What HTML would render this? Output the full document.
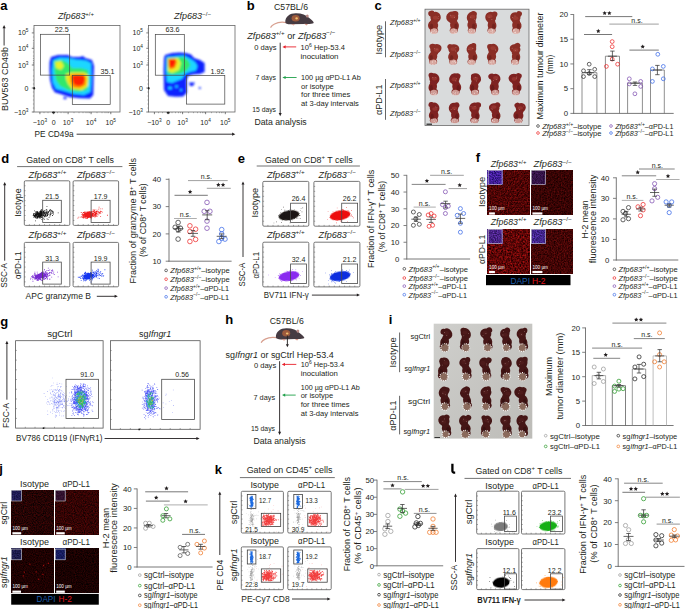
<!DOCTYPE html>
<html><head><meta charset="utf-8"><title>Figure</title>
<style>html,body{margin:0;padding:0;background:#fff;width:685px;height:609px;overflow:hidden}svg{display:block;font-family:"Liberation Sans",sans-serif}</style>
</head><body><svg width="685" height="609" viewBox="0 0 685 609" font-family="'Liberation Sans', sans-serif" fill="#231f20"><defs>
<filter id="blur1" x="-10%" y="-10%" width="120%" height="120%"><feGaussianBlur stdDeviation="1.1"/></filter>
<filter id="blur03" x="-20%" y="-20%" width="140%" height="140%"><feGaussianBlur stdDeviation="0.35"/></filter>
<filter id="blur05" x="-20%" y="-20%" width="140%" height="140%"><feGaussianBlur stdDeviation="0.6"/></filter>
<filter id="nzR1" x="0" y="0" width="100%" height="100%"><feTurbulence type="fractalNoise" baseFrequency="0.9" numOctaves="2" seed="3"/><feColorMatrix type="matrix" values="0 0 0 0 0.8  0 0 0 0 0.03  0 0 0 0 0.03  0 0 0 2.2 -0.95"/></filter>
<filter id="nzR2" x="0" y="0" width="100%" height="100%"><feTurbulence type="fractalNoise" baseFrequency="0.9" numOctaves="2" seed="7"/><feColorMatrix type="matrix" values="0 0 0 0 0.7  0 0 0 0 0.03  0 0 0 0 0.03  0 0 0 2.2 -1.05"/></filter>
<filter id="nzR3" x="0" y="0" width="100%" height="100%"><feTurbulence type="fractalNoise" baseFrequency="0.7" numOctaves="2" seed="11"/><feColorMatrix type="matrix" values="0 0 0 0 0.9  0 0 0 0 0.03  0 0 0 0 0.03  0 0 0 2.4 -0.95"/></filter>
<filter id="nzJ" x="0" y="0" width="100%" height="100%"><feTurbulence type="fractalNoise" baseFrequency="0.9" numOctaves="2" seed="5"/><feColorMatrix type="matrix" values="0 0 0 0 0.55  0 0 0 0 0.03  0 0 0 0 0.03  0 0 0 2.2 -1.1"/></filter>
<filter id="nzJ2" x="0" y="0" width="100%" height="100%"><feTurbulence type="fractalNoise" baseFrequency="0.9" numOctaves="2" seed="9"/><feColorMatrix type="matrix" values="0 0 0 0 0.6  0 0 0 0 0.03  0 0 0 0 0.03  0 0 0 2.2 -1.0"/></filter>
<filter id="nzB" x="0" y="0" width="100%" height="100%"><feTurbulence type="fractalNoise" baseFrequency="0.9" numOctaves="2" seed="2"/><feColorMatrix type="matrix" values="0 0 0 0 0.3  0 0 0 0 0.2  0 0 0 0 0.9  0 0 0 2 -1"/></filter>
<linearGradient id="gI" x1="0" y1="0" x2="1" y2="1"><stop offset="0" stop-color="#cfcfcc"/><stop offset="1" stop-color="#bdbcb8"/></linearGradient>
<filter id="mz0" x="0" y="0" width="100%" height="100%" color-interpolation-filters="sRGB"><feTurbulence type="fractalNoise" baseFrequency="0.7" numOctaves="2" seed="1"/><feColorMatrix type="matrix" values="0.73 0 0 0 -0.06  0.1 0 0 0 -0.03  0.1 0 0 0 -0.03  0 0 0 0 1"/></filter>
<filter id="mz1" x="0" y="0" width="100%" height="100%" color-interpolation-filters="sRGB"><feTurbulence type="fractalNoise" baseFrequency="0.9" numOctaves="2" seed="51"/><feColorMatrix type="matrix" values="0.6 0 0 0 -0.05  0.27 0 0 0 -0.02  0.86 0 0 0 0.16  0 0 0 0 1"/></filter>
<filter id="mz2" x="0" y="0" width="100%" height="100%" color-interpolation-filters="sRGB"><feTurbulence type="fractalNoise" baseFrequency="0.7" numOctaves="2" seed="2"/><feColorMatrix type="matrix" values="0.47 0 0 0 -0.02  0.07 0 0 0 -0.02  0.07 0 0 0 -0.02  0 0 0 0 1"/></filter>
<filter id="mz3" x="0" y="0" width="100%" height="100%" color-interpolation-filters="sRGB"><feTurbulence type="fractalNoise" baseFrequency="0.9" numOctaves="2" seed="52"/><feColorMatrix type="matrix" values="0.33 0 0 0 0.04  0.17 0 0 0 -0.01  0.4 0 0 0 0.08  0 0 0 0 1"/></filter>
<filter id="mz4" x="0" y="0" width="100%" height="100%" color-interpolation-filters="sRGB"><feTurbulence type="fractalNoise" baseFrequency="0.6" numOctaves="2" seed="3"/><feColorMatrix type="matrix" values="1 0 0 0 -0.13  0.13 0 0 0 -0.04  0.13 0 0 0 -0.04  0 0 0 0 1"/></filter>
<filter id="mz5" x="0" y="0" width="100%" height="100%" color-interpolation-filters="sRGB"><feTurbulence type="fractalNoise" baseFrequency="0.9" numOctaves="2" seed="53"/><feColorMatrix type="matrix" values="0.53 0 0 0 0.02  0.27 0 0 0 0  0.73 0 0 0 0.16  0 0 0 0 1"/></filter>
<filter id="mz6" x="0" y="0" width="100%" height="100%" color-interpolation-filters="sRGB"><feTurbulence type="fractalNoise" baseFrequency="0.7" numOctaves="2" seed="4"/><feColorMatrix type="matrix" values="0.56 0 0 0 -0.02  0.1 0 0 0 -0.03  0.1 0 0 0 -0.03  0 0 0 0 1"/></filter>
<filter id="mz7" x="0" y="0" width="100%" height="100%" color-interpolation-filters="sRGB"><feTurbulence type="fractalNoise" baseFrequency="0.9" numOctaves="2" seed="54"/><feColorMatrix type="matrix" values="0.47 0 0 0 0.02  0.27 0 0 0 0.01  0.73 0 0 0 0.18  0 0 0 0 1"/></filter>
<filter id="mz8" x="0" y="0" width="100%" height="100%" color-interpolation-filters="sRGB"><feTurbulence type="fractalNoise" baseFrequency="0.9" numOctaves="2" seed="5"/><feColorMatrix type="matrix" values="0.43 0 0 0 -0.07  0.03 0 0 0 0  0.03 0 0 0 0  0 0 0 0 1"/></filter>
<filter id="mz9" x="0" y="0" width="100%" height="100%" color-interpolation-filters="sRGB"><feTurbulence type="fractalNoise" baseFrequency="0.9" numOctaves="2" seed="55"/><feColorMatrix type="matrix" values="0.2 0 0 0 0.02  0.17 0 0 0 0.02  0.33 0 0 0 0.16  0 0 0 0 1"/></filter>
<filter id="mz10" x="0" y="0" width="100%" height="100%" color-interpolation-filters="sRGB"><feTurbulence type="fractalNoise" baseFrequency="0.9" numOctaves="2" seed="6"/><feColorMatrix type="matrix" values="0.5 0 0 0 -0.05  0.03 0 0 0 0  0.03 0 0 0 0  0 0 0 0 1"/></filter>
<filter id="mz11" x="0" y="0" width="100%" height="100%" color-interpolation-filters="sRGB"><feTurbulence type="fractalNoise" baseFrequency="0.9" numOctaves="2" seed="56"/><feColorMatrix type="matrix" values="0.2 0 0 0 0.09  0.13 0 0 0 0  0.2 0 0 0 0.08  0 0 0 0 1"/></filter>
<filter id="mz12" x="0" y="0" width="100%" height="100%" color-interpolation-filters="sRGB"><feTurbulence type="fractalNoise" baseFrequency="0.9" numOctaves="2" seed="7"/><feColorMatrix type="matrix" values="0.33 0 0 0 -0.05  0.03 0 0 0 -0.01  0.03 0 0 0 -0.01  0 0 0 0 1"/></filter>
<filter id="mz13" x="0" y="0" width="100%" height="100%" color-interpolation-filters="sRGB"><feTurbulence type="fractalNoise" baseFrequency="0.9" numOctaves="2" seed="57"/><feColorMatrix type="matrix" values="0.2 0 0 0 0.01  0.17 0 0 0 0.02  0.33 0 0 0 0.13  0 0 0 0 1"/></filter>
<filter id="mz14" x="0" y="0" width="100%" height="100%" color-interpolation-filters="sRGB"><feTurbulence type="fractalNoise" baseFrequency="0.9" numOctaves="2" seed="8"/><feColorMatrix type="matrix" values="0.3 0 0 0 -0.05  0.03 0 0 0 -0.01  0.03 0 0 0 -0.01  0 0 0 0 1"/></filter>
<filter id="mz15" x="0" y="0" width="100%" height="100%" color-interpolation-filters="sRGB"><feTurbulence type="fractalNoise" baseFrequency="0.9" numOctaves="2" seed="58"/><feColorMatrix type="matrix" values="0.2 0 0 0 -0.01  0.17 0 0 0 0.03  0.4 0 0 0 0.18  0 0 0 0 1"/></filter></defs><text x="0.3" y="10.2" font-size="13" font-weight="bold" fill="#000">a</text>
<text x="76" y="19.35" font-size="8.2" text-anchor="middle" textLength="36" lengthAdjust="spacingAndGlyphs"><tspan font-style="italic">Zfp683</tspan><tspan font-size="5.58" dy="-3.44">+/+</tspan></text>
<text x="192.5" y="19.35" font-size="8.2" text-anchor="middle" textLength="37" lengthAdjust="spacingAndGlyphs"><tspan font-style="italic">Zfp683</tspan><tspan font-size="5.58" dy="-3.44">−/−</tspan></text>
<g filter="url(#blur1)">
<path d="M51 57 L58 55 L68 55 L72 57 L80 57 L83 56 L85 58 L92 60 L94 66 L93.6 80 L93.3 95 L90 98.6 L80 98.3 L70 97.3 L62 94.5 L55 92.5 L52 88 L50 80 L49.5 70 L49.6 62 Z" fill="#0a22ff"/>
<ellipse cx="65" cy="98" rx="1.6" ry="1.2" fill="#0a22ff"/>
<path d="M53 60 L60 57.5 L68 58 L76 59.5 L86 60.5 L91 63 L91.5 78 L90.5 92 L84 95 L74 94 L64 91 L56 89 L52.5 82 L52 70 Z" fill="#1ad6ff"/>
<path d="M54 61 L62 60 L68 63 L72 68 L80 68 L88 70 L89 80 L87 90 L78 92 L68 90 L60 86 L56 80 L54.5 72 Z" fill="#33e86a"/>
<path d="M55 62 L61 61 L64 66 L61 70 L56 68 Z" fill="#e6f22a"/>
<path d="M66 74 L72 72.5 L84 72.5 L88 75 L88 86 L82 90 L72 89 L68 84 L66 79 Z" fill="#f0e81a"/>
<path d="M70 75 L76 74 L84 74.5 L86 78 L85.5 85 L80 88 L73 87.5 L70.5 82 Z" fill="#ff8a00"/>
<path d="M72 75.5 L78 75 L84.5 75.5 L85 80 L83 85 L78 86 L74 84.5 L72.5 80 Z" fill="#ff2400"/>
<path d="M165 55 Q175 51.5 186 53 L191 54.5 L194 58 L200 60 L204.6 63 L204.6 72 L200 74 L193 74.5 L188 76 L186.6 80 L186.8 93 L183 96.4 L176 96.8 L168 96 L164 90 L163.6 70 L164 58 Z" fill="#0a22ff"/>
<path d="M189 82.5 L195 82.5 L193 86 L190 86 Z" fill="#0a22ff"/>
<circle cx="199.8" cy="88" r="1.1" fill="#0a22ff"/>
<path d="M166.5 57 L184 55.5 L190 58.5 L195 62 L197.5 66 L196 70.5 L190 72 L185 74 L182 79 L178 80.5 L172 83 L167 82 L166 70 Z" fill="#1ad6ff"/>
<ellipse cx="170" cy="88" rx="2" ry="1.6" fill="#1ad6ff"/><ellipse cx="176.5" cy="86.5" rx="1.5" ry="1.3" fill="#1ad6ff"/><ellipse cx="181" cy="90" rx="1.2" ry="1" fill="#1ad6ff"/>
<path d="M167 58 L183 57 L188 60 L190.5 65 L187 70.5 L181 73.5 L174 74.5 L167.5 74 Z" fill="#33e86a"/>
<path d="M167.5 58.5 L178 58 L181 63 L179 70 L172 73 L168 71 Z" fill="#e6f22a"/>
<path d="M168.5 59 L175.5 58.8 L177 62 L175 68 L170 69.5 L168.6 66 Z" fill="#ff7a00"/>
<path d="M169.2 59.5 L175 59.6 L175.6 62 L173.8 66.5 L170 67.8 L169.3 64 Z" fill="#ff1a00"/>
</g>
<rect x="34" y="25.5" width="86" height="86.5" fill="none" stroke="#666" stroke-width="0.8"/>
<line x1="31.8" y1="32.9" x2="34" y2="32.9" stroke="#444" stroke-width="0.7"/>
<text x="28.5" y="35.42" font-size="7" text-anchor="end">10<tspan font-size="4.76" dy="-2.94">5</tspan></text>
<line x1="31.8" y1="48.3" x2="34" y2="48.3" stroke="#444" stroke-width="0.7"/>
<text x="28.5" y="50.82" font-size="7" text-anchor="end">10<tspan font-size="4.76" dy="-2.94">4</tspan></text>
<line x1="31.8" y1="65" x2="34" y2="65" stroke="#444" stroke-width="0.7"/>
<text x="28.5" y="67.52" font-size="7" text-anchor="end">10<tspan font-size="4.76" dy="-2.94">3</tspan></text>
<line x1="31.8" y1="88" x2="34" y2="88" stroke="#444" stroke-width="0.7"/>
<text x="28.5" y="90.52" font-size="7" text-anchor="end">0</text>
<line x1="31.8" y1="112" x2="34" y2="112" stroke="#444" stroke-width="0.7"/>
<text x="28.5" y="114.52" font-size="7" text-anchor="end">−10<tspan font-size="4.76" dy="-2.94">3</tspan></text>
<line x1="32.9" y1="29" x2="34" y2="29" stroke="#666" stroke-width="0.5"/>
<line x1="32.9" y1="31" x2="34" y2="31" stroke="#666" stroke-width="0.5"/>
<line x1="32.9" y1="37" x2="34" y2="37" stroke="#666" stroke-width="0.5"/>
<line x1="32.9" y1="40.5" x2="34" y2="40.5" stroke="#666" stroke-width="0.5"/>
<line x1="32.9" y1="43" x2="34" y2="43" stroke="#666" stroke-width="0.5"/>
<line x1="32.9" y1="45" x2="34" y2="45" stroke="#666" stroke-width="0.5"/>
<line x1="32.9" y1="46.8" x2="34" y2="46.8" stroke="#666" stroke-width="0.5"/>
<line x1="32.9" y1="52" x2="34" y2="52" stroke="#666" stroke-width="0.5"/>
<line x1="32.9" y1="56" x2="34" y2="56" stroke="#666" stroke-width="0.5"/>
<line x1="32.9" y1="58.5" x2="34" y2="58.5" stroke="#666" stroke-width="0.5"/>
<line x1="32.9" y1="60.5" x2="34" y2="60.5" stroke="#666" stroke-width="0.5"/>
<line x1="32.9" y1="62.5" x2="34" y2="62.5" stroke="#666" stroke-width="0.5"/>
<line x1="32.9" y1="63.8" x2="34" y2="63.8" stroke="#666" stroke-width="0.5"/>
<line x1="32.9" y1="70" x2="34" y2="70" stroke="#666" stroke-width="0.5"/>
<line x1="32.9" y1="76" x2="34" y2="76" stroke="#666" stroke-width="0.5"/>
<line x1="32.9" y1="80" x2="34" y2="80" stroke="#666" stroke-width="0.5"/>
<line x1="32.9" y1="84" x2="34" y2="84" stroke="#666" stroke-width="0.5"/>
<line x1="32.9" y1="92" x2="34" y2="92" stroke="#666" stroke-width="0.5"/>
<line x1="32.9" y1="96" x2="34" y2="96" stroke="#666" stroke-width="0.5"/>
<line x1="32.9" y1="100" x2="34" y2="100" stroke="#666" stroke-width="0.5"/>
<line x1="32.9" y1="104" x2="34" y2="104" stroke="#666" stroke-width="0.5"/>
<line x1="32.9" y1="108" x2="34" y2="108" stroke="#666" stroke-width="0.5"/>
<line x1="39.9" y1="112" x2="39.9" y2="114.2" stroke="#444" stroke-width="0.7"/>
<text x="39.9" y="124.52" font-size="7" text-anchor="middle">−10<tspan font-size="4.76" dy="-2.94">3</tspan></text>
<line x1="53.6" y1="112" x2="53.6" y2="114.2" stroke="#444" stroke-width="0.7"/>
<text x="53.6" y="124.52" font-size="7" text-anchor="middle">0</text>
<line x1="68.1" y1="112" x2="68.1" y2="114.2" stroke="#444" stroke-width="0.7"/>
<text x="68.1" y="124.52" font-size="7" text-anchor="middle">10<tspan font-size="4.76" dy="-2.94">3</tspan></text>
<line x1="91.1" y1="112" x2="91.1" y2="114.2" stroke="#444" stroke-width="0.7"/>
<text x="91.1" y="124.52" font-size="7" text-anchor="middle">10<tspan font-size="4.76" dy="-2.94">4</tspan></text>
<line x1="110.8" y1="112" x2="110.8" y2="114.2" stroke="#444" stroke-width="0.7"/>
<text x="110.8" y="124.52" font-size="7" text-anchor="middle">10<tspan font-size="4.76" dy="-2.94">5</tspan></text>
<line x1="44" y1="112" x2="44" y2="113.2" stroke="#666" stroke-width="0.5"/>
<line x1="48" y1="112" x2="48" y2="113.2" stroke="#666" stroke-width="0.5"/>
<line x1="57.5" y1="112" x2="57.5" y2="113.2" stroke="#666" stroke-width="0.5"/>
<line x1="61" y1="112" x2="61" y2="113.2" stroke="#666" stroke-width="0.5"/>
<line x1="64" y1="112" x2="64" y2="113.2" stroke="#666" stroke-width="0.5"/>
<line x1="66" y1="112" x2="66" y2="113.2" stroke="#666" stroke-width="0.5"/>
<line x1="74" y1="112" x2="74" y2="113.2" stroke="#666" stroke-width="0.5"/>
<line x1="79" y1="112" x2="79" y2="113.2" stroke="#666" stroke-width="0.5"/>
<line x1="83" y1="112" x2="83" y2="113.2" stroke="#666" stroke-width="0.5"/>
<line x1="86" y1="112" x2="86" y2="113.2" stroke="#666" stroke-width="0.5"/>
<line x1="88" y1="112" x2="88" y2="113.2" stroke="#666" stroke-width="0.5"/>
<line x1="89.6" y1="112" x2="89.6" y2="113.2" stroke="#666" stroke-width="0.5"/>
<line x1="97" y1="112" x2="97" y2="113.2" stroke="#666" stroke-width="0.5"/>
<line x1="102" y1="112" x2="102" y2="113.2" stroke="#666" stroke-width="0.5"/>
<line x1="105" y1="112" x2="105" y2="113.2" stroke="#666" stroke-width="0.5"/>
<line x1="107" y1="112" x2="107" y2="113.2" stroke="#666" stroke-width="0.5"/>
<line x1="108.5" y1="112" x2="108.5" y2="113.2" stroke="#666" stroke-width="0.5"/>
<rect x="148.5" y="25.5" width="86.5" height="86.5" fill="none" stroke="#666" stroke-width="0.8"/>
<line x1="146.3" y1="32.9" x2="148.5" y2="32.9" stroke="#444" stroke-width="0.7"/>
<text x="143" y="35.42" font-size="7" text-anchor="end">10<tspan font-size="4.76" dy="-2.94">5</tspan></text>
<line x1="146.3" y1="48.3" x2="148.5" y2="48.3" stroke="#444" stroke-width="0.7"/>
<text x="143" y="50.82" font-size="7" text-anchor="end">10<tspan font-size="4.76" dy="-2.94">4</tspan></text>
<line x1="146.3" y1="65" x2="148.5" y2="65" stroke="#444" stroke-width="0.7"/>
<text x="143" y="67.52" font-size="7" text-anchor="end">10<tspan font-size="4.76" dy="-2.94">3</tspan></text>
<line x1="146.3" y1="88" x2="148.5" y2="88" stroke="#444" stroke-width="0.7"/>
<text x="143" y="90.52" font-size="7" text-anchor="end">0</text>
<line x1="146.3" y1="112" x2="148.5" y2="112" stroke="#444" stroke-width="0.7"/>
<text x="143" y="114.52" font-size="7" text-anchor="end">−10<tspan font-size="4.76" dy="-2.94">3</tspan></text>
<line x1="147.4" y1="29" x2="148.5" y2="29" stroke="#666" stroke-width="0.5"/>
<line x1="147.4" y1="31" x2="148.5" y2="31" stroke="#666" stroke-width="0.5"/>
<line x1="147.4" y1="37" x2="148.5" y2="37" stroke="#666" stroke-width="0.5"/>
<line x1="147.4" y1="40.5" x2="148.5" y2="40.5" stroke="#666" stroke-width="0.5"/>
<line x1="147.4" y1="43" x2="148.5" y2="43" stroke="#666" stroke-width="0.5"/>
<line x1="147.4" y1="45" x2="148.5" y2="45" stroke="#666" stroke-width="0.5"/>
<line x1="147.4" y1="46.8" x2="148.5" y2="46.8" stroke="#666" stroke-width="0.5"/>
<line x1="147.4" y1="52" x2="148.5" y2="52" stroke="#666" stroke-width="0.5"/>
<line x1="147.4" y1="56" x2="148.5" y2="56" stroke="#666" stroke-width="0.5"/>
<line x1="147.4" y1="58.5" x2="148.5" y2="58.5" stroke="#666" stroke-width="0.5"/>
<line x1="147.4" y1="60.5" x2="148.5" y2="60.5" stroke="#666" stroke-width="0.5"/>
<line x1="147.4" y1="62.5" x2="148.5" y2="62.5" stroke="#666" stroke-width="0.5"/>
<line x1="147.4" y1="63.8" x2="148.5" y2="63.8" stroke="#666" stroke-width="0.5"/>
<line x1="147.4" y1="70" x2="148.5" y2="70" stroke="#666" stroke-width="0.5"/>
<line x1="147.4" y1="76" x2="148.5" y2="76" stroke="#666" stroke-width="0.5"/>
<line x1="147.4" y1="80" x2="148.5" y2="80" stroke="#666" stroke-width="0.5"/>
<line x1="147.4" y1="84" x2="148.5" y2="84" stroke="#666" stroke-width="0.5"/>
<line x1="147.4" y1="92" x2="148.5" y2="92" stroke="#666" stroke-width="0.5"/>
<line x1="147.4" y1="96" x2="148.5" y2="96" stroke="#666" stroke-width="0.5"/>
<line x1="147.4" y1="100" x2="148.5" y2="100" stroke="#666" stroke-width="0.5"/>
<line x1="147.4" y1="104" x2="148.5" y2="104" stroke="#666" stroke-width="0.5"/>
<line x1="147.4" y1="108" x2="148.5" y2="108" stroke="#666" stroke-width="0.5"/>
<line x1="154.4" y1="112" x2="154.4" y2="114.2" stroke="#444" stroke-width="0.7"/>
<text x="154.4" y="124.52" font-size="7" text-anchor="middle">−10<tspan font-size="4.76" dy="-2.94">3</tspan></text>
<line x1="168.1" y1="112" x2="168.1" y2="114.2" stroke="#444" stroke-width="0.7"/>
<text x="168.1" y="124.52" font-size="7" text-anchor="middle">0</text>
<line x1="182.6" y1="112" x2="182.6" y2="114.2" stroke="#444" stroke-width="0.7"/>
<text x="182.6" y="124.52" font-size="7" text-anchor="middle">10<tspan font-size="4.76" dy="-2.94">3</tspan></text>
<line x1="205.6" y1="112" x2="205.6" y2="114.2" stroke="#444" stroke-width="0.7"/>
<text x="205.6" y="124.52" font-size="7" text-anchor="middle">10<tspan font-size="4.76" dy="-2.94">4</tspan></text>
<line x1="225.3" y1="112" x2="225.3" y2="114.2" stroke="#444" stroke-width="0.7"/>
<text x="225.3" y="124.52" font-size="7" text-anchor="middle">10<tspan font-size="4.76" dy="-2.94">5</tspan></text>
<line x1="158.5" y1="112" x2="158.5" y2="113.2" stroke="#666" stroke-width="0.5"/>
<line x1="162.5" y1="112" x2="162.5" y2="113.2" stroke="#666" stroke-width="0.5"/>
<line x1="172" y1="112" x2="172" y2="113.2" stroke="#666" stroke-width="0.5"/>
<line x1="175.5" y1="112" x2="175.5" y2="113.2" stroke="#666" stroke-width="0.5"/>
<line x1="178.5" y1="112" x2="178.5" y2="113.2" stroke="#666" stroke-width="0.5"/>
<line x1="180.5" y1="112" x2="180.5" y2="113.2" stroke="#666" stroke-width="0.5"/>
<line x1="188.5" y1="112" x2="188.5" y2="113.2" stroke="#666" stroke-width="0.5"/>
<line x1="193.5" y1="112" x2="193.5" y2="113.2" stroke="#666" stroke-width="0.5"/>
<line x1="197.5" y1="112" x2="197.5" y2="113.2" stroke="#666" stroke-width="0.5"/>
<line x1="200.5" y1="112" x2="200.5" y2="113.2" stroke="#666" stroke-width="0.5"/>
<line x1="202.5" y1="112" x2="202.5" y2="113.2" stroke="#666" stroke-width="0.5"/>
<line x1="204.1" y1="112" x2="204.1" y2="113.2" stroke="#666" stroke-width="0.5"/>
<line x1="211.5" y1="112" x2="211.5" y2="113.2" stroke="#666" stroke-width="0.5"/>
<line x1="216.5" y1="112" x2="216.5" y2="113.2" stroke="#666" stroke-width="0.5"/>
<line x1="219.5" y1="112" x2="219.5" y2="113.2" stroke="#666" stroke-width="0.5"/>
<line x1="221.5" y1="112" x2="221.5" y2="113.2" stroke="#666" stroke-width="0.5"/>
<line x1="223" y1="112" x2="223" y2="113.2" stroke="#666" stroke-width="0.5"/>
<ellipse cx="53.5" cy="112.6" rx="1.6" ry="1" fill="#222"/>
<ellipse cx="168.2" cy="112.8" rx="1.6" ry="1" fill="#222"/>
<ellipse cx="34.2" cy="88.3" rx="0.9" ry="1.3" fill="#222"/>
<ellipse cx="148.7" cy="88.3" rx="0.9" ry="1.3" fill="#222"/>
<rect x="40.4" y="34.3" width="29.3" height="40.8" fill="none" stroke="#444" stroke-width="0.7"/>
<rect x="72.3" y="75.4" width="37.9" height="29" fill="none" stroke="#444" stroke-width="0.7"/>
<rect x="155.3" y="34.5" width="29" height="40.7" fill="none" stroke="#444" stroke-width="0.7"/>
<rect x="186.6" y="75.4" width="38.2" height="28.7" fill="none" stroke="#444" stroke-width="0.7"/>
<text x="61.7" y="32.49" font-size="7.2" text-anchor="middle">22.5</text>
<text x="107.5" y="74.19" font-size="7.2" text-anchor="middle">35.1</text>
<text x="172.6" y="32.49" font-size="7.2" text-anchor="middle">63.6</text>
<text x="217.5" y="73.89" font-size="7.2" text-anchor="middle">1.92</text>
<text transform="translate(7.84 79.1) rotate(-90)" font-size="9" text-anchor="middle" textLength="64" lengthAdjust="spacingAndGlyphs">BUV563 CD49b</text>
<line x1="4.1" y1="45.5" x2="4.1" y2="27.56" stroke="#231f20" stroke-width="0.9"/>
<path d="M4.1 25 L2.5 28.2 L5.7 28.2 Z" fill="#231f20"/>
<text x="34.6" y="137.02" font-size="8.4" textLength="39" lengthAdjust="spacingAndGlyphs">PE CD49a</text>
<line x1="76.6" y1="134.2" x2="232.74" y2="134.2" stroke="#231f20" stroke-width="0.9"/>
<path d="M235.3 134.2 L232.1 132.6 L232.1 135.8 Z" fill="#231f20"/>
<text x="246.8" y="9.8" font-size="13" font-weight="bold" fill="#000">b</text>
<text x="291" y="10.35" font-size="8.2" text-anchor="middle" textLength="34" lengthAdjust="spacingAndGlyphs">C57BL/6</text>
<g transform="translate(0 0)">
<path d="M286.5 22.6 C282 21.8 277.5 22.4 274.5 24 C272.5 25 271.2 26.2 270.8 27.2" fill="none" stroke="#d8a090" stroke-width="1.3" stroke-linecap="round"/>
<path d="M285.3 22.2 C285 16.5 290 13.1 296 13.2 C302 13.3 306 15 309 17.8 C311 19.3 313.4 21.3 313.8 22.9 C312 24 308.5 24.1 305 23.9 L291 24.3 C287.5 24.4 285.5 23.6 285.3 22.2 Z" fill="#463b42"/>
<ellipse cx="307.3" cy="16" rx="1.4" ry="1.6" fill="#b98a86"/>
<ellipse cx="295.6" cy="18.2" rx="4" ry="3.2" fill="#9c5a3c"/>
<ellipse cx="296.6" cy="18.4" rx="1.3" ry="1.1" fill="#f0c070"/>
<path d="M291 24 L293.5 25.6 L295 24.2 Z" fill="#d9998a"/>
<path d="M304 23.8 L306.5 25.4 L308 24 Z" fill="#d9998a"/>
</g>
<text x="247.3" y="38.81" font-size="9.2" textLength="88" lengthAdjust="spacingAndGlyphs"><tspan font-style="italic">Zfp683</tspan><tspan font-size="6.26" dy="-3.86">+/+</tspan><tspan dy="3.86"> or </tspan><tspan font-style="italic">Zfp683</tspan><tspan font-size="6.26" dy="-3.86">−/−</tspan></text>
<line x1="280.2" y1="42.7" x2="280.2" y2="113.74" stroke="#231f20" stroke-width="0.9"/>
<path d="M280.2 116.3 L278.7 113.1 L281.7 113.1 Z" fill="#231f20"/>
<text x="276.5" y="50.26" font-size="7.4" text-anchor="end" textLength="22.3" lengthAdjust="spacingAndGlyphs">0 days</text>
<line x1="296.2" y1="46.9" x2="284.96" y2="46.9" stroke="#e8202a" stroke-width="0.9"/>
<path d="M282.4 46.9 L285.6 45.3 L285.6 48.5 Z" fill="#e8202a"/>
<text x="300.5" y="49.96" font-size="7.4" textLength="44.5" lengthAdjust="spacingAndGlyphs">10<tspan font-size="5.03" dy="-3.11">6</tspan><tspan dy="3.11"> Hep-53.4</tspan></text>
<text x="300.5" y="58.96" font-size="7.4" textLength="38" lengthAdjust="spacingAndGlyphs">inoculation</text>
<text x="275.9" y="80.16" font-size="7.4" text-anchor="end" textLength="20.5" lengthAdjust="spacingAndGlyphs">7 days</text>
<line x1="296.6" y1="77.5" x2="284.96" y2="77.5" stroke="#1fa04a" stroke-width="0.9"/>
<path d="M282.4 77.5 L285.6 75.9 L285.6 79.1 Z" fill="#1fa04a"/>
<text x="301" y="80.16" font-size="7.4" textLength="59.7" lengthAdjust="spacingAndGlyphs">100 µg αPD-L1 Ab</text>
<text x="301" y="88.76" font-size="7.4" textLength="32.8" lengthAdjust="spacingAndGlyphs">or isotype</text>
<text x="301" y="97.36" font-size="7.4" textLength="49.3" lengthAdjust="spacingAndGlyphs">for three times</text>
<text x="301" y="105.96" font-size="7.4" textLength="57.9" lengthAdjust="spacingAndGlyphs">at 3-day intervals</text>
<text x="276" y="112.36" font-size="7.4" text-anchor="end" textLength="23.8" lengthAdjust="spacingAndGlyphs">15 days</text>
<text x="254.5" y="125.01" font-size="9.2" textLength="52.2" lengthAdjust="spacingAndGlyphs">Data analysis</text>
<text x="374.5" y="9.8" font-size="13" font-weight="bold" fill="#000">c</text>
<rect x="425" y="9.2" width="104" height="116.2" fill="#d9dbdc" stroke="#6a6a6a" stroke-width="0.8"/>
<g filter="url(#blur03)">
<ellipse cx="435.57" cy="17.24" rx="5.22" ry="5.4" fill="#8a2e28" transform="rotate(-16.23 435.57 17.24)"/>
<ellipse cx="431.47" cy="13.58" rx="3.24" ry="2.88" fill="#8a2e28" transform="rotate(-14.44 431.47 13.58)"/>
<ellipse cx="433.07" cy="25.4" rx="5.09" ry="5.28" fill="#8a2e28" transform="rotate(14.41 433.07 25.4)"/>
<ellipse cx="434.32" cy="21.32" rx="3.78" ry="2.4" fill="#8a2e28"/>
<ellipse cx="434.08" cy="30.44" rx="4.05" ry="3.12" fill="#8a2e28"/>
</g>
<ellipse cx="434.08" cy="31.16" rx="3.65" ry="2.88" fill="#f2d0c8" opacity="0.75" filter="url(#blur05)"/>
<circle cx="433.94" cy="31.76" r="0.4" fill="#fff6f4" opacity="0.9"/>
<circle cx="432" cy="31.74" r="0.4" fill="#fff6f4" opacity="0.9"/>
<circle cx="436.26" cy="31.26" r="0.4" fill="#fff6f4" opacity="0.9"/>
<circle cx="435.51" cy="31.9" r="0.4" fill="#fff6f4" opacity="0.9"/>
<circle cx="431.49" cy="32.28" r="0.4" fill="#fff6f4" opacity="0.9"/>
<circle cx="434.62" cy="30.3" r="0.4" fill="#fff6f4" opacity="0.9"/>
<circle cx="431.29" cy="32.74" r="0.4" fill="#fff6f4" opacity="0.9"/>
<ellipse cx="435.51" cy="17.77" rx="2.7" ry="1.92" fill="#b04a40" opacity="0.45" filter="url(#blur05)"/>
<ellipse cx="431.57" cy="26.4" rx="1.62" ry="2.88" fill="#5e1a18" opacity="0.5" filter="url(#blur05)"/>
<circle cx="438.13" cy="18.27" r="0.35" fill="#f0d8d0" opacity="0.8"/>
<circle cx="438.41" cy="16.74" r="0.35" fill="#f0d8d0" opacity="0.8"/>
<g filter="url(#blur03)">
<ellipse cx="452.21" cy="17.24" rx="6.01" ry="5.73" fill="#8a2e28" transform="rotate(7.92 452.21 17.24)"/>
<ellipse cx="455.05" cy="13.91" rx="3.34" ry="2.88" fill="#8a2e28" transform="rotate(-3.83 455.05 13.91)"/>
<ellipse cx="454.5" cy="25.4" rx="4.39" ry="5.28" fill="#8a2e28" transform="rotate(-14.86 454.5 25.4)"/>
<ellipse cx="453.36" cy="21.32" rx="3.78" ry="2.4" fill="#8a2e28"/>
<ellipse cx="453.77" cy="30.44" rx="4.05" ry="3.12" fill="#8a2e28"/>
</g>
<ellipse cx="453.77" cy="31.16" rx="3.65" ry="2.88" fill="#f2d0c8" opacity="0.75" filter="url(#blur05)"/>
<circle cx="452.88" cy="31.53" r="0.4" fill="#fff6f4" opacity="0.9"/>
<circle cx="454.27" cy="32.91" r="0.4" fill="#fff6f4" opacity="0.9"/>
<circle cx="454.85" cy="33.01" r="0.4" fill="#fff6f4" opacity="0.9"/>
<circle cx="455.88" cy="33.28" r="0.4" fill="#fff6f4" opacity="0.9"/>
<circle cx="454.78" cy="29.7" r="0.4" fill="#fff6f4" opacity="0.9"/>
<circle cx="455.91" cy="33.17" r="0.4" fill="#fff6f4" opacity="0.9"/>
<circle cx="456.17" cy="31.46" r="0.4" fill="#fff6f4" opacity="0.9"/>
<ellipse cx="452.72" cy="16.55" rx="2.7" ry="1.92" fill="#b04a40" opacity="0.45" filter="url(#blur05)"/>
<ellipse cx="456" cy="26.4" rx="1.62" ry="2.88" fill="#5e1a18" opacity="0.5" filter="url(#blur05)"/>
<circle cx="454.45" cy="17.59" r="0.35" fill="#f0d8d0" opacity="0.8"/>
<circle cx="450.76" cy="15.14" r="0.35" fill="#f0d8d0" opacity="0.8"/>
<g filter="url(#blur03)">
<ellipse cx="471.68" cy="17.24" rx="4.82" ry="5.64" fill="#8a2e28" transform="rotate(17.31 471.68 17.24)"/>
<ellipse cx="473.67" cy="14.03" rx="3.19" ry="2.88" fill="#8a2e28" transform="rotate(22.37 473.67 14.03)"/>
<ellipse cx="472.17" cy="25.4" rx="4.7" ry="5.28" fill="#8a2e28" transform="rotate(-24.1 472.17 25.4)"/>
<ellipse cx="471.93" cy="21.32" rx="3.78" ry="2.4" fill="#8a2e28"/>
<ellipse cx="471.83" cy="30.44" rx="4.05" ry="3.12" fill="#8a2e28"/>
</g>
<ellipse cx="471.83" cy="31.16" rx="3.65" ry="2.88" fill="#f2d0c8" opacity="0.75" filter="url(#blur05)"/>
<circle cx="470.83" cy="32.81" r="0.4" fill="#fff6f4" opacity="0.9"/>
<circle cx="474.69" cy="31.18" r="0.4" fill="#fff6f4" opacity="0.9"/>
<circle cx="474.79" cy="30.34" r="0.4" fill="#fff6f4" opacity="0.9"/>
<circle cx="469.32" cy="31.59" r="0.4" fill="#fff6f4" opacity="0.9"/>
<circle cx="469.05" cy="29.85" r="0.4" fill="#fff6f4" opacity="0.9"/>
<circle cx="471.29" cy="31.64" r="0.4" fill="#fff6f4" opacity="0.9"/>
<circle cx="469.79" cy="29.18" r="0.4" fill="#fff6f4" opacity="0.9"/>
<ellipse cx="472.57" cy="16.79" rx="2.7" ry="1.92" fill="#b04a40" opacity="0.45" filter="url(#blur05)"/>
<ellipse cx="473.67" cy="26.4" rx="1.62" ry="2.88" fill="#5e1a18" opacity="0.5" filter="url(#blur05)"/>
<circle cx="474.78" cy="19.14" r="0.35" fill="#f0d8d0" opacity="0.8"/>
<circle cx="470.86" cy="17.05" r="0.35" fill="#f0d8d0" opacity="0.8"/>
<g filter="url(#blur03)">
<ellipse cx="490.73" cy="17.24" rx="5.53" ry="5.35" fill="#8a2e28" transform="rotate(23.6 490.73 17.24)"/>
<ellipse cx="494.53" cy="14.37" rx="2.91" ry="2.88" fill="#8a2e28" transform="rotate(13.22 494.53 14.37)"/>
<ellipse cx="492.08" cy="25.4" rx="4.39" ry="5.28" fill="#8a2e28" transform="rotate(-5.44 492.08 25.4)"/>
<ellipse cx="491.41" cy="21.32" rx="3.78" ry="2.4" fill="#8a2e28"/>
<ellipse cx="491.51" cy="30.44" rx="4.05" ry="3.12" fill="#8a2e28"/>
</g>
<ellipse cx="491.51" cy="31.16" rx="3.65" ry="2.88" fill="#f2d0c8" opacity="0.75" filter="url(#blur05)"/>
<circle cx="491.79" cy="29.05" r="0.4" fill="#fff6f4" opacity="0.9"/>
<circle cx="491" cy="31.51" r="0.4" fill="#fff6f4" opacity="0.9"/>
<circle cx="488.65" cy="31.66" r="0.4" fill="#fff6f4" opacity="0.9"/>
<circle cx="492.29" cy="29.26" r="0.4" fill="#fff6f4" opacity="0.9"/>
<circle cx="492.26" cy="31.01" r="0.4" fill="#fff6f4" opacity="0.9"/>
<circle cx="492.57" cy="30.52" r="0.4" fill="#fff6f4" opacity="0.9"/>
<circle cx="492.73" cy="32.19" r="0.4" fill="#fff6f4" opacity="0.9"/>
<ellipse cx="489.58" cy="16.19" rx="2.7" ry="1.92" fill="#b04a40" opacity="0.45" filter="url(#blur05)"/>
<ellipse cx="493.58" cy="26.4" rx="1.62" ry="2.88" fill="#5e1a18" opacity="0.5" filter="url(#blur05)"/>
<circle cx="491.92" cy="19.46" r="0.35" fill="#f0d8d0" opacity="0.8"/>
<circle cx="489.05" cy="17.03" r="0.35" fill="#f0d8d0" opacity="0.8"/>
<g filter="url(#blur03)">
<ellipse cx="515.31" cy="17.24" rx="5.21" ry="5.06" fill="#8a2e28" transform="rotate(16.07 515.31 17.24)"/>
<ellipse cx="519.08" cy="14.04" rx="2.87" ry="2.88" fill="#8a2e28" transform="rotate(16.34 519.08 14.04)"/>
<ellipse cx="516.84" cy="25.4" rx="4.66" ry="5.28" fill="#8a2e28" transform="rotate(-10.3 516.84 25.4)"/>
<ellipse cx="516.08" cy="21.32" rx="3.78" ry="2.4" fill="#8a2e28"/>
<ellipse cx="516.02" cy="30.44" rx="4.05" ry="3.12" fill="#8a2e28"/>
</g>
<ellipse cx="516.02" cy="31.16" rx="3.65" ry="2.88" fill="#f2d0c8" opacity="0.75" filter="url(#blur05)"/>
<circle cx="514.37" cy="32.47" r="0.4" fill="#fff6f4" opacity="0.9"/>
<circle cx="514.46" cy="29.81" r="0.4" fill="#fff6f4" opacity="0.9"/>
<circle cx="515.63" cy="32.02" r="0.4" fill="#fff6f4" opacity="0.9"/>
<circle cx="513.65" cy="30.39" r="0.4" fill="#fff6f4" opacity="0.9"/>
<circle cx="515.03" cy="32.6" r="0.4" fill="#fff6f4" opacity="0.9"/>
<circle cx="515.65" cy="32.7" r="0.4" fill="#fff6f4" opacity="0.9"/>
<circle cx="514.05" cy="30.45" r="0.4" fill="#fff6f4" opacity="0.9"/>
<ellipse cx="515.67" cy="18.16" rx="2.7" ry="1.92" fill="#b04a40" opacity="0.45" filter="url(#blur05)"/>
<ellipse cx="518.34" cy="26.4" rx="1.62" ry="2.88" fill="#5e1a18" opacity="0.5" filter="url(#blur05)"/>
<circle cx="514.98" cy="15.92" r="0.35" fill="#f0d8d0" opacity="0.8"/>
<circle cx="512.75" cy="17.38" r="0.35" fill="#f0d8d0" opacity="0.8"/>
<g filter="url(#blur03)">
<ellipse cx="435.89" cy="48.98" rx="5.87" ry="4.68" fill="#8a2e28" transform="rotate(-26.64 435.89 48.98)"/>
<ellipse cx="432.56" cy="46.45" rx="3.22" ry="2.76" fill="#8a2e28" transform="rotate(-9.28 432.56 46.45)"/>
<ellipse cx="432.81" cy="56.8" rx="4.38" ry="5.06" fill="#8a2e28" transform="rotate(20.88 432.81 56.8)"/>
<ellipse cx="434.35" cy="52.89" rx="3.78" ry="2.3" fill="#8a2e28"/>
<ellipse cx="433.13" cy="61.63" rx="4.05" ry="2.99" fill="#8a2e28"/>
</g>
<ellipse cx="433.13" cy="62.32" rx="3.65" ry="2.76" fill="#f2d0c8" opacity="0.75" filter="url(#blur05)"/>
<circle cx="432.22" cy="61.98" r="0.4" fill="#fff6f4" opacity="0.9"/>
<circle cx="432.66" cy="61.95" r="0.4" fill="#fff6f4" opacity="0.9"/>
<circle cx="435.63" cy="60.9" r="0.4" fill="#fff6f4" opacity="0.9"/>
<circle cx="430.19" cy="64.16" r="0.4" fill="#fff6f4" opacity="0.9"/>
<circle cx="435.39" cy="64.34" r="0.4" fill="#fff6f4" opacity="0.9"/>
<circle cx="432.74" cy="64.18" r="0.4" fill="#fff6f4" opacity="0.9"/>
<circle cx="435.67" cy="61.17" r="0.4" fill="#fff6f4" opacity="0.9"/>
<ellipse cx="436.48" cy="49.79" rx="2.7" ry="1.84" fill="#b04a40" opacity="0.45" filter="url(#blur05)"/>
<ellipse cx="431.31" cy="57.8" rx="1.62" ry="2.76" fill="#5e1a18" opacity="0.5" filter="url(#blur05)"/>
<circle cx="436.99" cy="49.07" r="0.35" fill="#f0d8d0" opacity="0.8"/>
<circle cx="434.47" cy="48.25" r="0.35" fill="#f0d8d0" opacity="0.8"/>
<g filter="url(#blur03)">
<ellipse cx="453.81" cy="48.98" rx="5.52" ry="4.8" fill="#8a2e28" transform="rotate(-10.69 453.81 48.98)"/>
<ellipse cx="450.44" cy="46.87" rx="3.12" ry="2.76" fill="#8a2e28" transform="rotate(25.43 450.44 46.87)"/>
<ellipse cx="453.13" cy="56.8" rx="4.99" ry="5.06" fill="#8a2e28" transform="rotate(16.54 453.13 56.8)"/>
<ellipse cx="453.47" cy="52.89" rx="3.78" ry="2.3" fill="#8a2e28"/>
<ellipse cx="453.15" cy="61.63" rx="4.05" ry="2.99" fill="#8a2e28"/>
</g>
<ellipse cx="453.15" cy="62.32" rx="3.65" ry="2.76" fill="#f2d0c8" opacity="0.75" filter="url(#blur05)"/>
<circle cx="454.61" cy="60.96" r="0.4" fill="#fff6f4" opacity="0.9"/>
<circle cx="451.96" cy="62.99" r="0.4" fill="#fff6f4" opacity="0.9"/>
<circle cx="453.3" cy="61.96" r="0.4" fill="#fff6f4" opacity="0.9"/>
<circle cx="455.76" cy="62.78" r="0.4" fill="#fff6f4" opacity="0.9"/>
<circle cx="452.21" cy="61.3" r="0.4" fill="#fff6f4" opacity="0.9"/>
<circle cx="455.3" cy="62.23" r="0.4" fill="#fff6f4" opacity="0.9"/>
<circle cx="454.83" cy="61.71" r="0.4" fill="#fff6f4" opacity="0.9"/>
<ellipse cx="453.08" cy="49.06" rx="2.7" ry="1.84" fill="#b04a40" opacity="0.45" filter="url(#blur05)"/>
<ellipse cx="451.63" cy="57.8" rx="1.62" ry="2.76" fill="#5e1a18" opacity="0.5" filter="url(#blur05)"/>
<circle cx="455.95" cy="47.47" r="0.35" fill="#f0d8d0" opacity="0.8"/>
<circle cx="455.78" cy="50.92" r="0.35" fill="#f0d8d0" opacity="0.8"/>
<g filter="url(#blur03)">
<ellipse cx="471.42" cy="48.98" rx="4.71" ry="5.21" fill="#8a2e28" transform="rotate(30.88 471.42 48.98)"/>
<ellipse cx="473.51" cy="45.85" rx="2.78" ry="2.76" fill="#8a2e28" transform="rotate(1.64 473.51 45.85)"/>
<ellipse cx="472.78" cy="56.8" rx="4.56" ry="5.06" fill="#8a2e28" transform="rotate(-9.47 472.78 56.8)"/>
<ellipse cx="472.1" cy="52.89" rx="3.78" ry="2.3" fill="#8a2e28"/>
<ellipse cx="471.58" cy="61.63" rx="4.05" ry="2.99" fill="#8a2e28"/>
</g>
<ellipse cx="471.58" cy="62.32" rx="3.65" ry="2.76" fill="#f2d0c8" opacity="0.75" filter="url(#blur05)"/>
<circle cx="468.93" cy="60.78" r="0.4" fill="#fff6f4" opacity="0.9"/>
<circle cx="469.35" cy="60.53" r="0.4" fill="#fff6f4" opacity="0.9"/>
<circle cx="474.4" cy="63.79" r="0.4" fill="#fff6f4" opacity="0.9"/>
<circle cx="469.12" cy="62.33" r="0.4" fill="#fff6f4" opacity="0.9"/>
<circle cx="470.49" cy="61.55" r="0.4" fill="#fff6f4" opacity="0.9"/>
<circle cx="470.7" cy="62.93" r="0.4" fill="#fff6f4" opacity="0.9"/>
<circle cx="472.09" cy="61.74" r="0.4" fill="#fff6f4" opacity="0.9"/>
<ellipse cx="470.68" cy="48.57" rx="2.7" ry="1.84" fill="#b04a40" opacity="0.45" filter="url(#blur05)"/>
<ellipse cx="474.28" cy="57.8" rx="1.62" ry="2.76" fill="#5e1a18" opacity="0.5" filter="url(#blur05)"/>
<circle cx="468.88" cy="49.24" r="0.35" fill="#f0d8d0" opacity="0.8"/>
<circle cx="472.88" cy="48.43" r="0.35" fill="#f0d8d0" opacity="0.8"/>
<g filter="url(#blur03)">
<ellipse cx="493.19" cy="48.98" rx="5.22" ry="5.19" fill="#8a2e28" transform="rotate(-11.52 493.19 48.98)"/>
<ellipse cx="490.18" cy="46.7" rx="3.07" ry="2.76" fill="#8a2e28" transform="rotate(-4.1 490.18 46.7)"/>
<ellipse cx="491.5" cy="56.8" rx="4.59" ry="5.06" fill="#8a2e28" transform="rotate(19.06 491.5 56.8)"/>
<ellipse cx="492.34" cy="52.89" rx="3.78" ry="2.3" fill="#8a2e28"/>
<ellipse cx="492" cy="61.63" rx="4.05" ry="2.99" fill="#8a2e28"/>
</g>
<ellipse cx="492" cy="62.32" rx="3.65" ry="2.76" fill="#f2d0c8" opacity="0.75" filter="url(#blur05)"/>
<circle cx="493.15" cy="62.16" r="0.4" fill="#fff6f4" opacity="0.9"/>
<circle cx="490.49" cy="62.47" r="0.4" fill="#fff6f4" opacity="0.9"/>
<circle cx="493.16" cy="60.55" r="0.4" fill="#fff6f4" opacity="0.9"/>
<circle cx="491.55" cy="62.01" r="0.4" fill="#fff6f4" opacity="0.9"/>
<circle cx="494.26" cy="64.13" r="0.4" fill="#fff6f4" opacity="0.9"/>
<circle cx="491.25" cy="63.97" r="0.4" fill="#fff6f4" opacity="0.9"/>
<circle cx="493.73" cy="61.34" r="0.4" fill="#fff6f4" opacity="0.9"/>
<ellipse cx="493.1" cy="48.08" rx="2.7" ry="1.84" fill="#b04a40" opacity="0.45" filter="url(#blur05)"/>
<ellipse cx="490" cy="57.8" rx="1.62" ry="2.76" fill="#5e1a18" opacity="0.5" filter="url(#blur05)"/>
<circle cx="495.3" cy="49.73" r="0.35" fill="#f0d8d0" opacity="0.8"/>
<circle cx="495.8" cy="50.33" r="0.35" fill="#f0d8d0" opacity="0.8"/>
<g filter="url(#blur03)">
<ellipse cx="515.07" cy="48.98" rx="5.49" ry="4.58" fill="#8a2e28" transform="rotate(22.63 515.07 48.98)"/>
<ellipse cx="517.24" cy="45.65" rx="3.19" ry="2.76" fill="#8a2e28" transform="rotate(-27.34 517.24 45.65)"/>
<ellipse cx="516.05" cy="56.8" rx="4.19" ry="5.06" fill="#8a2e28" transform="rotate(-7.39 516.05 56.8)"/>
<ellipse cx="515.56" cy="52.89" rx="3.78" ry="2.3" fill="#8a2e28"/>
<ellipse cx="515.06" cy="61.63" rx="4.05" ry="2.99" fill="#8a2e28"/>
</g>
<ellipse cx="515.06" cy="62.32" rx="3.65" ry="2.76" fill="#f2d0c8" opacity="0.75" filter="url(#blur05)"/>
<circle cx="512.23" cy="63.73" r="0.4" fill="#fff6f4" opacity="0.9"/>
<circle cx="512.81" cy="63.74" r="0.4" fill="#fff6f4" opacity="0.9"/>
<circle cx="516.09" cy="63.71" r="0.4" fill="#fff6f4" opacity="0.9"/>
<circle cx="517.75" cy="62.65" r="0.4" fill="#fff6f4" opacity="0.9"/>
<circle cx="516.84" cy="60.4" r="0.4" fill="#fff6f4" opacity="0.9"/>
<circle cx="516.65" cy="62.37" r="0.4" fill="#fff6f4" opacity="0.9"/>
<circle cx="516.34" cy="60.69" r="0.4" fill="#fff6f4" opacity="0.9"/>
<ellipse cx="515.67" cy="50.02" rx="2.7" ry="1.84" fill="#b04a40" opacity="0.45" filter="url(#blur05)"/>
<ellipse cx="517.55" cy="57.8" rx="1.62" ry="2.76" fill="#5e1a18" opacity="0.5" filter="url(#blur05)"/>
<circle cx="512.11" cy="48.17" r="0.35" fill="#f0d8d0" opacity="0.8"/>
<circle cx="515.51" cy="50.49" r="0.35" fill="#f0d8d0" opacity="0.8"/>
<g filter="url(#blur03)">
<ellipse cx="434.39" cy="78.74" rx="5.05" ry="5.42" fill="#7e2420" transform="rotate(-12.39 434.39 78.74)"/>
<ellipse cx="431.4" cy="75.65" rx="2.89" ry="2.88" fill="#7e2420" transform="rotate(-8.98 431.4 75.65)"/>
<ellipse cx="432.77" cy="86.9" rx="4.17" ry="5.28" fill="#7e2420" transform="rotate(15.01 432.77 86.9)"/>
<ellipse cx="433.58" cy="82.82" rx="3.78" ry="2.4" fill="#7e2420"/>
<ellipse cx="433.94" cy="91.94" rx="4.05" ry="3.12" fill="#7e2420"/>
</g>
<ellipse cx="433.94" cy="92.66" rx="3.65" ry="2.88" fill="#e8c0b8" opacity="0.75" filter="url(#blur05)"/>
<circle cx="433.42" cy="93.73" r="0.4" fill="#fff6f4" opacity="0.9"/>
<circle cx="431.92" cy="93.48" r="0.4" fill="#fff6f4" opacity="0.9"/>
<circle cx="435.46" cy="93.41" r="0.4" fill="#fff6f4" opacity="0.9"/>
<circle cx="434.04" cy="92.59" r="0.4" fill="#fff6f4" opacity="0.9"/>
<circle cx="434.79" cy="94.38" r="0.4" fill="#fff6f4" opacity="0.9"/>
<circle cx="431.85" cy="90.91" r="0.4" fill="#fff6f4" opacity="0.9"/>
<circle cx="435.41" cy="94.46" r="0.4" fill="#fff6f4" opacity="0.9"/>
<ellipse cx="434.43" cy="78.6" rx="2.7" ry="1.92" fill="#b04a40" opacity="0.45" filter="url(#blur05)"/>
<ellipse cx="431.27" cy="87.9" rx="1.62" ry="2.88" fill="#561414" opacity="0.5" filter="url(#blur05)"/>
<circle cx="435.87" cy="77.23" r="0.35" fill="#f0d8d0" opacity="0.8"/>
<circle cx="432.82" cy="77.3" r="0.35" fill="#f0d8d0" opacity="0.8"/>
<g filter="url(#blur03)">
<ellipse cx="454.3" cy="78.74" rx="5.03" ry="5.51" fill="#7e2420" transform="rotate(33.6 454.3 78.74)"/>
<ellipse cx="457.6" cy="76.19" rx="2.9" ry="2.88" fill="#7e2420" transform="rotate(21.22 457.6 76.19)"/>
<ellipse cx="456.74" cy="86.9" rx="4.36" ry="5.28" fill="#7e2420" transform="rotate(-20.65 456.74 86.9)"/>
<ellipse cx="455.52" cy="82.82" rx="3.78" ry="2.4" fill="#7e2420"/>
<ellipse cx="455.56" cy="91.94" rx="4.05" ry="3.12" fill="#7e2420"/>
</g>
<ellipse cx="455.56" cy="92.66" rx="3.65" ry="2.88" fill="#e8c0b8" opacity="0.75" filter="url(#blur05)"/>
<circle cx="455.44" cy="92.15" r="0.4" fill="#fff6f4" opacity="0.9"/>
<circle cx="453.62" cy="92.06" r="0.4" fill="#fff6f4" opacity="0.9"/>
<circle cx="454.51" cy="93.84" r="0.4" fill="#fff6f4" opacity="0.9"/>
<circle cx="453.45" cy="94.78" r="0.4" fill="#fff6f4" opacity="0.9"/>
<circle cx="455.44" cy="93.09" r="0.4" fill="#fff6f4" opacity="0.9"/>
<circle cx="455.37" cy="94.11" r="0.4" fill="#fff6f4" opacity="0.9"/>
<circle cx="457.47" cy="92.91" r="0.4" fill="#fff6f4" opacity="0.9"/>
<ellipse cx="454.26" cy="79.27" rx="2.7" ry="1.92" fill="#b04a40" opacity="0.45" filter="url(#blur05)"/>
<ellipse cx="458.24" cy="87.9" rx="1.62" ry="2.88" fill="#561414" opacity="0.5" filter="url(#blur05)"/>
<circle cx="456.71" cy="78.26" r="0.35" fill="#f0d8d0" opacity="0.8"/>
<circle cx="455.88" cy="80.95" r="0.35" fill="#f0d8d0" opacity="0.8"/>
<g filter="url(#blur03)">
<ellipse cx="475.97" cy="78.74" rx="5.03" ry="5.54" fill="#7e2420" transform="rotate(-14.74 475.97 78.74)"/>
<ellipse cx="473.8" cy="76.43" rx="2.76" ry="2.88" fill="#7e2420" transform="rotate(-18.62 473.8 76.43)"/>
<ellipse cx="474.01" cy="86.9" rx="4.28" ry="5.28" fill="#7e2420" transform="rotate(19.09 474.01 86.9)"/>
<ellipse cx="474.99" cy="82.82" rx="3.78" ry="2.4" fill="#7e2420"/>
<ellipse cx="475.04" cy="91.94" rx="4.05" ry="3.12" fill="#7e2420"/>
</g>
<ellipse cx="475.04" cy="92.66" rx="3.65" ry="2.88" fill="#e8c0b8" opacity="0.75" filter="url(#blur05)"/>
<circle cx="477.42" cy="91.6" r="0.4" fill="#fff6f4" opacity="0.9"/>
<circle cx="477.21" cy="91.85" r="0.4" fill="#fff6f4" opacity="0.9"/>
<circle cx="474.59" cy="93.65" r="0.4" fill="#fff6f4" opacity="0.9"/>
<circle cx="472.58" cy="90.9" r="0.4" fill="#fff6f4" opacity="0.9"/>
<circle cx="477.03" cy="91.76" r="0.4" fill="#fff6f4" opacity="0.9"/>
<circle cx="474.19" cy="93.01" r="0.4" fill="#fff6f4" opacity="0.9"/>
<circle cx="476.09" cy="90.53" r="0.4" fill="#fff6f4" opacity="0.9"/>
<ellipse cx="475.57" cy="78.59" rx="2.7" ry="1.92" fill="#b04a40" opacity="0.45" filter="url(#blur05)"/>
<ellipse cx="472.51" cy="87.9" rx="1.62" ry="2.88" fill="#561414" opacity="0.5" filter="url(#blur05)"/>
<circle cx="475.87" cy="77.35" r="0.35" fill="#f0d8d0" opacity="0.8"/>
<circle cx="476.54" cy="80.93" r="0.35" fill="#f0d8d0" opacity="0.8"/>
<g filter="url(#blur03)">
<ellipse cx="495.57" cy="78.74" rx="4.87" ry="5.01" fill="#7e2420" transform="rotate(-15.04 495.57 78.74)"/>
<ellipse cx="491.55" cy="76.48" rx="3.3" ry="2.88" fill="#7e2420" transform="rotate(-24.19 491.55 76.48)"/>
<ellipse cx="494.21" cy="86.9" rx="4.46" ry="5.28" fill="#7e2420" transform="rotate(20.45 494.21 86.9)"/>
<ellipse cx="494.89" cy="82.82" rx="3.78" ry="2.4" fill="#7e2420"/>
<ellipse cx="495.11" cy="91.94" rx="4.05" ry="3.12" fill="#7e2420"/>
</g>
<ellipse cx="495.11" cy="92.66" rx="3.65" ry="2.88" fill="#e8c0b8" opacity="0.75" filter="url(#blur05)"/>
<circle cx="493.9" cy="93.42" r="0.4" fill="#fff6f4" opacity="0.9"/>
<circle cx="496.03" cy="93.98" r="0.4" fill="#fff6f4" opacity="0.9"/>
<circle cx="493.72" cy="93.76" r="0.4" fill="#fff6f4" opacity="0.9"/>
<circle cx="497.86" cy="93.41" r="0.4" fill="#fff6f4" opacity="0.9"/>
<circle cx="495.33" cy="90.99" r="0.4" fill="#fff6f4" opacity="0.9"/>
<circle cx="495.08" cy="92.02" r="0.4" fill="#fff6f4" opacity="0.9"/>
<circle cx="496.41" cy="93.43" r="0.4" fill="#fff6f4" opacity="0.9"/>
<ellipse cx="495.73" cy="77.98" rx="2.7" ry="1.92" fill="#b04a40" opacity="0.45" filter="url(#blur05)"/>
<ellipse cx="492.71" cy="87.9" rx="1.62" ry="2.88" fill="#561414" opacity="0.5" filter="url(#blur05)"/>
<circle cx="496.55" cy="79.37" r="0.35" fill="#f0d8d0" opacity="0.8"/>
<circle cx="493.4" cy="80.61" r="0.35" fill="#f0d8d0" opacity="0.8"/>
<g filter="url(#blur03)">
<ellipse cx="514.5" cy="78.74" rx="6" ry="4.85" fill="#7e2420" transform="rotate(14.95 514.5 78.74)"/>
<ellipse cx="518.78" cy="76.02" rx="3.01" ry="2.88" fill="#7e2420" transform="rotate(8.85 518.78 76.02)"/>
<ellipse cx="517.03" cy="86.9" rx="4.4" ry="5.28" fill="#7e2420" transform="rotate(-21.47 517.03 86.9)"/>
<ellipse cx="515.76" cy="82.82" rx="3.78" ry="2.4" fill="#7e2420"/>
<ellipse cx="515.91" cy="91.94" rx="4.05" ry="3.12" fill="#7e2420"/>
</g>
<ellipse cx="515.91" cy="92.66" rx="3.65" ry="2.88" fill="#e8c0b8" opacity="0.75" filter="url(#blur05)"/>
<circle cx="517.2" cy="93.76" r="0.4" fill="#fff6f4" opacity="0.9"/>
<circle cx="516.17" cy="93.7" r="0.4" fill="#fff6f4" opacity="0.9"/>
<circle cx="515.08" cy="91.65" r="0.4" fill="#fff6f4" opacity="0.9"/>
<circle cx="515.22" cy="94.27" r="0.4" fill="#fff6f4" opacity="0.9"/>
<circle cx="513.19" cy="92.68" r="0.4" fill="#fff6f4" opacity="0.9"/>
<circle cx="514.41" cy="93.82" r="0.4" fill="#fff6f4" opacity="0.9"/>
<circle cx="515.05" cy="91.94" r="0.4" fill="#fff6f4" opacity="0.9"/>
<ellipse cx="514.27" cy="78.84" rx="2.7" ry="1.92" fill="#b04a40" opacity="0.45" filter="url(#blur05)"/>
<ellipse cx="518.53" cy="87.9" rx="1.62" ry="2.88" fill="#561414" opacity="0.5" filter="url(#blur05)"/>
<circle cx="516.33" cy="78.03" r="0.35" fill="#f0d8d0" opacity="0.8"/>
<circle cx="516.84" cy="76.88" r="0.35" fill="#f0d8d0" opacity="0.8"/>
<g filter="url(#blur03)">
<ellipse cx="434.56" cy="107.82" rx="4.86" ry="5.26" fill="#7e2420" transform="rotate(-13.18 434.56 107.82)"/>
<ellipse cx="431.37" cy="104.64" rx="2.9" ry="2.69" fill="#7e2420" transform="rotate(14.6 431.37 104.64)"/>
<ellipse cx="433.71" cy="115.44" rx="4.84" ry="4.93" fill="#7e2420" transform="rotate(16.84 433.71 115.44)"/>
<ellipse cx="434.13" cy="111.63" rx="3.78" ry="2.24" fill="#7e2420"/>
<ellipse cx="433.88" cy="120.14" rx="4.05" ry="2.91" fill="#7e2420"/>
</g>
<ellipse cx="433.88" cy="120.82" rx="3.65" ry="2.69" fill="#e8c0b8" opacity="0.75" filter="url(#blur05)"/>
<circle cx="433.28" cy="119.58" r="0.4" fill="#fff6f4" opacity="0.9"/>
<circle cx="434.04" cy="121.09" r="0.4" fill="#fff6f4" opacity="0.9"/>
<circle cx="432.11" cy="119.81" r="0.4" fill="#fff6f4" opacity="0.9"/>
<circle cx="435.55" cy="118.92" r="0.4" fill="#fff6f4" opacity="0.9"/>
<circle cx="435.68" cy="122.39" r="0.4" fill="#fff6f4" opacity="0.9"/>
<circle cx="436.55" cy="120.34" r="0.4" fill="#fff6f4" opacity="0.9"/>
<circle cx="434.19" cy="121.15" r="0.4" fill="#fff6f4" opacity="0.9"/>
<ellipse cx="434.88" cy="108.97" rx="2.7" ry="1.79" fill="#b04a40" opacity="0.45" filter="url(#blur05)"/>
<ellipse cx="432.21" cy="116.44" rx="1.62" ry="2.69" fill="#561414" opacity="0.5" filter="url(#blur05)"/>
<circle cx="435.82" cy="106.93" r="0.35" fill="#f0d8d0" opacity="0.8"/>
<circle cx="436.99" cy="107.75" r="0.35" fill="#f0d8d0" opacity="0.8"/>
<g filter="url(#blur03)">
<ellipse cx="453.56" cy="107.82" rx="4.7" ry="5.25" fill="#7e2420" transform="rotate(24.86 453.56 107.82)"/>
<ellipse cx="456.52" cy="105.17" rx="2.94" ry="2.69" fill="#7e2420" transform="rotate(-18.39 456.52 105.17)"/>
<ellipse cx="455.25" cy="115.44" rx="4.13" ry="4.93" fill="#7e2420" transform="rotate(-14.99 455.25 115.44)"/>
<ellipse cx="454.41" cy="111.63" rx="3.78" ry="2.24" fill="#7e2420"/>
<ellipse cx="454.82" cy="120.14" rx="4.05" ry="2.91" fill="#7e2420"/>
</g>
<ellipse cx="454.82" cy="120.82" rx="3.65" ry="2.69" fill="#e8c0b8" opacity="0.75" filter="url(#blur05)"/>
<circle cx="454.49" cy="121.08" r="0.4" fill="#fff6f4" opacity="0.9"/>
<circle cx="457.55" cy="122.4" r="0.4" fill="#fff6f4" opacity="0.9"/>
<circle cx="452.66" cy="121.99" r="0.4" fill="#fff6f4" opacity="0.9"/>
<circle cx="455.55" cy="119" r="0.4" fill="#fff6f4" opacity="0.9"/>
<circle cx="453.99" cy="119.74" r="0.4" fill="#fff6f4" opacity="0.9"/>
<circle cx="452.31" cy="120.97" r="0.4" fill="#fff6f4" opacity="0.9"/>
<circle cx="457.38" cy="120.1" r="0.4" fill="#fff6f4" opacity="0.9"/>
<ellipse cx="454.45" cy="108.29" rx="2.7" ry="1.79" fill="#b04a40" opacity="0.45" filter="url(#blur05)"/>
<ellipse cx="456.75" cy="116.44" rx="1.62" ry="2.69" fill="#561414" opacity="0.5" filter="url(#blur05)"/>
<circle cx="451.09" cy="109.43" r="0.35" fill="#f0d8d0" opacity="0.8"/>
<circle cx="454.25" cy="109.74" r="0.35" fill="#f0d8d0" opacity="0.8"/>
<g filter="url(#blur03)">
<ellipse cx="474.38" cy="107.82" rx="5.18" ry="5.3" fill="#7e2420" transform="rotate(32.95 474.38 107.82)"/>
<ellipse cx="477.91" cy="105.04" rx="3.18" ry="2.69" fill="#7e2420" transform="rotate(-0.9 477.91 105.04)"/>
<ellipse cx="475.37" cy="115.44" rx="4.13" ry="4.93" fill="#7e2420" transform="rotate(-23.44 475.37 115.44)"/>
<ellipse cx="474.88" cy="111.63" rx="3.78" ry="2.24" fill="#7e2420"/>
<ellipse cx="474.41" cy="120.14" rx="4.05" ry="2.91" fill="#7e2420"/>
</g>
<ellipse cx="474.41" cy="120.82" rx="3.65" ry="2.69" fill="#e8c0b8" opacity="0.75" filter="url(#blur05)"/>
<circle cx="472.4" cy="120.8" r="0.4" fill="#fff6f4" opacity="0.9"/>
<circle cx="475.6" cy="120.97" r="0.4" fill="#fff6f4" opacity="0.9"/>
<circle cx="473.95" cy="121.42" r="0.4" fill="#fff6f4" opacity="0.9"/>
<circle cx="473.25" cy="120.67" r="0.4" fill="#fff6f4" opacity="0.9"/>
<circle cx="475.94" cy="120.42" r="0.4" fill="#fff6f4" opacity="0.9"/>
<circle cx="472.52" cy="122.43" r="0.4" fill="#fff6f4" opacity="0.9"/>
<circle cx="475.72" cy="120.28" r="0.4" fill="#fff6f4" opacity="0.9"/>
<ellipse cx="474.07" cy="107.89" rx="2.7" ry="1.79" fill="#b04a40" opacity="0.45" filter="url(#blur05)"/>
<ellipse cx="476.87" cy="116.44" rx="1.62" ry="2.69" fill="#561414" opacity="0.5" filter="url(#blur05)"/>
<circle cx="475.03" cy="106.59" r="0.35" fill="#f0d8d0" opacity="0.8"/>
<circle cx="471.03" cy="106.52" r="0.35" fill="#f0d8d0" opacity="0.8"/>
<g filter="url(#blur03)">
<ellipse cx="494.23" cy="107.82" rx="5.34" ry="4.56" fill="#7e2420" transform="rotate(11.28 494.23 107.82)"/>
<ellipse cx="497.6" cy="104.98" rx="2.7" ry="2.69" fill="#7e2420" transform="rotate(-28.35 497.6 104.98)"/>
<ellipse cx="496.18" cy="115.44" rx="4.26" ry="4.93" fill="#7e2420" transform="rotate(-15.19 496.18 115.44)"/>
<ellipse cx="495.2" cy="111.63" rx="3.78" ry="2.24" fill="#7e2420"/>
<ellipse cx="495.05" cy="120.14" rx="4.05" ry="2.91" fill="#7e2420"/>
</g>
<ellipse cx="495.05" cy="120.82" rx="3.65" ry="2.69" fill="#e8c0b8" opacity="0.75" filter="url(#blur05)"/>
<circle cx="492.21" cy="120.61" r="0.4" fill="#fff6f4" opacity="0.9"/>
<circle cx="494.5" cy="121.64" r="0.4" fill="#fff6f4" opacity="0.9"/>
<circle cx="492.38" cy="120.43" r="0.4" fill="#fff6f4" opacity="0.9"/>
<circle cx="494.43" cy="118.91" r="0.4" fill="#fff6f4" opacity="0.9"/>
<circle cx="497.81" cy="119.68" r="0.4" fill="#fff6f4" opacity="0.9"/>
<circle cx="492.64" cy="120.71" r="0.4" fill="#fff6f4" opacity="0.9"/>
<circle cx="493.06" cy="121.31" r="0.4" fill="#fff6f4" opacity="0.9"/>
<ellipse cx="493.86" cy="106.92" rx="2.7" ry="1.79" fill="#b04a40" opacity="0.45" filter="url(#blur05)"/>
<ellipse cx="497.68" cy="116.44" rx="1.62" ry="2.69" fill="#561414" opacity="0.5" filter="url(#blur05)"/>
<circle cx="491.2" cy="108.84" r="0.35" fill="#f0d8d0" opacity="0.8"/>
<circle cx="492.71" cy="109.11" r="0.35" fill="#f0d8d0" opacity="0.8"/>
<g filter="url(#blur03)">
<ellipse cx="520.79" cy="107.82" rx="5.12" ry="4.63" fill="#7e2420" transform="rotate(-27.03 520.79 107.82)"/>
<ellipse cx="517.27" cy="105.34" rx="2.85" ry="2.69" fill="#7e2420" transform="rotate(-24.38 517.27 105.34)"/>
<ellipse cx="518.39" cy="115.44" rx="5.06" ry="4.93" fill="#7e2420" transform="rotate(16.85 518.39 115.44)"/>
<ellipse cx="519.59" cy="111.63" rx="3.78" ry="2.24" fill="#7e2420"/>
<ellipse cx="518.4" cy="120.14" rx="4.05" ry="2.91" fill="#7e2420"/>
</g>
<ellipse cx="518.4" cy="120.82" rx="3.65" ry="2.69" fill="#e8c0b8" opacity="0.75" filter="url(#blur05)"/>
<circle cx="515.61" cy="119.17" r="0.4" fill="#fff6f4" opacity="0.9"/>
<circle cx="516.44" cy="118.95" r="0.4" fill="#fff6f4" opacity="0.9"/>
<circle cx="515.75" cy="121.44" r="0.4" fill="#fff6f4" opacity="0.9"/>
<circle cx="520.77" cy="119.61" r="0.4" fill="#fff6f4" opacity="0.9"/>
<circle cx="521.21" cy="120.72" r="0.4" fill="#fff6f4" opacity="0.9"/>
<circle cx="520.2" cy="122.5" r="0.4" fill="#fff6f4" opacity="0.9"/>
<circle cx="521.01" cy="118.94" r="0.4" fill="#fff6f4" opacity="0.9"/>
<ellipse cx="520.32" cy="108.08" rx="2.7" ry="1.79" fill="#b04a40" opacity="0.45" filter="url(#blur05)"/>
<ellipse cx="516.89" cy="116.44" rx="1.62" ry="2.69" fill="#561414" opacity="0.5" filter="url(#blur05)"/>
<circle cx="523.81" cy="105.98" r="0.35" fill="#f0d8d0" opacity="0.8"/>
<circle cx="519.4" cy="109.39" r="0.35" fill="#f0d8d0" opacity="0.8"/>
<rect x="426.5" y="123.6" width="5.5" height="1.2" fill="#222"/>
<text transform="translate(381.97 39.7) rotate(-90)" font-size="8.8" text-anchor="middle" textLength="29.7" lengthAdjust="spacingAndGlyphs">Isotype</text>
<text transform="translate(381.97 99.7) rotate(-90)" font-size="8.8" text-anchor="middle" textLength="30.6" lengthAdjust="spacingAndGlyphs">αPD-L1</text>
<line x1="385.5" y1="21.3" x2="385.5" y2="57.3" stroke="#333" stroke-width="0.75"/>
<line x1="385.5" y1="79" x2="385.5" y2="119.8" stroke="#333" stroke-width="0.75"/>
<text x="390.1" y="25.14" font-size="7.6" textLength="30.5" lengthAdjust="spacingAndGlyphs"><tspan font-style="italic">Zfp683</tspan><tspan font-size="5.17" dy="-3.19">+/+</tspan></text>
<text x="390.1" y="56.74" font-size="7.6" textLength="30.5" lengthAdjust="spacingAndGlyphs"><tspan font-style="italic">Zfp683</tspan><tspan font-size="5.17" dy="-3.19">−/−</tspan></text>
<text x="390.1" y="88.24" font-size="7.6" textLength="30.5" lengthAdjust="spacingAndGlyphs"><tspan font-style="italic">Zfp683</tspan><tspan font-size="5.17" dy="-3.19">+/+</tspan></text>
<text x="390.1" y="116.44" font-size="7.6" textLength="30.5" lengthAdjust="spacingAndGlyphs"><tspan font-style="italic">Zfp683</tspan><tspan font-size="5.17" dy="-3.19">−/−</tspan></text>
<line x1="573.7" y1="14.1" x2="573.7" y2="113.85" stroke="#6a6a6a" stroke-width="0.9"/>
<line x1="573.25" y1="113.4" x2="673.7" y2="113.4" stroke="#6a6a6a" stroke-width="0.9"/>
<line x1="570.4" y1="113.4" x2="573.7" y2="113.4" stroke="#6a6a6a" stroke-width="0.85"/>
<text x="568.2" y="116.21" font-size="7.8" text-anchor="end">0</text>
<line x1="570.4" y1="88.68" x2="573.7" y2="88.68" stroke="#6a6a6a" stroke-width="0.85"/>
<text x="568.2" y="91.48" font-size="7.8" text-anchor="end">5</text>
<line x1="570.4" y1="63.95" x2="573.7" y2="63.95" stroke="#6a6a6a" stroke-width="0.85"/>
<text x="568.2" y="66.76" font-size="7.8" text-anchor="end">10</text>
<line x1="570.4" y1="39.23" x2="573.7" y2="39.23" stroke="#6a6a6a" stroke-width="0.85"/>
<text x="568.2" y="42.03" font-size="7.8" text-anchor="end">15</text>
<line x1="570.4" y1="14.5" x2="573.7" y2="14.5" stroke="#6a6a6a" stroke-width="0.85"/>
<text x="568.2" y="17.31" font-size="7.8" text-anchor="end">20</text>
<path d="M582 113.4 V72.7 H596.9 V113.4" fill="none" stroke="#6a6a6a" stroke-width="0.75"/>
<circle cx="589.2" cy="64.2" r="1.9" fill="none" stroke="#333" stroke-width="0.75"/>
<circle cx="583.5" cy="70.8" r="1.9" fill="none" stroke="#333" stroke-width="0.75"/>
<circle cx="594.7" cy="69.3" r="1.9" fill="none" stroke="#333" stroke-width="0.75"/>
<circle cx="583.5" cy="76.6" r="1.9" fill="none" stroke="#333" stroke-width="0.75"/>
<circle cx="594.7" cy="76.6" r="1.9" fill="none" stroke="#333" stroke-width="0.75"/>
<circle cx="589.2" cy="73.5" r="1.9" fill="none" stroke="#333" stroke-width="0.75"/>
<line x1="584.9" y1="72.7" x2="593.9" y2="72.7" stroke="#333" stroke-width="0.75"/>
<line x1="589.4" y1="69.7" x2="589.4" y2="74.4" stroke="#333" stroke-width="0.75"/>
<line x1="587.2" y1="69.7" x2="591.6" y2="69.7" stroke="#333" stroke-width="0.75"/>
<line x1="587.2" y1="74.4" x2="591.6" y2="74.4" stroke="#333" stroke-width="0.75"/>
<path d="M605.4 113.4 V56.2 H619.5 V113.4" fill="none" stroke="#6a6a6a" stroke-width="0.75"/>
<circle cx="612.2" cy="41.6" r="1.9" fill="none" stroke="#ee2a2a" stroke-width="0.75"/>
<circle cx="612.2" cy="46.7" r="1.9" fill="none" stroke="#ee2a2a" stroke-width="0.75"/>
<circle cx="612.2" cy="59.1" r="1.9" fill="none" stroke="#ee2a2a" stroke-width="0.75"/>
<circle cx="606.4" cy="66.4" r="1.9" fill="none" stroke="#ee2a2a" stroke-width="0.75"/>
<circle cx="617.6" cy="64.2" r="1.9" fill="none" stroke="#ee2a2a" stroke-width="0.75"/>
<line x1="607.9" y1="56.2" x2="616.9" y2="56.2" stroke="#333" stroke-width="0.75"/>
<line x1="612.4" y1="51.1" x2="612.4" y2="60.5" stroke="#333" stroke-width="0.75"/>
<line x1="610.2" y1="51.1" x2="614.6" y2="51.1" stroke="#333" stroke-width="0.75"/>
<line x1="610.2" y1="60.5" x2="614.6" y2="60.5" stroke="#333" stroke-width="0.75"/>
<path d="M627.6 113.4 V83.2 H642.4 V113.4" fill="none" stroke="#6a6a6a" stroke-width="0.75"/>
<circle cx="629.3" cy="78.8" r="1.9" fill="none" stroke="#7f4fb0" stroke-width="0.75"/>
<circle cx="629.3" cy="83.9" r="1.9" fill="none" stroke="#7f4fb0" stroke-width="0.75"/>
<circle cx="640.7" cy="81.4" r="1.9" fill="none" stroke="#7f4fb0" stroke-width="0.75"/>
<circle cx="640.7" cy="86.4" r="1.9" fill="none" stroke="#7f4fb0" stroke-width="0.75"/>
<circle cx="634.9" cy="93.8" r="1.9" fill="none" stroke="#7f4fb0" stroke-width="0.75"/>
<line x1="630.5" y1="83.2" x2="639.5" y2="83.2" stroke="#333" stroke-width="0.75"/>
<line x1="635" y1="82" x2="635" y2="85.4" stroke="#333" stroke-width="0.75"/>
<line x1="632.8" y1="82" x2="637.2" y2="82" stroke="#333" stroke-width="0.75"/>
<line x1="632.8" y1="85.4" x2="637.2" y2="85.4" stroke="#333" stroke-width="0.75"/>
<path d="M650.5 113.4 V70 H664.3 V113.4" fill="none" stroke="#6a6a6a" stroke-width="0.75"/>
<circle cx="657.8" cy="54.3" r="1.9" fill="none" stroke="#3a6ae8" stroke-width="0.75"/>
<circle cx="652.4" cy="68.9" r="1.9" fill="none" stroke="#3a6ae8" stroke-width="0.75"/>
<circle cx="663.3" cy="66.4" r="1.9" fill="none" stroke="#3a6ae8" stroke-width="0.75"/>
<circle cx="652.4" cy="81.4" r="1.9" fill="none" stroke="#3a6ae8" stroke-width="0.75"/>
<circle cx="663.3" cy="78.8" r="1.9" fill="none" stroke="#3a6ae8" stroke-width="0.75"/>
<line x1="652.9" y1="70" x2="661.9" y2="70" stroke="#333" stroke-width="0.75"/>
<line x1="657.4" y1="65.4" x2="657.4" y2="74.7" stroke="#333" stroke-width="0.75"/>
<line x1="655.2" y1="65.4" x2="659.6" y2="65.4" stroke="#333" stroke-width="0.75"/>
<line x1="655.2" y1="74.7" x2="659.6" y2="74.7" stroke="#333" stroke-width="0.75"/>
<line x1="585.2" y1="16.6" x2="632.3" y2="16.6" stroke="#555" stroke-width="0.8"/>
<polygon points="604.65,10.9 605.3,12.31 606.84,12.49 605.7,13.54 606,15.06 604.65,14.3 603.3,15.06 603.6,13.54 602.46,12.49 604,12.31" fill="#231f20"/>
<polygon points="609.35,10.9 610,12.31 611.54,12.49 610.4,13.54 610.7,15.06 609.35,14.3 608,15.06 608.3,13.54 607.16,12.49 608.7,12.31" fill="#231f20"/>
<line x1="609.3" y1="24.1" x2="658.8" y2="24.1" stroke="#888" stroke-width="0.8"/>
<text x="637" y="22.8" font-size="7" text-anchor="middle" fill="#231f20">n.s.</text>
<line x1="584" y1="34.5" x2="612.1" y2="34.5" stroke="#555" stroke-width="0.8"/>
<polygon points="598.3,28.8 598.95,30.21 600.49,30.39 599.35,31.44 599.65,32.96 598.3,32.2 596.95,32.96 597.25,31.44 596.11,30.39 597.65,30.21" fill="#231f20"/>
<line x1="629.4" y1="50.1" x2="658.8" y2="50.1" stroke="#555" stroke-width="0.8"/>
<polygon points="642.7,44.4 643.35,45.81 644.89,45.99 643.75,47.04 644.05,48.56 642.7,47.8 641.35,48.56 641.65,47.04 640.51,45.99 642.05,45.81" fill="#231f20"/>
<text transform="translate(542.8 66) rotate(-90)" font-size="8.6" text-anchor="middle" textLength="107" lengthAdjust="spacingAndGlyphs">Maximum tumour diameter</text>
<text transform="translate(552.6 64.4) rotate(-90)" font-size="8.6" text-anchor="middle" textLength="19" lengthAdjust="spacingAndGlyphs">(mm)</text>
<circle cx="538" cy="126" r="1.35" fill="none" stroke="#333" stroke-width="0.7"/>
<text x="542.2" y="128.52" font-size="7" textLength="59.2" lengthAdjust="spacingAndGlyphs"><tspan font-style="italic">Zfp683</tspan><tspan font-size="4.76" dy="-2.94">+/+</tspan><tspan dy="2.94">–isotype</tspan></text>
<circle cx="538" cy="133" r="1.35" fill="none" stroke="#ee2a2a" stroke-width="0.7"/>
<text x="542.2" y="135.52" font-size="7" textLength="59.2" lengthAdjust="spacingAndGlyphs"><tspan font-style="italic">Zfp683</tspan><tspan font-size="4.76" dy="-2.94">−/−</tspan><tspan dy="2.94">–isotype</tspan></text>
<circle cx="611" cy="126" r="1.35" fill="none" stroke="#7f4fb0" stroke-width="0.7"/>
<text x="615.2" y="128.52" font-size="7" textLength="58.2" lengthAdjust="spacingAndGlyphs"><tspan font-style="italic">Zfp683</tspan><tspan font-size="4.76" dy="-2.94">+/+</tspan><tspan dy="2.94">–αPD-L1</tspan></text>
<circle cx="611" cy="133" r="1.35" fill="none" stroke="#3a6ae8" stroke-width="0.7"/>
<text x="615.2" y="135.52" font-size="7" textLength="58.2" lengthAdjust="spacingAndGlyphs"><tspan font-style="italic">Zfp683</tspan><tspan font-size="4.76" dy="-2.94">−/−</tspan><tspan dy="2.94">–αPD-L1</tspan></text>
<text x="1.3" y="162.8" font-size="13" font-weight="bold" fill="#000">d</text>
<text x="26.2" y="163.06" font-size="8.5" textLength="87.7" lengthAdjust="spacingAndGlyphs">Gated on CD8<tspan font-size="5.78" dy="-3.57">+</tspan><tspan dy="3.57"> T cells</tspan></text>
<line x1="17.1" y1="166.6" x2="122.4" y2="166.6" stroke="#444" stroke-width="0.75"/>
<text x="47.5" y="177.76" font-size="8.5" text-anchor="middle" textLength="37.9" lengthAdjust="spacingAndGlyphs"><tspan font-style="italic">Zfp683</tspan><tspan font-size="5.78" dy="-3.57">+/+</tspan></text>
<text x="95.9" y="177.76" font-size="8.5" text-anchor="middle" textLength="37.9" lengthAdjust="spacingAndGlyphs"><tspan font-style="italic">Zfp683</tspan><tspan font-size="5.78" dy="-3.57">−/−</tspan></text>
<path fill="#111" d="M35.17 215.67h0.8v0.8h-0.8zM40.97 213.07h0.8v0.8h-0.8zM34.74 215.08h0.8v0.8h-0.8zM40.05 215.73h0.8v0.8h-0.8zM34.67 213.21h0.8v0.8h-0.8zM40.48 214.68h0.8v0.8h-0.8zM42.91 214.95h0.8v0.8h-0.8zM38.04 214.06h0.8v0.8h-0.8zM45.35 212.48h0.8v0.8h-0.8zM35.9 213.19h0.8v0.8h-0.8zM38.71 214.56h0.8v0.8h-0.8zM37.44 214.51h0.8v0.8h-0.8zM39.36 215.26h0.8v0.8h-0.8zM41.47 214.07h0.8v0.8h-0.8zM33.72 216.47h0.8v0.8h-0.8zM34.46 214.97h0.8v0.8h-0.8zM34.36 215.26h0.8v0.8h-0.8zM36.33 215.17h0.8v0.8h-0.8zM47.42 212.41h0.8v0.8h-0.8zM40.29 211.97h0.8v0.8h-0.8zM37.82 215.54h0.8v0.8h-0.8zM38.26 215h0.8v0.8h-0.8zM38.37 212.86h0.8v0.8h-0.8zM39.69 212.88h0.8v0.8h-0.8zM43.37 212.57h0.8v0.8h-0.8zM40.28 214h0.8v0.8h-0.8zM40.82 212.96h0.8v0.8h-0.8zM41.1 213.64h0.8v0.8h-0.8zM42.05 214.58h0.8v0.8h-0.8zM38.54 213.17h0.8v0.8h-0.8zM40.65 214.64h0.8v0.8h-0.8zM42.78 212.89h0.8v0.8h-0.8zM40.08 214.82h0.8v0.8h-0.8zM39.24 214.54h0.8v0.8h-0.8zM38.71 213.42h0.8v0.8h-0.8zM35.5 214.41h0.8v0.8h-0.8zM40.49 216.27h0.8v0.8h-0.8zM41.4 215.38h0.8v0.8h-0.8zM40.75 214.97h0.8v0.8h-0.8zM39.14 215.43h0.8v0.8h-0.8zM43.16 212.89h0.8v0.8h-0.8zM37.11 217.68h0.8v0.8h-0.8zM39.37 215.68h0.8v0.8h-0.8zM40.44 212.22h0.8v0.8h-0.8zM45.62 215.59h0.8v0.8h-0.8zM39.12 215.4h0.8v0.8h-0.8zM38.47 213.03h0.8v0.8h-0.8zM38.21 215.01h0.8v0.8h-0.8zM41.68 214.79h0.8v0.8h-0.8zM38.99 216.35h0.8v0.8h-0.8zM36.56 216.01h0.8v0.8h-0.8zM41.35 213.32h0.8v0.8h-0.8zM33.21 214.11h0.8v0.8h-0.8zM39.21 215.04h0.8v0.8h-0.8zM42.33 212.03h0.8v0.8h-0.8zM38.61 215.35h0.8v0.8h-0.8zM37.23 211.01h0.8v0.8h-0.8zM41.33 217.32h0.8v0.8h-0.8zM40.86 212.47h0.8v0.8h-0.8zM37.34 214.97h0.8v0.8h-0.8zM45.41 213.86h0.8v0.8h-0.8zM39.2 216.62h0.8v0.8h-0.8zM38.76 217.18h0.8v0.8h-0.8zM36.38 214.1h0.8v0.8h-0.8zM40.82 216.07h0.8v0.8h-0.8zM40.29 214.46h0.8v0.8h-0.8zM33.19 214.41h0.8v0.8h-0.8zM36.56 213.97h0.8v0.8h-0.8zM39.9 213.57h0.8v0.8h-0.8zM40.58 214.06h0.8v0.8h-0.8zM37.53 214.77h0.8v0.8h-0.8zM39.84 215.41h0.8v0.8h-0.8zM37.02 214.34h0.8v0.8h-0.8zM35.17 217.55h0.8v0.8h-0.8zM42.32 213.29h0.8v0.8h-0.8zM36.7 212.87h0.8v0.8h-0.8zM38.93 214.6h0.8v0.8h-0.8zM44.45 213.49h0.8v0.8h-0.8zM35.51 211.27h0.8v0.8h-0.8zM42.32 213.86h0.8v0.8h-0.8zM34.05 215.6h0.8v0.8h-0.8zM35.08 220.44h0.8v0.8h-0.8zM41.64 214.59h0.8v0.8h-0.8zM37.25 211.36h0.8v0.8h-0.8zM37.57 212.19h0.8v0.8h-0.8zM39.37 210.91h0.8v0.8h-0.8zM36.29 216.72h0.8v0.8h-0.8zM42.53 211.71h0.8v0.8h-0.8zM34.47 216.58h0.8v0.8h-0.8zM40.43 212.46h0.8v0.8h-0.8zM36.28 213.79h0.8v0.8h-0.8zM34.93 214.09h0.8v0.8h-0.8zM42.04 214.68h0.8v0.8h-0.8zM44.01 213.08h0.8v0.8h-0.8zM37.72 213.04h0.8v0.8h-0.8zM37.65 212.55h0.8v0.8h-0.8zM33.75 216.46h0.8v0.8h-0.8zM42.61 214.79h0.8v0.8h-0.8zM42.13 213.99h0.8v0.8h-0.8zM36.46 214.94h0.8v0.8h-0.8zM37.03 212.99h0.8v0.8h-0.8zM33.3 213.21h0.8v0.8h-0.8zM38.43 214.62h0.8v0.8h-0.8zM37.55 216.77h0.8v0.8h-0.8zM39.07 215.15h0.8v0.8h-0.8zM41.48 212.49h0.8v0.8h-0.8zM33.24 216.65h0.8v0.8h-0.8zM36.92 216.72h0.8v0.8h-0.8zM39.64 215.68h0.8v0.8h-0.8zM39.84 210.9h0.8v0.8h-0.8zM40.16 212.99h0.8v0.8h-0.8zM36.19 214.2h0.8v0.8h-0.8zM40.78 215.25h0.8v0.8h-0.8zM40.65 211.38h0.8v0.8h-0.8zM36.04 211.26h0.8v0.8h-0.8zM38.31 215.34h0.8v0.8h-0.8zM36.38 215.2h0.8v0.8h-0.8zM39.35 215.74h0.8v0.8h-0.8zM35.89 213.66h0.8v0.8h-0.8zM36.86 217.42h0.8v0.8h-0.8zM41.35 213.58h0.8v0.8h-0.8zM39.05 214.44h0.8v0.8h-0.8zM38.89 213.98h0.8v0.8h-0.8zM37.09 212.75h0.8v0.8h-0.8zM37.16 217.2h0.8v0.8h-0.8zM39.89 214.18h0.8v0.8h-0.8zM37.83 214.62h0.8v0.8h-0.8zM39.17 213.25h0.8v0.8h-0.8zM39.01 214.64h0.8v0.8h-0.8zM36.1 213.68h0.8v0.8h-0.8zM35.33 213.42h0.8v0.8h-0.8zM40.1 210.42h0.8v0.8h-0.8zM37.48 213.66h0.8v0.8h-0.8zM36.73 214.9h0.8v0.8h-0.8zM41.51 213.86h0.8v0.8h-0.8zM37.82 213.58h0.8v0.8h-0.8zM38.33 215.81h0.8v0.8h-0.8zM36.96 212.95h0.8v0.8h-0.8zM34.59 213.51h0.8v0.8h-0.8zM34.94 216.82h0.8v0.8h-0.8zM39.3 213.84h0.8v0.8h-0.8zM42.19 212.59h0.8v0.8h-0.8zM40.71 215.14h0.8v0.8h-0.8zM33.68 213.02h0.8v0.8h-0.8zM36.14 216.27h0.8v0.8h-0.8zM41.57 211.84h0.8v0.8h-0.8zM41.15 213.23h0.8v0.8h-0.8zM37.15 213.82h0.8v0.8h-0.8zM36.95 211.92h0.8v0.8h-0.8zM35.27 213.17h0.8v0.8h-0.8zM40.39 217.18h0.8v0.8h-0.8zM45.78 212.32h0.8v0.8h-0.8zM33.56 214.8h0.8v0.8h-0.8zM36.45 217.86h0.8v0.8h-0.8zM39.74 213h0.8v0.8h-0.8zM41.13 214.64h0.8v0.8h-0.8zM33.78 214.57h0.8v0.8h-0.8zM37.75 214.57h0.8v0.8h-0.8zM38.66 213.83h0.8v0.8h-0.8zM38.74 213.43h0.8v0.8h-0.8zM36.42 217.15h0.8v0.8h-0.8zM39.52 214.83h0.8v0.8h-0.8zM33.98 215.08h0.8v0.8h-0.8zM40.24 212.03h0.8v0.8h-0.8zM41.29 213.19h0.8v0.8h-0.8zM39.46 213.97h0.8v0.8h-0.8zM39.37 216.04h0.8v0.8h-0.8zM37.78 216.93h0.8v0.8h-0.8zM35.97 213.49h0.8v0.8h-0.8zM40.01 212.42h0.8v0.8h-0.8zM37.67 215.95h0.8v0.8h-0.8zM41.16 211.09h0.8v0.8h-0.8zM40.37 216.87h0.8v0.8h-0.8zM41.6 213.35h0.8v0.8h-0.8zM36.66 214.31h0.8v0.8h-0.8zM35.16 214.68h0.8v0.8h-0.8zM37.84 214.3h0.8v0.8h-0.8zM41.57 213.37h0.8v0.8h-0.8zM34.74 216.79h0.8v0.8h-0.8zM35.32 214.37h0.8v0.8h-0.8zM37.93 213.97h0.8v0.8h-0.8zM35.58 214.62h0.8v0.8h-0.8zM44.19 212.24h0.8v0.8h-0.8zM38.38 216.13h0.8v0.8h-0.8zM40.68 215.09h0.8v0.8h-0.8zM40.15 211.01h0.8v0.8h-0.8zM36.07 215.09h0.8v0.8h-0.8zM40.17 216.01h0.8v0.8h-0.8zM39.61 213.78h0.8v0.8h-0.8zM38.44 214.07h0.8v0.8h-0.8zM39.29 215.25h0.8v0.8h-0.8zM37.22 213.4h0.8v0.8h-0.8zM36.4 216.51h0.8v0.8h-0.8zM42.22 215.11h0.8v0.8h-0.8zM41.01 215.12h0.8v0.8h-0.8zM38.6 215.38h0.8v0.8h-0.8zM35.46 214.71h0.8v0.8h-0.8zM36.62 215.89h0.8v0.8h-0.8zM36.78 214.58h0.8v0.8h-0.8zM39.92 216.15h0.8v0.8h-0.8zM35.94 213.48h0.8v0.8h-0.8zM40.29 212.3h0.8v0.8h-0.8zM39.46 213.3h0.8v0.8h-0.8zM37.54 211.79h0.8v0.8h-0.8zM40.2 213.25h0.8v0.8h-0.8zM36.59 217.97h0.8v0.8h-0.8zM41.44 219.13h0.8v0.8h-0.8zM39.41 213.65h0.8v0.8h-0.8zM39.2 216.69h0.8v0.8h-0.8zM38.47 215.08h0.8v0.8h-0.8zM39.53 212.76h0.8v0.8h-0.8zM38.6 213.59h0.8v0.8h-0.8zM35.26 216.4h0.8v0.8h-0.8zM40.25 214.12h0.8v0.8h-0.8zM35.29 211.99h0.8v0.8h-0.8zM39.7 213.97h0.8v0.8h-0.8zM33.77 215.29h0.8v0.8h-0.8zM34.23 215.25h0.8v0.8h-0.8zM38.9 214.84h0.8v0.8h-0.8zM39.05 214.52h0.8v0.8h-0.8zM35.16 214.5h0.8v0.8h-0.8zM36.93 214.35h0.8v0.8h-0.8zM39.33 215.15h0.8v0.8h-0.8zM42.08 209.68h0.8v0.8h-0.8zM39.44 213.88h0.8v0.8h-0.8zM44.93 214.44h0.8v0.8h-0.8zM34 215.95h0.8v0.8h-0.8zM37.28 216.16h0.8v0.8h-0.8zM35.48 214.87h0.8v0.8h-0.8zM38.01 214.33h0.8v0.8h-0.8zM36.23 212.04h0.8v0.8h-0.8zM39.97 215.6h0.8v0.8h-0.8zM37.9 212.95h0.8v0.8h-0.8zM39.13 215.11h0.8v0.8h-0.8zM37.91 214.48h0.8v0.8h-0.8zM41.91 211.94h0.8v0.8h-0.8zM36.28 211.93h0.8v0.8h-0.8zM36.25 213.72h0.8v0.8h-0.8zM35.55 213.94h0.8v0.8h-0.8zM43.26 213.07h0.8v0.8h-0.8zM38.77 217.69h0.8v0.8h-0.8zM37.69 211.89h0.8v0.8h-0.8zM39.21 212.79h0.8v0.8h-0.8zM42.5 211.62h0.8v0.8h-0.8zM36.31 212.38h0.8v0.8h-0.8zM38.35 212.85h0.8v0.8h-0.8zM38.1 213.89h0.8v0.8h-0.8zM37.02 216.14h0.8v0.8h-0.8zM40.98 213.95h0.8v0.8h-0.8zM35.6 213.35h0.8v0.8h-0.8zM39.88 217.75h0.8v0.8h-0.8zM36.9 213.51h0.8v0.8h-0.8zM36.15 213.2h0.8v0.8h-0.8zM35.67 214.67h0.8v0.8h-0.8zM42.33 213.56h0.8v0.8h-0.8zM36.5 212.33h0.8v0.8h-0.8zM38.98 214.24h0.8v0.8h-0.8zM34.7 213.52h0.8v0.8h-0.8zM38.6 215.91h0.8v0.8h-0.8zM40.18 214.34h0.8v0.8h-0.8zM41.24 214.55h0.8v0.8h-0.8zM43.4 217.83h0.8v0.8h-0.8zM37.61 214.04h0.8v0.8h-0.8zM47.44 211.8h0.8v0.8h-0.8zM48.19 212.07h0.8v0.8h-0.8zM42.81 212.73h0.8v0.8h-0.8zM36.3 213.12h0.8v0.8h-0.8zM51.74 212.6h0.8v0.8h-0.8zM45.33 214.84h0.8v0.8h-0.8zM45.21 215h0.8v0.8h-0.8zM41.21 213.44h0.8v0.8h-0.8zM46.24 211.92h0.8v0.8h-0.8zM36.87 214.51h0.8v0.8h-0.8zM40.48 215.34h0.8v0.8h-0.8zM38.95 212.27h0.8v0.8h-0.8zM41.8 216.95h0.8v0.8h-0.8zM42.28 213.96h0.8v0.8h-0.8zM42.58 214.16h0.8v0.8h-0.8zM46.86 215.37h0.8v0.8h-0.8zM36.36 217.91h0.8v0.8h-0.8zM42.23 212.98h0.8v0.8h-0.8zM52.09 210.83h0.8v0.8h-0.8zM50.79 213.5h0.8v0.8h-0.8zM38.44 215.59h0.8v0.8h-0.8zM45.34 212.61h0.8v0.8h-0.8zM32.75 215.3h0.8v0.8h-0.8zM41.08 211.65h0.8v0.8h-0.8zM49.72 211.27h0.8v0.8h-0.8zM40.65 213.42h0.8v0.8h-0.8zM38.83 212.89h0.8v0.8h-0.8zM42.93 214.11h0.8v0.8h-0.8zM40.29 213.94h0.8v0.8h-0.8zM36.99 216.02h0.8v0.8h-0.8zM39.45 214.78h0.8v0.8h-0.8zM38.46 213.52h0.8v0.8h-0.8zM42.69 211.03h0.8v0.8h-0.8zM52.45 211.02h0.8v0.8h-0.8zM41.75 212.25h0.8v0.8h-0.8zM49.57 214.67h0.8v0.8h-0.8zM42.96 210.64h0.8v0.8h-0.8zM40.64 215.31h0.8v0.8h-0.8zM39.74 211.82h0.8v0.8h-0.8zM37.19 213.31h0.8v0.8h-0.8zM42.14 212.33h0.8v0.8h-0.8zM43.83 219h0.8v0.8h-0.8zM49.12 209.78h0.8v0.8h-0.8zM43.84 213.42h0.8v0.8h-0.8zM42.34 215.76h0.8v0.8h-0.8zM40.89 213.31h0.8v0.8h-0.8zM40.82 213.79h0.8v0.8h-0.8zM48.02 213.8h0.8v0.8h-0.8zM36.72 214.11h0.8v0.8h-0.8zM39.54 215.99h0.8v0.8h-0.8zM43.75 215.1h0.8v0.8h-0.8zM41.22 209.96h0.8v0.8h-0.8zM44.35 213.58h0.8v0.8h-0.8zM43.84 210.56h0.8v0.8h-0.8zM42.4 212.18h0.8v0.8h-0.8zM39.77 214.98h0.8v0.8h-0.8zM43.4 211.51h0.8v0.8h-0.8zM34.23 210.54h0.8v0.8h-0.8zM40.6 216.36h0.8v0.8h-0.8zM41.09 209.29h0.8v0.8h-0.8zM39.09 215.29h0.8v0.8h-0.8zM49.78 214.17h0.8v0.8h-0.8zM43.99 213.61h0.8v0.8h-0.8zM37.86 213.8h0.8v0.8h-0.8zM40.67 212.44h0.8v0.8h-0.8zM42.47 212.77h0.8v0.8h-0.8zM44.47 216.04h0.8v0.8h-0.8zM45.62 213.66h0.8v0.8h-0.8zM40.68 210.9h0.8v0.8h-0.8zM42.2 214.77h0.8v0.8h-0.8zM38.9 217.06h0.8v0.8h-0.8zM41.22 214.66h0.8v0.8h-0.8zM40.45 211.5h0.8v0.8h-0.8zM50.27 209.25h0.8v0.8h-0.8zM45.87 211.59h0.8v0.8h-0.8zM43.15 211.75h0.8v0.8h-0.8zM41.15 215.81h0.8v0.8h-0.8zM49.92 209.98h0.8v0.8h-0.8zM42.9 215.43h0.8v0.8h-0.8zM40.17 215.62h0.8v0.8h-0.8zM39.49 215.57h0.8v0.8h-0.8zM44.77 215.51h0.8v0.8h-0.8zM43.3 210.92h0.8v0.8h-0.8zM44.57 210.79h0.8v0.8h-0.8zM46.19 215.77h0.8v0.8h-0.8zM44.56 211.92h0.8v0.8h-0.8zM47.34 212.71h0.8v0.8h-0.8zM37.15 214.18h0.8v0.8h-0.8zM48.04 211.57h0.8v0.8h-0.8zM42.73 212.81h0.8v0.8h-0.8zM35.28 214.32h0.8v0.8h-0.8zM43.95 213.64h0.8v0.8h-0.8zM40.66 209.63h0.8v0.8h-0.8zM47.73 213.75h0.8v0.8h-0.8zM47.2 215.08h0.8v0.8h-0.8zM40.29 212.88h0.8v0.8h-0.8zM44.49 216.53h0.8v0.8h-0.8zM35.42 214.87h0.8v0.8h-0.8zM39.76 215.41h0.8v0.8h-0.8zM48.22 211.54h0.8v0.8h-0.8zM37.37 214.96h0.8v0.8h-0.8zM40.49 210.89h0.8v0.8h-0.8zM45.75 211.68h0.8v0.8h-0.8zM44.55 210.35h0.8v0.8h-0.8zM46.17 209.69h0.8v0.8h-0.8zM45.82 209.01h0.8v0.8h-0.8zM47.84 211.47h0.8v0.8h-0.8zM42.18 212.97h0.8v0.8h-0.8zM49.35 210.02h0.8v0.8h-0.8zM46.56 213.33h0.8v0.8h-0.8zM46.56 205.88h0.8v0.8h-0.8zM46.87 213.62h0.8v0.8h-0.8zM49.96 214.38h0.8v0.8h-0.8zM46.66 218.41h0.8v0.8h-0.8zM51.67 212.52h0.8v0.8h-0.8zM53.04 213.71h0.8v0.8h-0.8zM48.56 210.98h0.8v0.8h-0.8zM52.6 212.61h0.8v0.8h-0.8zM40.52 211.32h0.8v0.8h-0.8zM50.28 212.31h0.8v0.8h-0.8zM49.75 213.6h0.8v0.8h-0.8zM49.58 215.73h0.8v0.8h-0.8zM45.93 211.94h0.8v0.8h-0.8zM49.96 213.79h0.8v0.8h-0.8zM52.07 215.08h0.8v0.8h-0.8zM46.97 215.26h0.8v0.8h-0.8zM49.84 209.82h0.8v0.8h-0.8zM48.66 217.01h0.8v0.8h-0.8zM51.31 210.84h0.8v0.8h-0.8zM38.67 212.47h0.8v0.8h-0.8zM45.66 213.05h0.8v0.8h-0.8zM57.79 212.41h0.8v0.8h-0.8zM49.28 210.16h0.8v0.8h-0.8zM43.65 212.77h0.8v0.8h-0.8zM47.71 219.24h0.8v0.8h-0.8zM46.57 211.35h0.8v0.8h-0.8zM52.88 211.78h0.8v0.8h-0.8zM44.03 216.05h0.8v0.8h-0.8zM46.66 209.74h0.8v0.8h-0.8zM49.85 213.23h0.8v0.8h-0.8zM47.34 214.15h0.8v0.8h-0.8zM51.3 209.92h0.8v0.8h-0.8z"/>
<rect x="24.3" y="180.8" width="45.5" height="44.6" rx="1.2" fill="none" stroke="#555" stroke-width="0.8"/>
<path d="M24.3 185.76h1.3M24.3 190.71h1.3M24.3 195.67h1.3M24.3 200.62h1.3M24.3 205.58h1.3M24.3 210.53h1.3M24.3 215.49h1.3M24.3 220.44h1.3M29.36 225.4v-1.3M34.41 225.4v-1.3M39.47 225.4v-1.3M44.52 225.4v-1.3M49.58 225.4v-1.3M54.63 225.4v-1.3M59.69 225.4v-1.3M64.74 225.4v-1.3" stroke="#555" stroke-width="0.5" fill="none"/>
<rect x="42.7" y="200.3" width="18.6" height="22.2" fill="none" stroke="#4a4a4a" stroke-width="0.8"/>
<text x="52" y="199.38" font-size="8" text-anchor="middle" textLength="13.7" lengthAdjust="spacingAndGlyphs">21.5</text>
<path fill="#f01818" d="M80.82 212.09h0.8v0.8h-0.8zM87.23 216.28h0.8v0.8h-0.8zM90.38 215.86h0.8v0.8h-0.8zM92.29 213.34h0.8v0.8h-0.8zM89.61 211.54h0.8v0.8h-0.8zM89.21 214.57h0.8v0.8h-0.8zM86.8 213.81h0.8v0.8h-0.8zM84.19 215.26h0.8v0.8h-0.8zM90.58 213.12h0.8v0.8h-0.8zM88.45 213.12h0.8v0.8h-0.8zM87.58 212.77h0.8v0.8h-0.8zM88.17 213.86h0.8v0.8h-0.8zM87.87 213.33h0.8v0.8h-0.8zM83.88 214.6h0.8v0.8h-0.8zM90.53 216.11h0.8v0.8h-0.8zM86.56 215.76h0.8v0.8h-0.8zM89.4 214.53h0.8v0.8h-0.8zM83.05 215.78h0.8v0.8h-0.8zM84.91 216.69h0.8v0.8h-0.8zM89.55 214.85h0.8v0.8h-0.8zM80.45 216.79h0.8v0.8h-0.8zM88.72 212.12h0.8v0.8h-0.8zM89.88 213.95h0.8v0.8h-0.8zM86.48 213.46h0.8v0.8h-0.8zM84.28 214.36h0.8v0.8h-0.8zM95.72 212.9h0.8v0.8h-0.8zM87.57 213.33h0.8v0.8h-0.8zM85.34 213.95h0.8v0.8h-0.8zM85.05 216.2h0.8v0.8h-0.8zM86.73 215.83h0.8v0.8h-0.8zM84.33 216.44h0.8v0.8h-0.8zM87.33 215.39h0.8v0.8h-0.8zM86.64 213.16h0.8v0.8h-0.8zM90.38 213.06h0.8v0.8h-0.8zM86.52 213.19h0.8v0.8h-0.8zM87.64 213.71h0.8v0.8h-0.8zM88.08 214.74h0.8v0.8h-0.8zM84.87 212.73h0.8v0.8h-0.8zM88.67 215.49h0.8v0.8h-0.8zM88.75 212.31h0.8v0.8h-0.8zM88.98 214.61h0.8v0.8h-0.8zM88.11 214.87h0.8v0.8h-0.8zM86.38 214.9h0.8v0.8h-0.8zM89.58 213.12h0.8v0.8h-0.8zM83.22 215.08h0.8v0.8h-0.8zM87.16 211.58h0.8v0.8h-0.8zM85.53 215.66h0.8v0.8h-0.8zM86.82 214.62h0.8v0.8h-0.8zM84.03 216.46h0.8v0.8h-0.8zM91.94 213.09h0.8v0.8h-0.8zM84.83 213.13h0.8v0.8h-0.8zM89.67 214.03h0.8v0.8h-0.8zM85.4 216.64h0.8v0.8h-0.8zM89.48 214.84h0.8v0.8h-0.8zM82.35 215.27h0.8v0.8h-0.8zM88.53 212.24h0.8v0.8h-0.8zM90.19 215.96h0.8v0.8h-0.8zM89.81 212.74h0.8v0.8h-0.8zM85.56 216.19h0.8v0.8h-0.8zM90.31 215.62h0.8v0.8h-0.8zM90.46 213.55h0.8v0.8h-0.8zM85.5 211.92h0.8v0.8h-0.8zM90.06 217.28h0.8v0.8h-0.8zM85.78 213.97h0.8v0.8h-0.8zM89.09 214.57h0.8v0.8h-0.8zM83.22 214.15h0.8v0.8h-0.8zM84.82 218.01h0.8v0.8h-0.8zM85.5 216.07h0.8v0.8h-0.8zM93.04 216.06h0.8v0.8h-0.8zM91.61 215.96h0.8v0.8h-0.8zM83.71 214.61h0.8v0.8h-0.8zM85.12 214.4h0.8v0.8h-0.8zM93.86 210.41h0.8v0.8h-0.8zM88.34 212.26h0.8v0.8h-0.8zM91.27 215.53h0.8v0.8h-0.8zM86.44 217.73h0.8v0.8h-0.8zM87.81 216.27h0.8v0.8h-0.8zM87.88 213.4h0.8v0.8h-0.8zM86.12 214.45h0.8v0.8h-0.8zM88.93 214.23h0.8v0.8h-0.8zM93.6 212.74h0.8v0.8h-0.8zM85.7 213.62h0.8v0.8h-0.8zM84.62 212.74h0.8v0.8h-0.8zM84.78 216.3h0.8v0.8h-0.8zM87.31 214.11h0.8v0.8h-0.8zM88.49 215.76h0.8v0.8h-0.8zM89.13 215.18h0.8v0.8h-0.8zM85.59 214.34h0.8v0.8h-0.8zM85.04 214.71h0.8v0.8h-0.8zM84.84 214.33h0.8v0.8h-0.8zM86.65 214.18h0.8v0.8h-0.8zM86.32 213.83h0.8v0.8h-0.8zM90.68 213.14h0.8v0.8h-0.8zM84.49 215.27h0.8v0.8h-0.8zM83.88 213.46h0.8v0.8h-0.8zM86.91 211.9h0.8v0.8h-0.8zM78.47 216.7h0.8v0.8h-0.8zM89.51 211.35h0.8v0.8h-0.8zM84.92 215.77h0.8v0.8h-0.8zM81.48 214.27h0.8v0.8h-0.8zM83.84 214.81h0.8v0.8h-0.8zM82.08 216.86h0.8v0.8h-0.8zM86.9 214.93h0.8v0.8h-0.8zM85.64 211.48h0.8v0.8h-0.8zM86.37 212.52h0.8v0.8h-0.8zM86.96 213.14h0.8v0.8h-0.8zM86.27 214.28h0.8v0.8h-0.8zM89.55 215.08h0.8v0.8h-0.8zM84.44 214.96h0.8v0.8h-0.8zM91.35 214.28h0.8v0.8h-0.8zM85.16 214.65h0.8v0.8h-0.8zM86.54 215.98h0.8v0.8h-0.8zM87.41 214.93h0.8v0.8h-0.8zM92.83 211.09h0.8v0.8h-0.8zM83.88 212.45h0.8v0.8h-0.8zM83.11 216.59h0.8v0.8h-0.8zM88.51 216.62h0.8v0.8h-0.8zM81.52 214.26h0.8v0.8h-0.8zM91.48 215.07h0.8v0.8h-0.8zM89.9 215.16h0.8v0.8h-0.8zM87.29 214.37h0.8v0.8h-0.8zM87.55 215.62h0.8v0.8h-0.8zM86.85 214.97h0.8v0.8h-0.8zM90.83 211.9h0.8v0.8h-0.8zM85.32 215.67h0.8v0.8h-0.8zM86.43 214.32h0.8v0.8h-0.8zM93.08 213.79h0.8v0.8h-0.8zM86.4 216.25h0.8v0.8h-0.8zM93.75 211.31h0.8v0.8h-0.8zM85.4 214.96h0.8v0.8h-0.8zM86.14 217.96h0.8v0.8h-0.8zM88.52 213.51h0.8v0.8h-0.8zM88.3 212.95h0.8v0.8h-0.8zM85.58 214.91h0.8v0.8h-0.8zM93.04 209.71h0.8v0.8h-0.8zM88.77 216.14h0.8v0.8h-0.8zM89.83 216.79h0.8v0.8h-0.8zM88.48 214.35h0.8v0.8h-0.8zM86.57 213.22h0.8v0.8h-0.8zM91.31 211.71h0.8v0.8h-0.8zM86.7 213.7h0.8v0.8h-0.8zM84.36 211.6h0.8v0.8h-0.8zM86.2 214.82h0.8v0.8h-0.8zM87.86 215.56h0.8v0.8h-0.8zM86.56 213.55h0.8v0.8h-0.8zM88.25 215.2h0.8v0.8h-0.8zM84.25 212.7h0.8v0.8h-0.8zM84.72 216.55h0.8v0.8h-0.8zM89.66 212.52h0.8v0.8h-0.8zM87.77 215.57h0.8v0.8h-0.8zM90.63 212.66h0.8v0.8h-0.8zM86.98 216.61h0.8v0.8h-0.8zM94.28 215.24h0.8v0.8h-0.8zM84.22 215.72h0.8v0.8h-0.8zM86.36 214.49h0.8v0.8h-0.8zM85.23 214.08h0.8v0.8h-0.8zM87.73 217.05h0.8v0.8h-0.8zM89.25 214.62h0.8v0.8h-0.8zM87.04 213.28h0.8v0.8h-0.8zM86.96 216.35h0.8v0.8h-0.8zM90.09 216.8h0.8v0.8h-0.8zM87.91 214.22h0.8v0.8h-0.8zM82.89 215.93h0.8v0.8h-0.8zM82.95 217.64h0.8v0.8h-0.8zM85.48 214.77h0.8v0.8h-0.8zM83.35 214.46h0.8v0.8h-0.8zM85 216.6h0.8v0.8h-0.8zM87.51 212.52h0.8v0.8h-0.8zM81.89 215.42h0.8v0.8h-0.8zM85.52 213.05h0.8v0.8h-0.8zM88.76 213.78h0.8v0.8h-0.8zM87.32 213.47h0.8v0.8h-0.8zM85.5 214.06h0.8v0.8h-0.8zM83.01 216.26h0.8v0.8h-0.8zM87.77 211.64h0.8v0.8h-0.8zM87.84 216.03h0.8v0.8h-0.8zM88.25 216.16h0.8v0.8h-0.8zM86.47 214.56h0.8v0.8h-0.8zM83.36 213.83h0.8v0.8h-0.8zM81.93 214.15h0.8v0.8h-0.8zM88.03 215.02h0.8v0.8h-0.8zM90.43 213.91h0.8v0.8h-0.8zM84.62 215.61h0.8v0.8h-0.8zM87.36 217.1h0.8v0.8h-0.8zM92.86 214.67h0.8v0.8h-0.8zM83.92 214.29h0.8v0.8h-0.8zM87.5 213.24h0.8v0.8h-0.8zM88.85 215.1h0.8v0.8h-0.8zM89.57 214.25h0.8v0.8h-0.8zM84.52 213.68h0.8v0.8h-0.8zM87.28 216.42h0.8v0.8h-0.8zM91.82 214.92h0.8v0.8h-0.8zM88.4 215.18h0.8v0.8h-0.8zM89.86 215.82h0.8v0.8h-0.8zM89.07 211.65h0.8v0.8h-0.8zM89.93 214.41h0.8v0.8h-0.8zM86.1 215.44h0.8v0.8h-0.8zM87.97 214.15h0.8v0.8h-0.8zM82.61 215.55h0.8v0.8h-0.8zM88.71 214h0.8v0.8h-0.8zM82.99 216h0.8v0.8h-0.8zM89.23 214.25h0.8v0.8h-0.8zM88.26 213.64h0.8v0.8h-0.8zM85.56 215.55h0.8v0.8h-0.8zM86.29 214.87h0.8v0.8h-0.8zM96.34 213.55h0.8v0.8h-0.8zM87.07 211.94h0.8v0.8h-0.8zM87.7 215.46h0.8v0.8h-0.8zM85.2 214.46h0.8v0.8h-0.8zM81.2 216.53h0.8v0.8h-0.8zM85.78 215.75h0.8v0.8h-0.8zM90.89 213.37h0.8v0.8h-0.8zM89.97 214.19h0.8v0.8h-0.8zM86.55 214.11h0.8v0.8h-0.8zM85.27 216.78h0.8v0.8h-0.8zM89.3 212.41h0.8v0.8h-0.8zM89.28 212.84h0.8v0.8h-0.8zM83.45 217.04h0.8v0.8h-0.8zM84.06 216.88h0.8v0.8h-0.8zM88.03 215.61h0.8v0.8h-0.8zM88.96 215.8h0.8v0.8h-0.8zM88.33 215.05h0.8v0.8h-0.8zM88.22 215.86h0.8v0.8h-0.8zM86.44 216.12h0.8v0.8h-0.8zM91.31 213.43h0.8v0.8h-0.8zM88.25 213.39h0.8v0.8h-0.8zM86.49 214.95h0.8v0.8h-0.8zM85.99 213.3h0.8v0.8h-0.8zM87.18 214.7h0.8v0.8h-0.8zM88.31 215.25h0.8v0.8h-0.8zM82.78 217.51h0.8v0.8h-0.8zM86.49 213.37h0.8v0.8h-0.8zM86.32 215.26h0.8v0.8h-0.8zM89.47 213.36h0.8v0.8h-0.8zM87.13 211.97h0.8v0.8h-0.8zM87.63 214.14h0.8v0.8h-0.8zM86.3 215.95h0.8v0.8h-0.8zM92.43 214.87h0.8v0.8h-0.8zM85.54 217.1h0.8v0.8h-0.8zM86.27 214.53h0.8v0.8h-0.8zM85.75 215.41h0.8v0.8h-0.8zM88.76 214.29h0.8v0.8h-0.8zM86.58 214.31h0.8v0.8h-0.8zM86.41 216.06h0.8v0.8h-0.8zM85.73 214.49h0.8v0.8h-0.8zM86.39 213.42h0.8v0.8h-0.8zM86.12 212.38h0.8v0.8h-0.8zM88.48 214.96h0.8v0.8h-0.8zM86.86 216.85h0.8v0.8h-0.8zM85.13 215.69h0.8v0.8h-0.8zM88.34 213.34h0.8v0.8h-0.8zM86.82 215.84h0.8v0.8h-0.8zM87.46 214.78h0.8v0.8h-0.8zM91.09 213.91h0.8v0.8h-0.8zM82.41 214.29h0.8v0.8h-0.8zM89.44 213.73h0.8v0.8h-0.8zM83.64 212.14h0.8v0.8h-0.8zM88.55 216.41h0.8v0.8h-0.8zM83.11 211.96h0.8v0.8h-0.8zM88.39 213.32h0.8v0.8h-0.8zM89.85 213.27h0.8v0.8h-0.8zM87.76 215.36h0.8v0.8h-0.8zM95.1 213.37h0.8v0.8h-0.8zM89.45 216.17h0.8v0.8h-0.8zM91.03 214.83h0.8v0.8h-0.8zM87.73 215.81h0.8v0.8h-0.8zM94.83 215.34h0.8v0.8h-0.8zM91.53 214.43h0.8v0.8h-0.8zM89.3 215.88h0.8v0.8h-0.8zM94.86 214.9h0.8v0.8h-0.8zM89.06 211.64h0.8v0.8h-0.8zM90.83 213.27h0.8v0.8h-0.8zM88.48 215.52h0.8v0.8h-0.8zM95.22 213.41h0.8v0.8h-0.8zM95.88 213.24h0.8v0.8h-0.8zM86.99 213.46h0.8v0.8h-0.8zM90.11 215.27h0.8v0.8h-0.8zM94.99 212.94h0.8v0.8h-0.8zM94.9 211h0.8v0.8h-0.8zM91.46 216.59h0.8v0.8h-0.8zM93.5 215.16h0.8v0.8h-0.8zM82.81 212.3h0.8v0.8h-0.8zM88.21 216.4h0.8v0.8h-0.8zM97.45 210.79h0.8v0.8h-0.8zM86.76 212.65h0.8v0.8h-0.8zM87.89 215.56h0.8v0.8h-0.8zM90.84 217.51h0.8v0.8h-0.8zM93.78 211.57h0.8v0.8h-0.8zM92.09 213.07h0.8v0.8h-0.8zM94.82 214.55h0.8v0.8h-0.8zM90.24 215.66h0.8v0.8h-0.8zM93.46 212.87h0.8v0.8h-0.8zM92.56 214.65h0.8v0.8h-0.8zM89.61 212.63h0.8v0.8h-0.8zM96.31 212.34h0.8v0.8h-0.8zM89.05 215.08h0.8v0.8h-0.8zM85.33 215.18h0.8v0.8h-0.8zM85.55 214.15h0.8v0.8h-0.8zM83.73 214.01h0.8v0.8h-0.8zM94.72 212.36h0.8v0.8h-0.8zM87.18 218.13h0.8v0.8h-0.8zM89.4 217.06h0.8v0.8h-0.8zM88.42 211.34h0.8v0.8h-0.8zM98.4 210.94h0.8v0.8h-0.8zM94.83 215.12h0.8v0.8h-0.8zM86 215.05h0.8v0.8h-0.8zM89.21 215.33h0.8v0.8h-0.8zM90.57 211.21h0.8v0.8h-0.8zM91.82 215h0.8v0.8h-0.8zM90.31 214.97h0.8v0.8h-0.8zM89.07 214.04h0.8v0.8h-0.8zM92.69 213.53h0.8v0.8h-0.8zM96.75 214.15h0.8v0.8h-0.8zM94.94 214.14h0.8v0.8h-0.8zM91.3 211.24h0.8v0.8h-0.8zM96.3 215.86h0.8v0.8h-0.8zM92.01 212.9h0.8v0.8h-0.8zM91.66 215.94h0.8v0.8h-0.8zM91.91 211.45h0.8v0.8h-0.8zM90.18 212.32h0.8v0.8h-0.8zM90 212.11h0.8v0.8h-0.8zM88.45 217.29h0.8v0.8h-0.8zM94.65 209.51h0.8v0.8h-0.8zM87.11 213.73h0.8v0.8h-0.8zM89.03 211.37h0.8v0.8h-0.8zM94.01 209.66h0.8v0.8h-0.8zM94.33 214.24h0.8v0.8h-0.8zM89.46 212.73h0.8v0.8h-0.8zM91.54 213.83h0.8v0.8h-0.8zM82.28 213.31h0.8v0.8h-0.8zM93.3 212.87h0.8v0.8h-0.8zM89.11 212.14h0.8v0.8h-0.8zM88.07 212.86h0.8v0.8h-0.8zM101.77 208.45h0.8v0.8h-0.8zM97.57 212.99h0.8v0.8h-0.8zM92.18 213.77h0.8v0.8h-0.8zM90.48 217.04h0.8v0.8h-0.8zM93.25 213.05h0.8v0.8h-0.8zM90.84 214.11h0.8v0.8h-0.8zM86.54 214.14h0.8v0.8h-0.8zM89.04 215.4h0.8v0.8h-0.8zM92.75 209.47h0.8v0.8h-0.8zM90.82 215.7h0.8v0.8h-0.8zM85.52 212.65h0.8v0.8h-0.8zM95.16 212.37h0.8v0.8h-0.8zM88.87 211.75h0.8v0.8h-0.8zM91.65 212.38h0.8v0.8h-0.8zM92.29 214.2h0.8v0.8h-0.8zM93.89 212.29h0.8v0.8h-0.8zM89.16 214.19h0.8v0.8h-0.8zM90.93 214.03h0.8v0.8h-0.8zM89.01 213.68h0.8v0.8h-0.8zM88.62 213.07h0.8v0.8h-0.8zM92.41 215.64h0.8v0.8h-0.8zM89.38 215.25h0.8v0.8h-0.8zM92.67 213.47h0.8v0.8h-0.8zM93.68 211.87h0.8v0.8h-0.8zM93.62 213.61h0.8v0.8h-0.8zM77.49 217.75h0.8v0.8h-0.8zM94.55 216.72h0.8v0.8h-0.8zM87.05 214.84h0.8v0.8h-0.8zM92.18 211.42h0.8v0.8h-0.8zM96.24 213.27h0.8v0.8h-0.8zM87.49 212.12h0.8v0.8h-0.8zM90.69 218.53h0.8v0.8h-0.8zM98.67 206.76h0.8v0.8h-0.8zM84.29 216.69h0.8v0.8h-0.8zM90.51 212.51h0.8v0.8h-0.8zM93.69 213.19h0.8v0.8h-0.8zM92.51 213.83h0.8v0.8h-0.8zM93.53 215.94h0.8v0.8h-0.8zM95.88 215.13h0.8v0.8h-0.8zM99.92 212.02h0.8v0.8h-0.8zM97.75 212.22h0.8v0.8h-0.8zM90.01 212.97h0.8v0.8h-0.8zM98.29 208.69h0.8v0.8h-0.8zM91.88 215.72h0.8v0.8h-0.8zM99.78 208.57h0.8v0.8h-0.8zM98.99 211.99h0.8v0.8h-0.8zM100.88 211.06h0.8v0.8h-0.8zM96.09 210.97h0.8v0.8h-0.8zM97.88 212.02h0.8v0.8h-0.8zM94.57 212.12h0.8v0.8h-0.8zM94.55 214.25h0.8v0.8h-0.8zM92.65 209.8h0.8v0.8h-0.8zM93.9 215.37h0.8v0.8h-0.8zM95.51 214.13h0.8v0.8h-0.8zM99.88 210.82h0.8v0.8h-0.8zM100.34 212.97h0.8v0.8h-0.8zM96.79 210.93h0.8v0.8h-0.8zM96.51 209.72h0.8v0.8h-0.8zM95.94 211.36h0.8v0.8h-0.8zM99.05 212.84h0.8v0.8h-0.8zM95.06 214.69h0.8v0.8h-0.8zM101.87 211.73h0.8v0.8h-0.8zM94.54 213.99h0.8v0.8h-0.8zM87.53 212.83h0.8v0.8h-0.8zM100.24 216.28h0.8v0.8h-0.8zM94.93 216.18h0.8v0.8h-0.8zM106.97 214.84h0.8v0.8h-0.8zM88.47 216.37h0.8v0.8h-0.8zM98.35 214.44h0.8v0.8h-0.8zM96.3 211.21h0.8v0.8h-0.8zM96.9 215.78h0.8v0.8h-0.8zM100.38 211.2h0.8v0.8h-0.8z"/>
<rect x="73.1" y="180.8" width="45.5" height="44.6" rx="1.2" fill="none" stroke="#555" stroke-width="0.8"/>
<path d="M73.1 185.76h1.3M73.1 190.71h1.3M73.1 195.67h1.3M73.1 200.62h1.3M73.1 205.58h1.3M73.1 210.53h1.3M73.1 215.49h1.3M73.1 220.44h1.3M78.16 225.4v-1.3M83.21 225.4v-1.3M88.27 225.4v-1.3M93.32 225.4v-1.3M98.38 225.4v-1.3M103.43 225.4v-1.3M108.49 225.4v-1.3M113.54 225.4v-1.3" stroke="#555" stroke-width="0.5" fill="none"/>
<rect x="91.1" y="200.3" width="19" height="22.2" fill="none" stroke="#4a4a4a" stroke-width="0.8"/>
<text x="100.6" y="199.38" font-size="8" text-anchor="middle" textLength="13.7" lengthAdjust="spacingAndGlyphs">17.9</text>
<text x="47.5" y="238.26" font-size="8.5" text-anchor="middle" textLength="37.9" lengthAdjust="spacingAndGlyphs"><tspan font-style="italic">Zfp683</tspan><tspan font-size="5.78" dy="-3.57">+/+</tspan></text>
<text x="95.9" y="238.26" font-size="8.5" text-anchor="middle" textLength="37.9" lengthAdjust="spacingAndGlyphs"><tspan font-style="italic">Zfp683</tspan><tspan font-size="5.78" dy="-3.57">−/−</tspan></text>
<path fill="#7426d0" d="M39.71 277.04h0.8v0.8h-0.8zM39.94 275.62h0.8v0.8h-0.8zM36.4 275.3h0.8v0.8h-0.8zM37.06 275.45h0.8v0.8h-0.8zM33.7 274.86h0.8v0.8h-0.8zM40.44 273.87h0.8v0.8h-0.8zM34.84 276.7h0.8v0.8h-0.8zM42.73 277h0.8v0.8h-0.8zM36.97 274.74h0.8v0.8h-0.8zM36.67 274.99h0.8v0.8h-0.8zM37.07 277.02h0.8v0.8h-0.8zM35.28 275.48h0.8v0.8h-0.8zM37.69 276.11h0.8v0.8h-0.8zM36.08 275.3h0.8v0.8h-0.8zM35.1 275.56h0.8v0.8h-0.8zM39.75 275.35h0.8v0.8h-0.8zM30.15 278.7h0.8v0.8h-0.8zM37.95 274.77h0.8v0.8h-0.8zM36.78 271.74h0.8v0.8h-0.8zM34.26 278.66h0.8v0.8h-0.8zM44.9 277.95h0.8v0.8h-0.8zM36.42 276.48h0.8v0.8h-0.8zM40.15 273.76h0.8v0.8h-0.8zM42.94 273.94h0.8v0.8h-0.8zM39.01 274.12h0.8v0.8h-0.8zM39.4 275.77h0.8v0.8h-0.8zM41 273.69h0.8v0.8h-0.8zM38.94 278.67h0.8v0.8h-0.8zM35.25 277.21h0.8v0.8h-0.8zM39.45 275.02h0.8v0.8h-0.8zM38.11 278.23h0.8v0.8h-0.8zM41.7 276.17h0.8v0.8h-0.8zM38.78 274.19h0.8v0.8h-0.8zM39.21 278.58h0.8v0.8h-0.8zM40.86 273.4h0.8v0.8h-0.8zM32.52 276.23h0.8v0.8h-0.8zM38.68 275.1h0.8v0.8h-0.8zM37.67 276.68h0.8v0.8h-0.8zM40.92 275.79h0.8v0.8h-0.8zM41.38 273.18h0.8v0.8h-0.8zM39.82 276.35h0.8v0.8h-0.8zM34.72 278.7h0.8v0.8h-0.8zM33.57 274.81h0.8v0.8h-0.8zM46.12 276.35h0.8v0.8h-0.8zM39.86 277.77h0.8v0.8h-0.8zM41.2 273.67h0.8v0.8h-0.8zM40.17 277.78h0.8v0.8h-0.8zM37.99 276.2h0.8v0.8h-0.8zM37.36 277.35h0.8v0.8h-0.8zM36.7 275.46h0.8v0.8h-0.8zM34.74 275.35h0.8v0.8h-0.8zM39.15 276.57h0.8v0.8h-0.8zM37.01 274.68h0.8v0.8h-0.8zM39.45 276.33h0.8v0.8h-0.8zM41.75 274.53h0.8v0.8h-0.8zM37.43 277h0.8v0.8h-0.8zM42.58 275.03h0.8v0.8h-0.8zM37.88 274.67h0.8v0.8h-0.8zM37.66 277.62h0.8v0.8h-0.8zM41.1 277.15h0.8v0.8h-0.8zM34.15 278.2h0.8v0.8h-0.8zM36.04 277.42h0.8v0.8h-0.8zM31.85 277.24h0.8v0.8h-0.8zM36.37 278.4h0.8v0.8h-0.8zM39.15 277.85h0.8v0.8h-0.8zM37.81 279.16h0.8v0.8h-0.8zM37.77 279.07h0.8v0.8h-0.8zM36.75 274.84h0.8v0.8h-0.8zM40.76 274.88h0.8v0.8h-0.8zM37.82 274.05h0.8v0.8h-0.8zM37.49 276.37h0.8v0.8h-0.8zM36.58 276.99h0.8v0.8h-0.8zM32.34 278.67h0.8v0.8h-0.8zM37.74 278.42h0.8v0.8h-0.8zM37.23 275.24h0.8v0.8h-0.8zM37.25 276.68h0.8v0.8h-0.8zM39.91 274.97h0.8v0.8h-0.8zM36.34 277.11h0.8v0.8h-0.8zM40.14 272.93h0.8v0.8h-0.8zM35.29 275.62h0.8v0.8h-0.8zM43.52 276.82h0.8v0.8h-0.8zM40.77 276.27h0.8v0.8h-0.8zM35.66 278.33h0.8v0.8h-0.8zM36.93 275.08h0.8v0.8h-0.8zM43.31 272.71h0.8v0.8h-0.8zM42.3 275.49h0.8v0.8h-0.8zM35.91 276.81h0.8v0.8h-0.8zM36.13 276.78h0.8v0.8h-0.8zM36.24 274.62h0.8v0.8h-0.8zM45.61 273.69h0.8v0.8h-0.8zM41.13 275.35h0.8v0.8h-0.8zM39.88 273.73h0.8v0.8h-0.8zM34.48 271.75h0.8v0.8h-0.8zM41.33 276.07h0.8v0.8h-0.8zM35.41 277.94h0.8v0.8h-0.8zM40.98 280h0.8v0.8h-0.8zM39.35 277.22h0.8v0.8h-0.8zM40.35 276.79h0.8v0.8h-0.8zM38.21 275.4h0.8v0.8h-0.8zM40.77 277.42h0.8v0.8h-0.8zM34.81 275h0.8v0.8h-0.8zM38.86 278.7h0.8v0.8h-0.8zM37.3 273.6h0.8v0.8h-0.8zM40.89 276.65h0.8v0.8h-0.8zM43.86 275.14h0.8v0.8h-0.8zM43.65 273.77h0.8v0.8h-0.8zM40.96 275.67h0.8v0.8h-0.8zM35.02 276.3h0.8v0.8h-0.8zM42.45 276.88h0.8v0.8h-0.8zM37.71 277.88h0.8v0.8h-0.8zM41.2 276.81h0.8v0.8h-0.8zM39.31 276.29h0.8v0.8h-0.8zM36.1 276.39h0.8v0.8h-0.8zM38.52 274.84h0.8v0.8h-0.8zM37.67 276.42h0.8v0.8h-0.8zM39.34 277.45h0.8v0.8h-0.8zM35.44 276.02h0.8v0.8h-0.8zM39.04 275.28h0.8v0.8h-0.8zM39.19 275.11h0.8v0.8h-0.8zM41.61 274.97h0.8v0.8h-0.8zM35.5 277.79h0.8v0.8h-0.8zM42.42 272.16h0.8v0.8h-0.8zM38.08 276.18h0.8v0.8h-0.8zM41.75 277.62h0.8v0.8h-0.8zM37.49 273.78h0.8v0.8h-0.8zM40.59 277.11h0.8v0.8h-0.8zM39.73 275.85h0.8v0.8h-0.8zM36.94 280.1h0.8v0.8h-0.8zM34.62 274.48h0.8v0.8h-0.8zM41.22 275.86h0.8v0.8h-0.8zM40.39 276.14h0.8v0.8h-0.8zM43.54 277.13h0.8v0.8h-0.8zM37.21 277.82h0.8v0.8h-0.8zM34.62 274.17h0.8v0.8h-0.8zM41.62 274.66h0.8v0.8h-0.8zM32.47 277.24h0.8v0.8h-0.8zM36.74 277.15h0.8v0.8h-0.8zM38.02 274.9h0.8v0.8h-0.8zM36.69 277.56h0.8v0.8h-0.8zM35.89 276.74h0.8v0.8h-0.8zM35.83 277.26h0.8v0.8h-0.8zM43.54 275.8h0.8v0.8h-0.8zM41.65 276.02h0.8v0.8h-0.8zM35.66 276.13h0.8v0.8h-0.8zM38.75 276.62h0.8v0.8h-0.8zM36.95 277.27h0.8v0.8h-0.8zM36.45 276.53h0.8v0.8h-0.8zM38.03 274.31h0.8v0.8h-0.8zM41.21 275.49h0.8v0.8h-0.8zM38.71 275.9h0.8v0.8h-0.8zM32.16 275.17h0.8v0.8h-0.8zM36.26 278h0.8v0.8h-0.8zM37.02 277.25h0.8v0.8h-0.8zM35.31 275.36h0.8v0.8h-0.8zM37.46 277.85h0.8v0.8h-0.8zM33.79 276.72h0.8v0.8h-0.8zM39.59 275.97h0.8v0.8h-0.8zM38.62 277.17h0.8v0.8h-0.8zM38.9 274.34h0.8v0.8h-0.8zM39.93 274.48h0.8v0.8h-0.8zM37.94 278.35h0.8v0.8h-0.8zM45.63 276.72h0.8v0.8h-0.8zM39.36 274.6h0.8v0.8h-0.8zM36.84 278.92h0.8v0.8h-0.8zM38.9 273.76h0.8v0.8h-0.8zM42.94 275.94h0.8v0.8h-0.8zM42.19 275.83h0.8v0.8h-0.8zM32.23 276.18h0.8v0.8h-0.8zM37.97 275.84h0.8v0.8h-0.8zM42.39 274.12h0.8v0.8h-0.8zM38.13 275.98h0.8v0.8h-0.8zM37.84 274.53h0.8v0.8h-0.8zM34.23 272.91h0.8v0.8h-0.8zM39.28 275.51h0.8v0.8h-0.8zM38.65 274.33h0.8v0.8h-0.8zM38.12 274.57h0.8v0.8h-0.8zM35.73 277.1h0.8v0.8h-0.8zM40.36 276.49h0.8v0.8h-0.8zM38.18 275.46h0.8v0.8h-0.8zM42.67 277.03h0.8v0.8h-0.8zM36.33 274.77h0.8v0.8h-0.8zM39.54 276.26h0.8v0.8h-0.8zM36.62 279.92h0.8v0.8h-0.8zM32.39 276h0.8v0.8h-0.8zM39.4 277.33h0.8v0.8h-0.8zM33.16 276.45h0.8v0.8h-0.8zM42.82 277.24h0.8v0.8h-0.8zM37.73 276.21h0.8v0.8h-0.8zM36.1 277.11h0.8v0.8h-0.8zM34.89 273.62h0.8v0.8h-0.8zM34.23 276.98h0.8v0.8h-0.8zM35.12 278.42h0.8v0.8h-0.8zM42.28 276.73h0.8v0.8h-0.8zM40.58 277.3h0.8v0.8h-0.8zM39.42 277.13h0.8v0.8h-0.8zM39.96 276.89h0.8v0.8h-0.8zM35.41 275.63h0.8v0.8h-0.8zM35.93 277.82h0.8v0.8h-0.8zM39.57 274.54h0.8v0.8h-0.8zM35.51 275.73h0.8v0.8h-0.8zM40.79 275.33h0.8v0.8h-0.8zM37.54 275.13h0.8v0.8h-0.8zM38.59 278.44h0.8v0.8h-0.8zM36.41 275.89h0.8v0.8h-0.8zM43.33 276.08h0.8v0.8h-0.8zM35.62 278.28h0.8v0.8h-0.8zM35.11 277.57h0.8v0.8h-0.8zM31.14 276.02h0.8v0.8h-0.8zM40.76 274.59h0.8v0.8h-0.8zM36.44 276.51h0.8v0.8h-0.8zM38.28 275.31h0.8v0.8h-0.8zM37.12 279.06h0.8v0.8h-0.8zM42.64 275.62h0.8v0.8h-0.8zM35.08 275.9h0.8v0.8h-0.8zM37.77 276.9h0.8v0.8h-0.8zM42.68 274.3h0.8v0.8h-0.8zM38.69 275.28h0.8v0.8h-0.8zM38.59 274.91h0.8v0.8h-0.8zM39.83 277.5h0.8v0.8h-0.8zM37.23 275.75h0.8v0.8h-0.8zM38.33 274h0.8v0.8h-0.8zM43 272.97h0.8v0.8h-0.8zM37.15 274.91h0.8v0.8h-0.8zM42.41 274.41h0.8v0.8h-0.8zM37.62 279.09h0.8v0.8h-0.8zM37.85 274.93h0.8v0.8h-0.8zM38.47 276.3h0.8v0.8h-0.8zM36.31 276.17h0.8v0.8h-0.8zM38.07 277.2h0.8v0.8h-0.8zM40.8 276.79h0.8v0.8h-0.8zM38.34 277.26h0.8v0.8h-0.8zM38.2 277.84h0.8v0.8h-0.8zM39.4 275.14h0.8v0.8h-0.8zM41.35 273.05h0.8v0.8h-0.8zM35.5 275.4h0.8v0.8h-0.8zM37.67 274.27h0.8v0.8h-0.8zM34.52 273.92h0.8v0.8h-0.8zM38.5 274.8h0.8v0.8h-0.8zM44.71 275.87h0.8v0.8h-0.8zM35.68 278.63h0.8v0.8h-0.8zM39.05 277.54h0.8v0.8h-0.8zM35.73 278.37h0.8v0.8h-0.8zM41.32 274.75h0.8v0.8h-0.8zM35.96 275.95h0.8v0.8h-0.8zM39.91 279.41h0.8v0.8h-0.8zM43.88 277.16h0.8v0.8h-0.8zM37.72 275.65h0.8v0.8h-0.8zM39.35 275.39h0.8v0.8h-0.8zM37.07 275.97h0.8v0.8h-0.8zM40.73 275.41h0.8v0.8h-0.8zM39 275.48h0.8v0.8h-0.8zM37.78 275.63h0.8v0.8h-0.8zM41.98 275.61h0.8v0.8h-0.8zM42.49 274.88h0.8v0.8h-0.8zM40.92 273.34h0.8v0.8h-0.8zM37.3 276.15h0.8v0.8h-0.8zM36.64 276.21h0.8v0.8h-0.8zM35.83 276.31h0.8v0.8h-0.8zM36.58 276.39h0.8v0.8h-0.8zM37.3 274.7h0.8v0.8h-0.8zM40.77 275.68h0.8v0.8h-0.8zM37.26 276.7h0.8v0.8h-0.8zM47.45 273.49h0.8v0.8h-0.8zM44.99 275.86h0.8v0.8h-0.8zM39.8 278.6h0.8v0.8h-0.8zM52.23 270.64h0.8v0.8h-0.8zM50.89 271.63h0.8v0.8h-0.8zM47.53 270.18h0.8v0.8h-0.8zM47.16 274.32h0.8v0.8h-0.8zM36.78 274.91h0.8v0.8h-0.8zM37.7 274.52h0.8v0.8h-0.8zM43.9 274.47h0.8v0.8h-0.8zM32.01 277.16h0.8v0.8h-0.8zM44.39 274.9h0.8v0.8h-0.8zM48.47 269.89h0.8v0.8h-0.8zM43.45 275.02h0.8v0.8h-0.8zM44.74 271.86h0.8v0.8h-0.8zM36.99 276.21h0.8v0.8h-0.8zM41.87 271.59h0.8v0.8h-0.8zM43.93 274.82h0.8v0.8h-0.8zM44.17 269.36h0.8v0.8h-0.8zM44.06 272.96h0.8v0.8h-0.8zM40.86 277.22h0.8v0.8h-0.8zM49.44 273.78h0.8v0.8h-0.8zM42.62 277.87h0.8v0.8h-0.8zM38.69 275.82h0.8v0.8h-0.8zM39.88 273.8h0.8v0.8h-0.8zM44.22 278.99h0.8v0.8h-0.8zM43.69 275.93h0.8v0.8h-0.8zM42.85 277.44h0.8v0.8h-0.8zM42.74 273.3h0.8v0.8h-0.8zM43.54 277.91h0.8v0.8h-0.8zM42.67 277.64h0.8v0.8h-0.8zM43.13 279.24h0.8v0.8h-0.8zM43.91 276.2h0.8v0.8h-0.8zM41.65 277.13h0.8v0.8h-0.8zM40.78 272.55h0.8v0.8h-0.8zM43.09 272.54h0.8v0.8h-0.8zM48.88 275.24h0.8v0.8h-0.8zM42.84 276.53h0.8v0.8h-0.8zM32.55 280.85h0.8v0.8h-0.8zM40.1 277.18h0.8v0.8h-0.8zM52.15 269.43h0.8v0.8h-0.8zM40.9 276.3h0.8v0.8h-0.8zM43.33 271.48h0.8v0.8h-0.8zM39.34 279.06h0.8v0.8h-0.8zM40.24 276.9h0.8v0.8h-0.8zM36.38 274.83h0.8v0.8h-0.8zM35.09 277.6h0.8v0.8h-0.8zM47.22 274.21h0.8v0.8h-0.8zM41.43 275.96h0.8v0.8h-0.8zM44.21 274.16h0.8v0.8h-0.8zM45.66 278.45h0.8v0.8h-0.8zM51.27 271.82h0.8v0.8h-0.8zM38.2 280.24h0.8v0.8h-0.8zM47.05 276.58h0.8v0.8h-0.8zM44.81 274.15h0.8v0.8h-0.8zM46.99 276.39h0.8v0.8h-0.8zM46.73 271.89h0.8v0.8h-0.8zM46.49 273.47h0.8v0.8h-0.8zM41.14 276.26h0.8v0.8h-0.8zM42.14 280.09h0.8v0.8h-0.8zM44.88 275.16h0.8v0.8h-0.8zM41.78 275.89h0.8v0.8h-0.8zM41.78 276.58h0.8v0.8h-0.8zM46.39 275.96h0.8v0.8h-0.8zM37.13 275.84h0.8v0.8h-0.8zM42.19 272.74h0.8v0.8h-0.8zM43.92 274.54h0.8v0.8h-0.8zM42.87 275.9h0.8v0.8h-0.8zM40.65 278.88h0.8v0.8h-0.8zM46.42 273.08h0.8v0.8h-0.8zM44.72 276.18h0.8v0.8h-0.8zM39.14 275.3h0.8v0.8h-0.8zM44.05 269.46h0.8v0.8h-0.8zM37.2 277.2h0.8v0.8h-0.8zM44.54 272.77h0.8v0.8h-0.8zM47.04 278.65h0.8v0.8h-0.8zM43.28 274.92h0.8v0.8h-0.8zM42.24 273.16h0.8v0.8h-0.8zM44.79 275h0.8v0.8h-0.8zM46.19 277.23h0.8v0.8h-0.8zM42.69 275.53h0.8v0.8h-0.8zM44.63 278.27h0.8v0.8h-0.8zM36.48 276.69h0.8v0.8h-0.8zM39.94 276.1h0.8v0.8h-0.8zM45.9 274.5h0.8v0.8h-0.8zM45.56 274.83h0.8v0.8h-0.8zM39.21 274.65h0.8v0.8h-0.8zM36.9 277.06h0.8v0.8h-0.8zM41.25 277.25h0.8v0.8h-0.8zM45.98 272.49h0.8v0.8h-0.8zM38.3 277.5h0.8v0.8h-0.8zM38.96 276.52h0.8v0.8h-0.8zM44.76 273.84h0.8v0.8h-0.8zM49.37 271.88h0.8v0.8h-0.8zM44 273.97h0.8v0.8h-0.8zM30.57 277.82h0.8v0.8h-0.8zM42.09 276.5h0.8v0.8h-0.8zM41.55 273.92h0.8v0.8h-0.8zM40.19 275.14h0.8v0.8h-0.8zM45.42 273.9h0.8v0.8h-0.8zM47.92 275.62h0.8v0.8h-0.8zM39.92 277.98h0.8v0.8h-0.8zM33.2 277.57h0.8v0.8h-0.8zM38.4 276.02h0.8v0.8h-0.8zM47.18 274.03h0.8v0.8h-0.8zM42.39 277.88h0.8v0.8h-0.8zM38.93 274.37h0.8v0.8h-0.8zM46.74 275.41h0.8v0.8h-0.8zM42.86 275.34h0.8v0.8h-0.8zM51.48 273.12h0.8v0.8h-0.8zM46.91 274.59h0.8v0.8h-0.8zM49.02 272.34h0.8v0.8h-0.8zM51.16 270h0.8v0.8h-0.8zM48.98 278.72h0.8v0.8h-0.8zM44.24 274.68h0.8v0.8h-0.8zM39.14 273.8h0.8v0.8h-0.8zM43.92 274.95h0.8v0.8h-0.8zM47.2 278.36h0.8v0.8h-0.8zM44.79 274.6h0.8v0.8h-0.8zM49.56 275.26h0.8v0.8h-0.8zM51.39 269.99h0.8v0.8h-0.8zM57 271.82h0.8v0.8h-0.8zM44.98 270.94h0.8v0.8h-0.8zM46.01 270.47h0.8v0.8h-0.8zM48.95 272.58h0.8v0.8h-0.8zM49.43 272.07h0.8v0.8h-0.8zM49.59 278.8h0.8v0.8h-0.8zM53.13 273.55h0.8v0.8h-0.8zM45.11 277.88h0.8v0.8h-0.8zM41.2 272.12h0.8v0.8h-0.8zM53.34 271.81h0.8v0.8h-0.8zM53.99 274.32h0.8v0.8h-0.8zM57.73 276.38h0.8v0.8h-0.8zM50.51 272.23h0.8v0.8h-0.8zM51.32 276.65h0.8v0.8h-0.8zM47.88 267.63h0.8v0.8h-0.8zM46.8 273.48h0.8v0.8h-0.8zM48.07 273.29h0.8v0.8h-0.8zM52.46 270.46h0.8v0.8h-0.8zM49.41 269.39h0.8v0.8h-0.8zM39.45 273.32h0.8v0.8h-0.8zM45.12 272.58h0.8v0.8h-0.8zM45.89 275.83h0.8v0.8h-0.8z"/>
<rect x="24.3" y="242.4" width="45.5" height="44.4" rx="1.2" fill="none" stroke="#555" stroke-width="0.8"/>
<path d="M24.3 247.33h1.3M24.3 252.27h1.3M24.3 257.2h1.3M24.3 262.13h1.3M24.3 267.07h1.3M24.3 272h1.3M24.3 276.93h1.3M24.3 281.87h1.3M29.36 286.8v-1.3M34.41 286.8v-1.3M39.47 286.8v-1.3M44.52 286.8v-1.3M49.58 286.8v-1.3M54.63 286.8v-1.3M59.69 286.8v-1.3M64.74 286.8v-1.3" stroke="#555" stroke-width="0.5" fill="none"/>
<rect x="42.7" y="262.1" width="18.6" height="22" fill="none" stroke="#4a4a4a" stroke-width="0.8"/>
<text x="52" y="261.38" font-size="8" text-anchor="middle" textLength="13.7" lengthAdjust="spacingAndGlyphs">31.3</text>
<path fill="#1234f0" d="M88.83 275.78h0.8v0.8h-0.8zM87.54 274.87h0.8v0.8h-0.8zM84.06 274.49h0.8v0.8h-0.8zM85.72 274.58h0.8v0.8h-0.8zM86.55 277.26h0.8v0.8h-0.8zM89.13 277.63h0.8v0.8h-0.8zM83.97 273.32h0.8v0.8h-0.8zM84.78 279.58h0.8v0.8h-0.8zM88.99 274.95h0.8v0.8h-0.8zM90.71 274.62h0.8v0.8h-0.8zM91.67 274.43h0.8v0.8h-0.8zM86.31 277.26h0.8v0.8h-0.8zM84.01 276.43h0.8v0.8h-0.8zM92.66 275.51h0.8v0.8h-0.8zM84.1 276.28h0.8v0.8h-0.8zM86.89 274.9h0.8v0.8h-0.8zM88.72 277.6h0.8v0.8h-0.8zM87.61 277.28h0.8v0.8h-0.8zM88.05 276.03h0.8v0.8h-0.8zM85.44 277.85h0.8v0.8h-0.8zM90.77 274.55h0.8v0.8h-0.8zM84.96 277.28h0.8v0.8h-0.8zM87.84 277.6h0.8v0.8h-0.8zM88.51 275.52h0.8v0.8h-0.8zM83.59 277.72h0.8v0.8h-0.8zM87.08 274.08h0.8v0.8h-0.8zM82.54 274.18h0.8v0.8h-0.8zM88.77 275h0.8v0.8h-0.8zM77.81 276.64h0.8v0.8h-0.8zM85.42 276.21h0.8v0.8h-0.8zM87.19 275.48h0.8v0.8h-0.8zM89.55 277.07h0.8v0.8h-0.8zM87.07 278.45h0.8v0.8h-0.8zM86.58 274.8h0.8v0.8h-0.8zM87.17 273.8h0.8v0.8h-0.8zM86.04 274.62h0.8v0.8h-0.8zM86.08 276.54h0.8v0.8h-0.8zM80.59 278h0.8v0.8h-0.8zM87.84 275.53h0.8v0.8h-0.8zM89.26 276.09h0.8v0.8h-0.8zM85.88 274.73h0.8v0.8h-0.8zM89.44 276.69h0.8v0.8h-0.8zM82.92 275.79h0.8v0.8h-0.8zM84.21 277.91h0.8v0.8h-0.8zM85.22 274.49h0.8v0.8h-0.8zM91.47 275.79h0.8v0.8h-0.8zM87.91 276.22h0.8v0.8h-0.8zM86.71 276.15h0.8v0.8h-0.8zM89.78 276.13h0.8v0.8h-0.8zM85.96 276.41h0.8v0.8h-0.8zM92.16 274.09h0.8v0.8h-0.8zM83.6 276.94h0.8v0.8h-0.8zM84.87 280.53h0.8v0.8h-0.8zM89.08 276.49h0.8v0.8h-0.8zM88.81 278.68h0.8v0.8h-0.8zM84.37 276.51h0.8v0.8h-0.8zM82.98 278.8h0.8v0.8h-0.8zM87.53 278.64h0.8v0.8h-0.8zM86.09 274.62h0.8v0.8h-0.8zM85.5 277.59h0.8v0.8h-0.8zM85 276.86h0.8v0.8h-0.8zM84.97 275.37h0.8v0.8h-0.8zM86.15 278.72h0.8v0.8h-0.8zM84.32 277.1h0.8v0.8h-0.8zM89.16 274.42h0.8v0.8h-0.8zM83.5 279.09h0.8v0.8h-0.8zM91.87 274.61h0.8v0.8h-0.8zM84.14 277.98h0.8v0.8h-0.8zM86.81 274.8h0.8v0.8h-0.8zM85.36 272.69h0.8v0.8h-0.8zM84.54 274.67h0.8v0.8h-0.8zM83.72 277.62h0.8v0.8h-0.8zM88.44 278.34h0.8v0.8h-0.8zM79.56 276.58h0.8v0.8h-0.8zM85.26 278.44h0.8v0.8h-0.8zM90.06 275.56h0.8v0.8h-0.8zM87.18 274.82h0.8v0.8h-0.8zM85.59 275.63h0.8v0.8h-0.8zM80.79 280.27h0.8v0.8h-0.8zM89.84 278.64h0.8v0.8h-0.8zM90.72 276h0.8v0.8h-0.8zM88.92 273h0.8v0.8h-0.8zM84.63 277.84h0.8v0.8h-0.8zM85.59 273.82h0.8v0.8h-0.8zM86.71 274.09h0.8v0.8h-0.8zM87.65 278.3h0.8v0.8h-0.8zM83.87 275.99h0.8v0.8h-0.8zM88.67 275.62h0.8v0.8h-0.8zM87.39 274.63h0.8v0.8h-0.8zM85.46 272.65h0.8v0.8h-0.8zM87.06 277.99h0.8v0.8h-0.8zM83.98 276.37h0.8v0.8h-0.8zM89.49 277.38h0.8v0.8h-0.8zM90.08 273.98h0.8v0.8h-0.8zM86.54 278.83h0.8v0.8h-0.8zM85.94 276.68h0.8v0.8h-0.8zM84.59 275.5h0.8v0.8h-0.8zM78.75 276.92h0.8v0.8h-0.8zM80.73 275.77h0.8v0.8h-0.8zM84.84 278.57h0.8v0.8h-0.8zM89.38 276.13h0.8v0.8h-0.8zM85.26 274.22h0.8v0.8h-0.8zM88.2 274.47h0.8v0.8h-0.8zM87.11 277.45h0.8v0.8h-0.8zM86.59 276.05h0.8v0.8h-0.8zM84.7 278.12h0.8v0.8h-0.8zM88.82 276.72h0.8v0.8h-0.8zM91.12 272.6h0.8v0.8h-0.8zM87.4 276.92h0.8v0.8h-0.8zM88.15 276.24h0.8v0.8h-0.8zM87.94 273.43h0.8v0.8h-0.8zM87.27 277.75h0.8v0.8h-0.8zM86.91 275.72h0.8v0.8h-0.8zM88.92 272.88h0.8v0.8h-0.8zM88.7 278h0.8v0.8h-0.8zM86.15 274.9h0.8v0.8h-0.8zM88.44 274.99h0.8v0.8h-0.8zM84.9 276.71h0.8v0.8h-0.8zM82.72 277.95h0.8v0.8h-0.8zM83.62 275.87h0.8v0.8h-0.8zM89.12 275.5h0.8v0.8h-0.8zM88.28 277.87h0.8v0.8h-0.8zM92 278.19h0.8v0.8h-0.8zM85.88 277.67h0.8v0.8h-0.8zM82.78 278.14h0.8v0.8h-0.8zM90.51 274.13h0.8v0.8h-0.8zM88.67 276.95h0.8v0.8h-0.8zM86.47 275.12h0.8v0.8h-0.8zM90.89 273.12h0.8v0.8h-0.8zM87.88 277.3h0.8v0.8h-0.8zM88.27 278.19h0.8v0.8h-0.8zM91.38 275.8h0.8v0.8h-0.8zM92.28 276.05h0.8v0.8h-0.8zM83.6 276.22h0.8v0.8h-0.8zM87.93 276.1h0.8v0.8h-0.8zM83.14 280.4h0.8v0.8h-0.8zM82.42 275.22h0.8v0.8h-0.8zM88.43 276.01h0.8v0.8h-0.8zM91.46 275.41h0.8v0.8h-0.8zM88.4 276.84h0.8v0.8h-0.8zM84.68 274.49h0.8v0.8h-0.8zM86.16 277.77h0.8v0.8h-0.8zM86.73 278.01h0.8v0.8h-0.8zM85.83 277.43h0.8v0.8h-0.8zM87.48 277.22h0.8v0.8h-0.8zM87.22 276.27h0.8v0.8h-0.8zM86.23 278.11h0.8v0.8h-0.8zM87.19 276.75h0.8v0.8h-0.8zM88.66 274.27h0.8v0.8h-0.8zM84.82 276.41h0.8v0.8h-0.8zM90.34 273.66h0.8v0.8h-0.8zM84 275.11h0.8v0.8h-0.8zM85.71 274.63h0.8v0.8h-0.8zM85.03 277.25h0.8v0.8h-0.8zM84.11 276.61h0.8v0.8h-0.8zM83.81 276.38h0.8v0.8h-0.8zM87.95 272.7h0.8v0.8h-0.8zM87.36 276.29h0.8v0.8h-0.8zM87.06 276.4h0.8v0.8h-0.8zM87.88 273.81h0.8v0.8h-0.8zM87 277.02h0.8v0.8h-0.8zM90.3 273.2h0.8v0.8h-0.8zM85.06 274.3h0.8v0.8h-0.8zM86.75 274.41h0.8v0.8h-0.8zM84.66 277.71h0.8v0.8h-0.8zM92.71 271.6h0.8v0.8h-0.8zM91.42 273.65h0.8v0.8h-0.8zM89.15 276.11h0.8v0.8h-0.8zM90.5 274.95h0.8v0.8h-0.8zM84.83 276.38h0.8v0.8h-0.8zM89.05 274.2h0.8v0.8h-0.8zM88.28 275.73h0.8v0.8h-0.8zM87.65 275.89h0.8v0.8h-0.8zM89.07 276.82h0.8v0.8h-0.8zM86.24 275.63h0.8v0.8h-0.8zM80.93 275.95h0.8v0.8h-0.8zM83.14 277.89h0.8v0.8h-0.8zM83.94 275.59h0.8v0.8h-0.8zM88.93 277.15h0.8v0.8h-0.8zM90.25 274.01h0.8v0.8h-0.8zM88.15 277.43h0.8v0.8h-0.8zM84.73 276.15h0.8v0.8h-0.8zM83.58 275.75h0.8v0.8h-0.8zM89.14 275.71h0.8v0.8h-0.8zM85.97 275.37h0.8v0.8h-0.8zM91.6 276.21h0.8v0.8h-0.8zM84.41 279.93h0.8v0.8h-0.8zM85.97 276.01h0.8v0.8h-0.8zM85.62 275.43h0.8v0.8h-0.8zM88.47 273.47h0.8v0.8h-0.8zM87.14 275.49h0.8v0.8h-0.8zM92.1 275.54h0.8v0.8h-0.8zM88.53 276.51h0.8v0.8h-0.8zM88.84 275.82h0.8v0.8h-0.8zM80.53 278.06h0.8v0.8h-0.8zM86.5 277.22h0.8v0.8h-0.8zM87.85 275h0.8v0.8h-0.8zM84.38 275.01h0.8v0.8h-0.8zM87.92 275.67h0.8v0.8h-0.8zM84.6 275.97h0.8v0.8h-0.8zM87.92 274.8h0.8v0.8h-0.8zM86.62 275.16h0.8v0.8h-0.8zM80.03 277.65h0.8v0.8h-0.8zM87.59 277.15h0.8v0.8h-0.8zM90.53 274.15h0.8v0.8h-0.8zM88.89 276.04h0.8v0.8h-0.8zM87.64 277.17h0.8v0.8h-0.8zM89.18 273.61h0.8v0.8h-0.8zM91.18 274.86h0.8v0.8h-0.8zM85.11 275.36h0.8v0.8h-0.8zM86.19 274.46h0.8v0.8h-0.8zM90.3 275.99h0.8v0.8h-0.8zM84.94 277.74h0.8v0.8h-0.8zM87.84 275.97h0.8v0.8h-0.8zM89.79 275.29h0.8v0.8h-0.8zM86.61 276.89h0.8v0.8h-0.8zM81.74 275.29h0.8v0.8h-0.8zM88.9 277.27h0.8v0.8h-0.8zM82.53 277h0.8v0.8h-0.8zM85.25 275.96h0.8v0.8h-0.8zM89.29 277.84h0.8v0.8h-0.8zM92.33 276.36h0.8v0.8h-0.8zM88.98 275.83h0.8v0.8h-0.8zM82.15 277.67h0.8v0.8h-0.8zM83.54 275.05h0.8v0.8h-0.8zM87.01 273.59h0.8v0.8h-0.8zM92.23 275.84h0.8v0.8h-0.8zM88.33 276.49h0.8v0.8h-0.8zM87.86 275.95h0.8v0.8h-0.8zM88.91 274.59h0.8v0.8h-0.8zM87.97 276.08h0.8v0.8h-0.8zM88.97 273.91h0.8v0.8h-0.8zM87.81 275.66h0.8v0.8h-0.8zM89.08 276.42h0.8v0.8h-0.8zM87.83 276.56h0.8v0.8h-0.8zM88.82 277.74h0.8v0.8h-0.8zM88.18 276.6h0.8v0.8h-0.8zM84.54 276.24h0.8v0.8h-0.8zM89.62 277.09h0.8v0.8h-0.8zM84.47 276.5h0.8v0.8h-0.8zM86.44 276.23h0.8v0.8h-0.8zM85.72 275.65h0.8v0.8h-0.8zM87.04 276.21h0.8v0.8h-0.8zM89.71 274.14h0.8v0.8h-0.8zM84.78 277.72h0.8v0.8h-0.8zM88.49 275.42h0.8v0.8h-0.8zM84.33 278.22h0.8v0.8h-0.8zM84.57 278.29h0.8v0.8h-0.8zM87.81 275.63h0.8v0.8h-0.8zM86.96 277.3h0.8v0.8h-0.8zM86.66 273.43h0.8v0.8h-0.8zM84.58 273.24h0.8v0.8h-0.8zM88.56 277.12h0.8v0.8h-0.8zM89.59 273.41h0.8v0.8h-0.8zM93.58 277.43h0.8v0.8h-0.8zM86.25 273.13h0.8v0.8h-0.8zM85.11 278.04h0.8v0.8h-0.8zM92.68 273.99h0.8v0.8h-0.8zM81.8 275.65h0.8v0.8h-0.8zM92.43 274.87h0.8v0.8h-0.8zM84.41 272.55h0.8v0.8h-0.8zM94.15 276.11h0.8v0.8h-0.8zM89.11 275.29h0.8v0.8h-0.8zM91.31 274.45h0.8v0.8h-0.8zM88.64 274.63h0.8v0.8h-0.8zM89.33 278.19h0.8v0.8h-0.8zM93.29 276.77h0.8v0.8h-0.8zM97.57 268.87h0.8v0.8h-0.8zM91.35 277.12h0.8v0.8h-0.8zM89.99 274.25h0.8v0.8h-0.8zM92.52 273.76h0.8v0.8h-0.8zM87.57 275.45h0.8v0.8h-0.8zM91.38 275.15h0.8v0.8h-0.8zM94.84 274.32h0.8v0.8h-0.8zM90.69 281.6h0.8v0.8h-0.8zM90.09 274.9h0.8v0.8h-0.8zM90.23 273.98h0.8v0.8h-0.8zM84.81 277.18h0.8v0.8h-0.8zM96.24 270.16h0.8v0.8h-0.8zM88.27 276.79h0.8v0.8h-0.8zM88.63 276.91h0.8v0.8h-0.8zM90.42 273.1h0.8v0.8h-0.8zM90.02 274.41h0.8v0.8h-0.8zM92.14 269.7h0.8v0.8h-0.8zM93.48 277.36h0.8v0.8h-0.8zM91.88 275.5h0.8v0.8h-0.8zM89.13 276.39h0.8v0.8h-0.8zM89.93 272.85h0.8v0.8h-0.8zM85.19 271.89h0.8v0.8h-0.8zM93.01 275.08h0.8v0.8h-0.8zM95.73 274.58h0.8v0.8h-0.8zM93.33 271.88h0.8v0.8h-0.8zM83.25 275.98h0.8v0.8h-0.8zM89.98 276.23h0.8v0.8h-0.8zM90.53 275h0.8v0.8h-0.8zM91.45 275.64h0.8v0.8h-0.8zM92.13 275.6h0.8v0.8h-0.8zM89.06 275.52h0.8v0.8h-0.8zM84.6 274.52h0.8v0.8h-0.8zM90.25 276.3h0.8v0.8h-0.8zM87.39 273.22h0.8v0.8h-0.8zM94.65 272.59h0.8v0.8h-0.8zM83.65 275.05h0.8v0.8h-0.8zM85.14 271.69h0.8v0.8h-0.8zM90.39 278.86h0.8v0.8h-0.8zM87.72 274.35h0.8v0.8h-0.8zM95.86 274.2h0.8v0.8h-0.8zM91.39 277.94h0.8v0.8h-0.8zM86.3 276.27h0.8v0.8h-0.8zM93.31 275.07h0.8v0.8h-0.8zM85.92 274.58h0.8v0.8h-0.8zM98.37 273.2h0.8v0.8h-0.8zM90.6 277.55h0.8v0.8h-0.8zM83.82 276.91h0.8v0.8h-0.8zM84.64 279.69h0.8v0.8h-0.8zM87.16 276.42h0.8v0.8h-0.8zM87.46 276.38h0.8v0.8h-0.8zM92.46 274.89h0.8v0.8h-0.8zM89.98 276h0.8v0.8h-0.8zM89.93 274.46h0.8v0.8h-0.8zM94.14 276.21h0.8v0.8h-0.8zM85.16 274.61h0.8v0.8h-0.8zM88.14 276.55h0.8v0.8h-0.8zM86.19 279.63h0.8v0.8h-0.8zM91.41 275.45h0.8v0.8h-0.8zM94.36 272.86h0.8v0.8h-0.8zM92.88 275.6h0.8v0.8h-0.8zM95.92 271.84h0.8v0.8h-0.8zM97.1 274.95h0.8v0.8h-0.8zM92.71 277.01h0.8v0.8h-0.8zM90.06 275.07h0.8v0.8h-0.8zM94.41 273.66h0.8v0.8h-0.8zM96.25 276.76h0.8v0.8h-0.8zM92.15 275.32h0.8v0.8h-0.8zM88.1 274.08h0.8v0.8h-0.8zM96.55 271.74h0.8v0.8h-0.8zM91.68 275.68h0.8v0.8h-0.8zM87.21 274.79h0.8v0.8h-0.8zM89.35 280.02h0.8v0.8h-0.8zM93.38 277.52h0.8v0.8h-0.8zM99.96 275.1h0.8v0.8h-0.8zM96.35 273.01h0.8v0.8h-0.8zM89.1 278.71h0.8v0.8h-0.8zM96.67 271.75h0.8v0.8h-0.8zM96.01 274.62h0.8v0.8h-0.8zM94.94 276.26h0.8v0.8h-0.8zM98.66 272.07h0.8v0.8h-0.8zM91.85 277.65h0.8v0.8h-0.8zM90.45 276.53h0.8v0.8h-0.8zM90.11 271.99h0.8v0.8h-0.8zM89.43 277.48h0.8v0.8h-0.8zM88.29 272.79h0.8v0.8h-0.8zM89.26 275.92h0.8v0.8h-0.8zM93.42 275.36h0.8v0.8h-0.8zM92.9 272.63h0.8v0.8h-0.8zM88.45 274.34h0.8v0.8h-0.8zM89.7 276.52h0.8v0.8h-0.8zM96.58 273.41h0.8v0.8h-0.8zM96.13 276.29h0.8v0.8h-0.8zM86.23 274.8h0.8v0.8h-0.8zM91.24 272.39h0.8v0.8h-0.8zM97.99 269.69h0.8v0.8h-0.8zM86.68 277.98h0.8v0.8h-0.8zM88.6 277.35h0.8v0.8h-0.8zM87.8 278.27h0.8v0.8h-0.8zM89.28 277.21h0.8v0.8h-0.8zM94.66 271.3h0.8v0.8h-0.8zM86.86 272.73h0.8v0.8h-0.8zM87.24 278.13h0.8v0.8h-0.8zM91.59 276.9h0.8v0.8h-0.8zM103.29 275.29h0.8v0.8h-0.8zM99.99 272.61h0.8v0.8h-0.8zM95.91 275h0.8v0.8h-0.8zM101.14 275.79h0.8v0.8h-0.8zM98.38 273.2h0.8v0.8h-0.8zM97.65 277.69h0.8v0.8h-0.8zM99.19 278.18h0.8v0.8h-0.8zM94.86 276.43h0.8v0.8h-0.8zM98.48 275.54h0.8v0.8h-0.8zM94.51 275.3h0.8v0.8h-0.8zM96.98 273.49h0.8v0.8h-0.8zM92.11 271.82h0.8v0.8h-0.8zM96.24 275.46h0.8v0.8h-0.8zM98.46 274.39h0.8v0.8h-0.8zM98.1 270.91h0.8v0.8h-0.8zM101.55 273.47h0.8v0.8h-0.8zM94.19 273.39h0.8v0.8h-0.8zM101.31 273.78h0.8v0.8h-0.8zM91.62 279.74h0.8v0.8h-0.8zM92.2 278.78h0.8v0.8h-0.8zM100.31 271.3h0.8v0.8h-0.8zM102.72 275.91h0.8v0.8h-0.8zM101.7 274.74h0.8v0.8h-0.8zM98.72 274.3h0.8v0.8h-0.8zM95.38 275.02h0.8v0.8h-0.8zM102.34 272.94h0.8v0.8h-0.8zM104.5 269.34h0.8v0.8h-0.8zM96.93 270.83h0.8v0.8h-0.8zM90.58 275.82h0.8v0.8h-0.8zM95.88 273.09h0.8v0.8h-0.8zM93.13 274.28h0.8v0.8h-0.8zM90.95 274.76h0.8v0.8h-0.8zM94.83 271.73h0.8v0.8h-0.8zM98.28 269.76h0.8v0.8h-0.8zM99.16 274.34h0.8v0.8h-0.8z"/>
<rect x="73.1" y="242.4" width="45.5" height="44.4" rx="1.2" fill="none" stroke="#555" stroke-width="0.8"/>
<path d="M73.1 247.33h1.3M73.1 252.27h1.3M73.1 257.2h1.3M73.1 262.13h1.3M73.1 267.07h1.3M73.1 272h1.3M73.1 276.93h1.3M73.1 281.87h1.3M78.16 286.8v-1.3M83.21 286.8v-1.3M88.27 286.8v-1.3M93.32 286.8v-1.3M98.38 286.8v-1.3M103.43 286.8v-1.3M108.49 286.8v-1.3M113.54 286.8v-1.3" stroke="#555" stroke-width="0.5" fill="none"/>
<rect x="91.1" y="262.1" width="19" height="22" fill="none" stroke="#4a4a4a" stroke-width="0.8"/>
<text x="100.6" y="261.38" font-size="8" text-anchor="middle" textLength="13.7" lengthAdjust="spacingAndGlyphs">19.9</text>
<text transform="translate(20.56 202.6) rotate(-90)" font-size="8.5" text-anchor="middle" textLength="28.5" lengthAdjust="spacingAndGlyphs">Isotype</text>
<text transform="translate(20.86 265.2) rotate(-90)" font-size="8.5" text-anchor="middle" textLength="27.6" lengthAdjust="spacingAndGlyphs">αPD-L1</text>
<line x1="4.7" y1="260.7" x2="4.7" y2="184.56" stroke="#231f20" stroke-width="0.9"/>
<path d="M4.7 182 L3.2 185.2 L6.2 185.2 Z" fill="#231f20"/>
<text transform="translate(7.26 275.5) rotate(-90)" font-size="8.5" text-anchor="middle" textLength="24.7" lengthAdjust="spacingAndGlyphs">SSC-A</text>
<text x="25.6" y="298.96" font-size="8.5" textLength="65.4" lengthAdjust="spacingAndGlyphs">APC granzyme B</text>
<line x1="96.8" y1="296.3" x2="115.24" y2="296.3" stroke="#231f20" stroke-width="0.9"/>
<path d="M117.8 296.3 L114.6 294.8 L114.6 297.8 Z" fill="#231f20"/>
<line x1="169" y1="178.5" x2="169" y2="261.65" stroke="#6a6a6a" stroke-width="0.9"/>
<line x1="168.55" y1="261.2" x2="231.6" y2="261.2" stroke="#6a6a6a" stroke-width="0.9"/>
<line x1="165.7" y1="261.2" x2="169" y2="261.2" stroke="#6a6a6a" stroke-width="0.85"/>
<text x="161.1" y="264.01" font-size="7.8" text-anchor="end">10</text>
<line x1="165.7" y1="233.9" x2="169" y2="233.9" stroke="#6a6a6a" stroke-width="0.85"/>
<text x="161.1" y="236.71" font-size="7.8" text-anchor="end">20</text>
<line x1="165.7" y1="206.6" x2="169" y2="206.6" stroke="#6a6a6a" stroke-width="0.85"/>
<text x="161.1" y="209.41" font-size="7.8" text-anchor="end">30</text>
<line x1="165.7" y1="179.3" x2="169" y2="179.3" stroke="#6a6a6a" stroke-width="0.85"/>
<text x="161.1" y="182.11" font-size="7.8" text-anchor="end">40</text>
<circle cx="178.1" cy="222.5" r="2.3" fill="none" stroke="#333" stroke-width="0.75"/>
<circle cx="175.2" cy="227.3" r="2.3" fill="none" stroke="#333" stroke-width="0.75"/>
<circle cx="180.4" cy="228.2" r="2.3" fill="none" stroke="#333" stroke-width="0.75"/>
<circle cx="178.1" cy="229.6" r="2.3" fill="none" stroke="#333" stroke-width="0.75"/>
<circle cx="178.1" cy="239.1" r="2.3" fill="none" stroke="#333" stroke-width="0.75"/>
<line x1="173.4" y1="228.7" x2="183.4" y2="228.7" stroke="#333" stroke-width="0.75"/>
<line x1="178.4" y1="226.3" x2="178.4" y2="232" stroke="#333" stroke-width="0.75"/>
<line x1="176.2" y1="226.3" x2="180.6" y2="226.3" stroke="#333" stroke-width="0.75"/>
<line x1="176.2" y1="232" x2="180.6" y2="232" stroke="#333" stroke-width="0.75"/>
<circle cx="189.9" cy="225.8" r="2.3" fill="none" stroke="#ee2a2a" stroke-width="0.75"/>
<circle cx="195.6" cy="229.2" r="2.3" fill="none" stroke="#ee2a2a" stroke-width="0.75"/>
<circle cx="189.9" cy="231.5" r="2.3" fill="none" stroke="#ee2a2a" stroke-width="0.75"/>
<circle cx="195.6" cy="239.4" r="2.3" fill="none" stroke="#ee2a2a" stroke-width="0.75"/>
<circle cx="189.9" cy="241.5" r="2.3" fill="none" stroke="#ee2a2a" stroke-width="0.75"/>
<line x1="188" y1="233.4" x2="198" y2="233.4" stroke="#333" stroke-width="0.75"/>
<line x1="193" y1="230.6" x2="193" y2="236.3" stroke="#333" stroke-width="0.75"/>
<line x1="190.8" y1="230.6" x2="195.2" y2="230.6" stroke="#333" stroke-width="0.75"/>
<line x1="190.8" y1="236.3" x2="195.2" y2="236.3" stroke="#333" stroke-width="0.75"/>
<circle cx="207" cy="202.4" r="2.3" fill="none" stroke="#7f4fb0" stroke-width="0.75"/>
<circle cx="204.2" cy="211.3" r="2.3" fill="none" stroke="#7f4fb0" stroke-width="0.75"/>
<circle cx="209.9" cy="211.3" r="2.3" fill="none" stroke="#7f4fb0" stroke-width="0.75"/>
<circle cx="207" cy="221.1" r="2.3" fill="none" stroke="#7f4fb0" stroke-width="0.75"/>
<circle cx="207" cy="228.2" r="2.3" fill="none" stroke="#7f4fb0" stroke-width="0.75"/>
<line x1="202.2" y1="214.9" x2="212.2" y2="214.9" stroke="#333" stroke-width="0.75"/>
<line x1="207.2" y1="210.7" x2="207.2" y2="219.7" stroke="#333" stroke-width="0.75"/>
<line x1="205" y1="210.7" x2="209.4" y2="210.7" stroke="#333" stroke-width="0.75"/>
<line x1="205" y1="219.7" x2="209.4" y2="219.7" stroke="#333" stroke-width="0.75"/>
<circle cx="221.7" cy="229.6" r="2.3" fill="none" stroke="#3a6ae8" stroke-width="0.75"/>
<circle cx="221.7" cy="233.9" r="2.3" fill="none" stroke="#3a6ae8" stroke-width="0.75"/>
<circle cx="221.7" cy="238.2" r="2.3" fill="none" stroke="#3a6ae8" stroke-width="0.75"/>
<circle cx="225" cy="239.1" r="2.3" fill="none" stroke="#3a6ae8" stroke-width="0.75"/>
<circle cx="218.9" cy="241.5" r="2.3" fill="none" stroke="#3a6ae8" stroke-width="0.75"/>
<line x1="216.7" y1="236.3" x2="226.7" y2="236.3" stroke="#333" stroke-width="0.75"/>
<line x1="221.7" y1="233.9" x2="221.7" y2="238.6" stroke="#333" stroke-width="0.75"/>
<line x1="219.5" y1="233.9" x2="223.9" y2="233.9" stroke="#333" stroke-width="0.75"/>
<line x1="219.5" y1="238.6" x2="223.9" y2="238.6" stroke="#333" stroke-width="0.75"/>
<line x1="188" y1="180.6" x2="227.7" y2="180.6" stroke="#888" stroke-width="0.8"/>
<text x="206.4" y="179.3" font-size="7" text-anchor="middle" fill="#231f20">n.s.</text>
<line x1="206.8" y1="188.3" x2="230.8" y2="188.3" stroke="#888" stroke-width="0.8"/>
<polygon points="218.35,182.6 219,184.01 220.54,184.19 219.4,185.24 219.7,186.76 218.35,186 217,186.76 217.3,185.24 216.16,184.19 217.7,184.01" fill="#231f20"/>
<polygon points="223.05,182.6 223.7,184.01 225.24,184.19 224.1,185.24 224.4,186.76 223.05,186 221.7,186.76 222,185.24 220.86,184.19 222.4,184.01" fill="#231f20"/>
<line x1="174.5" y1="195.3" x2="207.8" y2="195.3" stroke="#555" stroke-width="0.8"/>
<polygon points="190.1,189.6 190.75,191.01 192.29,191.19 191.15,192.24 191.45,193.76 190.1,193 188.75,193.76 189.05,192.24 187.91,191.19 189.45,191.01" fill="#231f20"/>
<line x1="174" y1="218.5" x2="196.8" y2="218.5" stroke="#999" stroke-width="0.8"/>
<text x="185.4" y="217.2" font-size="7" text-anchor="middle" fill="#231f20">n.s.</text>
<text transform="translate(136.3 220.8) rotate(-90)" font-size="8.6" text-anchor="middle" textLength="125.6" lengthAdjust="spacingAndGlyphs">Fraction of granzyme B<tspan font-size="5.85" dy="-3.61">+</tspan><tspan dy="3.61"> T cells</tspan></text>
<text transform="translate(146.4 220.2) rotate(-90)" font-size="8.6" text-anchor="middle" textLength="73.7" lengthAdjust="spacingAndGlyphs">(% of CD8<tspan font-size="5.85" dy="-3.61">+</tspan><tspan dy="3.61"> T cells)</tspan></text>
<circle cx="166.1" cy="270.4" r="1.35" fill="none" stroke="#333" stroke-width="0.7"/>
<text x="170.3" y="273.21" font-size="7.8" textLength="59.3" lengthAdjust="spacingAndGlyphs"><tspan font-style="italic">Zfp683</tspan><tspan font-size="5.3" dy="-3.28">+/+</tspan><tspan dy="3.28">–isotype</tspan></text>
<circle cx="166.1" cy="279.2" r="1.35" fill="none" stroke="#ee2a2a" stroke-width="0.7"/>
<text x="170.3" y="282.01" font-size="7.8" textLength="59.3" lengthAdjust="spacingAndGlyphs"><tspan font-style="italic">Zfp683</tspan><tspan font-size="5.3" dy="-3.28">−/−</tspan><tspan dy="3.28">–isotype</tspan></text>
<circle cx="166.1" cy="288.1" r="1.35" fill="none" stroke="#7f4fb0" stroke-width="0.7"/>
<text x="170.3" y="290.91" font-size="7.8" textLength="58.8" lengthAdjust="spacingAndGlyphs"><tspan font-style="italic">Zfp683</tspan><tspan font-size="5.3" dy="-3.28">+/+</tspan><tspan dy="3.28">–αPD-L1</tspan></text>
<circle cx="166.1" cy="296.8" r="1.35" fill="none" stroke="#3a6ae8" stroke-width="0.7"/>
<text x="170.3" y="299.61" font-size="7.8" textLength="58.8" lengthAdjust="spacingAndGlyphs"><tspan font-style="italic">Zfp683</tspan><tspan font-size="5.3" dy="-3.28">−/−</tspan><tspan dy="3.28">–αPD-L1</tspan></text>
<text x="237.8" y="163" font-size="13" font-weight="bold" fill="#000">e</text>
<text x="264.9" y="162.76" font-size="8.5" textLength="87.8" lengthAdjust="spacingAndGlyphs">Gated on CD8<tspan font-size="5.78" dy="-3.57">+</tspan><tspan dy="3.57"> T cells</tspan></text>
<line x1="256.7" y1="166" x2="359.9" y2="166" stroke="#444" stroke-width="0.75"/>
<text x="285.8" y="177.66" font-size="8.5" text-anchor="middle" textLength="37.8" lengthAdjust="spacingAndGlyphs"><tspan font-style="italic">Zfp683</tspan><tspan font-size="5.78" dy="-3.57">+/+</tspan></text>
<text x="337.2" y="177.66" font-size="8.5" text-anchor="middle" textLength="37.2" lengthAdjust="spacingAndGlyphs"><tspan font-style="italic">Zfp683</tspan><tspan font-size="5.78" dy="-3.57">−/−</tspan></text>
<ellipse cx="289" cy="215.4" rx="10.4" ry="4.8" fill="#1a1412" opacity="1" transform="rotate(-10 289 215.4)" filter="url(#blur05)"/>
<path fill="#1a1412" opacity="0.9" d="M294.33 218.09h0.6v0.6h-0.6zM283.46 213.43h0.6v0.6h-0.6zM291.98 219.76h0.6v0.6h-0.6zM290.83 211.34h0.6v0.6h-0.6zM284.03 215.85h0.6v0.6h-0.6zM294.82 214.08h0.6v0.6h-0.6zM286.53 214.9h0.6v0.6h-0.6zM289.59 212.83h0.6v0.6h-0.6zM289.05 215.92h0.6v0.6h-0.6zM299.09 213.19h0.6v0.6h-0.6zM294.41 211.14h0.6v0.6h-0.6zM294.34 214.68h0.6v0.6h-0.6zM285.55 215.68h0.6v0.6h-0.6zM294.37 213.24h0.6v0.6h-0.6zM296.08 218.4h0.6v0.6h-0.6zM299.84 218.03h0.6v0.6h-0.6zM281.19 217.54h0.6v0.6h-0.6zM285.17 218.63h0.6v0.6h-0.6zM289.51 215.72h0.6v0.6h-0.6zM291.51 212.95h0.6v0.6h-0.6zM289.17 212.99h0.6v0.6h-0.6zM301.68 211.56h0.6v0.6h-0.6zM288.15 210.07h0.6v0.6h-0.6zM279.32 214.38h0.6v0.6h-0.6zM294.3 216.5h0.6v0.6h-0.6zM290.37 213.01h0.6v0.6h-0.6zM299.96 210.18h0.6v0.6h-0.6zM283.86 217.5h0.6v0.6h-0.6zM282.88 217.03h0.6v0.6h-0.6zM294.96 213.9h0.6v0.6h-0.6zM291.51 214.83h0.6v0.6h-0.6zM283.14 206.78h0.6v0.6h-0.6zM281.33 216.49h0.6v0.6h-0.6zM278.41 215.35h0.6v0.6h-0.6zM290.92 218.79h0.6v0.6h-0.6zM280.14 215.14h0.6v0.6h-0.6zM290.62 216.43h0.6v0.6h-0.6zM281.26 222.05h0.6v0.6h-0.6zM284.39 219.21h0.6v0.6h-0.6zM287.89 216.56h0.6v0.6h-0.6zM299.74 215.37h0.6v0.6h-0.6zM289.25 212.12h0.6v0.6h-0.6zM284.12 211.76h0.6v0.6h-0.6zM300.8 208.44h0.6v0.6h-0.6zM273.63 222.77h0.6v0.6h-0.6zM296.77 212.71h0.6v0.6h-0.6zM293.78 211.85h0.6v0.6h-0.6zM285.58 217.26h0.6v0.6h-0.6zM291.18 213.4h0.6v0.6h-0.6zM299.51 215.5h0.6v0.6h-0.6zM289.21 211.58h0.6v0.6h-0.6zM289.64 214.09h0.6v0.6h-0.6zM288.86 217.57h0.6v0.6h-0.6zM285.45 216.57h0.6v0.6h-0.6zM294.13 215.3h0.6v0.6h-0.6zM302.48 207.55h0.6v0.6h-0.6zM287.92 211.79h0.6v0.6h-0.6zM289.78 222.54h0.6v0.6h-0.6zM278.44 216.13h0.6v0.6h-0.6zM293.08 214.7h0.6v0.6h-0.6zM293.87 209.61h0.6v0.6h-0.6zM294.56 211.29h0.6v0.6h-0.6zM281.52 218.15h0.6v0.6h-0.6zM291.52 212.5h0.6v0.6h-0.6zM283.63 215.47h0.6v0.6h-0.6zM288.73 214.66h0.6v0.6h-0.6zM281.29 209.52h0.6v0.6h-0.6zM297.23 214.19h0.6v0.6h-0.6zM280.23 211.95h0.6v0.6h-0.6zM284.27 214.7h0.6v0.6h-0.6zM276.13 221.58h0.6v0.6h-0.6zM291.36 213.73h0.6v0.6h-0.6zM291.16 215.42h0.6v0.6h-0.6zM295.61 214.4h0.6v0.6h-0.6zM297.59 218.23h0.6v0.6h-0.6zM286.63 214.16h0.6v0.6h-0.6zM283.13 215.44h0.6v0.6h-0.6zM284.25 215.97h0.6v0.6h-0.6zM291.02 216.36h0.6v0.6h-0.6zM282.08 219.57h0.6v0.6h-0.6zM286.79 215.15h0.6v0.6h-0.6zM284.54 209.87h0.6v0.6h-0.6zM289.5 209.68h0.6v0.6h-0.6zM295.81 214.01h0.6v0.6h-0.6zM298.98 215.28h0.6v0.6h-0.6zM293.96 218.42h0.6v0.6h-0.6zM289.32 219.66h0.6v0.6h-0.6zM288.12 216.02h0.6v0.6h-0.6zM284.8 217.46h0.6v0.6h-0.6zM292.76 212.91h0.6v0.6h-0.6z"/>
<rect x="262.8" y="181.4" width="46" height="44.8" rx="1.2" fill="none" stroke="#555" stroke-width="0.8"/>
<path d="M262.8 186.38h1.3M262.8 191.36h1.3M262.8 196.33h1.3M262.8 201.31h1.3M262.8 206.29h1.3M262.8 211.27h1.3M262.8 216.24h1.3M262.8 221.22h1.3M267.91 226.2v-1.3M273.02 226.2v-1.3M278.13 226.2v-1.3M283.24 226.2v-1.3M288.36 226.2v-1.3M293.47 226.2v-1.3M298.58 226.2v-1.3M303.69 226.2v-1.3" stroke="#555" stroke-width="0.5" fill="none"/>
<rect x="290.6" y="203.2" width="15.9" height="19.2" fill="none" stroke="#4a4a4a" stroke-width="0.8"/>
<text x="298.55" y="201.38" font-size="8" text-anchor="middle" textLength="13.7" lengthAdjust="spacingAndGlyphs">26.4</text>
<ellipse cx="340.1" cy="215.4" rx="10.4" ry="4.8" fill="#ee1010" opacity="1" transform="rotate(-10 340.1 215.4)" filter="url(#blur05)"/>
<path fill="#ee1010" opacity="0.9" d="M331.77 216.44h0.6v0.6h-0.6zM342.47 214.19h0.6v0.6h-0.6zM333.35 214.1h0.6v0.6h-0.6zM336.85 207.76h0.6v0.6h-0.6zM336.91 219.96h0.6v0.6h-0.6zM331.66 215.91h0.6v0.6h-0.6zM350.91 215.3h0.6v0.6h-0.6zM345.62 213.66h0.6v0.6h-0.6zM332.96 225h0.6v0.6h-0.6zM341.9 215.48h0.6v0.6h-0.6zM350.66 215.65h0.6v0.6h-0.6zM339.67 211.83h0.6v0.6h-0.6zM338.81 214.86h0.6v0.6h-0.6zM335.14 213.34h0.6v0.6h-0.6zM333.47 215.89h0.6v0.6h-0.6zM336.32 216.97h0.6v0.6h-0.6zM346.42 214.91h0.6v0.6h-0.6zM340.79 219.64h0.6v0.6h-0.6zM343.22 210.08h0.6v0.6h-0.6zM335.42 216.48h0.6v0.6h-0.6zM334.68 218.3h0.6v0.6h-0.6zM327.79 211.5h0.6v0.6h-0.6zM346.34 215.71h0.6v0.6h-0.6zM329.76 217.11h0.6v0.6h-0.6zM347.76 210.36h0.6v0.6h-0.6zM331.69 212.89h0.6v0.6h-0.6zM332.72 211.14h0.6v0.6h-0.6zM336.03 211.42h0.6v0.6h-0.6zM341.37 221.56h0.6v0.6h-0.6zM333.66 218.92h0.6v0.6h-0.6zM346.02 207.07h0.6v0.6h-0.6zM340.51 214.95h0.6v0.6h-0.6zM338.11 217.81h0.6v0.6h-0.6zM337.22 216.62h0.6v0.6h-0.6zM337.29 215.14h0.6v0.6h-0.6zM336.03 222.62h0.6v0.6h-0.6zM338.89 211.9h0.6v0.6h-0.6zM352.95 217.53h0.6v0.6h-0.6zM338.23 213.41h0.6v0.6h-0.6zM335.79 219.53h0.6v0.6h-0.6zM337.38 213.39h0.6v0.6h-0.6zM345 213.38h0.6v0.6h-0.6zM340.47 220.82h0.6v0.6h-0.6zM345.92 217.77h0.6v0.6h-0.6zM343.12 218.39h0.6v0.6h-0.6zM339.23 218.11h0.6v0.6h-0.6zM346.22 212.73h0.6v0.6h-0.6zM331.96 218.1h0.6v0.6h-0.6zM339.36 217.01h0.6v0.6h-0.6zM336.28 217.32h0.6v0.6h-0.6zM347.11 220.93h0.6v0.6h-0.6zM351.31 214.25h0.6v0.6h-0.6zM348.57 211.67h0.6v0.6h-0.6zM347.31 214.2h0.6v0.6h-0.6zM348.4 214.59h0.6v0.6h-0.6zM337.99 213.29h0.6v0.6h-0.6zM347.78 213.87h0.6v0.6h-0.6zM344.57 215.71h0.6v0.6h-0.6zM327.2 219.14h0.6v0.6h-0.6zM337.66 216.66h0.6v0.6h-0.6zM341.93 209.3h0.6v0.6h-0.6zM337.79 215.28h0.6v0.6h-0.6zM342.75 217.42h0.6v0.6h-0.6zM335.39 215.19h0.6v0.6h-0.6zM342.81 209.06h0.6v0.6h-0.6zM351.05 210.28h0.6v0.6h-0.6zM348.21 214.06h0.6v0.6h-0.6zM352.25 216.04h0.6v0.6h-0.6zM338.72 210.19h0.6v0.6h-0.6zM340.81 215.9h0.6v0.6h-0.6zM342.61 210.82h0.6v0.6h-0.6zM334.18 213.75h0.6v0.6h-0.6zM341.14 212.25h0.6v0.6h-0.6zM339.55 217.94h0.6v0.6h-0.6zM337.84 219.5h0.6v0.6h-0.6zM341.55 214.05h0.6v0.6h-0.6zM346.98 215.33h0.6v0.6h-0.6zM337.7 213.71h0.6v0.6h-0.6zM339.7 216.16h0.6v0.6h-0.6zM347.16 214.62h0.6v0.6h-0.6zM335.22 211.92h0.6v0.6h-0.6zM341.63 215.97h0.6v0.6h-0.6zM346.69 212.3h0.6v0.6h-0.6zM332.07 218.98h0.6v0.6h-0.6zM338.1 211.75h0.6v0.6h-0.6zM350.75 215.85h0.6v0.6h-0.6zM340.36 215.85h0.6v0.6h-0.6zM335.62 218.82h0.6v0.6h-0.6zM336.85 214.27h0.6v0.6h-0.6zM337.36 212.12h0.6v0.6h-0.6z"/>
<rect x="313.9" y="181.4" width="46" height="44.8" rx="1.2" fill="none" stroke="#555" stroke-width="0.8"/>
<path d="M313.9 186.38h1.3M313.9 191.36h1.3M313.9 196.33h1.3M313.9 201.31h1.3M313.9 206.29h1.3M313.9 211.27h1.3M313.9 216.24h1.3M313.9 221.22h1.3M319.01 226.2v-1.3M324.12 226.2v-1.3M329.23 226.2v-1.3M334.34 226.2v-1.3M339.46 226.2v-1.3M344.57 226.2v-1.3M349.68 226.2v-1.3M354.79 226.2v-1.3" stroke="#555" stroke-width="0.5" fill="none"/>
<rect x="341.7" y="203.2" width="15.9" height="19.2" fill="none" stroke="#4a4a4a" stroke-width="0.8"/>
<text x="349.65" y="201.38" font-size="8" text-anchor="middle" textLength="13.7" lengthAdjust="spacingAndGlyphs">26.2</text>
<text x="285.8" y="237.86" font-size="8.5" text-anchor="middle" textLength="37.8" lengthAdjust="spacingAndGlyphs"><tspan font-style="italic">Zfp683</tspan><tspan font-size="5.78" dy="-3.57">+/+</tspan></text>
<text x="337.2" y="237.86" font-size="8.5" text-anchor="middle" textLength="37.2" lengthAdjust="spacingAndGlyphs"><tspan font-style="italic">Zfp683</tspan><tspan font-size="5.78" dy="-3.57">−/−</tspan></text>
<ellipse cx="289" cy="276.2" rx="10.4" ry="4.8" fill="#8a2cf0" opacity="1" transform="rotate(-10 289 276.2)" filter="url(#blur05)"/>
<path fill="#8a2cf0" opacity="0.9" d="M296.06 279.62h0.6v0.6h-0.6zM292.47 269.07h0.6v0.6h-0.6zM286.47 274.38h0.6v0.6h-0.6zM289.97 269.25h0.6v0.6h-0.6zM274.88 276.97h0.6v0.6h-0.6zM294.81 274.26h0.6v0.6h-0.6zM302.2 270.98h0.6v0.6h-0.6zM288.89 275.43h0.6v0.6h-0.6zM284.04 280.06h0.6v0.6h-0.6zM279.83 274.3h0.6v0.6h-0.6zM286.18 274.91h0.6v0.6h-0.6zM295.57 273.11h0.6v0.6h-0.6zM291.64 273.99h0.6v0.6h-0.6zM296.77 274.43h0.6v0.6h-0.6zM289.53 270.86h0.6v0.6h-0.6zM292.83 273.25h0.6v0.6h-0.6zM294.58 276.4h0.6v0.6h-0.6zM292.73 278.58h0.6v0.6h-0.6zM290.64 272.93h0.6v0.6h-0.6zM289.8 276.22h0.6v0.6h-0.6zM281.61 279h0.6v0.6h-0.6zM298.09 274.98h0.6v0.6h-0.6zM289.67 277.12h0.6v0.6h-0.6zM295.37 273.11h0.6v0.6h-0.6zM294.35 272.68h0.6v0.6h-0.6zM292.34 276.82h0.6v0.6h-0.6zM280.96 279.25h0.6v0.6h-0.6zM289.23 270.81h0.6v0.6h-0.6zM285.55 274.58h0.6v0.6h-0.6zM283.31 278.1h0.6v0.6h-0.6zM283.75 276.93h0.6v0.6h-0.6zM281.73 276.34h0.6v0.6h-0.6zM300.43 275.08h0.6v0.6h-0.6zM278.42 274.9h0.6v0.6h-0.6zM287 271.32h0.6v0.6h-0.6zM294.85 274.69h0.6v0.6h-0.6zM288.3 276.13h0.6v0.6h-0.6zM283.82 273.34h0.6v0.6h-0.6zM268.27 274.64h0.6v0.6h-0.6zM290.54 277.63h0.6v0.6h-0.6zM286.6 270.77h0.6v0.6h-0.6zM286.6 276.38h0.6v0.6h-0.6zM281.25 281.33h0.6v0.6h-0.6zM281.64 277.15h0.6v0.6h-0.6zM282.3 279.75h0.6v0.6h-0.6zM280.29 274.69h0.6v0.6h-0.6zM295.07 271h0.6v0.6h-0.6zM285.57 278.08h0.6v0.6h-0.6zM290.04 270.41h0.6v0.6h-0.6zM292.35 274.38h0.6v0.6h-0.6zM295.51 269.5h0.6v0.6h-0.6zM293.73 276.22h0.6v0.6h-0.6zM286.1 275.09h0.6v0.6h-0.6zM290.78 273.46h0.6v0.6h-0.6zM286.11 274.05h0.6v0.6h-0.6zM289.9 277.7h0.6v0.6h-0.6zM278.68 277.74h0.6v0.6h-0.6zM291.41 279.93h0.6v0.6h-0.6zM284.66 280.38h0.6v0.6h-0.6zM286.14 277.81h0.6v0.6h-0.6zM290.22 276.44h0.6v0.6h-0.6zM286.03 273.42h0.6v0.6h-0.6zM298.8 278.47h0.6v0.6h-0.6zM287.87 275.53h0.6v0.6h-0.6zM286.67 272.25h0.6v0.6h-0.6zM281.89 278.33h0.6v0.6h-0.6zM294.56 274.18h0.6v0.6h-0.6zM282.23 273.8h0.6v0.6h-0.6zM285.16 278.61h0.6v0.6h-0.6zM288.25 271.69h0.6v0.6h-0.6zM281.52 278.14h0.6v0.6h-0.6zM291.46 280.67h0.6v0.6h-0.6zM297.84 274.83h0.6v0.6h-0.6zM284.49 277.24h0.6v0.6h-0.6zM281.16 275.16h0.6v0.6h-0.6zM295.31 276.55h0.6v0.6h-0.6zM295.28 279.4h0.6v0.6h-0.6zM286.47 278.68h0.6v0.6h-0.6zM289.29 276.72h0.6v0.6h-0.6zM290.38 277.2h0.6v0.6h-0.6zM279.24 273.45h0.6v0.6h-0.6zM289.51 277.2h0.6v0.6h-0.6zM285.57 276.13h0.6v0.6h-0.6zM280.3 280.25h0.6v0.6h-0.6zM292.32 279.75h0.6v0.6h-0.6zM286.05 276.06h0.6v0.6h-0.6zM289.8 279.79h0.6v0.6h-0.6zM292.42 276.4h0.6v0.6h-0.6zM277.87 275.22h0.6v0.6h-0.6zM279.31 276.99h0.6v0.6h-0.6z"/>
<rect x="262.8" y="242.2" width="46" height="44.7" rx="1.2" fill="none" stroke="#555" stroke-width="0.8"/>
<path d="M262.8 247.17h1.3M262.8 252.13h1.3M262.8 257.1h1.3M262.8 262.07h1.3M262.8 267.03h1.3M262.8 272h1.3M262.8 276.97h1.3M262.8 281.93h1.3M267.91 286.9v-1.3M273.02 286.9v-1.3M278.13 286.9v-1.3M283.24 286.9v-1.3M288.36 286.9v-1.3M293.47 286.9v-1.3M298.58 286.9v-1.3M303.69 286.9v-1.3" stroke="#555" stroke-width="0.5" fill="none"/>
<rect x="290.6" y="264" width="15.9" height="19.5" fill="none" stroke="#4a4a4a" stroke-width="0.8"/>
<text x="298.55" y="261.78" font-size="8" text-anchor="middle" textLength="13.7" lengthAdjust="spacingAndGlyphs">32.4</text>
<ellipse cx="340.1" cy="276.2" rx="10.4" ry="4.8" fill="#0a2ee0" opacity="1" transform="rotate(-10 340.1 276.2)" filter="url(#blur05)"/>
<path fill="#0a2ee0" opacity="0.9" d="M345.21 275.09h0.6v0.6h-0.6zM335.01 282.83h0.6v0.6h-0.6zM333.55 281.14h0.6v0.6h-0.6zM347.22 275.35h0.6v0.6h-0.6zM347.71 271.23h0.6v0.6h-0.6zM336.11 275.63h0.6v0.6h-0.6zM342.02 274.96h0.6v0.6h-0.6zM350.32 272.89h0.6v0.6h-0.6zM337.7 272.62h0.6v0.6h-0.6zM343.19 277.67h0.6v0.6h-0.6zM334.38 273.07h0.6v0.6h-0.6zM331.63 280.82h0.6v0.6h-0.6zM344.87 275.82h0.6v0.6h-0.6zM344.79 276.46h0.6v0.6h-0.6zM341.8 270.67h0.6v0.6h-0.6zM343.38 277.36h0.6v0.6h-0.6zM347.42 277.44h0.6v0.6h-0.6zM335.62 277.41h0.6v0.6h-0.6zM331.59 281.65h0.6v0.6h-0.6zM331.49 279.46h0.6v0.6h-0.6zM334.38 274.39h0.6v0.6h-0.6zM333.97 275.93h0.6v0.6h-0.6zM342.74 278.73h0.6v0.6h-0.6zM338.33 278.71h0.6v0.6h-0.6zM346.31 280.91h0.6v0.6h-0.6zM336.17 277.45h0.6v0.6h-0.6zM344.19 275.54h0.6v0.6h-0.6zM343.36 273.26h0.6v0.6h-0.6zM337.19 274.46h0.6v0.6h-0.6zM335.28 274.02h0.6v0.6h-0.6zM338.5 272.44h0.6v0.6h-0.6zM336.45 278.22h0.6v0.6h-0.6zM329.31 274.56h0.6v0.6h-0.6zM336.64 273.23h0.6v0.6h-0.6zM334.42 282.46h0.6v0.6h-0.6zM341.59 274.19h0.6v0.6h-0.6zM334.3 272.18h0.6v0.6h-0.6zM331.24 270.44h0.6v0.6h-0.6zM342.99 273.77h0.6v0.6h-0.6zM345.45 274.85h0.6v0.6h-0.6zM328.11 283.63h0.6v0.6h-0.6zM343.41 277.89h0.6v0.6h-0.6zM335.94 274.86h0.6v0.6h-0.6zM339.51 281.29h0.6v0.6h-0.6zM331.28 274.16h0.6v0.6h-0.6zM341.98 269.58h0.6v0.6h-0.6zM348.48 270.88h0.6v0.6h-0.6zM347.12 274.13h0.6v0.6h-0.6zM336.92 272.94h0.6v0.6h-0.6zM348.75 273.48h0.6v0.6h-0.6zM331.62 279.23h0.6v0.6h-0.6zM339.13 277.55h0.6v0.6h-0.6zM337.38 277.4h0.6v0.6h-0.6zM342.6 275.44h0.6v0.6h-0.6zM329.71 279.13h0.6v0.6h-0.6zM348.64 275.63h0.6v0.6h-0.6zM346 277.13h0.6v0.6h-0.6zM338.38 279.3h0.6v0.6h-0.6zM337.73 273.23h0.6v0.6h-0.6zM332.35 280.28h0.6v0.6h-0.6zM344.51 276.93h0.6v0.6h-0.6zM335.27 271.22h0.6v0.6h-0.6zM344.6 274.75h0.6v0.6h-0.6zM335.6 274.79h0.6v0.6h-0.6zM335.18 271.13h0.6v0.6h-0.6zM344.02 277.24h0.6v0.6h-0.6zM345.06 273.87h0.6v0.6h-0.6zM331.18 273.3h0.6v0.6h-0.6zM338.7 281.29h0.6v0.6h-0.6zM345.6 274.94h0.6v0.6h-0.6zM343.13 277.73h0.6v0.6h-0.6zM340.24 276.49h0.6v0.6h-0.6zM340.78 273.96h0.6v0.6h-0.6zM332.28 275.52h0.6v0.6h-0.6zM346.19 270.03h0.6v0.6h-0.6zM336.79 275.16h0.6v0.6h-0.6zM339.76 274.54h0.6v0.6h-0.6zM344.52 273.94h0.6v0.6h-0.6zM340.08 277.96h0.6v0.6h-0.6zM331.42 280.63h0.6v0.6h-0.6zM345.56 270.93h0.6v0.6h-0.6zM338.8 273.83h0.6v0.6h-0.6zM337.86 278.56h0.6v0.6h-0.6zM328.41 280.41h0.6v0.6h-0.6zM342.45 275.4h0.6v0.6h-0.6zM353.41 272.01h0.6v0.6h-0.6zM330.53 278.66h0.6v0.6h-0.6zM340.35 273.9h0.6v0.6h-0.6zM325.42 272.75h0.6v0.6h-0.6zM349.24 269.69h0.6v0.6h-0.6z"/>
<rect x="313.9" y="242.2" width="46" height="44.7" rx="1.2" fill="none" stroke="#555" stroke-width="0.8"/>
<path d="M313.9 247.17h1.3M313.9 252.13h1.3M313.9 257.1h1.3M313.9 262.07h1.3M313.9 267.03h1.3M313.9 272h1.3M313.9 276.97h1.3M313.9 281.93h1.3M319.01 286.9v-1.3M324.12 286.9v-1.3M329.23 286.9v-1.3M334.34 286.9v-1.3M339.46 286.9v-1.3M344.57 286.9v-1.3M349.68 286.9v-1.3M354.79 286.9v-1.3" stroke="#555" stroke-width="0.5" fill="none"/>
<rect x="341.7" y="264" width="15.9" height="19.5" fill="none" stroke="#4a4a4a" stroke-width="0.8"/>
<text x="349.65" y="261.78" font-size="8" text-anchor="middle" textLength="13.7" lengthAdjust="spacingAndGlyphs">21.2</text>
<text transform="translate(258.26 202.7) rotate(-90)" font-size="8.5" text-anchor="middle" textLength="29.6" lengthAdjust="spacingAndGlyphs">Isotype</text>
<text transform="translate(258.76 265.3) rotate(-90)" font-size="8.5" text-anchor="middle" textLength="26.6" lengthAdjust="spacingAndGlyphs">αPD-L1</text>
<line x1="243" y1="257" x2="243" y2="183.96" stroke="#231f20" stroke-width="0.9"/>
<path d="M243 181.4 L241.5 184.6 L244.5 184.6 Z" fill="#231f20"/>
<text transform="translate(244.96 274.7) rotate(-90)" font-size="8.5" text-anchor="middle" textLength="23.7" lengthAdjust="spacingAndGlyphs">SSC-A</text>
<text x="263.8" y="298.16" font-size="8.5" textLength="45" lengthAdjust="spacingAndGlyphs">BV711 IFN-γ</text>
<line x1="311.9" y1="295.1" x2="357.44" y2="295.1" stroke="#231f20" stroke-width="0.9"/>
<path d="M360 295.1 L356.8 293.6 L356.8 296.6 Z" fill="#231f20"/>
<line x1="406.8" y1="174.9" x2="406.8" y2="259.45" stroke="#6a6a6a" stroke-width="0.9"/>
<line x1="406.35" y1="259" x2="470.1" y2="259" stroke="#6a6a6a" stroke-width="0.9"/>
<line x1="403.5" y1="259" x2="406.8" y2="259" stroke="#6a6a6a" stroke-width="0.85"/>
<text x="399.4" y="261.81" font-size="7.8" text-anchor="end">0</text>
<line x1="403.5" y1="242.26" x2="406.8" y2="242.26" stroke="#6a6a6a" stroke-width="0.85"/>
<text x="399.4" y="245.07" font-size="7.8" text-anchor="end">10</text>
<line x1="403.5" y1="225.52" x2="406.8" y2="225.52" stroke="#6a6a6a" stroke-width="0.85"/>
<text x="399.4" y="228.33" font-size="7.8" text-anchor="end">20</text>
<line x1="403.5" y1="208.78" x2="406.8" y2="208.78" stroke="#6a6a6a" stroke-width="0.85"/>
<text x="399.4" y="211.59" font-size="7.8" text-anchor="end">30</text>
<line x1="403.5" y1="192.04" x2="406.8" y2="192.04" stroke="#6a6a6a" stroke-width="0.85"/>
<text x="399.4" y="194.85" font-size="7.8" text-anchor="end">40</text>
<line x1="403.5" y1="175.3" x2="406.8" y2="175.3" stroke="#6a6a6a" stroke-width="0.85"/>
<text x="399.4" y="178.11" font-size="7.8" text-anchor="end">50</text>
<circle cx="413.4" cy="212" r="2" fill="none" stroke="#333" stroke-width="0.75"/>
<circle cx="419.3" cy="214.5" r="2" fill="none" stroke="#333" stroke-width="0.75"/>
<circle cx="415.8" cy="218.9" r="2" fill="none" stroke="#333" stroke-width="0.75"/>
<circle cx="413.4" cy="225.3" r="2" fill="none" stroke="#333" stroke-width="0.75"/>
<circle cx="419.3" cy="224.3" r="2" fill="none" stroke="#333" stroke-width="0.75"/>
<line x1="411.3" y1="219.2" x2="420.9" y2="219.2" stroke="#333" stroke-width="0.75"/>
<line x1="416.1" y1="217" x2="416.1" y2="221.4" stroke="#333" stroke-width="0.75"/>
<line x1="413.9" y1="217" x2="418.3" y2="217" stroke="#333" stroke-width="0.75"/>
<line x1="413.9" y1="221.4" x2="418.3" y2="221.4" stroke="#333" stroke-width="0.75"/>
<circle cx="428.2" cy="215" r="2" fill="none" stroke="#ee2a2a" stroke-width="0.75"/>
<circle cx="431.1" cy="213.5" r="2" fill="none" stroke="#ee2a2a" stroke-width="0.75"/>
<circle cx="434.1" cy="216" r="2" fill="none" stroke="#ee2a2a" stroke-width="0.75"/>
<circle cx="429.1" cy="226.3" r="2" fill="none" stroke="#ee2a2a" stroke-width="0.75"/>
<circle cx="432.6" cy="225.3" r="2" fill="none" stroke="#ee2a2a" stroke-width="0.75"/>
<line x1="426.3" y1="219.4" x2="435.9" y2="219.4" stroke="#333" stroke-width="0.75"/>
<line x1="431.1" y1="217" x2="431.1" y2="222.4" stroke="#333" stroke-width="0.75"/>
<line x1="428.9" y1="217" x2="433.3" y2="217" stroke="#333" stroke-width="0.75"/>
<line x1="428.9" y1="222.4" x2="433.3" y2="222.4" stroke="#333" stroke-width="0.75"/>
<circle cx="445.4" cy="191.8" r="2" fill="none" stroke="#7f4fb0" stroke-width="0.75"/>
<circle cx="442.4" cy="204.6" r="2" fill="none" stroke="#7f4fb0" stroke-width="0.75"/>
<circle cx="448.3" cy="206.1" r="2" fill="none" stroke="#7f4fb0" stroke-width="0.75"/>
<circle cx="445.4" cy="207.6" r="2" fill="none" stroke="#7f4fb0" stroke-width="0.75"/>
<circle cx="445.4" cy="213.5" r="2" fill="none" stroke="#7f4fb0" stroke-width="0.75"/>
<line x1="440.8" y1="203.6" x2="450.4" y2="203.6" stroke="#333" stroke-width="0.75"/>
<line x1="445.6" y1="201.2" x2="445.6" y2="208" stroke="#333" stroke-width="0.75"/>
<line x1="443.4" y1="201.2" x2="447.8" y2="201.2" stroke="#333" stroke-width="0.75"/>
<line x1="443.4" y1="208" x2="447.8" y2="208" stroke="#333" stroke-width="0.75"/>
<circle cx="460.4" cy="208.6" r="2" fill="none" stroke="#3a6ae8" stroke-width="0.75"/>
<circle cx="463.6" cy="213.5" r="2" fill="none" stroke="#3a6ae8" stroke-width="0.75"/>
<circle cx="457.2" cy="215.3" r="2" fill="none" stroke="#3a6ae8" stroke-width="0.75"/>
<circle cx="460.4" cy="223.3" r="2" fill="none" stroke="#3a6ae8" stroke-width="0.75"/>
<circle cx="460.4" cy="232.2" r="2" fill="none" stroke="#3a6ae8" stroke-width="0.75"/>
<line x1="455.6" y1="218.4" x2="465.2" y2="218.4" stroke="#333" stroke-width="0.75"/>
<line x1="460.4" y1="214" x2="460.4" y2="223.3" stroke="#333" stroke-width="0.75"/>
<line x1="458.2" y1="214" x2="462.6" y2="214" stroke="#333" stroke-width="0.75"/>
<line x1="458.2" y1="223.3" x2="462.6" y2="223.3" stroke="#333" stroke-width="0.75"/>
<line x1="430.1" y1="175.3" x2="463.8" y2="175.3" stroke="#888" stroke-width="0.8"/>
<text x="446.6" y="174" font-size="7" text-anchor="middle" fill="#231f20">n.s.</text>
<line x1="411.7" y1="184.4" x2="445.6" y2="184.4" stroke="#666" stroke-width="0.8"/>
<polygon points="426.9,178.7 427.55,180.11 429.09,180.29 427.95,181.34 428.25,182.86 426.9,182.1 425.55,182.86 425.85,181.34 424.71,180.29 426.25,180.11" fill="#231f20"/>
<line x1="448.6" y1="188.6" x2="467" y2="188.6" stroke="#888" stroke-width="0.8"/>
<polygon points="459.7,182.9 460.35,184.31 461.89,184.49 460.75,185.54 461.05,187.06 459.7,186.3 458.35,187.06 458.65,185.54 457.51,184.49 459.05,184.31" fill="#231f20"/>
<line x1="413.6" y1="207.1" x2="435.8" y2="207.1" stroke="#999" stroke-width="0.8"/>
<text x="424.5" y="205.8" font-size="7" text-anchor="middle" fill="#231f20">n.s.</text>
<text transform="translate(374.1 218.9) rotate(-90)" font-size="8.6" text-anchor="middle" textLength="98.4" lengthAdjust="spacingAndGlyphs">Fraction of IFN-γ<tspan font-size="5.85" dy="-3.61">+</tspan><tspan dy="3.61"> T cells</tspan></text>
<text transform="translate(385.2 216.5) rotate(-90)" font-size="8.6" text-anchor="middle" textLength="71.3" lengthAdjust="spacingAndGlyphs">(% of CD8<tspan font-size="5.85" dy="-3.61">+</tspan><tspan dy="3.61"> T cells)</tspan></text>
<circle cx="404.3" cy="268.8" r="1.35" fill="none" stroke="#333" stroke-width="0.7"/>
<text x="408.5" y="271.61" font-size="7.8" textLength="59.5" lengthAdjust="spacingAndGlyphs"><tspan font-style="italic">Zfp683</tspan><tspan font-size="5.3" dy="-3.28">+/+</tspan><tspan dy="3.28">–isotype</tspan></text>
<circle cx="404.3" cy="278" r="1.35" fill="none" stroke="#ee2a2a" stroke-width="0.7"/>
<text x="408.5" y="280.81" font-size="7.8" textLength="59.5" lengthAdjust="spacingAndGlyphs"><tspan font-style="italic">Zfp683</tspan><tspan font-size="5.3" dy="-3.28">−/−</tspan><tspan dy="3.28">–isotype</tspan></text>
<circle cx="404.3" cy="286.1" r="1.35" fill="none" stroke="#7f4fb0" stroke-width="0.7"/>
<text x="408.5" y="288.91" font-size="7.8" textLength="58.5" lengthAdjust="spacingAndGlyphs"><tspan font-style="italic">Zfp683</tspan><tspan font-size="5.3" dy="-3.28">+/+</tspan><tspan dy="3.28">–αPD-L1</tspan></text>
<circle cx="404.3" cy="294.7" r="1.35" fill="none" stroke="#3a6ae8" stroke-width="0.7"/>
<text x="408.5" y="297.51" font-size="7.8" textLength="58.5" lengthAdjust="spacingAndGlyphs"><tspan font-style="italic">Zfp683</tspan><tspan font-size="5.3" dy="-3.28">−/−</tspan><tspan dy="3.28">–αPD-L1</tspan></text>
<text x="475.8" y="162.3" font-size="13" font-weight="bold" fill="#000">f</text>
<text x="508.6" y="167.36" font-size="8.5" text-anchor="middle" textLength="35.7" lengthAdjust="spacingAndGlyphs"><tspan font-style="italic">Zfp683</tspan><tspan font-size="5.78" dy="-3.57">+/+</tspan></text>
<text x="552.6" y="167.36" font-size="8.5" text-anchor="middle" textLength="38" lengthAdjust="spacingAndGlyphs"><tspan font-style="italic">Zfp683</tspan><tspan font-size="5.78" dy="-3.57">−/−</tspan></text>
<text x="508.6" y="224.66" font-size="8.5" text-anchor="middle" textLength="35.7" lengthAdjust="spacingAndGlyphs"><tspan font-style="italic">Zfp683</tspan><tspan font-size="5.78" dy="-3.57">+/+</tspan></text>
<text x="552.6" y="224.66" font-size="8.5" text-anchor="middle" textLength="38" lengthAdjust="spacingAndGlyphs"><tspan font-style="italic">Zfp683</tspan><tspan font-size="5.78" dy="-3.57">−/−</tspan></text>
<rect x="487.9" y="170.2" width="42.1" height="44.6" fill="#000" filter="url(#mz0)"/>
<rect x="487.9" y="170.2" width="14.2" height="14.3" fill="#000" filter="url(#mz1)"/>
<rect x="488.2" y="170.5" width="13.9" height="14" fill="none" stroke="#d0d0d0" stroke-width="0.6"/>
<rect x="489.1" y="212.4" width="5.8" height="2.2" fill="#fff"/>
<text x="489.1" y="210" font-size="5.4" fill="#fff" textLength="15.5" lengthAdjust="spacingAndGlyphs">100 µm</text>
<rect x="531.2" y="170.2" width="41.7" height="44.6" fill="#000" filter="url(#mz2)"/>
<rect x="531.2" y="170.2" width="14.2" height="14.3" fill="#000" filter="url(#mz3)"/>
<rect x="531.5" y="170.5" width="13.9" height="14" fill="none" stroke="#d0d0d0" stroke-width="0.6"/>
<rect x="532.4" y="212.4" width="10" height="2.2" fill="#fff"/>
<text x="532.4" y="210" font-size="5.4" fill="#fff" textLength="15.5" lengthAdjust="spacingAndGlyphs">100 µm</text>
<rect x="487.9" y="229" width="42.1" height="44.3" fill="#000" filter="url(#mz4)"/>
<rect x="487.9" y="229" width="14.2" height="14.3" fill="#000" filter="url(#mz5)"/>
<rect x="488.2" y="229.3" width="13.9" height="14" fill="none" stroke="#d0d0d0" stroke-width="0.6"/>
<rect x="489.1" y="270.9" width="5.8" height="2.2" fill="#fff"/>
<text x="489.1" y="268.5" font-size="5.4" fill="#fff" textLength="15.5" lengthAdjust="spacingAndGlyphs">100 µm</text>
<rect x="531.2" y="229" width="41.7" height="44.3" fill="#000" filter="url(#mz6)"/>
<rect x="531.2" y="229" width="14.2" height="14.3" fill="#000" filter="url(#mz7)"/>
<rect x="531.5" y="229.3" width="13.9" height="14" fill="none" stroke="#d0d0d0" stroke-width="0.6"/>
<rect x="532.4" y="270.9" width="10" height="2.2" fill="#fff"/>
<text x="532.4" y="268.5" font-size="5.4" fill="#fff" textLength="15.5" lengthAdjust="spacingAndGlyphs">100 µm</text>
<rect x="486" y="275" width="84.5" height="10.2" fill="#000"/>
<text x="510.5" y="283.52" font-size="8.4" textLength="19.5" lengthAdjust="spacingAndGlyphs" fill="#1f5fae">DAPI</text>
<text x="531.9" y="283.52" font-size="8.4" textLength="13.6" lengthAdjust="spacingAndGlyphs" fill="#e0141c">H-2</text>
<text transform="translate(484.86 192) rotate(-90)" font-size="8.5" text-anchor="middle" textLength="30.2" lengthAdjust="spacingAndGlyphs">Isotype</text>
<text transform="translate(484.86 249.4) rotate(-90)" font-size="8.5" text-anchor="middle" textLength="29.3" lengthAdjust="spacingAndGlyphs">αPD-L1</text>
<line x1="616.3" y1="177.4" x2="616.3" y2="260.45" stroke="#6a6a6a" stroke-width="0.9"/>
<line x1="615.85" y1="260" x2="678.3" y2="260" stroke="#6a6a6a" stroke-width="0.9"/>
<line x1="613" y1="260" x2="616.3" y2="260" stroke="#6a6a6a" stroke-width="0.85"/>
<text x="609.4" y="262.81" font-size="7.8" text-anchor="end">0</text>
<line x1="613" y1="239.45" x2="616.3" y2="239.45" stroke="#6a6a6a" stroke-width="0.85"/>
<text x="609.4" y="242.26" font-size="7.8" text-anchor="end">10</text>
<line x1="613" y1="218.9" x2="616.3" y2="218.9" stroke="#6a6a6a" stroke-width="0.85"/>
<text x="609.4" y="221.71" font-size="7.8" text-anchor="end">20</text>
<line x1="613" y1="198.35" x2="616.3" y2="198.35" stroke="#6a6a6a" stroke-width="0.85"/>
<text x="609.4" y="201.16" font-size="7.8" text-anchor="end">30</text>
<line x1="613" y1="177.8" x2="616.3" y2="177.8" stroke="#6a6a6a" stroke-width="0.85"/>
<text x="609.4" y="180.61" font-size="7.8" text-anchor="end">40</text>
<circle cx="628.5" cy="207.6" r="2.1" fill="none" stroke="#333" stroke-width="0.75"/>
<circle cx="623" cy="211.4" r="2.1" fill="none" stroke="#333" stroke-width="0.75"/>
<circle cx="625.5" cy="213.5" r="2.1" fill="none" stroke="#333" stroke-width="0.75"/>
<circle cx="623" cy="219.8" r="2.1" fill="none" stroke="#333" stroke-width="0.75"/>
<circle cx="628.5" cy="218.7" r="2.1" fill="none" stroke="#333" stroke-width="0.75"/>
<line x1="621.6" y1="214.3" x2="630.8" y2="214.3" stroke="#333" stroke-width="0.75"/>
<line x1="626.2" y1="211.4" x2="626.2" y2="216.9" stroke="#333" stroke-width="0.75"/>
<line x1="624" y1="211.4" x2="628.4" y2="211.4" stroke="#333" stroke-width="0.75"/>
<line x1="624" y1="216.9" x2="628.4" y2="216.9" stroke="#333" stroke-width="0.75"/>
<circle cx="638" cy="206.8" r="2.1" fill="none" stroke="#ee2a2a" stroke-width="0.75"/>
<circle cx="643.1" cy="204.5" r="2.1" fill="none" stroke="#ee2a2a" stroke-width="0.75"/>
<circle cx="643.1" cy="209.9" r="2.1" fill="none" stroke="#ee2a2a" stroke-width="0.75"/>
<circle cx="640.5" cy="215.7" r="2.1" fill="none" stroke="#ee2a2a" stroke-width="0.75"/>
<line x1="636" y1="209" x2="645.2" y2="209" stroke="#333" stroke-width="0.75"/>
<line x1="640.6" y1="207.2" x2="640.6" y2="211" stroke="#333" stroke-width="0.75"/>
<line x1="638.4" y1="207.2" x2="642.8" y2="207.2" stroke="#333" stroke-width="0.75"/>
<line x1="638.4" y1="211" x2="642.8" y2="211" stroke="#333" stroke-width="0.75"/>
<circle cx="654.6" cy="183.7" r="2.1" fill="none" stroke="#7f4fb0" stroke-width="0.75"/>
<circle cx="654.6" cy="188.6" r="2.1" fill="none" stroke="#7f4fb0" stroke-width="0.75"/>
<circle cx="657.7" cy="197.3" r="2.1" fill="none" stroke="#7f4fb0" stroke-width="0.75"/>
<circle cx="652" cy="200.9" r="2.1" fill="none" stroke="#7f4fb0" stroke-width="0.75"/>
<line x1="650" y1="192.5" x2="659.2" y2="192.5" stroke="#333" stroke-width="0.75"/>
<line x1="654.6" y1="189.1" x2="654.6" y2="196.3" stroke="#333" stroke-width="0.75"/>
<line x1="652.4" y1="189.1" x2="656.8" y2="189.1" stroke="#333" stroke-width="0.75"/>
<line x1="652.4" y1="196.3" x2="656.8" y2="196.3" stroke="#333" stroke-width="0.75"/>
<circle cx="666.1" cy="201.9" r="2.1" fill="none" stroke="#3a6ae8" stroke-width="0.75"/>
<circle cx="671.7" cy="201.9" r="2.1" fill="none" stroke="#3a6ae8" stroke-width="0.75"/>
<circle cx="669.2" cy="205.5" r="2.1" fill="none" stroke="#3a6ae8" stroke-width="0.75"/>
<circle cx="669.2" cy="212.6" r="2.1" fill="none" stroke="#3a6ae8" stroke-width="0.75"/>
<line x1="664.6" y1="205.2" x2="673.8" y2="205.2" stroke="#333" stroke-width="0.75"/>
<line x1="669.2" y1="204" x2="669.2" y2="207" stroke="#333" stroke-width="0.75"/>
<line x1="667" y1="204" x2="671.4" y2="204" stroke="#333" stroke-width="0.75"/>
<line x1="667" y1="207" x2="671.4" y2="207" stroke="#333" stroke-width="0.75"/>
<line x1="639" y1="169" x2="674.7" y2="169" stroke="#666" stroke-width="0.8"/>
<text x="657.4" y="167.7" font-size="7" text-anchor="middle" fill="#231f20">n.s.</text>
<line x1="621.8" y1="175.8" x2="656.2" y2="175.8" stroke="#666" stroke-width="0.8"/>
<polygon points="637.7,170.1 638.35,171.51 639.89,171.69 638.75,172.74 639.05,174.26 637.7,173.5 636.35,174.26 636.65,172.74 635.51,171.69 637.05,171.51" fill="#231f20"/>
<line x1="656.2" y1="179.5" x2="679.6" y2="179.5" stroke="#999" stroke-width="0.8"/>
<polygon points="668,173.8 668.65,175.21 670.19,175.39 669.05,176.44 669.35,177.96 668,177.2 666.65,177.96 666.95,176.44 665.81,175.39 667.35,175.21" fill="#231f20"/>
<line x1="621.8" y1="200.4" x2="643.4" y2="200.4" stroke="#999" stroke-width="0.8"/>
<text x="632.1" y="199.1" font-size="7" text-anchor="middle" fill="#231f20">n.s.</text>
<text transform="translate(587.9 219.5) rotate(-90)" font-size="8.6" text-anchor="middle" textLength="38.2" lengthAdjust="spacingAndGlyphs">H-2 mean</text>
<text transform="translate(595.8 218.9) rotate(-90)" font-size="8.6" text-anchor="middle" textLength="88.6" lengthAdjust="spacingAndGlyphs">fluorescence intensity</text>
<circle cx="614.4" cy="269.3" r="1.35" fill="none" stroke="#333" stroke-width="0.7"/>
<text x="618.6" y="272.11" font-size="7.8" textLength="59.1" lengthAdjust="spacingAndGlyphs"><tspan font-style="italic">Zfp683</tspan><tspan font-size="5.3" dy="-3.28">+/+</tspan><tspan dy="3.28">–isotype</tspan></text>
<circle cx="614.4" cy="278" r="1.35" fill="none" stroke="#ee2a2a" stroke-width="0.7"/>
<text x="618.6" y="280.81" font-size="7.8" textLength="59.1" lengthAdjust="spacingAndGlyphs"><tspan font-style="italic">Zfp683</tspan><tspan font-size="5.3" dy="-3.28">−/−</tspan><tspan dy="3.28">–isotype</tspan></text>
<circle cx="614.4" cy="286.1" r="1.35" fill="none" stroke="#7f4fb0" stroke-width="0.7"/>
<text x="618.6" y="288.91" font-size="7.8" textLength="59.1" lengthAdjust="spacingAndGlyphs"><tspan font-style="italic">Zfp683</tspan><tspan font-size="5.3" dy="-3.28">+/+</tspan><tspan dy="3.28">–αPD-L1</tspan></text>
<circle cx="614.4" cy="294.7" r="1.35" fill="none" stroke="#3a6ae8" stroke-width="0.7"/>
<text x="618.6" y="297.51" font-size="7.8" textLength="59.1" lengthAdjust="spacingAndGlyphs"><tspan font-style="italic">Zfp683</tspan><tspan font-size="5.3" dy="-3.28">−/−</tspan><tspan dy="3.28">–αPD-L1</tspan></text>
<text x="0.3" y="325.5" font-size="13" font-weight="bold" fill="#000">g</text>
<text x="59.8" y="336.79" font-size="8.3" text-anchor="middle" textLength="25.3" lengthAdjust="spacingAndGlyphs">sgCtrl</text>
<text x="155.2" y="336.79" font-size="8.3" text-anchor="middle" textLength="32.2" lengthAdjust="spacingAndGlyphs">sg<tspan font-style="italic">Ifngr1</tspan></text>
<path fill="#4a58f0" opacity="0.75" d="M52.31 391.66h0.6v0.6h-0.6zM61.55 383.64h0.6v0.6h-0.6zM57.48 383.91h0.6v0.6h-0.6zM63.7 401.12h0.6v0.6h-0.6zM64.98 396.17h0.6v0.6h-0.6zM60.19 397.7h0.6v0.6h-0.6zM54.51 400.72h0.6v0.6h-0.6zM51.91 397.22h0.6v0.6h-0.6zM61.68 400.1h0.6v0.6h-0.6zM56.15 415.03h0.6v0.6h-0.6zM58.49 395.59h0.6v0.6h-0.6zM59 396.04h0.6v0.6h-0.6zM56.27 397.25h0.6v0.6h-0.6zM68.33 399.86h0.6v0.6h-0.6zM59.08 404.42h0.6v0.6h-0.6zM68.28 398.13h0.6v0.6h-0.6zM55.08 417.02h0.6v0.6h-0.6zM50.9 397.13h0.6v0.6h-0.6zM61.53 415.69h0.6v0.6h-0.6zM53.45 382.71h0.6v0.6h-0.6zM61.51 396.05h0.6v0.6h-0.6zM56.26 402.93h0.6v0.6h-0.6zM59.32 401.74h0.6v0.6h-0.6zM56.04 408.73h0.6v0.6h-0.6zM65.72 399.92h0.6v0.6h-0.6zM55.94 404.83h0.6v0.6h-0.6zM60.59 392.42h0.6v0.6h-0.6zM55.9 407.04h0.6v0.6h-0.6zM57.72 397.4h0.6v0.6h-0.6zM59.26 399.47h0.6v0.6h-0.6zM58.19 386.19h0.6v0.6h-0.6zM66.95 401.1h0.6v0.6h-0.6zM53.82 406.56h0.6v0.6h-0.6zM59.74 399.82h0.6v0.6h-0.6zM63.44 415.53h0.6v0.6h-0.6zM60.97 410.8h0.6v0.6h-0.6zM68.99 392.55h0.6v0.6h-0.6zM55.58 405.13h0.6v0.6h-0.6zM49.66 397.83h0.6v0.6h-0.6zM64.66 407h0.6v0.6h-0.6zM61.1 386.43h0.6v0.6h-0.6zM62.04 403.16h0.6v0.6h-0.6zM49.62 389.66h0.6v0.6h-0.6zM52.12 413.13h0.6v0.6h-0.6zM54.05 398h0.6v0.6h-0.6zM56.93 403.7h0.6v0.6h-0.6zM60.7 401.58h0.6v0.6h-0.6zM51.89 377.73h0.6v0.6h-0.6zM59.03 401.58h0.6v0.6h-0.6zM64.35 398.98h0.6v0.6h-0.6zM55.14 402.57h0.6v0.6h-0.6zM50.43 392.41h0.6v0.6h-0.6zM53.17 401.71h0.6v0.6h-0.6zM68.66 405.04h0.6v0.6h-0.6zM63.91 401.37h0.6v0.6h-0.6zM59.6 396.55h0.6v0.6h-0.6zM56.79 382.69h0.6v0.6h-0.6zM52.19 390.69h0.6v0.6h-0.6zM62.39 404.34h0.6v0.6h-0.6zM63.91 410.59h0.6v0.6h-0.6zM56.67 407.09h0.6v0.6h-0.6zM67.98 399.64h0.6v0.6h-0.6zM63.63 398.54h0.6v0.6h-0.6zM50.14 400.54h0.6v0.6h-0.6zM54.09 400.46h0.6v0.6h-0.6zM55.88 401.94h0.6v0.6h-0.6zM47.51 414.29h0.6v0.6h-0.6zM65 397.24h0.6v0.6h-0.6zM53.65 399.73h0.6v0.6h-0.6zM61.58 402.67h0.6v0.6h-0.6zM60.21 385.91h0.6v0.6h-0.6zM52.55 409.11h0.6v0.6h-0.6zM59.4 389.05h0.6v0.6h-0.6zM53.86 389.56h0.6v0.6h-0.6zM53.1 407.97h0.6v0.6h-0.6zM57.09 407.62h0.6v0.6h-0.6zM59.15 389.06h0.6v0.6h-0.6zM54.92 415.95h0.6v0.6h-0.6zM54.32 392.24h0.6v0.6h-0.6zM64.48 400.34h0.6v0.6h-0.6zM58.17 410.15h0.6v0.6h-0.6zM49.24 402.68h0.6v0.6h-0.6zM52.83 389.7h0.6v0.6h-0.6zM54.05 407.92h0.6v0.6h-0.6zM57.48 386.6h0.6v0.6h-0.6zM52.54 410.59h0.6v0.6h-0.6zM63.42 391.9h0.6v0.6h-0.6zM52.1 398.72h0.6v0.6h-0.6zM62.98 411.22h0.6v0.6h-0.6zM63.46 396.64h0.6v0.6h-0.6zM55.33 389.28h0.6v0.6h-0.6zM57.82 395.43h0.6v0.6h-0.6zM59.45 390.64h0.6v0.6h-0.6zM55.56 393.39h0.6v0.6h-0.6zM52.05 391.22h0.6v0.6h-0.6zM52.99 391.23h0.6v0.6h-0.6zM61.11 400.41h0.6v0.6h-0.6zM51.44 403.37h0.6v0.6h-0.6zM59.67 410.15h0.6v0.6h-0.6zM57.2 398.2h0.6v0.6h-0.6zM54.68 400.59h0.6v0.6h-0.6zM60.72 400.95h0.6v0.6h-0.6zM56.9 403.74h0.6v0.6h-0.6zM58.67 401.47h0.6v0.6h-0.6zM53.42 401.18h0.6v0.6h-0.6zM53.1 393.66h0.6v0.6h-0.6zM59.02 414.78h0.6v0.6h-0.6zM63.3 399.73h0.6v0.6h-0.6zM57.28 406.78h0.6v0.6h-0.6zM65.27 408.44h0.6v0.6h-0.6zM57.25 401.05h0.6v0.6h-0.6zM56.51 397.65h0.6v0.6h-0.6zM53.83 397.91h0.6v0.6h-0.6zM47.19 391.11h0.6v0.6h-0.6zM60.38 393.07h0.6v0.6h-0.6zM60.96 390.44h0.6v0.6h-0.6zM56.31 402.53h0.6v0.6h-0.6zM52.89 394.59h0.6v0.6h-0.6zM54.59 395.59h0.6v0.6h-0.6zM58.37 399.51h0.6v0.6h-0.6zM63.23 405.37h0.6v0.6h-0.6zM56.14 397.15h0.6v0.6h-0.6zM50.96 388.98h0.6v0.6h-0.6zM54.42 404.93h0.6v0.6h-0.6zM58.81 405.45h0.6v0.6h-0.6zM63.01 398.52h0.6v0.6h-0.6zM68.94 395.95h0.6v0.6h-0.6zM55 396.63h0.6v0.6h-0.6zM64.01 398.72h0.6v0.6h-0.6zM54.42 402.81h0.6v0.6h-0.6zM63.99 398.9h0.6v0.6h-0.6zM56.91 407.46h0.6v0.6h-0.6zM63.23 406.47h0.6v0.6h-0.6zM54.3 401.73h0.6v0.6h-0.6zM60.05 386.85h0.6v0.6h-0.6zM64.35 400.42h0.6v0.6h-0.6zM56.46 415.9h0.6v0.6h-0.6zM58.95 394.55h0.6v0.6h-0.6zM57.88 403.73h0.6v0.6h-0.6zM62.36 399.29h0.6v0.6h-0.6zM53.78 394.71h0.6v0.6h-0.6zM54.03 392.18h0.6v0.6h-0.6zM58.1 396.19h0.6v0.6h-0.6zM58.48 393.79h0.6v0.6h-0.6zM53.77 398.38h0.6v0.6h-0.6zM56.42 407.93h0.6v0.6h-0.6zM53.59 401.17h0.6v0.6h-0.6zM57.99 390.35h0.6v0.6h-0.6zM61.91 400.91h0.6v0.6h-0.6zM47.49 403.99h0.6v0.6h-0.6zM62.99 394.01h0.6v0.6h-0.6zM66.84 400.81h0.6v0.6h-0.6zM52.32 403.72h0.6v0.6h-0.6zM56.36 390.14h0.6v0.6h-0.6zM47.26 401.45h0.6v0.6h-0.6zM54.45 404.3h0.6v0.6h-0.6zM60.18 395.99h0.6v0.6h-0.6zM55.49 412.32h0.6v0.6h-0.6zM66.9 405.07h0.6v0.6h-0.6zM56.38 392.69h0.6v0.6h-0.6zM56.23 411.58h0.6v0.6h-0.6zM60.55 397.63h0.6v0.6h-0.6zM51.95 400.89h0.6v0.6h-0.6zM53.72 399.79h0.6v0.6h-0.6zM61.98 407.34h0.6v0.6h-0.6zM58.91 397.26h0.6v0.6h-0.6zM59.36 412.55h0.6v0.6h-0.6zM60.11 389.72h0.6v0.6h-0.6zM66.1 401.49h0.6v0.6h-0.6zM57.72 397.59h0.6v0.6h-0.6zM60.12 395.58h0.6v0.6h-0.6zM50.69 386.01h0.6v0.6h-0.6zM57.57 396.04h0.6v0.6h-0.6zM55.25 414.8h0.6v0.6h-0.6zM62.25 407.47h0.6v0.6h-0.6zM55.66 401.84h0.6v0.6h-0.6zM57.13 398.25h0.6v0.6h-0.6zM62 404h0.6v0.6h-0.6zM59.75 400.75h0.6v0.6h-0.6zM50.87 394.45h0.6v0.6h-0.6zM60.14 397.1h0.6v0.6h-0.6zM54.25 402.23h0.6v0.6h-0.6zM53.51 394.92h0.6v0.6h-0.6zM62.68 397.15h0.6v0.6h-0.6zM65.46 403.41h0.6v0.6h-0.6zM62.31 407.74h0.6v0.6h-0.6zM47.22 399.14h0.6v0.6h-0.6zM51.65 396.4h0.6v0.6h-0.6zM57.67 408.54h0.6v0.6h-0.6zM57.98 411.36h0.6v0.6h-0.6zM55.54 399.3h0.6v0.6h-0.6zM58.67 406.41h0.6v0.6h-0.6zM57.94 395.31h0.6v0.6h-0.6zM56.53 389.76h0.6v0.6h-0.6zM64.58 405h0.6v0.6h-0.6zM60.37 401.66h0.6v0.6h-0.6zM55.13 396.82h0.6v0.6h-0.6zM62.29 394.1h0.6v0.6h-0.6zM54.24 410.89h0.6v0.6h-0.6zM66.1 401.77h0.6v0.6h-0.6zM60.9 401.02h0.6v0.6h-0.6zM65.42 396.56h0.6v0.6h-0.6zM58.62 403.13h0.6v0.6h-0.6zM65.49 397.93h0.6v0.6h-0.6zM59.38 396.23h0.6v0.6h-0.6zM54.89 395.08h0.6v0.6h-0.6zM58.62 405.97h0.6v0.6h-0.6zM54.7 395.45h0.6v0.6h-0.6zM56.16 402.19h0.6v0.6h-0.6zM61.72 390.87h0.6v0.6h-0.6zM59.99 392.67h0.6v0.6h-0.6zM61.8 392.91h0.6v0.6h-0.6zM52.75 394.68h0.6v0.6h-0.6zM57.89 392.69h0.6v0.6h-0.6zM59.26 400.74h0.6v0.6h-0.6zM58.62 401.6h0.6v0.6h-0.6zM62.6 394.56h0.6v0.6h-0.6zM58.21 399.49h0.6v0.6h-0.6zM47.88 402.44h0.6v0.6h-0.6zM54.33 394.65h0.6v0.6h-0.6zM55.96 400.39h0.6v0.6h-0.6zM59.86 403.1h0.6v0.6h-0.6zM54.72 404.6h0.6v0.6h-0.6zM60.3 396.95h0.6v0.6h-0.6zM58.1 405.34h0.6v0.6h-0.6zM60.37 404.59h0.6v0.6h-0.6zM58.73 407.69h0.6v0.6h-0.6zM69.34 402.89h0.6v0.6h-0.6zM50.19 411.8h0.6v0.6h-0.6zM55.35 390.01h0.6v0.6h-0.6zM46.33 402.68h0.6v0.6h-0.6zM63.68 406.72h0.6v0.6h-0.6zM56.29 409.84h0.6v0.6h-0.6zM57.81 395.56h0.6v0.6h-0.6zM58.54 401.2h0.6v0.6h-0.6zM58.45 402.5h0.6v0.6h-0.6zM47.24 410.69h0.6v0.6h-0.6zM55.36 404.26h0.6v0.6h-0.6zM54.2 400.84h0.6v0.6h-0.6zM57.32 388.63h0.6v0.6h-0.6zM60.12 404.14h0.6v0.6h-0.6zM52.62 385.02h0.6v0.6h-0.6zM54.97 393.8h0.6v0.6h-0.6zM58.75 399.58h0.6v0.6h-0.6zM66.26 404.24h0.6v0.6h-0.6zM56.92 400.84h0.6v0.6h-0.6zM43.78 393.36h0.6v0.6h-0.6zM53.59 398.93h0.6v0.6h-0.6zM59.8 401.2h0.6v0.6h-0.6zM62.88 394.87h0.6v0.6h-0.6zM59.73 398.79h0.6v0.6h-0.6zM58.27 401.95h0.6v0.6h-0.6zM56.79 401.18h0.6v0.6h-0.6zM58.03 406.86h0.6v0.6h-0.6zM57.64 401.83h0.6v0.6h-0.6zM60.76 407.24h0.6v0.6h-0.6zM53.17 404.66h0.6v0.6h-0.6zM61.94 402.77h0.6v0.6h-0.6zM63.06 405.19h0.6v0.6h-0.6zM64.14 395.21h0.6v0.6h-0.6zM60.36 395.89h0.6v0.6h-0.6zM64.39 400.65h0.6v0.6h-0.6zM51.71 400.47h0.6v0.6h-0.6zM53.2 406.56h0.6v0.6h-0.6zM56.52 384.41h0.6v0.6h-0.6zM56.27 406.85h0.6v0.6h-0.6zM59.84 395.28h0.6v0.6h-0.6zM61.43 403.72h0.6v0.6h-0.6zM65.53 406h0.6v0.6h-0.6zM60.03 394.2h0.6v0.6h-0.6zM59.62 401.81h0.6v0.6h-0.6zM58.27 402.64h0.6v0.6h-0.6zM52.29 403.68h0.6v0.6h-0.6zM58.25 402.19h0.6v0.6h-0.6zM57.72 397.61h0.6v0.6h-0.6zM59.47 405.16h0.6v0.6h-0.6zM56.6 401.97h0.6v0.6h-0.6zM54.39 402.61h0.6v0.6h-0.6zM58.29 390.78h0.6v0.6h-0.6zM63.99 393.5h0.6v0.6h-0.6zM58.6 390.56h0.6v0.6h-0.6zM49.59 404.28h0.6v0.6h-0.6zM51.24 385.27h0.6v0.6h-0.6zM57.13 388.92h0.6v0.6h-0.6zM57.19 412.42h0.6v0.6h-0.6zM56.25 402.19h0.6v0.6h-0.6zM60.99 401.42h0.6v0.6h-0.6zM57.61 410.18h0.6v0.6h-0.6zM57.8 402.17h0.6v0.6h-0.6zM58.75 390.8h0.6v0.6h-0.6zM59.79 400.09h0.6v0.6h-0.6zM61.41 404.5h0.6v0.6h-0.6zM65.97 386.52h0.6v0.6h-0.6zM55.44 396.42h0.6v0.6h-0.6zM53.92 402.57h0.6v0.6h-0.6zM57.82 400.67h0.6v0.6h-0.6zM50.12 393.07h0.6v0.6h-0.6zM57.88 396.6h0.6v0.6h-0.6zM55.19 398.89h0.6v0.6h-0.6zM56.83 392.34h0.6v0.6h-0.6zM66.44 395.01h0.6v0.6h-0.6zM61.42 403.83h0.6v0.6h-0.6zM62.98 395.74h0.6v0.6h-0.6zM53.26 402.74h0.6v0.6h-0.6zM59.49 383.37h0.6v0.6h-0.6zM45.26 395.94h0.6v0.6h-0.6zM56.27 397.84h0.6v0.6h-0.6zM60.25 392.99h0.6v0.6h-0.6zM64.62 401.58h0.6v0.6h-0.6zM47.93 401.33h0.6v0.6h-0.6zM55.48 402.75h0.6v0.6h-0.6zM57.63 404.32h0.6v0.6h-0.6zM53.86 397.19h0.6v0.6h-0.6zM58.23 394.49h0.6v0.6h-0.6z"/>
<path fill="#2a34f4" opacity="0.85" d="M78.38 403.94h0.7v0.7h-0.7zM89.21 397.89h0.7v0.7h-0.7zM84.2 391.14h0.7v0.7h-0.7zM83.18 400.51h0.7v0.7h-0.7zM86.4 406.29h0.7v0.7h-0.7zM82.93 396.55h0.7v0.7h-0.7zM76.7 385.98h0.7v0.7h-0.7zM74.54 390.17h0.7v0.7h-0.7zM74.35 398.72h0.7v0.7h-0.7zM73.36 401.18h0.7v0.7h-0.7zM84.63 384.06h0.7v0.7h-0.7zM78.04 389.13h0.7v0.7h-0.7zM72.43 396.42h0.7v0.7h-0.7zM76.43 406.99h0.7v0.7h-0.7zM78.05 391.33h0.7v0.7h-0.7zM80.06 402.36h0.7v0.7h-0.7zM73.65 393.4h0.7v0.7h-0.7zM79.58 393.27h0.7v0.7h-0.7zM83.78 396.9h0.7v0.7h-0.7zM80.6 388.43h0.7v0.7h-0.7zM89.9 395.23h0.7v0.7h-0.7zM77.1 386.39h0.7v0.7h-0.7zM80 389.31h0.7v0.7h-0.7zM81.87 408.08h0.7v0.7h-0.7zM83.15 396.13h0.7v0.7h-0.7zM86.14 397.98h0.7v0.7h-0.7zM80.17 399.8h0.7v0.7h-0.7zM74.81 386.44h0.7v0.7h-0.7zM85.81 393.99h0.7v0.7h-0.7zM78.26 390.74h0.7v0.7h-0.7zM79.49 392.46h0.7v0.7h-0.7zM73.39 388.49h0.7v0.7h-0.7zM83.68 408.55h0.7v0.7h-0.7zM80.79 394.2h0.7v0.7h-0.7zM85.94 403.12h0.7v0.7h-0.7zM85.01 386.15h0.7v0.7h-0.7zM79.79 391.84h0.7v0.7h-0.7zM75.42 403.55h0.7v0.7h-0.7zM79.25 409.35h0.7v0.7h-0.7zM74.67 395.59h0.7v0.7h-0.7zM74.95 393.48h0.7v0.7h-0.7zM77.72 388.33h0.7v0.7h-0.7zM76.71 412.56h0.7v0.7h-0.7zM74.01 386.07h0.7v0.7h-0.7zM81.38 410.78h0.7v0.7h-0.7zM83.28 392.36h0.7v0.7h-0.7zM81.57 402.17h0.7v0.7h-0.7zM84.13 407.8h0.7v0.7h-0.7zM86.58 407.08h0.7v0.7h-0.7zM79.72 385.88h0.7v0.7h-0.7zM82.86 388.42h0.7v0.7h-0.7zM90.7 390.93h0.7v0.7h-0.7zM72.03 385.89h0.7v0.7h-0.7zM76.86 405.27h0.7v0.7h-0.7zM77.24 388.4h0.7v0.7h-0.7zM84.49 403.23h0.7v0.7h-0.7zM85.04 406.17h0.7v0.7h-0.7zM75.53 407.42h0.7v0.7h-0.7zM80.9 387.64h0.7v0.7h-0.7zM76.19 400.36h0.7v0.7h-0.7zM73.34 399.54h0.7v0.7h-0.7zM81.91 390.05h0.7v0.7h-0.7zM79.26 405.88h0.7v0.7h-0.7zM83.67 392.14h0.7v0.7h-0.7zM80.97 410.38h0.7v0.7h-0.7zM83.73 402.07h0.7v0.7h-0.7zM84.77 404.23h0.7v0.7h-0.7zM86.17 398.56h0.7v0.7h-0.7zM72.35 410.75h0.7v0.7h-0.7zM84.07 403.24h0.7v0.7h-0.7zM80.88 392.48h0.7v0.7h-0.7zM83.93 400.03h0.7v0.7h-0.7zM76.09 401.34h0.7v0.7h-0.7zM75.59 402.4h0.7v0.7h-0.7zM83.65 402.51h0.7v0.7h-0.7zM87.18 396.29h0.7v0.7h-0.7zM78.93 399.33h0.7v0.7h-0.7zM74.21 407.47h0.7v0.7h-0.7zM74.79 403.41h0.7v0.7h-0.7zM85.86 393.32h0.7v0.7h-0.7zM88.24 401.34h0.7v0.7h-0.7zM72.44 407.26h0.7v0.7h-0.7zM85.13 384.83h0.7v0.7h-0.7zM80.83 383.86h0.7v0.7h-0.7zM85.23 409.8h0.7v0.7h-0.7zM77.23 402.24h0.7v0.7h-0.7zM76.74 400.6h0.7v0.7h-0.7zM79.27 396.16h0.7v0.7h-0.7zM82.92 406.6h0.7v0.7h-0.7zM84.48 402.7h0.7v0.7h-0.7zM88.1 390.2h0.7v0.7h-0.7zM78.43 397.12h0.7v0.7h-0.7zM82.39 406.64h0.7v0.7h-0.7zM79.64 411.77h0.7v0.7h-0.7zM74.9 408.61h0.7v0.7h-0.7zM83.66 406.75h0.7v0.7h-0.7zM87.52 397.65h0.7v0.7h-0.7zM82.33 401.37h0.7v0.7h-0.7zM80.79 409.03h0.7v0.7h-0.7zM79.98 408.71h0.7v0.7h-0.7zM80.16 395.51h0.7v0.7h-0.7zM73.31 400.82h0.7v0.7h-0.7zM88.34 400.1h0.7v0.7h-0.7zM74.18 391.05h0.7v0.7h-0.7zM84.86 401.19h0.7v0.7h-0.7zM74.56 385.53h0.7v0.7h-0.7zM76.57 406.06h0.7v0.7h-0.7zM73.33 403.28h0.7v0.7h-0.7zM75.96 398.13h0.7v0.7h-0.7zM83.9 396.6h0.7v0.7h-0.7zM72.25 395h0.7v0.7h-0.7zM83.22 404.7h0.7v0.7h-0.7zM74.51 399.79h0.7v0.7h-0.7zM81.79 407.3h0.7v0.7h-0.7zM83.97 398.28h0.7v0.7h-0.7zM79.15 412.23h0.7v0.7h-0.7zM80.25 393.69h0.7v0.7h-0.7zM83.53 390.33h0.7v0.7h-0.7zM75.5 406.16h0.7v0.7h-0.7zM80.55 405.23h0.7v0.7h-0.7zM80.07 389.97h0.7v0.7h-0.7zM81.35 397.93h0.7v0.7h-0.7zM79.31 389.44h0.7v0.7h-0.7zM77.97 396.06h0.7v0.7h-0.7zM86.88 403.85h0.7v0.7h-0.7zM81.88 400.97h0.7v0.7h-0.7zM74 402.09h0.7v0.7h-0.7zM86.17 392.03h0.7v0.7h-0.7zM86.44 403.93h0.7v0.7h-0.7zM80.55 393.73h0.7v0.7h-0.7zM80.74 390.55h0.7v0.7h-0.7zM84.65 394.66h0.7v0.7h-0.7zM79.33 401.85h0.7v0.7h-0.7zM74.73 404.12h0.7v0.7h-0.7zM78.78 395.73h0.7v0.7h-0.7zM83.89 406.04h0.7v0.7h-0.7zM78.52 392.01h0.7v0.7h-0.7zM71.36 392.2h0.7v0.7h-0.7zM74.75 399.81h0.7v0.7h-0.7zM85.19 393.92h0.7v0.7h-0.7zM82.32 385.71h0.7v0.7h-0.7zM75.93 391.76h0.7v0.7h-0.7zM80.97 392.8h0.7v0.7h-0.7zM85.64 405.76h0.7v0.7h-0.7zM83.85 391.34h0.7v0.7h-0.7zM92.16 405.55h0.7v0.7h-0.7zM75.57 406.45h0.7v0.7h-0.7zM77 403.05h0.7v0.7h-0.7zM88.07 394.9h0.7v0.7h-0.7zM84.24 404.12h0.7v0.7h-0.7zM84.74 405h0.7v0.7h-0.7zM90.6 392.16h0.7v0.7h-0.7zM78.36 400.18h0.7v0.7h-0.7zM86.19 398.71h0.7v0.7h-0.7zM77.06 401.71h0.7v0.7h-0.7zM75.65 406.55h0.7v0.7h-0.7zM84.01 396.24h0.7v0.7h-0.7zM82.56 391.03h0.7v0.7h-0.7zM70.82 405.23h0.7v0.7h-0.7zM75.61 395.54h0.7v0.7h-0.7zM78.83 411.39h0.7v0.7h-0.7zM80.79 389.38h0.7v0.7h-0.7zM82.51 403.17h0.7v0.7h-0.7zM77.93 388.2h0.7v0.7h-0.7zM73.82 389.48h0.7v0.7h-0.7zM84.15 409.25h0.7v0.7h-0.7zM85.23 405.44h0.7v0.7h-0.7zM87.4 403.28h0.7v0.7h-0.7zM86.07 408.19h0.7v0.7h-0.7zM77.27 407.93h0.7v0.7h-0.7zM87.69 387.61h0.7v0.7h-0.7zM79.62 405.98h0.7v0.7h-0.7zM76.28 403.14h0.7v0.7h-0.7zM82.83 398.88h0.7v0.7h-0.7zM76.1 389.15h0.7v0.7h-0.7zM84.53 390.76h0.7v0.7h-0.7zM72.74 406.19h0.7v0.7h-0.7zM78.57 393.43h0.7v0.7h-0.7zM79.83 390.73h0.7v0.7h-0.7zM78.93 389.53h0.7v0.7h-0.7zM82.45 387.15h0.7v0.7h-0.7zM81.16 397.57h0.7v0.7h-0.7zM89.34 397.13h0.7v0.7h-0.7zM81.09 413.32h0.7v0.7h-0.7zM78.41 395.24h0.7v0.7h-0.7zM80.35 400.49h0.7v0.7h-0.7zM77.09 391.32h0.7v0.7h-0.7zM74.09 392.33h0.7v0.7h-0.7zM73.87 403.3h0.7v0.7h-0.7zM83.76 401.62h0.7v0.7h-0.7zM81.19 399.89h0.7v0.7h-0.7zM80.67 395.96h0.7v0.7h-0.7zM75.68 401.52h0.7v0.7h-0.7zM82.16 391.49h0.7v0.7h-0.7zM82.65 387.32h0.7v0.7h-0.7zM74.22 389.61h0.7v0.7h-0.7zM74.95 391.74h0.7v0.7h-0.7zM84.23 391.19h0.7v0.7h-0.7zM89.93 401.4h0.7v0.7h-0.7zM83.53 399.12h0.7v0.7h-0.7zM84.29 402.17h0.7v0.7h-0.7zM84.02 403.63h0.7v0.7h-0.7zM83.2 402.22h0.7v0.7h-0.7zM85.32 399.61h0.7v0.7h-0.7zM78.15 410.82h0.7v0.7h-0.7zM78.33 402.32h0.7v0.7h-0.7zM89.79 394.92h0.7v0.7h-0.7zM76.33 404.1h0.7v0.7h-0.7zM72.89 402.92h0.7v0.7h-0.7zM77.27 385.69h0.7v0.7h-0.7zM77.26 388h0.7v0.7h-0.7zM87.51 387.46h0.7v0.7h-0.7zM76.83 390.3h0.7v0.7h-0.7zM85.84 391.59h0.7v0.7h-0.7zM77.18 387.92h0.7v0.7h-0.7zM82.47 407.99h0.7v0.7h-0.7zM82.81 393.5h0.7v0.7h-0.7zM85.65 405.11h0.7v0.7h-0.7zM83.32 405.72h0.7v0.7h-0.7zM82.51 393.77h0.7v0.7h-0.7zM82.12 398.07h0.7v0.7h-0.7zM86.28 403.06h0.7v0.7h-0.7zM80.68 391.02h0.7v0.7h-0.7zM85.94 394.5h0.7v0.7h-0.7zM77.71 398.41h0.7v0.7h-0.7zM76.01 403h0.7v0.7h-0.7zM81.92 394.65h0.7v0.7h-0.7zM78.1 412.55h0.7v0.7h-0.7zM85.6 403.41h0.7v0.7h-0.7zM81.74 410.2h0.7v0.7h-0.7zM79.87 391.94h0.7v0.7h-0.7zM76.55 412.62h0.7v0.7h-0.7zM79.41 396.04h0.7v0.7h-0.7zM73.96 386.71h0.7v0.7h-0.7zM75.29 398.76h0.7v0.7h-0.7zM79.56 407.41h0.7v0.7h-0.7zM86.66 404.24h0.7v0.7h-0.7zM80.6 405.57h0.7v0.7h-0.7zM83.92 396.87h0.7v0.7h-0.7zM78.72 403.69h0.7v0.7h-0.7zM78.32 391.96h0.7v0.7h-0.7zM87.92 407.98h0.7v0.7h-0.7zM77.15 409.39h0.7v0.7h-0.7zM71.53 403.83h0.7v0.7h-0.7zM83.54 401.35h0.7v0.7h-0.7zM79.65 405.1h0.7v0.7h-0.7zM82.83 391.59h0.7v0.7h-0.7zM77.33 406.67h0.7v0.7h-0.7zM83.83 391.53h0.7v0.7h-0.7zM74.03 402.7h0.7v0.7h-0.7zM71.68 405.13h0.7v0.7h-0.7zM75.55 393.47h0.7v0.7h-0.7zM82.71 406.62h0.7v0.7h-0.7zM86.44 407.29h0.7v0.7h-0.7zM86.08 404.54h0.7v0.7h-0.7zM79 410.01h0.7v0.7h-0.7zM85.41 401.19h0.7v0.7h-0.7zM82.63 405.1h0.7v0.7h-0.7zM85.79 388.14h0.7v0.7h-0.7zM73.92 389.67h0.7v0.7h-0.7zM77.72 408.84h0.7v0.7h-0.7zM87.78 409.36h0.7v0.7h-0.7zM74.92 408.86h0.7v0.7h-0.7zM90.67 393.27h0.7v0.7h-0.7zM73.45 408.74h0.7v0.7h-0.7zM80.33 387.52h0.7v0.7h-0.7zM76.87 401.02h0.7v0.7h-0.7zM82.64 406.21h0.7v0.7h-0.7zM84.69 396.34h0.7v0.7h-0.7zM80.23 409.73h0.7v0.7h-0.7zM74.59 403.36h0.7v0.7h-0.7zM76.82 401.16h0.7v0.7h-0.7zM88.74 402.47h0.7v0.7h-0.7zM78.59 394.8h0.7v0.7h-0.7zM74.38 399.49h0.7v0.7h-0.7zM70.56 399.09h0.7v0.7h-0.7zM81.15 393.22h0.7v0.7h-0.7zM77.1 408.09h0.7v0.7h-0.7zM86.07 414.16h0.7v0.7h-0.7zM85.64 401.9h0.7v0.7h-0.7zM79.63 408.4h0.7v0.7h-0.7zM88.53 398.55h0.7v0.7h-0.7zM81.37 407.48h0.7v0.7h-0.7zM79.14 404.62h0.7v0.7h-0.7zM88 399.09h0.7v0.7h-0.7zM88.12 392.7h0.7v0.7h-0.7zM81.17 393.89h0.7v0.7h-0.7zM79.44 391h0.7v0.7h-0.7zM85.71 387.75h0.7v0.7h-0.7zM79.49 387.55h0.7v0.7h-0.7zM85.44 394.48h0.7v0.7h-0.7zM75.99 405.91h0.7v0.7h-0.7zM80.2 401.43h0.7v0.7h-0.7zM80.52 406.54h0.7v0.7h-0.7zM84.4 389.01h0.7v0.7h-0.7zM77.06 395.87h0.7v0.7h-0.7zM77.31 403.49h0.7v0.7h-0.7zM74.44 388.58h0.7v0.7h-0.7zM81.42 393.46h0.7v0.7h-0.7zM80.81 400.25h0.7v0.7h-0.7zM77.6 396.75h0.7v0.7h-0.7zM80.87 404.42h0.7v0.7h-0.7zM77.33 391.03h0.7v0.7h-0.7zM78.97 411.2h0.7v0.7h-0.7zM83.25 415.51h0.7v0.7h-0.7zM84.97 406.18h0.7v0.7h-0.7zM78.36 387.91h0.7v0.7h-0.7zM71.16 400.66h0.7v0.7h-0.7zM75.6 391.23h0.7v0.7h-0.7zM74.81 401.43h0.7v0.7h-0.7zM86.71 406.3h0.7v0.7h-0.7zM77.47 406.35h0.7v0.7h-0.7zM71.75 397.5h0.7v0.7h-0.7zM78.55 408.43h0.7v0.7h-0.7zM75.16 392.81h0.7v0.7h-0.7zM74.32 401.3h0.7v0.7h-0.7zM74.89 402.6h0.7v0.7h-0.7zM81.3 398.79h0.7v0.7h-0.7zM76.61 399.5h0.7v0.7h-0.7zM84.03 400.59h0.7v0.7h-0.7zM82.03 397.83h0.7v0.7h-0.7zM76.22 408.6h0.7v0.7h-0.7zM80.95 405.41h0.7v0.7h-0.7zM80.2 407.91h0.7v0.7h-0.7zM77.84 399.84h0.7v0.7h-0.7zM76.79 389.2h0.7v0.7h-0.7zM74.8 400.76h0.7v0.7h-0.7zM79.4 398h0.7v0.7h-0.7zM73.68 399.1h0.7v0.7h-0.7zM77.05 409.27h0.7v0.7h-0.7zM76.16 407.01h0.7v0.7h-0.7zM75.29 392.21h0.7v0.7h-0.7zM86.89 394.21h0.7v0.7h-0.7zM78.64 388.27h0.7v0.7h-0.7zM81.22 409.59h0.7v0.7h-0.7zM80.54 394.14h0.7v0.7h-0.7zM74.85 399.9h0.7v0.7h-0.7zM79.09 387.04h0.7v0.7h-0.7zM74.88 402.8h0.7v0.7h-0.7zM87.33 405.94h0.7v0.7h-0.7zM77.14 391.93h0.7v0.7h-0.7zM82.69 385.23h0.7v0.7h-0.7zM83.66 406.25h0.7v0.7h-0.7zM75.12 391.84h0.7v0.7h-0.7zM88.46 396.01h0.7v0.7h-0.7zM71.35 406.76h0.7v0.7h-0.7zM87.74 395.32h0.7v0.7h-0.7zM76.5 410.42h0.7v0.7h-0.7zM73.76 397.28h0.7v0.7h-0.7zM74.47 388.19h0.7v0.7h-0.7zM77.2 391.51h0.7v0.7h-0.7zM91.54 405.13h0.7v0.7h-0.7zM78.18 407.36h0.7v0.7h-0.7zM77.92 412.35h0.7v0.7h-0.7zM80.82 410.42h0.7v0.7h-0.7zM71.54 392.89h0.7v0.7h-0.7zM82.82 404.62h0.7v0.7h-0.7zM78.71 409.49h0.7v0.7h-0.7zM78.17 399.94h0.7v0.7h-0.7zM85.43 409.66h0.7v0.7h-0.7zM84.36 404.34h0.7v0.7h-0.7zM81.03 390.24h0.7v0.7h-0.7zM83.27 394.84h0.7v0.7h-0.7zM84.27 394.69h0.7v0.7h-0.7zM87.73 398.62h0.7v0.7h-0.7zM79.78 385.98h0.7v0.7h-0.7zM70.61 402.92h0.7v0.7h-0.7zM86.28 398.7h0.7v0.7h-0.7zM75.45 403.44h0.7v0.7h-0.7zM76.65 401.29h0.7v0.7h-0.7zM77.62 411.45h0.7v0.7h-0.7zM80.62 407.2h0.7v0.7h-0.7zM86.86 399.25h0.7v0.7h-0.7zM73.65 397.81h0.7v0.7h-0.7zM77.83 391.52h0.7v0.7h-0.7zM78.71 402.55h0.7v0.7h-0.7zM78.55 393.48h0.7v0.7h-0.7zM80.86 405.84h0.7v0.7h-0.7zM83.62 392.65h0.7v0.7h-0.7zM85.11 393.27h0.7v0.7h-0.7zM78.58 410.75h0.7v0.7h-0.7zM89.69 403.87h0.7v0.7h-0.7zM86.71 395.2h0.7v0.7h-0.7zM85.05 401.88h0.7v0.7h-0.7zM83.65 390.96h0.7v0.7h-0.7zM85.6 402.95h0.7v0.7h-0.7zM82.54 406.75h0.7v0.7h-0.7zM88.29 389.75h0.7v0.7h-0.7zM72.41 400.11h0.7v0.7h-0.7zM87.89 412.87h0.7v0.7h-0.7zM83.36 395.37h0.7v0.7h-0.7zM88.24 393h0.7v0.7h-0.7zM87.24 394.68h0.7v0.7h-0.7zM83.79 402.11h0.7v0.7h-0.7zM74.83 386.02h0.7v0.7h-0.7zM78.01 405.02h0.7v0.7h-0.7zM76.03 398.73h0.7v0.7h-0.7zM86.31 396.2h0.7v0.7h-0.7zM89.75 402.4h0.7v0.7h-0.7zM79.94 387.1h0.7v0.7h-0.7zM81.56 404.34h0.7v0.7h-0.7zM81.41 400.77h0.7v0.7h-0.7zM91.21 394.06h0.7v0.7h-0.7zM77.7 405.66h0.7v0.7h-0.7zM79.01 412.14h0.7v0.7h-0.7zM88.34 388.14h0.7v0.7h-0.7zM81.64 409.84h0.7v0.7h-0.7zM78.42 409.02h0.7v0.7h-0.7zM75.13 399.28h0.7v0.7h-0.7zM78.25 391.86h0.7v0.7h-0.7zM76.02 392.61h0.7v0.7h-0.7zM82.24 388.14h0.7v0.7h-0.7zM82.11 406.66h0.7v0.7h-0.7zM78.87 393.35h0.7v0.7h-0.7zM87.25 401.01h0.7v0.7h-0.7zM77.36 405.62h0.7v0.7h-0.7zM75.94 385.02h0.7v0.7h-0.7zM83.37 399.13h0.7v0.7h-0.7zM74.67 394.28h0.7v0.7h-0.7zM78.2 414.54h0.7v0.7h-0.7zM74.87 392.03h0.7v0.7h-0.7zM86.05 410.14h0.7v0.7h-0.7zM78.97 409.44h0.7v0.7h-0.7zM80.12 392.95h0.7v0.7h-0.7zM87.12 397.97h0.7v0.7h-0.7zM74.64 401.16h0.7v0.7h-0.7zM75.04 394.52h0.7v0.7h-0.7zM86.8 398.03h0.7v0.7h-0.7zM75.64 399.62h0.7v0.7h-0.7zM80.83 389.79h0.7v0.7h-0.7zM88.69 412.3h0.7v0.7h-0.7zM72.91 397.42h0.7v0.7h-0.7zM74.59 396.56h0.7v0.7h-0.7zM85.52 408.23h0.7v0.7h-0.7zM83.5 388.19h0.7v0.7h-0.7zM85.71 408.65h0.7v0.7h-0.7zM81.92 410.19h0.7v0.7h-0.7zM79.24 393.87h0.7v0.7h-0.7zM86.59 399.59h0.7v0.7h-0.7zM81.99 389.9h0.7v0.7h-0.7zM83.75 398.93h0.7v0.7h-0.7zM79.87 391.59h0.7v0.7h-0.7zM77.03 396.42h0.7v0.7h-0.7zM81.16 408.71h0.7v0.7h-0.7zM72.58 389.31h0.7v0.7h-0.7zM76.68 391h0.7v0.7h-0.7zM77.42 402.64h0.7v0.7h-0.7zM78.57 392.78h0.7v0.7h-0.7zM76.02 408.18h0.7v0.7h-0.7zM77.48 392.31h0.7v0.7h-0.7zM75.9 409.39h0.7v0.7h-0.7zM78.37 392.41h0.7v0.7h-0.7zM81.27 398.36h0.7v0.7h-0.7zM71.59 396.13h0.7v0.7h-0.7zM82.63 396.11h0.7v0.7h-0.7zM82.45 390.9h0.7v0.7h-0.7zM84.22 396.84h0.7v0.7h-0.7zM77.07 390.34h0.7v0.7h-0.7zM84.63 399.05h0.7v0.7h-0.7zM79.74 396.86h0.7v0.7h-0.7zM81.96 396.07h0.7v0.7h-0.7zM72.74 399.57h0.7v0.7h-0.7zM78.51 404h0.7v0.7h-0.7zM71.56 414.96h0.7v0.7h-0.7zM84.01 414.45h0.7v0.7h-0.7zM85.6 391.95h0.7v0.7h-0.7zM79.71 411.37h0.7v0.7h-0.7zM85.55 393.88h0.7v0.7h-0.7zM81.63 409.42h0.7v0.7h-0.7zM86.37 396.78h0.7v0.7h-0.7zM79.46 397.76h0.7v0.7h-0.7zM80.2 408.07h0.7v0.7h-0.7zM85.73 403.67h0.7v0.7h-0.7zM75.55 395h0.7v0.7h-0.7zM81.92 390.04h0.7v0.7h-0.7zM76.62 392.18h0.7v0.7h-0.7zM87.4 409.18h0.7v0.7h-0.7zM80.74 398.64h0.7v0.7h-0.7zM85.41 393.19h0.7v0.7h-0.7zM84.87 390.41h0.7v0.7h-0.7zM81.12 387.86h0.7v0.7h-0.7zM76.86 400.54h0.7v0.7h-0.7zM73.36 412.52h0.7v0.7h-0.7zM79.87 392.19h0.7v0.7h-0.7zM73.56 401.28h0.7v0.7h-0.7zM79.55 409.29h0.7v0.7h-0.7zM74.79 410.17h0.7v0.7h-0.7zM87.47 397.77h0.7v0.7h-0.7zM82.41 406.65h0.7v0.7h-0.7zM82.19 404.31h0.7v0.7h-0.7zM78.06 391.31h0.7v0.7h-0.7zM76.95 398.65h0.7v0.7h-0.7zM80.95 393.68h0.7v0.7h-0.7zM87.31 385.43h0.7v0.7h-0.7zM83.44 397.17h0.7v0.7h-0.7zM85.14 395.84h0.7v0.7h-0.7zM77.01 397.99h0.7v0.7h-0.7zM85.82 391.71h0.7v0.7h-0.7zM79.41 400.25h0.7v0.7h-0.7zM76.28 406.57h0.7v0.7h-0.7zM85.61 399.72h0.7v0.7h-0.7zM89.33 388.01h0.7v0.7h-0.7zM77.82 389.01h0.7v0.7h-0.7zM81.72 391.49h0.7v0.7h-0.7zM74.56 396.26h0.7v0.7h-0.7zM78.05 409.68h0.7v0.7h-0.7zM81.76 398.78h0.7v0.7h-0.7zM84.21 402.43h0.7v0.7h-0.7zM83.18 391.07h0.7v0.7h-0.7zM80.45 403.31h0.7v0.7h-0.7zM85.16 409.05h0.7v0.7h-0.7zM81.42 403.64h0.7v0.7h-0.7zM83.78 390.16h0.7v0.7h-0.7zM85.77 391.18h0.7v0.7h-0.7zM76.47 402.82h0.7v0.7h-0.7zM72.55 409.7h0.7v0.7h-0.7zM72.86 404.64h0.7v0.7h-0.7zM81.93 408.87h0.7v0.7h-0.7zM81.27 394.22h0.7v0.7h-0.7zM80.46 406.65h0.7v0.7h-0.7zM75.81 401.42h0.7v0.7h-0.7zM86.06 394.85h0.7v0.7h-0.7zM79.14 401.15h0.7v0.7h-0.7zM75.32 387.08h0.7v0.7h-0.7zM85.44 393.52h0.7v0.7h-0.7zM76.04 405.74h0.7v0.7h-0.7zM75.23 397.27h0.7v0.7h-0.7zM82.07 407.02h0.7v0.7h-0.7zM83.84 390.37h0.7v0.7h-0.7zM76.46 392.59h0.7v0.7h-0.7zM78.91 407.43h0.7v0.7h-0.7zM75.07 405.2h0.7v0.7h-0.7zM83.66 394.5h0.7v0.7h-0.7zM74.71 397.2h0.7v0.7h-0.7zM78.74 394.65h0.7v0.7h-0.7zM84.7 408.31h0.7v0.7h-0.7zM80.11 408.03h0.7v0.7h-0.7zM77.21 401.1h0.7v0.7h-0.7zM80.14 392.34h0.7v0.7h-0.7zM83.14 411.5h0.7v0.7h-0.7zM83.57 398.87h0.7v0.7h-0.7zM79.21 392.28h0.7v0.7h-0.7zM86.65 399.31h0.7v0.7h-0.7zM85.81 392.75h0.7v0.7h-0.7zM79.72 395.35h0.7v0.7h-0.7zM92.45 411.37h0.7v0.7h-0.7zM86.37 394.5h0.7v0.7h-0.7zM87.04 403.92h0.7v0.7h-0.7zM88.46 398.55h0.7v0.7h-0.7zM79.38 391.67h0.7v0.7h-0.7zM73.36 386.97h0.7v0.7h-0.7zM87.39 413.89h0.7v0.7h-0.7zM81.75 402.25h0.7v0.7h-0.7zM78.47 392.3h0.7v0.7h-0.7zM77.19 400.69h0.7v0.7h-0.7zM81.12 386.59h0.7v0.7h-0.7zM79.71 391.7h0.7v0.7h-0.7zM75.84 399.88h0.7v0.7h-0.7zM76.46 400.87h0.7v0.7h-0.7zM81.24 395.67h0.7v0.7h-0.7zM76.38 387.42h0.7v0.7h-0.7zM75.04 412.29h0.7v0.7h-0.7zM74.78 401.4h0.7v0.7h-0.7zM84.58 391.38h0.7v0.7h-0.7zM83.11 395.84h0.7v0.7h-0.7zM81.78 392.39h0.7v0.7h-0.7zM83.86 411.61h0.7v0.7h-0.7zM77.54 396.98h0.7v0.7h-0.7zM84.65 394.11h0.7v0.7h-0.7zM77.78 407.66h0.7v0.7h-0.7zM76.84 397.71h0.7v0.7h-0.7zM79.28 393.95h0.7v0.7h-0.7zM77.87 390.1h0.7v0.7h-0.7zM75.79 407.56h0.7v0.7h-0.7zM74.75 408.52h0.7v0.7h-0.7zM73.92 408.39h0.7v0.7h-0.7zM79.31 402.82h0.7v0.7h-0.7zM77.5 402.21h0.7v0.7h-0.7zM87.07 389.69h0.7v0.7h-0.7zM80.59 405.77h0.7v0.7h-0.7zM81.58 406.67h0.7v0.7h-0.7zM77.37 395.62h0.7v0.7h-0.7zM90.57 389.88h0.7v0.7h-0.7zM78.67 394.25h0.7v0.7h-0.7zM80.7 392.73h0.7v0.7h-0.7zM77.71 387.93h0.7v0.7h-0.7zM78.19 387.63h0.7v0.7h-0.7zM79 403h0.7v0.7h-0.7zM72.58 413.18h0.7v0.7h-0.7zM81.14 400.3h0.7v0.7h-0.7zM76.49 409.52h0.7v0.7h-0.7zM74.11 402.57h0.7v0.7h-0.7zM76.11 398.89h0.7v0.7h-0.7zM87.58 395.88h0.7v0.7h-0.7zM80.39 387.1h0.7v0.7h-0.7zM85.67 410.35h0.7v0.7h-0.7zM80.3 385.85h0.7v0.7h-0.7zM78.97 406.35h0.7v0.7h-0.7zM80.07 393.3h0.7v0.7h-0.7zM88.01 412.35h0.7v0.7h-0.7zM85.78 395.06h0.7v0.7h-0.7zM83.37 392.24h0.7v0.7h-0.7zM84.25 391.71h0.7v0.7h-0.7zM81.32 389.39h0.7v0.7h-0.7zM80.5 390.33h0.7v0.7h-0.7zM81.24 405.89h0.7v0.7h-0.7zM85.46 395.33h0.7v0.7h-0.7zM86.91 401.57h0.7v0.7h-0.7zM86.9 399.03h0.7v0.7h-0.7zM75.38 399.85h0.7v0.7h-0.7zM76.12 391.97h0.7v0.7h-0.7zM70.53 400.62h0.7v0.7h-0.7zM86.53 391.02h0.7v0.7h-0.7zM79.32 387.8h0.7v0.7h-0.7zM82.18 407.58h0.7v0.7h-0.7zM80.13 404.43h0.7v0.7h-0.7zM83.62 397.79h0.7v0.7h-0.7zM83.91 386.58h0.7v0.7h-0.7zM83.37 409.01h0.7v0.7h-0.7zM79.36 392.75h0.7v0.7h-0.7zM76.06 388.64h0.7v0.7h-0.7zM81.65 390.13h0.7v0.7h-0.7zM80.18 399.24h0.7v0.7h-0.7zM87.18 396.48h0.7v0.7h-0.7zM73.95 395.12h0.7v0.7h-0.7zM84.89 391.74h0.7v0.7h-0.7zM76.33 402.72h0.7v0.7h-0.7zM91.67 396.06h0.7v0.7h-0.7zM85.36 410.6h0.7v0.7h-0.7zM77.82 394.15h0.7v0.7h-0.7zM79.19 393.88h0.7v0.7h-0.7zM80.29 389.99h0.7v0.7h-0.7zM79.1 398.17h0.7v0.7h-0.7zM89.89 388.89h0.7v0.7h-0.7zM76.71 400.55h0.7v0.7h-0.7zM80.67 404.03h0.7v0.7h-0.7zM79.29 402.78h0.7v0.7h-0.7zM92.74 402.22h0.7v0.7h-0.7zM89.6 404.78h0.7v0.7h-0.7zM75.51 403.25h0.7v0.7h-0.7zM85.86 402.62h0.7v0.7h-0.7zM78.3 385.6h0.7v0.7h-0.7zM82.5 406.25h0.7v0.7h-0.7zM84.24 397.36h0.7v0.7h-0.7zM83 403.21h0.7v0.7h-0.7zM74.96 384.41h0.7v0.7h-0.7zM76.4 400.24h0.7v0.7h-0.7zM74.15 400.77h0.7v0.7h-0.7zM87.4 397.76h0.7v0.7h-0.7zM72.07 398.72h0.7v0.7h-0.7zM77.44 399.23h0.7v0.7h-0.7zM81.52 406.59h0.7v0.7h-0.7zM72.94 413.92h0.7v0.7h-0.7zM73.59 402.52h0.7v0.7h-0.7zM75.76 399.32h0.7v0.7h-0.7zM77.22 396.57h0.7v0.7h-0.7zM78.47 392.36h0.7v0.7h-0.7zM78.49 395.71h0.7v0.7h-0.7zM75.12 400.25h0.7v0.7h-0.7zM72.86 402.56h0.7v0.7h-0.7zM83.79 386.24h0.7v0.7h-0.7zM85.7 409.49h0.7v0.7h-0.7zM86.94 411.83h0.7v0.7h-0.7zM81.3 404.7h0.7v0.7h-0.7zM74.5 393h0.7v0.7h-0.7zM86.33 401.78h0.7v0.7h-0.7zM74.71 397.69h0.7v0.7h-0.7zM72.27 398.16h0.7v0.7h-0.7zM84.47 386.25h0.7v0.7h-0.7zM79.8 401.34h0.7v0.7h-0.7zM77.01 393.05h0.7v0.7h-0.7zM80.27 385.45h0.7v0.7h-0.7zM79.68 388.14h0.7v0.7h-0.7zM76.77 409.78h0.7v0.7h-0.7zM78.38 395.45h0.7v0.7h-0.7zM83.99 393.31h0.7v0.7h-0.7zM77.46 398.5h0.7v0.7h-0.7zM82.99 392.13h0.7v0.7h-0.7zM80.02 385.25h0.7v0.7h-0.7zM74.39 398.28h0.7v0.7h-0.7zM77.15 400.69h0.7v0.7h-0.7zM83.59 383.58h0.7v0.7h-0.7zM76.55 402h0.7v0.7h-0.7zM80.9 412.22h0.7v0.7h-0.7zM71.4 391.26h0.7v0.7h-0.7zM74.58 390.91h0.7v0.7h-0.7zM77.8 401.53h0.7v0.7h-0.7zM75.96 405.76h0.7v0.7h-0.7zM86.98 397.26h0.7v0.7h-0.7zM85.33 387.83h0.7v0.7h-0.7zM75.53 403.26h0.7v0.7h-0.7zM84.15 389.19h0.7v0.7h-0.7zM80.01 393.34h0.7v0.7h-0.7zM80.12 405.05h0.7v0.7h-0.7zM77.88 389.61h0.7v0.7h-0.7zM86.11 395.64h0.7v0.7h-0.7zM70.95 401.04h0.7v0.7h-0.7zM84.4 407h0.7v0.7h-0.7zM84.58 398.92h0.7v0.7h-0.7zM87.81 401.51h0.7v0.7h-0.7zM73.18 406.62h0.7v0.7h-0.7zM80.99 397.99h0.7v0.7h-0.7zM79.2 404.88h0.7v0.7h-0.7zM80.32 406.19h0.7v0.7h-0.7zM75.04 402.13h0.7v0.7h-0.7zM87.07 411.39h0.7v0.7h-0.7zM79.11 408.4h0.7v0.7h-0.7zM77.13 414.24h0.7v0.7h-0.7zM85.93 395.59h0.7v0.7h-0.7zM84.13 403.42h0.7v0.7h-0.7zM78.76 390.29h0.7v0.7h-0.7zM82.51 392.92h0.7v0.7h-0.7zM77.72 400.39h0.7v0.7h-0.7zM74.49 407.86h0.7v0.7h-0.7zM79.91 402.3h0.7v0.7h-0.7zM75.73 390.02h0.7v0.7h-0.7zM78.99 409.01h0.7v0.7h-0.7zM86.29 393.9h0.7v0.7h-0.7zM85.06 397.96h0.7v0.7h-0.7zM84.26 402.29h0.7v0.7h-0.7zM79.4 401.34h0.7v0.7h-0.7zM89.27 407.42h0.7v0.7h-0.7zM91.68 409.7h0.7v0.7h-0.7zM85.47 401.05h0.7v0.7h-0.7zM78 399.66h0.7v0.7h-0.7zM82.79 383.87h0.7v0.7h-0.7zM84.47 392.98h0.7v0.7h-0.7zM85.05 408.59h0.7v0.7h-0.7zM87.65 404.88h0.7v0.7h-0.7zM77.47 414.32h0.7v0.7h-0.7zM78.81 411.31h0.7v0.7h-0.7zM77.05 399.61h0.7v0.7h-0.7zM83.68 407.17h0.7v0.7h-0.7zM73.46 397.14h0.7v0.7h-0.7zM77.06 408.09h0.7v0.7h-0.7zM82.24 407.97h0.7v0.7h-0.7zM80.97 412.41h0.7v0.7h-0.7zM77.25 398.09h0.7v0.7h-0.7zM87.51 410.23h0.7v0.7h-0.7zM73.34 407.86h0.7v0.7h-0.7zM80.24 383.48h0.7v0.7h-0.7zM76.47 397.56h0.7v0.7h-0.7zM76.83 386.57h0.7v0.7h-0.7zM87.92 392.4h0.7v0.7h-0.7zM75.45 388.78h0.7v0.7h-0.7zM78.93 408.64h0.7v0.7h-0.7zM86.06 414.29h0.7v0.7h-0.7zM86.82 398.43h0.7v0.7h-0.7zM82.53 413.36h0.7v0.7h-0.7zM75.94 392.09h0.7v0.7h-0.7zM83.33 394.97h0.7v0.7h-0.7zM79.41 408.92h0.7v0.7h-0.7zM82.51 410.42h0.7v0.7h-0.7zM77.41 400.16h0.7v0.7h-0.7zM82.39 402.55h0.7v0.7h-0.7zM71.39 391.91h0.7v0.7h-0.7zM83.05 385.7h0.7v0.7h-0.7zM72.9 394.04h0.7v0.7h-0.7zM78.32 405.65h0.7v0.7h-0.7zM83.38 396.19h0.7v0.7h-0.7zM76.2 392.74h0.7v0.7h-0.7zM86.08 402.53h0.7v0.7h-0.7zM83.27 384.61h0.7v0.7h-0.7zM71.87 407.2h0.7v0.7h-0.7zM90.18 403.26h0.7v0.7h-0.7zM76.91 387.21h0.7v0.7h-0.7zM74.65 402.62h0.7v0.7h-0.7zM81.94 394.77h0.7v0.7h-0.7zM83.58 410.76h0.7v0.7h-0.7zM75.21 396.9h0.7v0.7h-0.7zM77.15 412.66h0.7v0.7h-0.7zM78.81 412.05h0.7v0.7h-0.7zM86.6 414.02h0.7v0.7h-0.7zM80.25 411.18h0.7v0.7h-0.7zM85.32 397.1h0.7v0.7h-0.7zM80.45 401.75h0.7v0.7h-0.7zM77.92 394.44h0.7v0.7h-0.7zM77.7 397.65h0.7v0.7h-0.7zM89.79 391.52h0.7v0.7h-0.7zM75.82 395.61h0.7v0.7h-0.7zM74.34 406.85h0.7v0.7h-0.7zM74.08 393.94h0.7v0.7h-0.7zM76.09 402.07h0.7v0.7h-0.7zM78.59 404.05h0.7v0.7h-0.7zM82.96 413.65h0.7v0.7h-0.7zM77.59 410.63h0.7v0.7h-0.7zM90.43 404.5h0.7v0.7h-0.7zM73 401.84h0.7v0.7h-0.7zM85.37 405.68h0.7v0.7h-0.7zM84.22 403.46h0.7v0.7h-0.7zM81.39 387h0.7v0.7h-0.7zM88.39 407.13h0.7v0.7h-0.7zM82.57 392.17h0.7v0.7h-0.7zM77.93 387.79h0.7v0.7h-0.7zM81.8 390.72h0.7v0.7h-0.7zM88.76 398.89h0.7v0.7h-0.7zM70.73 398.81h0.7v0.7h-0.7zM84.29 393.23h0.7v0.7h-0.7zM84.73 406.96h0.7v0.7h-0.7zM83.2 404.45h0.7v0.7h-0.7zM75.19 388.66h0.7v0.7h-0.7zM84.34 397.6h0.7v0.7h-0.7zM75.96 409.57h0.7v0.7h-0.7zM82.89 386.18h0.7v0.7h-0.7zM77.92 408.86h0.7v0.7h-0.7zM81.31 398.88h0.7v0.7h-0.7zM87.09 410.01h0.7v0.7h-0.7zM76.06 396.33h0.7v0.7h-0.7zM83.19 404.71h0.7v0.7h-0.7zM80.89 388.87h0.7v0.7h-0.7zM79.76 399.48h0.7v0.7h-0.7zM82.32 399.38h0.7v0.7h-0.7zM79.02 412.32h0.7v0.7h-0.7zM86.94 395.14h0.7v0.7h-0.7zM74.83 407.73h0.7v0.7h-0.7zM77.48 390.98h0.7v0.7h-0.7zM81.74 390.29h0.7v0.7h-0.7zM80.83 395.98h0.7v0.7h-0.7zM85.81 405.32h0.7v0.7h-0.7zM89.43 403.78h0.7v0.7h-0.7zM92.03 400.89h0.7v0.7h-0.7zM81.71 398.97h0.7v0.7h-0.7zM83.47 391.02h0.7v0.7h-0.7zM82.96 414.23h0.7v0.7h-0.7zM85.35 406.51h0.7v0.7h-0.7zM77.11 389.32h0.7v0.7h-0.7zM74.5 391.98h0.7v0.7h-0.7zM87.69 401.86h0.7v0.7h-0.7zM76.78 396.45h0.7v0.7h-0.7zM84.85 404.59h0.7v0.7h-0.7zM74.84 402.75h0.7v0.7h-0.7zM83.46 415.74h0.7v0.7h-0.7zM75.99 397.87h0.7v0.7h-0.7zM88.12 392.77h0.7v0.7h-0.7zM80.23 407.57h0.7v0.7h-0.7zM88.37 402.64h0.7v0.7h-0.7zM86.56 397.79h0.7v0.7h-0.7zM85.6 398.32h0.7v0.7h-0.7zM86.44 388.94h0.7v0.7h-0.7zM74.99 394.55h0.7v0.7h-0.7zM79.03 388.2h0.7v0.7h-0.7zM89.27 394.64h0.7v0.7h-0.7zM80.2 409.61h0.7v0.7h-0.7zM77.6 387.23h0.7v0.7h-0.7zM83.08 404.58h0.7v0.7h-0.7zM77.43 395.22h0.7v0.7h-0.7zM84.56 395.58h0.7v0.7h-0.7zM90.34 387.57h0.7v0.7h-0.7zM84.55 397.98h0.7v0.7h-0.7zM89.06 402.15h0.7v0.7h-0.7zM83.87 406.33h0.7v0.7h-0.7zM77.36 399.5h0.7v0.7h-0.7zM86.56 392.32h0.7v0.7h-0.7zM83.69 408.35h0.7v0.7h-0.7zM71.59 389.36h0.7v0.7h-0.7zM90.04 397.63h0.7v0.7h-0.7zM84.98 402.05h0.7v0.7h-0.7zM84.81 409.6h0.7v0.7h-0.7zM87.95 406.33h0.7v0.7h-0.7zM75.52 392.4h0.7v0.7h-0.7zM89.17 394.39h0.7v0.7h-0.7zM79.72 389.11h0.7v0.7h-0.7zM75.13 396.86h0.7v0.7h-0.7zM83.44 400.33h0.7v0.7h-0.7zM71.97 403.79h0.7v0.7h-0.7zM74.84 407.28h0.7v0.7h-0.7zM83.34 386.27h0.7v0.7h-0.7zM81.05 409.52h0.7v0.7h-0.7zM74.46 401.48h0.7v0.7h-0.7zM80.67 412.4h0.7v0.7h-0.7zM81.39 392.34h0.7v0.7h-0.7zM74.01 414.93h0.7v0.7h-0.7zM87.2 409.51h0.7v0.7h-0.7zM74.28 403.13h0.7v0.7h-0.7zM75.46 393.37h0.7v0.7h-0.7zM82.66 397.07h0.7v0.7h-0.7zM82.74 395.04h0.7v0.7h-0.7zM72.2 398.21h0.7v0.7h-0.7zM82.13 406.15h0.7v0.7h-0.7zM74.95 395.02h0.7v0.7h-0.7zM78.64 391.16h0.7v0.7h-0.7zM86.92 407.09h0.7v0.7h-0.7zM80.64 398.71h0.7v0.7h-0.7z"/>
<path fill="#18a8d8" d="M83.05 391.94h0.75v0.75h-0.75zM81.61 393.16h0.75v0.75h-0.75zM84.11 403.04h0.75v0.75h-0.75zM79.18 404.91h0.75v0.75h-0.75zM83.65 395.89h0.75v0.75h-0.75zM82.66 400.12h0.75v0.75h-0.75zM85.33 402.63h0.75v0.75h-0.75zM82.86 402.3h0.75v0.75h-0.75zM76.13 397.49h0.75v0.75h-0.75zM77.61 403.56h0.75v0.75h-0.75zM84.99 401.83h0.75v0.75h-0.75zM78.91 399.17h0.75v0.75h-0.75zM83.64 399.24h0.75v0.75h-0.75zM77.66 393.8h0.75v0.75h-0.75zM75.67 403.7h0.75v0.75h-0.75zM85.51 402.43h0.75v0.75h-0.75zM78.94 407.16h0.75v0.75h-0.75zM79.54 403.66h0.75v0.75h-0.75zM82.1 398.19h0.75v0.75h-0.75zM82.26 400.59h0.75v0.75h-0.75zM82.22 403.71h0.75v0.75h-0.75zM82.65 404.04h0.75v0.75h-0.75zM80.17 406.37h0.75v0.75h-0.75zM82.63 398.42h0.75v0.75h-0.75zM79.84 393.75h0.75v0.75h-0.75zM81.81 400.96h0.75v0.75h-0.75zM79.45 391.98h0.75v0.75h-0.75zM81.56 397.48h0.75v0.75h-0.75zM84.77 394.09h0.75v0.75h-0.75zM78.55 398.7h0.75v0.75h-0.75zM85.2 396.33h0.75v0.75h-0.75zM80.22 407.76h0.75v0.75h-0.75zM80.37 406.37h0.75v0.75h-0.75zM84.16 397.2h0.75v0.75h-0.75zM81.2 395.25h0.75v0.75h-0.75zM75.3 397.57h0.75v0.75h-0.75zM82.69 402.82h0.75v0.75h-0.75zM76.81 401.94h0.75v0.75h-0.75zM80.02 392.31h0.75v0.75h-0.75zM81.83 395.9h0.75v0.75h-0.75zM79.4 399.2h0.75v0.75h-0.75zM81.7 392.03h0.75v0.75h-0.75zM78.79 404.39h0.75v0.75h-0.75zM78.76 402.56h0.75v0.75h-0.75zM78.73 397.58h0.75v0.75h-0.75zM77.96 400.91h0.75v0.75h-0.75zM83.71 402.82h0.75v0.75h-0.75zM76.91 394.43h0.75v0.75h-0.75zM81.85 397.87h0.75v0.75h-0.75zM82.72 406.96h0.75v0.75h-0.75zM82.85 399.35h0.75v0.75h-0.75zM83.57 400.92h0.75v0.75h-0.75zM82.72 400.19h0.75v0.75h-0.75zM83.04 401.26h0.75v0.75h-0.75zM80.11 407.59h0.75v0.75h-0.75zM81.8 401.5h0.75v0.75h-0.75zM84.32 399.64h0.75v0.75h-0.75zM83.02 401.69h0.75v0.75h-0.75zM79.01 404.96h0.75v0.75h-0.75zM75.06 399.78h0.75v0.75h-0.75zM83.31 400.69h0.75v0.75h-0.75zM76.36 400.38h0.75v0.75h-0.75zM80.18 406.45h0.75v0.75h-0.75zM78.3 403.87h0.75v0.75h-0.75zM76.82 398.55h0.75v0.75h-0.75zM81.72 398.69h0.75v0.75h-0.75zM83.99 399.54h0.75v0.75h-0.75zM84.36 399.68h0.75v0.75h-0.75zM82.62 397.12h0.75v0.75h-0.75zM85.37 396.72h0.75v0.75h-0.75zM77.27 399.65h0.75v0.75h-0.75zM82.19 400.73h0.75v0.75h-0.75zM81.28 404.66h0.75v0.75h-0.75zM83.93 393.07h0.75v0.75h-0.75zM84.46 398.62h0.75v0.75h-0.75zM82.94 402.18h0.75v0.75h-0.75zM79.58 391.72h0.75v0.75h-0.75zM77.98 404.25h0.75v0.75h-0.75zM85.1 396.82h0.75v0.75h-0.75zM79.44 394.46h0.75v0.75h-0.75zM80.03 406.02h0.75v0.75h-0.75zM78.42 394.64h0.75v0.75h-0.75zM79.01 402.58h0.75v0.75h-0.75zM76.13 394.13h0.75v0.75h-0.75zM82.08 393.41h0.75v0.75h-0.75zM77.35 400.59h0.75v0.75h-0.75zM75.76 397.22h0.75v0.75h-0.75zM79.02 403.26h0.75v0.75h-0.75zM79.53 404.91h0.75v0.75h-0.75zM84.27 393.94h0.75v0.75h-0.75zM79.98 393.63h0.75v0.75h-0.75zM79.68 406.12h0.75v0.75h-0.75zM78.81 404.23h0.75v0.75h-0.75zM83.73 393.76h0.75v0.75h-0.75zM84.07 400.81h0.75v0.75h-0.75zM78.62 406.85h0.75v0.75h-0.75zM82.96 402.29h0.75v0.75h-0.75zM82.75 403.17h0.75v0.75h-0.75zM78.2 396.84h0.75v0.75h-0.75zM79.94 406.94h0.75v0.75h-0.75zM80.69 393.27h0.75v0.75h-0.75zM76.37 397.46h0.75v0.75h-0.75zM78.22 396.03h0.75v0.75h-0.75zM78.67 394.27h0.75v0.75h-0.75zM79.25 392.85h0.75v0.75h-0.75zM81.31 403.42h0.75v0.75h-0.75zM81.91 405.43h0.75v0.75h-0.75zM80.33 401.21h0.75v0.75h-0.75zM79.55 406.73h0.75v0.75h-0.75zM84.76 402.26h0.75v0.75h-0.75zM79.31 391.95h0.75v0.75h-0.75zM84.43 401.65h0.75v0.75h-0.75zM84.56 393.63h0.75v0.75h-0.75zM82.37 397.01h0.75v0.75h-0.75zM82.37 404.86h0.75v0.75h-0.75zM75.55 399.86h0.75v0.75h-0.75zM83.94 402.08h0.75v0.75h-0.75zM82.52 406.61h0.75v0.75h-0.75zM81.86 393.77h0.75v0.75h-0.75zM84.17 402h0.75v0.75h-0.75zM83.7 396.33h0.75v0.75h-0.75zM84.18 397.39h0.75v0.75h-0.75zM85.83 398.09h0.75v0.75h-0.75zM81.76 391.7h0.75v0.75h-0.75zM76.97 398.07h0.75v0.75h-0.75zM80.09 407.9h0.75v0.75h-0.75zM78.16 396.16h0.75v0.75h-0.75zM77.82 394.9h0.75v0.75h-0.75zM80.4 397.35h0.75v0.75h-0.75zM76.78 403.69h0.75v0.75h-0.75zM81.84 401.23h0.75v0.75h-0.75zM77.63 392.33h0.75v0.75h-0.75zM78.64 392.32h0.75v0.75h-0.75zM76.9 398.07h0.75v0.75h-0.75zM82.18 396.93h0.75v0.75h-0.75zM83.86 402.28h0.75v0.75h-0.75z"/>
<path fill="#36bc5a" d="M78.32 401.8h0.8v0.8h-0.8zM79.93 400.14h0.8v0.8h-0.8zM82.22 406.14h0.8v0.8h-0.8zM79.96 400.98h0.8v0.8h-0.8zM78.68 406.12h0.8v0.8h-0.8zM80.02 396.6h0.8v0.8h-0.8zM78.18 402.35h0.8v0.8h-0.8zM78.73 401.72h0.8v0.8h-0.8zM82.81 396.06h0.8v0.8h-0.8zM83.3 398.41h0.8v0.8h-0.8zM81.61 403.8h0.8v0.8h-0.8zM83.27 401.38h0.8v0.8h-0.8zM79.75 402.94h0.8v0.8h-0.8zM80.57 398.7h0.8v0.8h-0.8zM80.69 400.75h0.8v0.8h-0.8zM81.47 398.69h0.8v0.8h-0.8zM76.84 405.6h0.8v0.8h-0.8zM79.86 400.67h0.8v0.8h-0.8zM79 402.85h0.8v0.8h-0.8zM83.93 393.83h0.8v0.8h-0.8zM82.69 396.62h0.8v0.8h-0.8zM81.38 401.24h0.8v0.8h-0.8zM81.77 399.53h0.8v0.8h-0.8zM82.81 391.68h0.8v0.8h-0.8zM82.52 398.27h0.8v0.8h-0.8zM81.69 396.28h0.8v0.8h-0.8zM80.32 399.79h0.8v0.8h-0.8zM80.95 402.46h0.8v0.8h-0.8zM77.89 392.82h0.8v0.8h-0.8zM83.17 395.69h0.8v0.8h-0.8zM79.48 403.82h0.8v0.8h-0.8zM80.56 401.11h0.8v0.8h-0.8zM76.91 396.97h0.8v0.8h-0.8zM80.67 395.77h0.8v0.8h-0.8zM77.57 401.62h0.8v0.8h-0.8zM81.38 401.29h0.8v0.8h-0.8zM82.26 402.73h0.8v0.8h-0.8zM84.63 403.7h0.8v0.8h-0.8zM76.98 392.83h0.8v0.8h-0.8zM82.16 396.64h0.8v0.8h-0.8zM80.37 399.06h0.8v0.8h-0.8zM80.17 399.41h0.8v0.8h-0.8zM77.76 393.47h0.8v0.8h-0.8zM80.17 390.65h0.8v0.8h-0.8zM79.2 394.6h0.8v0.8h-0.8zM79.51 400.33h0.8v0.8h-0.8zM77.59 401.08h0.8v0.8h-0.8zM80.27 400.25h0.8v0.8h-0.8zM80.8 399.9h0.8v0.8h-0.8zM80.71 400.1h0.8v0.8h-0.8zM82.06 391.74h0.8v0.8h-0.8zM81.11 393.13h0.8v0.8h-0.8zM78.5 399.04h0.8v0.8h-0.8zM79.53 397.79h0.8v0.8h-0.8zM83.89 403.27h0.8v0.8h-0.8zM78.21 401.16h0.8v0.8h-0.8zM78.89 406.02h0.8v0.8h-0.8zM80.27 397.26h0.8v0.8h-0.8zM78.49 391.11h0.8v0.8h-0.8zM82.44 400.82h0.8v0.8h-0.8zM82.18 404.53h0.8v0.8h-0.8zM84.31 399.82h0.8v0.8h-0.8zM85.52 397.12h0.8v0.8h-0.8zM78.88 396.27h0.8v0.8h-0.8zM81.13 402.63h0.8v0.8h-0.8zM82.86 405.75h0.8v0.8h-0.8zM79.73 398.33h0.8v0.8h-0.8zM84.33 394.5h0.8v0.8h-0.8zM79.21 397.6h0.8v0.8h-0.8zM84.46 399.05h0.8v0.8h-0.8zM81.2 397.02h0.8v0.8h-0.8zM83.74 396.82h0.8v0.8h-0.8zM82.72 399.4h0.8v0.8h-0.8zM79.76 402.29h0.8v0.8h-0.8zM83.09 402.72h0.8v0.8h-0.8zM82.7 400.09h0.8v0.8h-0.8zM79.85 399.99h0.8v0.8h-0.8zM79.85 397.51h0.8v0.8h-0.8zM81.96 404.05h0.8v0.8h-0.8zM79.89 406.98h0.8v0.8h-0.8zM76.47 393.84h0.8v0.8h-0.8zM77.59 399.62h0.8v0.8h-0.8zM85.28 401.76h0.8v0.8h-0.8zM80.92 400.67h0.8v0.8h-0.8zM80.37 401.1h0.8v0.8h-0.8zM82.37 401.03h0.8v0.8h-0.8zM76.04 400.68h0.8v0.8h-0.8zM78.38 397.72h0.8v0.8h-0.8zM80.8 392.11h0.8v0.8h-0.8zM83.13 400.45h0.8v0.8h-0.8zM78.57 401.84h0.8v0.8h-0.8zM82.23 403.42h0.8v0.8h-0.8zM84.85 399.46h0.8v0.8h-0.8zM78.59 393.63h0.8v0.8h-0.8zM81.32 396.41h0.8v0.8h-0.8zM78.79 401.95h0.8v0.8h-0.8zM81.75 403.79h0.8v0.8h-0.8zM81.33 404.42h0.8v0.8h-0.8zM82.42 396.87h0.8v0.8h-0.8zM83.5 396.5h0.8v0.8h-0.8zM79.2 402.33h0.8v0.8h-0.8zM81.82 402.24h0.8v0.8h-0.8zM78.72 400.5h0.8v0.8h-0.8zM80.61 392.32h0.8v0.8h-0.8zM79.84 407.04h0.8v0.8h-0.8zM80.31 402.81h0.8v0.8h-0.8zM78.63 396.72h0.8v0.8h-0.8zM79.1 397.15h0.8v0.8h-0.8zM77.71 397.82h0.8v0.8h-0.8zM82.88 400.39h0.8v0.8h-0.8zM83.76 405.28h0.8v0.8h-0.8zM82.04 398.36h0.8v0.8h-0.8zM77.22 394.27h0.8v0.8h-0.8zM79.57 403.74h0.8v0.8h-0.8zM77.95 399.46h0.8v0.8h-0.8zM82.28 402.22h0.8v0.8h-0.8zM82.34 396.1h0.8v0.8h-0.8zM81.53 390.78h0.8v0.8h-0.8zM81.16 403.25h0.8v0.8h-0.8zM80.49 404.32h0.8v0.8h-0.8zM79.55 400.33h0.8v0.8h-0.8zM80.01 395.77h0.8v0.8h-0.8zM84.84 402.8h0.8v0.8h-0.8zM78.36 401.21h0.8v0.8h-0.8zM84.27 399.69h0.8v0.8h-0.8zM83.21 394.31h0.8v0.8h-0.8zM79.23 399.58h0.8v0.8h-0.8zM76 398.96h0.8v0.8h-0.8zM79.35 399.71h0.8v0.8h-0.8zM81.56 399.82h0.8v0.8h-0.8zM78.56 399.97h0.8v0.8h-0.8zM81.94 406.2h0.8v0.8h-0.8zM78 402.22h0.8v0.8h-0.8zM82.59 399.06h0.8v0.8h-0.8zM78.37 401.55h0.8v0.8h-0.8zM80.88 404.4h0.8v0.8h-0.8zM81.78 405.12h0.8v0.8h-0.8zM78.8 399.38h0.8v0.8h-0.8zM77.54 399.04h0.8v0.8h-0.8zM82.75 395.66h0.8v0.8h-0.8zM82.93 398.41h0.8v0.8h-0.8zM81.3 400.48h0.8v0.8h-0.8zM79.77 400.79h0.8v0.8h-0.8zM80.57 400.58h0.8v0.8h-0.8zM82.74 399.57h0.8v0.8h-0.8zM79.38 392.83h0.8v0.8h-0.8zM79.91 394.79h0.8v0.8h-0.8zM81.94 395.3h0.8v0.8h-0.8zM75.47 395.75h0.8v0.8h-0.8zM82.22 407.17h0.8v0.8h-0.8zM82.31 403.59h0.8v0.8h-0.8zM81.14 402.71h0.8v0.8h-0.8zM80.62 403.6h0.8v0.8h-0.8zM85.03 398.41h0.8v0.8h-0.8zM82.78 395.81h0.8v0.8h-0.8zM84.96 395.71h0.8v0.8h-0.8zM79.18 399.29h0.8v0.8h-0.8zM82.36 405.51h0.8v0.8h-0.8zM80.21 400.35h0.8v0.8h-0.8zM82.96 401.88h0.8v0.8h-0.8zM76.49 394.49h0.8v0.8h-0.8z"/>
<path fill="#c8b040" d="M82.16 401.53h0.7v0.7h-0.7zM82.13 398.48h0.7v0.7h-0.7zM79.63 397.94h0.7v0.7h-0.7zM78.5 397.49h0.7v0.7h-0.7zM79.86 402.85h0.7v0.7h-0.7zM82.31 398.38h0.7v0.7h-0.7zM77.73 399.24h0.7v0.7h-0.7zM78.64 399.46h0.7v0.7h-0.7zM79.34 400.62h0.7v0.7h-0.7zM77.85 401.18h0.7v0.7h-0.7zM82.06 400.72h0.7v0.7h-0.7zM82.83 399.82h0.7v0.7h-0.7zM81.75 402.42h0.7v0.7h-0.7zM80.73 396.64h0.7v0.7h-0.7zM79.26 404.24h0.7v0.7h-0.7zM78.24 401.63h0.7v0.7h-0.7zM79.19 398.66h0.7v0.7h-0.7zM82.33 398.49h0.7v0.7h-0.7zM80 396.76h0.7v0.7h-0.7zM80.94 396.71h0.7v0.7h-0.7z"/>
<path fill="#2a34f4" opacity="0.85" d="M152.12 393.81h0.7v0.7h-0.7zM154.59 408.41h0.7v0.7h-0.7zM149.88 388.81h0.7v0.7h-0.7zM145.64 399.8h0.7v0.7h-0.7zM147.42 408.73h0.7v0.7h-0.7zM150.73 413.3h0.7v0.7h-0.7zM154.17 395.6h0.7v0.7h-0.7zM151.52 405.72h0.7v0.7h-0.7zM147.1 396.52h0.7v0.7h-0.7zM147.69 405.11h0.7v0.7h-0.7zM157.48 414.52h0.7v0.7h-0.7zM150.23 411.55h0.7v0.7h-0.7zM149.66 395.33h0.7v0.7h-0.7zM145.77 394.18h0.7v0.7h-0.7zM146.69 395.67h0.7v0.7h-0.7zM148.47 408.3h0.7v0.7h-0.7zM159.71 408.45h0.7v0.7h-0.7zM145.87 412.39h0.7v0.7h-0.7zM151.7 398.02h0.7v0.7h-0.7zM151.06 405.46h0.7v0.7h-0.7zM152.48 400.74h0.7v0.7h-0.7zM146.31 393.25h0.7v0.7h-0.7zM152.02 408.45h0.7v0.7h-0.7zM146.86 391.62h0.7v0.7h-0.7zM147.93 389.56h0.7v0.7h-0.7zM148.77 389.44h0.7v0.7h-0.7zM150.88 389.4h0.7v0.7h-0.7zM143.82 407.67h0.7v0.7h-0.7zM148.33 393.41h0.7v0.7h-0.7zM151.51 394.76h0.7v0.7h-0.7zM147.66 408.65h0.7v0.7h-0.7zM147.95 394.01h0.7v0.7h-0.7zM147.08 401.59h0.7v0.7h-0.7zM147.24 407.7h0.7v0.7h-0.7zM152.53 407.51h0.7v0.7h-0.7zM146.75 400.83h0.7v0.7h-0.7zM147.79 412.5h0.7v0.7h-0.7zM150.53 409.42h0.7v0.7h-0.7zM153.23 399.16h0.7v0.7h-0.7zM145.76 405.88h0.7v0.7h-0.7zM144.4 400.86h0.7v0.7h-0.7zM151.98 397.23h0.7v0.7h-0.7zM146.41 400.53h0.7v0.7h-0.7zM145.62 403.37h0.7v0.7h-0.7zM151.11 406.1h0.7v0.7h-0.7zM154.47 397.34h0.7v0.7h-0.7zM147.17 393.36h0.7v0.7h-0.7zM145.5 392.74h0.7v0.7h-0.7zM145.65 396.38h0.7v0.7h-0.7zM149.79 412.86h0.7v0.7h-0.7zM150 391.68h0.7v0.7h-0.7zM147.4 400.27h0.7v0.7h-0.7zM145.61 394.79h0.7v0.7h-0.7zM143.77 405.02h0.7v0.7h-0.7zM153.08 401.04h0.7v0.7h-0.7zM147.98 387.12h0.7v0.7h-0.7zM151.84 409.58h0.7v0.7h-0.7zM153.97 391.71h0.7v0.7h-0.7zM150.52 406.37h0.7v0.7h-0.7zM147.57 398.26h0.7v0.7h-0.7zM149.41 395.46h0.7v0.7h-0.7zM147.48 386.87h0.7v0.7h-0.7zM152.82 395.9h0.7v0.7h-0.7zM151.77 398.9h0.7v0.7h-0.7zM147.31 408.12h0.7v0.7h-0.7zM150.15 392.84h0.7v0.7h-0.7zM154.53 395.64h0.7v0.7h-0.7zM149.79 386.92h0.7v0.7h-0.7zM146.7 410.3h0.7v0.7h-0.7zM147.45 401.32h0.7v0.7h-0.7zM147.64 390.8h0.7v0.7h-0.7zM155.13 404.09h0.7v0.7h-0.7zM153.42 398.11h0.7v0.7h-0.7zM145.52 403.58h0.7v0.7h-0.7zM152.85 401.6h0.7v0.7h-0.7zM154.43 393.52h0.7v0.7h-0.7zM154.05 383.13h0.7v0.7h-0.7zM146.97 390.04h0.7v0.7h-0.7zM148.09 403.72h0.7v0.7h-0.7zM147.15 387.51h0.7v0.7h-0.7zM149.97 396.55h0.7v0.7h-0.7zM157.31 400.42h0.7v0.7h-0.7zM151.01 391.75h0.7v0.7h-0.7zM152.19 400.33h0.7v0.7h-0.7zM153.47 390.77h0.7v0.7h-0.7zM149.63 392.3h0.7v0.7h-0.7zM149.75 407.85h0.7v0.7h-0.7zM154.08 408.12h0.7v0.7h-0.7zM146.9 395.16h0.7v0.7h-0.7zM149.06 398.16h0.7v0.7h-0.7zM150 411.11h0.7v0.7h-0.7zM143.47 399.51h0.7v0.7h-0.7zM150.64 407.36h0.7v0.7h-0.7zM148.8 394.83h0.7v0.7h-0.7zM145.46 408.07h0.7v0.7h-0.7zM154.41 405.51h0.7v0.7h-0.7zM153.77 408.97h0.7v0.7h-0.7zM149.03 405.52h0.7v0.7h-0.7zM151.54 410.35h0.7v0.7h-0.7zM148.72 391.31h0.7v0.7h-0.7zM153.67 401.84h0.7v0.7h-0.7zM148.38 402.93h0.7v0.7h-0.7zM150.04 393.34h0.7v0.7h-0.7zM152.29 393.66h0.7v0.7h-0.7zM150.52 415.1h0.7v0.7h-0.7zM153 403.03h0.7v0.7h-0.7zM156.94 395.06h0.7v0.7h-0.7zM147.57 390.89h0.7v0.7h-0.7zM150.53 407.12h0.7v0.7h-0.7zM157.84 399.14h0.7v0.7h-0.7zM146.77 409.09h0.7v0.7h-0.7zM154.89 398.71h0.7v0.7h-0.7zM143.41 408.81h0.7v0.7h-0.7zM145.85 395.31h0.7v0.7h-0.7zM151.05 399.28h0.7v0.7h-0.7zM149.49 393.96h0.7v0.7h-0.7zM155.03 395.26h0.7v0.7h-0.7zM154.37 404.19h0.7v0.7h-0.7zM153.15 397.9h0.7v0.7h-0.7zM150.88 402.32h0.7v0.7h-0.7zM147.06 399h0.7v0.7h-0.7zM145.37 397.37h0.7v0.7h-0.7zM146.01 404.57h0.7v0.7h-0.7zM146.62 395.32h0.7v0.7h-0.7zM147.89 400.13h0.7v0.7h-0.7zM149.48 411.34h0.7v0.7h-0.7zM153.57 403.18h0.7v0.7h-0.7zM156.49 395.3h0.7v0.7h-0.7zM150.96 410.41h0.7v0.7h-0.7zM155.51 406.39h0.7v0.7h-0.7zM157.34 407.82h0.7v0.7h-0.7zM149.26 403.62h0.7v0.7h-0.7zM148.73 404.52h0.7v0.7h-0.7zM153.79 402.3h0.7v0.7h-0.7zM152.94 390.16h0.7v0.7h-0.7zM143.55 404.21h0.7v0.7h-0.7zM151.53 409.01h0.7v0.7h-0.7zM146.66 402.17h0.7v0.7h-0.7zM156.78 407.49h0.7v0.7h-0.7zM152.56 394.7h0.7v0.7h-0.7zM151.94 395.85h0.7v0.7h-0.7zM159.31 408.05h0.7v0.7h-0.7zM154.4 384.3h0.7v0.7h-0.7zM157.3 414.83h0.7v0.7h-0.7zM148.71 408.7h0.7v0.7h-0.7zM147.3 394.29h0.7v0.7h-0.7zM150.69 392.9h0.7v0.7h-0.7zM152.85 391.43h0.7v0.7h-0.7zM148.97 398.63h0.7v0.7h-0.7zM149.05 405.94h0.7v0.7h-0.7zM154.84 390.25h0.7v0.7h-0.7zM148.67 390.26h0.7v0.7h-0.7zM153.31 404.35h0.7v0.7h-0.7zM153.94 406.37h0.7v0.7h-0.7zM149.39 404.92h0.7v0.7h-0.7zM152.5 388.31h0.7v0.7h-0.7zM153.49 407.16h0.7v0.7h-0.7zM150.05 385.63h0.7v0.7h-0.7zM152.72 388.87h0.7v0.7h-0.7zM152.71 415.9h0.7v0.7h-0.7zM152.21 403.45h0.7v0.7h-0.7zM145.15 397.46h0.7v0.7h-0.7zM147.24 393h0.7v0.7h-0.7zM149.41 393.53h0.7v0.7h-0.7zM145.53 395.22h0.7v0.7h-0.7zM146.7 405.78h0.7v0.7h-0.7zM152.89 392.68h0.7v0.7h-0.7zM146.82 401.63h0.7v0.7h-0.7zM152.69 404.86h0.7v0.7h-0.7zM154.03 399.27h0.7v0.7h-0.7zM145.45 403.14h0.7v0.7h-0.7zM150.63 408.38h0.7v0.7h-0.7zM150.29 409.45h0.7v0.7h-0.7zM144.27 400h0.7v0.7h-0.7zM150.33 393.83h0.7v0.7h-0.7zM154.4 400.08h0.7v0.7h-0.7zM153.22 401.32h0.7v0.7h-0.7zM148.16 396.92h0.7v0.7h-0.7zM151.76 404.31h0.7v0.7h-0.7zM144.87 400.76h0.7v0.7h-0.7zM147.47 409.95h0.7v0.7h-0.7zM151.48 390.66h0.7v0.7h-0.7zM147.13 390.75h0.7v0.7h-0.7zM152.57 407.92h0.7v0.7h-0.7zM149.65 399.01h0.7v0.7h-0.7zM149.34 384.76h0.7v0.7h-0.7zM144.67 391.68h0.7v0.7h-0.7zM144.64 401.4h0.7v0.7h-0.7zM154.17 402.08h0.7v0.7h-0.7zM150.07 387.94h0.7v0.7h-0.7zM155.35 404.2h0.7v0.7h-0.7zM157.99 399.11h0.7v0.7h-0.7zM150.62 399.48h0.7v0.7h-0.7zM147.08 385.83h0.7v0.7h-0.7zM148.7 410.13h0.7v0.7h-0.7zM147.45 396.75h0.7v0.7h-0.7zM152.73 411.19h0.7v0.7h-0.7zM150.51 392.43h0.7v0.7h-0.7zM147.24 395.37h0.7v0.7h-0.7zM147.61 399.13h0.7v0.7h-0.7zM154.44 409.62h0.7v0.7h-0.7zM150.06 394.11h0.7v0.7h-0.7zM155.29 403.8h0.7v0.7h-0.7zM147.19 389.38h0.7v0.7h-0.7zM143.69 403.12h0.7v0.7h-0.7zM146.77 405.67h0.7v0.7h-0.7zM151.26 395.01h0.7v0.7h-0.7zM158.21 407.04h0.7v0.7h-0.7zM153.43 390.32h0.7v0.7h-0.7zM157.32 401.85h0.7v0.7h-0.7zM155.14 412h0.7v0.7h-0.7zM150.63 398.71h0.7v0.7h-0.7zM153.7 408.42h0.7v0.7h-0.7zM146.07 393.34h0.7v0.7h-0.7zM153.14 407.23h0.7v0.7h-0.7zM153.73 390.06h0.7v0.7h-0.7zM153.16 391.66h0.7v0.7h-0.7zM151.75 392.8h0.7v0.7h-0.7zM145.71 402.25h0.7v0.7h-0.7zM149.21 414.1h0.7v0.7h-0.7zM145.85 400.12h0.7v0.7h-0.7zM147.51 392.56h0.7v0.7h-0.7zM147.76 406.93h0.7v0.7h-0.7zM154 400.01h0.7v0.7h-0.7zM147.26 392.2h0.7v0.7h-0.7zM146.55 393.32h0.7v0.7h-0.7zM151.19 407.93h0.7v0.7h-0.7zM147.92 415.04h0.7v0.7h-0.7zM152.59 402.37h0.7v0.7h-0.7zM145.49 394.28h0.7v0.7h-0.7zM152.42 398.12h0.7v0.7h-0.7zM147.05 402.76h0.7v0.7h-0.7zM151.8 409.14h0.7v0.7h-0.7zM145.94 403.75h0.7v0.7h-0.7zM156.74 398.13h0.7v0.7h-0.7zM145.43 415.69h0.7v0.7h-0.7zM145.07 393.27h0.7v0.7h-0.7zM148.45 410.1h0.7v0.7h-0.7zM152.69 392.64h0.7v0.7h-0.7zM154.77 406.2h0.7v0.7h-0.7zM155.59 412.45h0.7v0.7h-0.7zM156.47 396.4h0.7v0.7h-0.7zM153.69 406.64h0.7v0.7h-0.7zM146.34 391.23h0.7v0.7h-0.7zM153.92 399.8h0.7v0.7h-0.7zM144.67 392.39h0.7v0.7h-0.7zM146.53 396.14h0.7v0.7h-0.7zM143.7 414.02h0.7v0.7h-0.7zM151.35 395.4h0.7v0.7h-0.7zM145.9 397.45h0.7v0.7h-0.7zM150.37 404.88h0.7v0.7h-0.7zM146.29 405.23h0.7v0.7h-0.7zM152.3 392.85h0.7v0.7h-0.7zM152.92 402.17h0.7v0.7h-0.7zM150.74 390.39h0.7v0.7h-0.7zM156.12 408.23h0.7v0.7h-0.7zM154.8 390.9h0.7v0.7h-0.7zM150.25 394.23h0.7v0.7h-0.7zM149.89 407.58h0.7v0.7h-0.7zM149.2 401.83h0.7v0.7h-0.7zM151.86 410.97h0.7v0.7h-0.7zM150.85 398.43h0.7v0.7h-0.7zM151.28 405.41h0.7v0.7h-0.7zM151.88 393.4h0.7v0.7h-0.7zM148.94 410.21h0.7v0.7h-0.7zM149.64 391.28h0.7v0.7h-0.7zM145.23 393.54h0.7v0.7h-0.7zM145.67 397.45h0.7v0.7h-0.7zM144.24 407.21h0.7v0.7h-0.7zM153.99 396.77h0.7v0.7h-0.7zM144.98 390.89h0.7v0.7h-0.7zM152.42 405.09h0.7v0.7h-0.7zM147.88 408.86h0.7v0.7h-0.7zM150.91 391.18h0.7v0.7h-0.7zM144.86 395.87h0.7v0.7h-0.7zM147.05 408.92h0.7v0.7h-0.7zM150.17 399.31h0.7v0.7h-0.7zM146.19 392.89h0.7v0.7h-0.7zM149.62 397.43h0.7v0.7h-0.7zM145.49 399.49h0.7v0.7h-0.7zM148.2 383.58h0.7v0.7h-0.7zM147.01 393.12h0.7v0.7h-0.7zM148.63 405.88h0.7v0.7h-0.7zM145.76 401.25h0.7v0.7h-0.7zM149.83 401.96h0.7v0.7h-0.7zM156.17 405.91h0.7v0.7h-0.7zM153.04 416.65h0.7v0.7h-0.7zM150.27 410.27h0.7v0.7h-0.7zM148.71 396.16h0.7v0.7h-0.7zM152.25 399.53h0.7v0.7h-0.7zM151.48 405.77h0.7v0.7h-0.7zM152.47 386.82h0.7v0.7h-0.7zM150.98 395.84h0.7v0.7h-0.7zM146.84 405.95h0.7v0.7h-0.7zM142.58 397.81h0.7v0.7h-0.7zM156.27 399.97h0.7v0.7h-0.7zM150.21 388.68h0.7v0.7h-0.7zM155.26 396.18h0.7v0.7h-0.7zM146.54 396.25h0.7v0.7h-0.7zM149.32 399.13h0.7v0.7h-0.7zM149.03 398.45h0.7v0.7h-0.7zM151.22 398.14h0.7v0.7h-0.7zM149.14 412.37h0.7v0.7h-0.7zM142.37 401.64h0.7v0.7h-0.7zM151.5 390.66h0.7v0.7h-0.7zM144.56 406.62h0.7v0.7h-0.7zM145.94 410.36h0.7v0.7h-0.7zM148.78 399.03h0.7v0.7h-0.7zM153.89 402.09h0.7v0.7h-0.7zM145.36 418.49h0.7v0.7h-0.7zM148.76 394.23h0.7v0.7h-0.7zM145.96 395.01h0.7v0.7h-0.7zM147.34 398.41h0.7v0.7h-0.7zM152.34 395.48h0.7v0.7h-0.7zM148.56 397.94h0.7v0.7h-0.7zM150.21 403.33h0.7v0.7h-0.7zM152.73 400.28h0.7v0.7h-0.7zM141.94 407.84h0.7v0.7h-0.7zM149.92 401.11h0.7v0.7h-0.7zM146.34 405.96h0.7v0.7h-0.7zM157.24 389.1h0.7v0.7h-0.7zM145.85 392.83h0.7v0.7h-0.7zM145.58 393.37h0.7v0.7h-0.7zM151.09 391.32h0.7v0.7h-0.7zM149.94 387.66h0.7v0.7h-0.7zM151.22 396h0.7v0.7h-0.7zM156.93 399.24h0.7v0.7h-0.7zM152.46 404.02h0.7v0.7h-0.7zM153.59 405.25h0.7v0.7h-0.7zM147.5 408.19h0.7v0.7h-0.7zM149.52 403.86h0.7v0.7h-0.7zM157.26 400.79h0.7v0.7h-0.7zM146.65 407.59h0.7v0.7h-0.7zM151.28 401.85h0.7v0.7h-0.7zM145.56 398.42h0.7v0.7h-0.7zM152.48 398.17h0.7v0.7h-0.7zM156.48 387.18h0.7v0.7h-0.7zM147.11 407.29h0.7v0.7h-0.7zM154.32 406.29h0.7v0.7h-0.7zM151.92 387.64h0.7v0.7h-0.7zM147.84 396.61h0.7v0.7h-0.7zM152.36 406.51h0.7v0.7h-0.7zM147.14 413.27h0.7v0.7h-0.7zM144.23 391.02h0.7v0.7h-0.7zM153.09 406.34h0.7v0.7h-0.7zM150.4 410.91h0.7v0.7h-0.7zM154.75 398.62h0.7v0.7h-0.7zM155.55 397.44h0.7v0.7h-0.7zM151.79 413.75h0.7v0.7h-0.7zM147.89 391.19h0.7v0.7h-0.7zM150.86 386.59h0.7v0.7h-0.7zM154.5 400.88h0.7v0.7h-0.7zM149.49 403.5h0.7v0.7h-0.7zM143.7 398.13h0.7v0.7h-0.7zM150.28 399.34h0.7v0.7h-0.7zM154.85 392.44h0.7v0.7h-0.7zM148.18 404.32h0.7v0.7h-0.7zM153.59 402.04h0.7v0.7h-0.7zM152.94 411.46h0.7v0.7h-0.7zM150.87 404.64h0.7v0.7h-0.7zM152.34 404.94h0.7v0.7h-0.7zM146.35 398.31h0.7v0.7h-0.7zM146.76 404.92h0.7v0.7h-0.7zM153.32 403.21h0.7v0.7h-0.7zM146.41 386.86h0.7v0.7h-0.7zM158.71 397.69h0.7v0.7h-0.7zM155.28 403.69h0.7v0.7h-0.7zM152.76 392.16h0.7v0.7h-0.7zM147.73 404.46h0.7v0.7h-0.7zM152.57 402.25h0.7v0.7h-0.7zM156.56 399.58h0.7v0.7h-0.7zM153.36 413.05h0.7v0.7h-0.7zM152.24 401.28h0.7v0.7h-0.7zM152.45 389.02h0.7v0.7h-0.7zM150.81 390.87h0.7v0.7h-0.7zM145.44 387.96h0.7v0.7h-0.7zM151.83 390.58h0.7v0.7h-0.7zM146.52 404.17h0.7v0.7h-0.7zM146.24 403.19h0.7v0.7h-0.7zM145.95 391.96h0.7v0.7h-0.7zM141.88 404.25h0.7v0.7h-0.7zM152.83 413.71h0.7v0.7h-0.7zM145.17 394.61h0.7v0.7h-0.7zM155.38 393.02h0.7v0.7h-0.7zM152.43 395.11h0.7v0.7h-0.7zM151.25 407.92h0.7v0.7h-0.7zM146.04 401.38h0.7v0.7h-0.7zM147.19 384.95h0.7v0.7h-0.7zM151.85 401.72h0.7v0.7h-0.7zM150.3 407.54h0.7v0.7h-0.7zM151.01 405.19h0.7v0.7h-0.7zM147.49 398.81h0.7v0.7h-0.7zM149.3 394.08h0.7v0.7h-0.7zM150.8 395.71h0.7v0.7h-0.7zM152.14 398.61h0.7v0.7h-0.7zM154.21 413.2h0.7v0.7h-0.7zM147.8 389.44h0.7v0.7h-0.7zM143.25 406.45h0.7v0.7h-0.7zM155.22 393.17h0.7v0.7h-0.7zM152.7 384.9h0.7v0.7h-0.7zM153.71 411.76h0.7v0.7h-0.7zM152.85 409.47h0.7v0.7h-0.7zM143.53 398.1h0.7v0.7h-0.7zM151.05 395.42h0.7v0.7h-0.7zM150.99 402.03h0.7v0.7h-0.7zM147.54 383.29h0.7v0.7h-0.7zM148.53 391.93h0.7v0.7h-0.7zM148.72 389.03h0.7v0.7h-0.7zM154.83 400.1h0.7v0.7h-0.7zM148.85 393.98h0.7v0.7h-0.7zM155.73 391.51h0.7v0.7h-0.7zM154.63 415.25h0.7v0.7h-0.7zM148.79 390.56h0.7v0.7h-0.7zM151.27 412.31h0.7v0.7h-0.7zM156.4 395.89h0.7v0.7h-0.7zM148.79 401.41h0.7v0.7h-0.7zM149.49 398.78h0.7v0.7h-0.7zM147.06 403.88h0.7v0.7h-0.7zM155.15 395.79h0.7v0.7h-0.7zM153.12 406.95h0.7v0.7h-0.7zM148.68 396.29h0.7v0.7h-0.7zM149.23 399.49h0.7v0.7h-0.7zM149.68 391.08h0.7v0.7h-0.7zM156.45 392.91h0.7v0.7h-0.7zM149.82 402.95h0.7v0.7h-0.7zM147.48 391.44h0.7v0.7h-0.7zM145.15 407.83h0.7v0.7h-0.7zM148.02 397.2h0.7v0.7h-0.7zM154.06 408.15h0.7v0.7h-0.7zM147.87 416.68h0.7v0.7h-0.7zM152.05 394.06h0.7v0.7h-0.7zM150.31 402.21h0.7v0.7h-0.7zM145.04 397.96h0.7v0.7h-0.7zM153.07 404.73h0.7v0.7h-0.7zM147.54 406.47h0.7v0.7h-0.7zM149.35 395.8h0.7v0.7h-0.7zM149.78 392.43h0.7v0.7h-0.7zM146.23 395.49h0.7v0.7h-0.7zM157.44 389.39h0.7v0.7h-0.7zM155.32 401.65h0.7v0.7h-0.7zM145.54 398.5h0.7v0.7h-0.7zM150.48 408.38h0.7v0.7h-0.7zM148.92 405.4h0.7v0.7h-0.7zM146.54 402.52h0.7v0.7h-0.7zM147.1 392.77h0.7v0.7h-0.7zM146.74 401.88h0.7v0.7h-0.7zM145.37 399.64h0.7v0.7h-0.7zM144.16 417.19h0.7v0.7h-0.7zM152.4 387.65h0.7v0.7h-0.7zM151.6 404.61h0.7v0.7h-0.7zM145.26 390.82h0.7v0.7h-0.7zM144.4 404.7h0.7v0.7h-0.7zM149.92 400.27h0.7v0.7h-0.7zM157.32 397.97h0.7v0.7h-0.7zM145.77 409.73h0.7v0.7h-0.7zM151.5 410.58h0.7v0.7h-0.7zM148.07 395.11h0.7v0.7h-0.7zM151.18 397.64h0.7v0.7h-0.7zM151.99 409.09h0.7v0.7h-0.7zM146.3 399.45h0.7v0.7h-0.7zM149.82 393.36h0.7v0.7h-0.7zM150.66 394.59h0.7v0.7h-0.7zM151.61 406.14h0.7v0.7h-0.7zM154.87 396.64h0.7v0.7h-0.7zM149.44 403.71h0.7v0.7h-0.7zM148.18 390.03h0.7v0.7h-0.7zM152.21 405.84h0.7v0.7h-0.7zM151.96 391.51h0.7v0.7h-0.7zM154.57 398.4h0.7v0.7h-0.7zM149.46 404.41h0.7v0.7h-0.7zM152.76 390.81h0.7v0.7h-0.7zM153.58 398.46h0.7v0.7h-0.7zM148.71 399.82h0.7v0.7h-0.7zM153.31 399.91h0.7v0.7h-0.7zM147.46 399h0.7v0.7h-0.7zM153.36 398h0.7v0.7h-0.7zM146.63 390.03h0.7v0.7h-0.7zM152.8 391.04h0.7v0.7h-0.7zM146.16 397.56h0.7v0.7h-0.7zM148.58 394.02h0.7v0.7h-0.7zM153.28 387.86h0.7v0.7h-0.7zM152.85 411.35h0.7v0.7h-0.7zM152.43 399.85h0.7v0.7h-0.7zM152.76 393.21h0.7v0.7h-0.7zM142.66 396.86h0.7v0.7h-0.7zM145.36 415.37h0.7v0.7h-0.7zM149.92 392.26h0.7v0.7h-0.7zM144.22 402.66h0.7v0.7h-0.7zM152.4 402.29h0.7v0.7h-0.7zM147.08 409.61h0.7v0.7h-0.7zM154.55 395.86h0.7v0.7h-0.7zM153.89 412.3h0.7v0.7h-0.7zM155.96 399h0.7v0.7h-0.7zM148.45 412.71h0.7v0.7h-0.7zM153.28 407.19h0.7v0.7h-0.7zM149.24 391.92h0.7v0.7h-0.7zM148.24 408.86h0.7v0.7h-0.7zM157.63 395.92h0.7v0.7h-0.7zM151.58 404.03h0.7v0.7h-0.7zM144.34 396.42h0.7v0.7h-0.7zM141.77 389.69h0.7v0.7h-0.7z"/>
<path fill="#18a8d8" d="M148.01 397.48h0.75v0.75h-0.75zM149.62 401.49h0.75v0.75h-0.75zM150.07 406.27h0.75v0.75h-0.75zM149.56 392.89h0.75v0.75h-0.75zM149.74 403.88h0.75v0.75h-0.75zM152.17 407.54h0.75v0.75h-0.75zM150.22 408.32h0.75v0.75h-0.75zM149.03 406.2h0.75v0.75h-0.75zM147.52 398.17h0.75v0.75h-0.75zM153.04 401.72h0.75v0.75h-0.75zM149.47 396.44h0.75v0.75h-0.75zM149.27 402.18h0.75v0.75h-0.75zM150.95 400.1h0.75v0.75h-0.75zM149.36 405.61h0.75v0.75h-0.75zM148.47 395.17h0.75v0.75h-0.75zM152.75 407.03h0.75v0.75h-0.75zM149.28 395.98h0.75v0.75h-0.75zM148.41 405.11h0.75v0.75h-0.75zM148.13 404.82h0.75v0.75h-0.75zM148.24 402.24h0.75v0.75h-0.75zM151.07 402.29h0.75v0.75h-0.75zM147.26 396.03h0.75v0.75h-0.75zM147.09 401.17h0.75v0.75h-0.75zM148.37 405.51h0.75v0.75h-0.75zM147.69 402.1h0.75v0.75h-0.75zM151.94 397.51h0.75v0.75h-0.75zM149.5 402.24h0.75v0.75h-0.75zM150.66 407h0.75v0.75h-0.75zM146.37 401.76h0.75v0.75h-0.75zM152.73 402.21h0.75v0.75h-0.75zM148.63 403.39h0.75v0.75h-0.75zM152.7 406.56h0.75v0.75h-0.75zM153.1 397.16h0.75v0.75h-0.75zM151.4 399.08h0.75v0.75h-0.75zM151.58 395.41h0.75v0.75h-0.75zM147.26 402.89h0.75v0.75h-0.75zM149.12 400.05h0.75v0.75h-0.75zM148.95 405.66h0.75v0.75h-0.75zM150.78 402.12h0.75v0.75h-0.75zM151.93 403.9h0.75v0.75h-0.75zM151.09 402.03h0.75v0.75h-0.75zM147.11 405.98h0.75v0.75h-0.75zM151.24 397.74h0.75v0.75h-0.75zM150.22 401.26h0.75v0.75h-0.75zM146.45 400.72h0.75v0.75h-0.75zM149.14 401.47h0.75v0.75h-0.75zM151.57 403.14h0.75v0.75h-0.75zM150.76 392.2h0.75v0.75h-0.75zM152.18 393.32h0.75v0.75h-0.75zM150.07 394.36h0.75v0.75h-0.75zM148.61 393.67h0.75v0.75h-0.75zM152.29 406.76h0.75v0.75h-0.75zM149.47 399.2h0.75v0.75h-0.75zM151.62 398.67h0.75v0.75h-0.75zM146.55 400.24h0.75v0.75h-0.75zM147.45 397.37h0.75v0.75h-0.75zM146.21 400.05h0.75v0.75h-0.75zM151.59 402.67h0.75v0.75h-0.75zM148.97 406.25h0.75v0.75h-0.75zM148.2 393.51h0.75v0.75h-0.75zM150.12 396.76h0.75v0.75h-0.75zM150.36 399.88h0.75v0.75h-0.75zM149.9 404.29h0.75v0.75h-0.75zM147.11 396.22h0.75v0.75h-0.75zM147.19 404.3h0.75v0.75h-0.75zM149.17 401.33h0.75v0.75h-0.75zM148.62 403.3h0.75v0.75h-0.75zM149.09 396.04h0.75v0.75h-0.75zM147.98 407.56h0.75v0.75h-0.75zM147.42 395.43h0.75v0.75h-0.75z"/>
<path fill="#36bc5a" d="M150.77 401h0.8v0.8h-0.8zM152.26 400.64h0.8v0.8h-0.8zM148.15 403.02h0.8v0.8h-0.8zM151.59 402.57h0.8v0.8h-0.8zM149.19 399.66h0.8v0.8h-0.8zM148.14 406.19h0.8v0.8h-0.8zM151.02 400.26h0.8v0.8h-0.8zM147.6 394.25h0.8v0.8h-0.8zM148.48 397.13h0.8v0.8h-0.8zM147.99 404.29h0.8v0.8h-0.8zM153.09 397.57h0.8v0.8h-0.8zM148.45 397.98h0.8v0.8h-0.8zM150.87 403.77h0.8v0.8h-0.8zM151.31 397.83h0.8v0.8h-0.8zM146.71 400.81h0.8v0.8h-0.8zM149.06 403.23h0.8v0.8h-0.8zM148.3 395.94h0.8v0.8h-0.8zM152.21 401.81h0.8v0.8h-0.8zM151.54 399.31h0.8v0.8h-0.8zM148.48 399.62h0.8v0.8h-0.8zM149.84 404.23h0.8v0.8h-0.8zM148.38 401.21h0.8v0.8h-0.8zM150.49 401.59h0.8v0.8h-0.8zM149.35 404.18h0.8v0.8h-0.8zM148.88 400.39h0.8v0.8h-0.8zM151.58 397.15h0.8v0.8h-0.8zM150.11 402.66h0.8v0.8h-0.8zM147.07 401.85h0.8v0.8h-0.8zM149.68 401.56h0.8v0.8h-0.8zM150.14 398.99h0.8v0.8h-0.8zM150.89 397.15h0.8v0.8h-0.8zM151 396.41h0.8v0.8h-0.8zM150.24 404.23h0.8v0.8h-0.8zM148.56 400.91h0.8v0.8h-0.8zM150.04 398.01h0.8v0.8h-0.8zM151.48 396.49h0.8v0.8h-0.8zM150.83 403.16h0.8v0.8h-0.8zM152.35 399.64h0.8v0.8h-0.8zM151.21 406.53h0.8v0.8h-0.8zM148.34 395.24h0.8v0.8h-0.8zM149.93 393.26h0.8v0.8h-0.8zM150.52 392.57h0.8v0.8h-0.8zM151.85 403.85h0.8v0.8h-0.8zM149.62 398.77h0.8v0.8h-0.8zM148.3 402.57h0.8v0.8h-0.8zM148.91 399.37h0.8v0.8h-0.8zM149.18 402.8h0.8v0.8h-0.8zM151.31 404.48h0.8v0.8h-0.8zM152.12 401.07h0.8v0.8h-0.8zM153.7 403.1h0.8v0.8h-0.8zM151.76 403.25h0.8v0.8h-0.8zM148.33 402.4h0.8v0.8h-0.8zM149.6 402.3h0.8v0.8h-0.8zM149.73 399.33h0.8v0.8h-0.8zM151.12 401.86h0.8v0.8h-0.8zM148.66 403.82h0.8v0.8h-0.8zM150.49 400.6h0.8v0.8h-0.8zM149.74 401.64h0.8v0.8h-0.8zM149.66 407.74h0.8v0.8h-0.8zM148.81 404.18h0.8v0.8h-0.8zM147.41 405.27h0.8v0.8h-0.8zM149.92 394.32h0.8v0.8h-0.8zM152.52 397.51h0.8v0.8h-0.8zM149.31 406.92h0.8v0.8h-0.8zM150 399.07h0.8v0.8h-0.8zM153.03 398.47h0.8v0.8h-0.8zM151.95 408.23h0.8v0.8h-0.8zM152.67 406.55h0.8v0.8h-0.8zM151.63 392.77h0.8v0.8h-0.8zM151.68 406.53h0.8v0.8h-0.8zM149.58 405.16h0.8v0.8h-0.8zM148.29 406.81h0.8v0.8h-0.8z"/>
<path fill="#c8b040" d="M152.28 400.08h0.7v0.7h-0.7zM149.55 403.63h0.7v0.7h-0.7zM149.09 397.92h0.7v0.7h-0.7zM151.53 400.2h0.7v0.7h-0.7zM150.39 403.44h0.7v0.7h-0.7zM150.07 397.8h0.7v0.7h-0.7zM150.2 398.89h0.7v0.7h-0.7z"/>
<path fill="#2a3af0" opacity="0.7" d="M173.13 405.1h0.6v0.6h-0.6zM165.62 403.7h0.6v0.6h-0.6zM172.35 412.02h0.6v0.6h-0.6zM165.83 393.86h0.6v0.6h-0.6zM162.82 402.6h0.6v0.6h-0.6zM163.44 407.23h0.6v0.6h-0.6zM168.94 401.4h0.6v0.6h-0.6zM171 400.44h0.6v0.6h-0.6zM172.96 389.67h0.6v0.6h-0.6zM165.51 395.01h0.6v0.6h-0.6z"/>
<rect x="15.6" y="340.7" width="87.5" height="87.4" rx="0" fill="none" stroke="#555" stroke-width="0.8"/>
<path d="M15.6 350.41h1.3M15.6 360.12h1.3M15.6 369.83h1.3M15.6 379.54h1.3M15.6 389.26h1.3M15.6 398.97h1.3M15.6 408.68h1.3M15.6 418.39h1.3M25.32 428.1v-1.3M35.04 428.1v-1.3M44.77 428.1v-1.3M54.49 428.1v-1.3M64.21 428.1v-1.3M73.93 428.1v-1.3M83.66 428.1v-1.3M93.38 428.1v-1.3" stroke="#555" stroke-width="0.5" fill="none"/>
<rect x="110.4" y="340.7" width="89.7" height="88.6" rx="0" fill="none" stroke="#555" stroke-width="0.8"/>
<path d="M110.4 350.54h1.3M110.4 360.39h1.3M110.4 370.23h1.3M110.4 380.08h1.3M110.4 389.92h1.3M110.4 399.77h1.3M110.4 409.61h1.3M110.4 419.46h1.3M120.37 429.3v-1.3M130.33 429.3v-1.3M140.3 429.3v-1.3M150.27 429.3v-1.3M160.23 429.3v-1.3M170.2 429.3v-1.3M180.17 429.3v-1.3M190.13 429.3v-1.3" stroke="#555" stroke-width="0.5" fill="none"/>
<circle cx="43.5" cy="428.2" r="0.9" fill="#222"/><circle cx="139.2" cy="429.4" r="0.9" fill="#222"/>
<rect x="66" y="379.3" width="32.5" height="39.2" fill="none" stroke="#4a4a4a" stroke-width="0.8"/>
<text x="87" y="376.88" font-size="8" text-anchor="middle" textLength="13.7" lengthAdjust="spacingAndGlyphs">91.0</text>
<rect x="161.7" y="379.3" width="32.7" height="40.1" fill="none" stroke="#4a4a4a" stroke-width="0.8"/>
<text x="182.2" y="376.88" font-size="8" text-anchor="middle" textLength="13.7" lengthAdjust="spacingAndGlyphs">0.56</text>
<line x1="6.9" y1="399.7" x2="6.9" y2="343.26" stroke="#231f20" stroke-width="0.9"/>
<path d="M6.9 340.7 L5.4 343.9 L8.4 343.9 Z" fill="#231f20"/>
<text transform="translate(8.89 415.5) rotate(-90)" font-size="8.3" text-anchor="middle" textLength="25" lengthAdjust="spacingAndGlyphs">FSC-A</text>
<text x="16.1" y="440.99" font-size="8.3" textLength="86.3" lengthAdjust="spacingAndGlyphs">BV786 CD119 (IFNγR1)</text>
<line x1="104.6" y1="438.5" x2="197.04" y2="438.5" stroke="#231f20" stroke-width="0.9"/>
<path d="M199.6 438.5 L196.4 437 L196.4 440 Z" fill="#231f20"/>
<text x="225.3" y="324" font-size="13" font-weight="bold" fill="#000">h</text>
<text x="286.8" y="324.35" font-size="8.2" text-anchor="middle" textLength="34" lengthAdjust="spacingAndGlyphs">C57BL/6</text>
<g transform="translate(-9.4 315.1)">
<path d="M286.5 22.6 C282 21.8 277.5 22.4 274.5 24 C272.5 25 271.2 26.2 270.8 27.2" fill="none" stroke="#d8a090" stroke-width="1.3" stroke-linecap="round"/>
<path d="M285.3 22.2 C285 16.5 290 13.1 296 13.2 C302 13.3 306 15 309 17.8 C311 19.3 313.4 21.3 313.8 22.9 C312 24 308.5 24.1 305 23.9 L291 24.3 C287.5 24.4 285.5 23.6 285.3 22.2 Z" fill="#463b42"/>
<ellipse cx="307.3" cy="16" rx="1.4" ry="1.6" fill="#b98a86"/>
<ellipse cx="295.6" cy="18.2" rx="4" ry="3.2" fill="#9c5a3c"/>
<ellipse cx="296.6" cy="18.4" rx="1.3" ry="1.1" fill="#f0c070"/>
<path d="M291 24 L293.5 25.6 L295 24.2 Z" fill="#d9998a"/>
<path d="M304 23.8 L306.5 25.4 L308 24 Z" fill="#d9998a"/>
</g>
<line x1="287.4" y1="335.5" x2="287.4" y2="344.8" stroke="#231f20" stroke-width="0.9"/>
<path d="M287.4 347.2 L285.9 344.2 L288.9 344.2 Z" fill="#231f20"/>
<text x="225.5" y="358.21" font-size="9.2" textLength="108.2" lengthAdjust="spacingAndGlyphs">sg<tspan font-style="italic">Ifngr1</tspan> or sgCtrl Hep-53.4</text>
<line x1="279.6" y1="361.2" x2="279.6" y2="432.44" stroke="#231f20" stroke-width="0.9"/>
<path d="M279.6 435 L278.1 431.8 L281.1 431.8 Z" fill="#231f20"/>
<text x="276.2" y="368.16" font-size="7.4" text-anchor="end" textLength="22.3" lengthAdjust="spacingAndGlyphs">0 days</text>
<line x1="296.3" y1="364.4" x2="284.36" y2="364.4" stroke="#e8202a" stroke-width="0.9"/>
<path d="M281.8 364.4 L285 362.8 L285 366 Z" fill="#e8202a"/>
<text x="300.7" y="367.16" font-size="7.4" textLength="43.4" lengthAdjust="spacingAndGlyphs">10<tspan font-size="5.03" dy="-3.11">6</tspan><tspan dy="3.11"> Hep-53.4</tspan></text>
<text x="300.7" y="375.66" font-size="7.4" textLength="37.2" lengthAdjust="spacingAndGlyphs">inoculation</text>
<text x="275.1" y="399.76" font-size="7.4" text-anchor="end" textLength="21.6" lengthAdjust="spacingAndGlyphs">7 days</text>
<line x1="295.7" y1="395.1" x2="284.56" y2="395.1" stroke="#1fa04a" stroke-width="0.9"/>
<path d="M282 395.1 L285.2 393.5 L285.2 396.7 Z" fill="#1fa04a"/>
<text x="300.7" y="389.86" font-size="7.4" textLength="59" lengthAdjust="spacingAndGlyphs">100 µg αPD-L1 Ab</text>
<text x="300.7" y="398.46" font-size="7.4" textLength="32.5" lengthAdjust="spacingAndGlyphs">or isotype</text>
<text x="300.7" y="407.16" font-size="7.4" textLength="49" lengthAdjust="spacingAndGlyphs">for three times</text>
<text x="300.7" y="415.86" font-size="7.4" textLength="57.8" lengthAdjust="spacingAndGlyphs">at 3-day intervals</text>
<text x="275" y="430.76" font-size="7.4" text-anchor="end" textLength="24" lengthAdjust="spacingAndGlyphs">15 days</text>
<text x="253.5" y="443.81" font-size="9.2" textLength="52.1" lengthAdjust="spacingAndGlyphs">Data analysis</text>
<text x="388.8" y="323.7" font-size="13" font-weight="bold" fill="#000">i</text>
<rect x="433.7" y="323.7" width="98.6" height="114.9" fill="url(#gI)"/>
<g filter="url(#blur03)">
<ellipse cx="447.44" cy="333.67" rx="4.6" ry="5.55" fill="#451818" transform="rotate(-32.44 447.44 333.67)"/>
<ellipse cx="443.09" cy="331.57" rx="2.58" ry="2.89" fill="#451818" transform="rotate(8.51 443.09 331.57)"/>
<ellipse cx="444.63" cy="341.86" rx="4.31" ry="5.3" fill="#451818" transform="rotate(14.9 444.63 341.86)"/>
<ellipse cx="446.04" cy="337.76" rx="3.58" ry="2.41" fill="#451818"/>
<ellipse cx="443.63" cy="346.44" rx="3.84" ry="3.37" fill="#451818"/>
</g>
<circle cx="444.87" cy="347.64" r="4.1" fill="#8a6a5c" stroke="#ffffff" stroke-width="1.1" stroke-dasharray="1.0 1.0"/>
<ellipse cx="446.45" cy="333.03" rx="2.56" ry="1.93" fill="#5a2424" opacity="0.45" filter="url(#blur05)"/>
<ellipse cx="443.13" cy="342.86" rx="1.54" ry="2.89" fill="#2a0a0a" opacity="0.5" filter="url(#blur05)"/>
<circle cx="444.37" cy="332.54" r="0.35" fill="#f0d8d0" opacity="0.8"/>
<circle cx="446.85" cy="335.6" r="0.35" fill="#f0d8d0" opacity="0.8"/>
<g filter="url(#blur03)">
<ellipse cx="465.78" cy="333.67" rx="4.78" ry="5.89" fill="#451818" transform="rotate(-33.11 465.78 333.67)"/>
<ellipse cx="463.39" cy="330.58" rx="2.94" ry="2.89" fill="#451818" transform="rotate(-9.69 463.39 330.58)"/>
<ellipse cx="464.71" cy="341.86" rx="4.35" ry="5.3" fill="#451818" transform="rotate(17.99 464.71 341.86)"/>
<ellipse cx="465.24" cy="337.76" rx="3.58" ry="2.41" fill="#451818"/>
<ellipse cx="463.71" cy="346.44" rx="3.84" ry="3.37" fill="#451818"/>
</g>
<circle cx="465.79" cy="347.64" r="3.91" fill="#8a6a5c" stroke="#ffffff" stroke-width="1.1" stroke-dasharray="1.0 1.0"/>
<ellipse cx="464.92" cy="332.62" rx="2.56" ry="1.93" fill="#5a2424" opacity="0.45" filter="url(#blur05)"/>
<ellipse cx="463.21" cy="342.86" rx="1.54" ry="2.89" fill="#2a0a0a" opacity="0.5" filter="url(#blur05)"/>
<circle cx="468.64" cy="333.61" r="0.35" fill="#f0d8d0" opacity="0.8"/>
<circle cx="463.82" cy="335.82" r="0.35" fill="#f0d8d0" opacity="0.8"/>
<g filter="url(#blur03)">
<ellipse cx="485.77" cy="333.67" rx="5.65" ry="5.04" fill="#451818" transform="rotate(15.7 485.77 333.67)"/>
<ellipse cx="489.21" cy="330.19" rx="3.03" ry="2.89" fill="#451818" transform="rotate(-24.14 489.21 330.19)"/>
<ellipse cx="487.7" cy="341.86" rx="4.55" ry="5.3" fill="#451818" transform="rotate(-6 487.7 341.86)"/>
<ellipse cx="486.74" cy="337.76" rx="3.58" ry="2.41" fill="#451818"/>
<ellipse cx="488.7" cy="346.44" rx="3.84" ry="3.37" fill="#451818"/>
</g>
<circle cx="487.52" cy="347.64" r="3.84" fill="#8a6a5c" stroke="#ffffff" stroke-width="1.1" stroke-dasharray="1.0 1.0"/>
<ellipse cx="485.04" cy="332.83" rx="2.56" ry="1.93" fill="#5a2424" opacity="0.45" filter="url(#blur05)"/>
<ellipse cx="489.2" cy="342.86" rx="1.54" ry="2.89" fill="#2a0a0a" opacity="0.5" filter="url(#blur05)"/>
<circle cx="485.95" cy="333.71" r="0.35" fill="#f0d8d0" opacity="0.8"/>
<circle cx="483.02" cy="335.61" r="0.35" fill="#f0d8d0" opacity="0.8"/>
<g filter="url(#blur03)">
<ellipse cx="504.82" cy="333.67" rx="4.73" ry="4.99" fill="#451818" transform="rotate(5.36 504.82 333.67)"/>
<ellipse cx="507.45" cy="330.4" rx="2.75" ry="2.89" fill="#451818" transform="rotate(-7.38 507.45 330.4)"/>
<ellipse cx="507.03" cy="341.86" rx="4.74" ry="5.3" fill="#451818" transform="rotate(-21.49 507.03 341.86)"/>
<ellipse cx="505.93" cy="337.76" rx="3.58" ry="2.41" fill="#451818"/>
<ellipse cx="508.03" cy="346.44" rx="3.84" ry="3.37" fill="#451818"/>
</g>
<circle cx="506.31" cy="347.64" r="3.57" fill="#8a6a5c" stroke="#ffffff" stroke-width="1.1" stroke-dasharray="1.0 1.0"/>
<ellipse cx="505.21" cy="334.81" rx="2.56" ry="1.93" fill="#5a2424" opacity="0.45" filter="url(#blur05)"/>
<ellipse cx="508.53" cy="342.86" rx="1.54" ry="2.89" fill="#2a0a0a" opacity="0.5" filter="url(#blur05)"/>
<circle cx="502.91" cy="334.95" r="0.35" fill="#f0d8d0" opacity="0.8"/>
<circle cx="503.54" cy="331.32" r="0.35" fill="#f0d8d0" opacity="0.8"/>
<g filter="url(#blur03)">
<ellipse cx="521.35" cy="333.67" rx="4.66" ry="5.22" fill="#451818" transform="rotate(11.95 521.35 333.67)"/>
<ellipse cx="524.66" cy="330.69" rx="2.75" ry="2.89" fill="#451818" transform="rotate(5.31 524.66 330.69)"/>
<ellipse cx="523.26" cy="341.86" rx="3.95" ry="5.3" fill="#451818" transform="rotate(-23.29 523.26 341.86)"/>
<ellipse cx="522.3" cy="337.76" rx="3.58" ry="2.41" fill="#451818"/>
<ellipse cx="524.26" cy="346.44" rx="3.84" ry="3.37" fill="#451818"/>
</g>
<circle cx="522.19" cy="347.64" r="3.86" fill="#8a6a5c" stroke="#ffffff" stroke-width="1.1" stroke-dasharray="1.0 1.0"/>
<ellipse cx="521.01" cy="334.4" rx="2.56" ry="1.93" fill="#5a2424" opacity="0.45" filter="url(#blur05)"/>
<ellipse cx="524.76" cy="342.86" rx="1.54" ry="2.89" fill="#2a0a0a" opacity="0.5" filter="url(#blur05)"/>
<circle cx="521.38" cy="334.67" r="0.35" fill="#f0d8d0" opacity="0.8"/>
<circle cx="524.42" cy="331.56" r="0.35" fill="#f0d8d0" opacity="0.8"/>
<g filter="url(#blur03)">
<ellipse cx="444.62" cy="362.74" rx="4.96" ry="5.37" fill="#451818" transform="rotate(-12.69 444.62 362.74)"/>
<ellipse cx="441.76" cy="360.6" rx="2.42" ry="2.88" fill="#451818" transform="rotate(20.14 441.76 360.6)"/>
<ellipse cx="442.74" cy="370.9" rx="4.73" ry="5.28" fill="#451818" transform="rotate(5.66 442.74 370.9)"/>
<ellipse cx="443.68" cy="366.82" rx="3.58" ry="2.4" fill="#451818"/>
<ellipse cx="441.74" cy="375.46" rx="3.84" ry="3.36" fill="#451818"/>
</g>
<circle cx="443.89" cy="376.66" r="4.05" fill="#8a6a5c" stroke="#ffffff" stroke-width="1.1" stroke-dasharray="1.0 1.0"/>
<ellipse cx="445.8" cy="362.93" rx="2.56" ry="1.92" fill="#5a2424" opacity="0.45" filter="url(#blur05)"/>
<ellipse cx="441.24" cy="371.9" rx="1.54" ry="2.88" fill="#2a0a0a" opacity="0.5" filter="url(#blur05)"/>
<circle cx="442.56" cy="365" r="0.35" fill="#f0d8d0" opacity="0.8"/>
<circle cx="444.25" cy="360.74" r="0.35" fill="#f0d8d0" opacity="0.8"/>
<g filter="url(#blur03)">
<ellipse cx="464.4" cy="362.74" rx="5.08" ry="4.87" fill="#451818" transform="rotate(8.66 464.4 362.74)"/>
<ellipse cx="467.73" cy="359.78" rx="2.52" ry="2.88" fill="#451818" transform="rotate(-3.63 467.73 359.78)"/>
<ellipse cx="466.76" cy="370.9" rx="4.57" ry="5.28" fill="#451818" transform="rotate(-15.57 466.76 370.9)"/>
<ellipse cx="465.58" cy="366.82" rx="3.58" ry="2.4" fill="#451818"/>
<ellipse cx="467.76" cy="375.46" rx="3.84" ry="3.36" fill="#451818"/>
</g>
<circle cx="466.03" cy="376.66" r="3.73" fill="#8a6a5c" stroke="#ffffff" stroke-width="1.1" stroke-dasharray="1.0 1.0"/>
<ellipse cx="463.74" cy="362.01" rx="2.56" ry="1.92" fill="#5a2424" opacity="0.45" filter="url(#blur05)"/>
<ellipse cx="468.26" cy="371.9" rx="1.54" ry="2.88" fill="#2a0a0a" opacity="0.5" filter="url(#blur05)"/>
<circle cx="464.05" cy="360.86" r="0.35" fill="#f0d8d0" opacity="0.8"/>
<circle cx="465.84" cy="363.74" r="0.35" fill="#f0d8d0" opacity="0.8"/>
<g filter="url(#blur03)">
<ellipse cx="484.14" cy="362.74" rx="4.93" ry="5.2" fill="#451818" transform="rotate(7.8 484.14 362.74)"/>
<ellipse cx="488.85" cy="360.27" rx="2.82" ry="2.88" fill="#451818" transform="rotate(12.31 488.85 360.27)"/>
<ellipse cx="486.42" cy="370.9" rx="4.08" ry="5.28" fill="#451818" transform="rotate(-14.49 486.42 370.9)"/>
<ellipse cx="485.28" cy="366.82" rx="3.58" ry="2.4" fill="#451818"/>
<ellipse cx="487.42" cy="375.46" rx="3.84" ry="3.36" fill="#451818"/>
</g>
<circle cx="486.11" cy="376.66" r="3.96" fill="#8a6a5c" stroke="#ffffff" stroke-width="1.1" stroke-dasharray="1.0 1.0"/>
<ellipse cx="482.95" cy="363.01" rx="2.56" ry="1.92" fill="#5a2424" opacity="0.45" filter="url(#blur05)"/>
<ellipse cx="487.92" cy="371.9" rx="1.54" ry="2.88" fill="#2a0a0a" opacity="0.5" filter="url(#blur05)"/>
<circle cx="486.75" cy="363.91" r="0.35" fill="#f0d8d0" opacity="0.8"/>
<circle cx="486.87" cy="365.05" r="0.35" fill="#f0d8d0" opacity="0.8"/>
<g filter="url(#blur03)">
<ellipse cx="506.47" cy="362.74" rx="5.19" ry="5.85" fill="#451818" transform="rotate(-23.92 506.47 362.74)"/>
<ellipse cx="504.3" cy="360.42" rx="2.83" ry="2.88" fill="#451818" transform="rotate(7.51 504.3 360.42)"/>
<ellipse cx="505.53" cy="370.9" rx="4.64" ry="5.28" fill="#451818" transform="rotate(10.92 505.53 370.9)"/>
<ellipse cx="506" cy="366.82" rx="3.58" ry="2.4" fill="#451818"/>
<ellipse cx="504.53" cy="375.46" rx="3.84" ry="3.36" fill="#451818"/>
</g>
<circle cx="506.55" cy="376.66" r="3.6" fill="#8a6a5c" stroke="#ffffff" stroke-width="1.1" stroke-dasharray="1.0 1.0"/>
<ellipse cx="506.16" cy="363.84" rx="2.56" ry="1.92" fill="#5a2424" opacity="0.45" filter="url(#blur05)"/>
<ellipse cx="504.03" cy="371.9" rx="1.54" ry="2.88" fill="#2a0a0a" opacity="0.5" filter="url(#blur05)"/>
<circle cx="508.7" cy="361.84" r="0.35" fill="#f0d8d0" opacity="0.8"/>
<circle cx="505.13" cy="363.28" r="0.35" fill="#f0d8d0" opacity="0.8"/>
<g filter="url(#blur03)">
<ellipse cx="521.89" cy="362.74" rx="5.73" ry="5.55" fill="#451818" transform="rotate(29.63 521.89 362.74)"/>
<ellipse cx="524.97" cy="359.64" rx="2.76" ry="2.88" fill="#451818" transform="rotate(-0.6 524.97 359.64)"/>
<ellipse cx="523.65" cy="370.9" rx="4.69" ry="5.28" fill="#451818" transform="rotate(-19.62 523.65 370.9)"/>
<ellipse cx="522.77" cy="366.82" rx="3.58" ry="2.4" fill="#451818"/>
<ellipse cx="524.65" cy="375.46" rx="3.84" ry="3.36" fill="#451818"/>
</g>
<circle cx="522.53" cy="376.66" r="4.03" fill="#8a6a5c" stroke="#ffffff" stroke-width="1.1" stroke-dasharray="1.0 1.0"/>
<ellipse cx="521.35" cy="362.55" rx="2.56" ry="1.92" fill="#5a2424" opacity="0.45" filter="url(#blur05)"/>
<ellipse cx="525.15" cy="371.9" rx="1.54" ry="2.88" fill="#2a0a0a" opacity="0.5" filter="url(#blur05)"/>
<circle cx="519.44" cy="364.32" r="0.35" fill="#f0d8d0" opacity="0.8"/>
<circle cx="520.45" cy="361.74" r="0.35" fill="#f0d8d0" opacity="0.8"/>
<g filter="url(#blur03)">
<ellipse cx="443.61" cy="392.37" rx="4.81" ry="5.86" fill="#451818" transform="rotate(17.35 443.61 392.37)"/>
<ellipse cx="446.58" cy="390.17" rx="3.05" ry="2.94" fill="#451818" transform="rotate(14.84 446.58 390.17)"/>
<ellipse cx="445.2" cy="400.7" rx="4.67" ry="5.39" fill="#451818" transform="rotate(-13.07 445.2 400.7)"/>
<ellipse cx="444.4" cy="396.54" rx="3.58" ry="2.45" fill="#451818"/>
<ellipse cx="446.2" cy="405.35" rx="3.84" ry="3.43" fill="#451818"/>
</g>
<circle cx="445" cy="406.58" r="3.73" fill="#8a6a5c" stroke="#ffffff" stroke-width="1.1" stroke-dasharray="1.0 1.0"/>
<ellipse cx="444.28" cy="393.07" rx="2.56" ry="1.96" fill="#5a2424" opacity="0.45" filter="url(#blur05)"/>
<ellipse cx="446.7" cy="401.7" rx="1.54" ry="2.94" fill="#2a0a0a" opacity="0.5" filter="url(#blur05)"/>
<circle cx="442.89" cy="393.13" r="0.35" fill="#f0d8d0" opacity="0.8"/>
<circle cx="445.4" cy="394.79" r="0.35" fill="#f0d8d0" opacity="0.8"/>
<g filter="url(#blur03)">
<ellipse cx="464.86" cy="392.37" rx="4.61" ry="5.52" fill="#451818" transform="rotate(25.55 464.86 392.37)"/>
<ellipse cx="466.94" cy="389.37" rx="3.11" ry="2.94" fill="#451818" transform="rotate(24.33 466.94 389.37)"/>
<ellipse cx="467.08" cy="400.7" rx="3.94" ry="5.39" fill="#451818" transform="rotate(-12.86 467.08 400.7)"/>
<ellipse cx="465.97" cy="396.54" rx="3.58" ry="2.45" fill="#451818"/>
<ellipse cx="468.08" cy="405.35" rx="3.84" ry="3.43" fill="#451818"/>
</g>
<circle cx="466.92" cy="406.58" r="3.96" fill="#8a6a5c" stroke="#ffffff" stroke-width="1.1" stroke-dasharray="1.0 1.0"/>
<ellipse cx="464.43" cy="391.26" rx="2.56" ry="1.96" fill="#5a2424" opacity="0.45" filter="url(#blur05)"/>
<ellipse cx="468.58" cy="401.7" rx="1.54" ry="2.94" fill="#2a0a0a" opacity="0.5" filter="url(#blur05)"/>
<circle cx="467.54" cy="394.13" r="0.35" fill="#f0d8d0" opacity="0.8"/>
<circle cx="465.84" cy="391.71" r="0.35" fill="#f0d8d0" opacity="0.8"/>
<g filter="url(#blur03)">
<ellipse cx="485.9" cy="392.37" rx="5.43" ry="5.51" fill="#451818" transform="rotate(14.58 485.9 392.37)"/>
<ellipse cx="488.28" cy="389.2" rx="2.68" ry="2.94" fill="#451818" transform="rotate(1.2 488.28 389.2)"/>
<ellipse cx="486.78" cy="400.7" rx="4.57" ry="5.39" fill="#451818" transform="rotate(-18.04 486.78 400.7)"/>
<ellipse cx="486.34" cy="396.54" rx="3.58" ry="2.45" fill="#451818"/>
<ellipse cx="487.78" cy="405.35" rx="3.84" ry="3.43" fill="#451818"/>
</g>
<circle cx="485.77" cy="406.58" r="3.64" fill="#8a6a5c" stroke="#ffffff" stroke-width="1.1" stroke-dasharray="1.0 1.0"/>
<ellipse cx="485.64" cy="392.2" rx="2.56" ry="1.96" fill="#5a2424" opacity="0.45" filter="url(#blur05)"/>
<ellipse cx="488.28" cy="401.7" rx="1.54" ry="2.94" fill="#2a0a0a" opacity="0.5" filter="url(#blur05)"/>
<circle cx="487.71" cy="390.41" r="0.35" fill="#f0d8d0" opacity="0.8"/>
<circle cx="484.13" cy="391.36" r="0.35" fill="#f0d8d0" opacity="0.8"/>
<g filter="url(#blur03)">
<ellipse cx="506.7" cy="392.37" rx="4.57" ry="4.85" fill="#451818" transform="rotate(-18.32 506.7 392.37)"/>
<ellipse cx="503.47" cy="389.95" rx="2.86" ry="2.94" fill="#451818" transform="rotate(-10.39 503.47 389.95)"/>
<ellipse cx="504.91" cy="400.7" rx="4.59" ry="5.39" fill="#451818" transform="rotate(14.58 504.91 400.7)"/>
<ellipse cx="505.81" cy="396.54" rx="3.58" ry="2.45" fill="#451818"/>
<ellipse cx="503.91" cy="405.35" rx="3.84" ry="3.43" fill="#451818"/>
</g>
<circle cx="505.59" cy="406.58" r="4.19" fill="#8a6a5c" stroke="#ffffff" stroke-width="1.1" stroke-dasharray="1.0 1.0"/>
<ellipse cx="507.89" cy="393.4" rx="2.56" ry="1.96" fill="#5a2424" opacity="0.45" filter="url(#blur05)"/>
<ellipse cx="503.41" cy="401.7" rx="1.54" ry="2.94" fill="#2a0a0a" opacity="0.5" filter="url(#blur05)"/>
<circle cx="504.35" cy="391.52" r="0.35" fill="#f0d8d0" opacity="0.8"/>
<circle cx="506.11" cy="390.75" r="0.35" fill="#f0d8d0" opacity="0.8"/>
<g filter="url(#blur03)">
<ellipse cx="519.9" cy="392.37" rx="5.66" ry="5.49" fill="#451818" transform="rotate(23.41 519.9 392.37)"/>
<ellipse cx="523.67" cy="390.13" rx="2.88" ry="2.94" fill="#451818" transform="rotate(23.79 523.67 390.13)"/>
<ellipse cx="523.28" cy="400.7" rx="4.54" ry="5.39" fill="#451818" transform="rotate(-5.33 523.28 400.7)"/>
<ellipse cx="521.59" cy="396.54" rx="3.58" ry="2.45" fill="#451818"/>
<ellipse cx="524.28" cy="405.35" rx="3.84" ry="3.43" fill="#451818"/>
</g>
<circle cx="522.66" cy="406.58" r="3.73" fill="#8a6a5c" stroke="#ffffff" stroke-width="1.1" stroke-dasharray="1.0 1.0"/>
<ellipse cx="520.72" cy="392.44" rx="2.56" ry="1.96" fill="#5a2424" opacity="0.45" filter="url(#blur05)"/>
<ellipse cx="524.78" cy="401.7" rx="1.54" ry="2.94" fill="#2a0a0a" opacity="0.5" filter="url(#blur05)"/>
<circle cx="518.67" cy="393.25" r="0.35" fill="#f0d8d0" opacity="0.8"/>
<circle cx="519.74" cy="390.55" r="0.35" fill="#f0d8d0" opacity="0.8"/>
<g filter="url(#blur03)">
<ellipse cx="443.9" cy="420.61" rx="5.78" ry="5.21" fill="#451818" transform="rotate(33.11 443.9 420.61)"/>
<ellipse cx="446.77" cy="417.34" rx="2.84" ry="2.82" fill="#451818" transform="rotate(16 446.77 417.34)"/>
<ellipse cx="446.42" cy="428.6" rx="4.5" ry="5.17" fill="#451818" transform="rotate(-22.51 446.42 428.6)"/>
<ellipse cx="445.16" cy="424.61" rx="3.58" ry="2.35" fill="#451818"/>
<ellipse cx="447.42" cy="433.06" rx="3.84" ry="3.29" fill="#451818"/>
</g>
<circle cx="445.69" cy="434.24" r="3.47" fill="#8a6a5c" stroke="#ffffff" stroke-width="1.1" stroke-dasharray="1.0 1.0"/>
<ellipse cx="443.59" cy="421.68" rx="2.56" ry="1.88" fill="#5a2424" opacity="0.45" filter="url(#blur05)"/>
<ellipse cx="447.92" cy="429.6" rx="1.54" ry="2.82" fill="#2a0a0a" opacity="0.5" filter="url(#blur05)"/>
<circle cx="442.92" cy="421.55" r="0.35" fill="#f0d8d0" opacity="0.8"/>
<circle cx="444.68" cy="418.93" r="0.35" fill="#f0d8d0" opacity="0.8"/>
<g filter="url(#blur03)">
<ellipse cx="463.73" cy="420.61" rx="4.68" ry="5.27" fill="#451818" transform="rotate(8.82 463.73 420.61)"/>
<ellipse cx="468.35" cy="417.67" rx="2.92" ry="2.82" fill="#451818" transform="rotate(27.91 468.35 417.67)"/>
<ellipse cx="465.77" cy="428.6" rx="4.85" ry="5.17" fill="#451818" transform="rotate(-24.21 465.77 428.6)"/>
<ellipse cx="464.75" cy="424.61" rx="3.58" ry="2.35" fill="#451818"/>
<ellipse cx="466.77" cy="433.06" rx="3.84" ry="3.29" fill="#451818"/>
</g>
<circle cx="465.29" cy="434.24" r="3.96" fill="#8a6a5c" stroke="#ffffff" stroke-width="1.1" stroke-dasharray="1.0 1.0"/>
<ellipse cx="464.89" cy="420.27" rx="2.56" ry="1.88" fill="#5a2424" opacity="0.45" filter="url(#blur05)"/>
<ellipse cx="467.27" cy="429.6" rx="1.54" ry="2.82" fill="#2a0a0a" opacity="0.5" filter="url(#blur05)"/>
<circle cx="466.59" cy="421.32" r="0.35" fill="#f0d8d0" opacity="0.8"/>
<circle cx="463.58" cy="419.06" r="0.35" fill="#f0d8d0" opacity="0.8"/>
<g filter="url(#blur03)">
<ellipse cx="487.18" cy="420.61" rx="4.9" ry="5.02" fill="#451818" transform="rotate(-10.76 487.18 420.61)"/>
<ellipse cx="484" cy="418" rx="2.45" ry="2.82" fill="#451818" transform="rotate(-21.56 484 418)"/>
<ellipse cx="485.74" cy="428.6" rx="4.74" ry="5.17" fill="#451818" transform="rotate(11.26 485.74 428.6)"/>
<ellipse cx="486.46" cy="424.61" rx="3.58" ry="2.35" fill="#451818"/>
<ellipse cx="484.74" cy="433.06" rx="3.84" ry="3.29" fill="#451818"/>
</g>
<circle cx="485.77" cy="434.24" r="3.63" fill="#8a6a5c" stroke="#ffffff" stroke-width="1.1" stroke-dasharray="1.0 1.0"/>
<ellipse cx="486.85" cy="420.29" rx="2.56" ry="1.88" fill="#5a2424" opacity="0.45" filter="url(#blur05)"/>
<ellipse cx="484.24" cy="429.6" rx="1.54" ry="2.82" fill="#2a0a0a" opacity="0.5" filter="url(#blur05)"/>
<circle cx="487.58" cy="419.68" r="0.35" fill="#f0d8d0" opacity="0.8"/>
<circle cx="488.13" cy="421.95" r="0.35" fill="#f0d8d0" opacity="0.8"/>
<g filter="url(#blur03)">
<ellipse cx="505.39" cy="420.61" rx="5.24" ry="4.88" fill="#451818" transform="rotate(30.24 505.39 420.61)"/>
<ellipse cx="507.87" cy="418.37" rx="2.77" ry="2.82" fill="#451818" transform="rotate(7.75 507.87 418.37)"/>
<ellipse cx="507" cy="428.6" rx="4.51" ry="5.17" fill="#451818" transform="rotate(-18.18 507 428.6)"/>
<ellipse cx="506.19" cy="424.61" rx="3.58" ry="2.35" fill="#451818"/>
<ellipse cx="508" cy="433.06" rx="3.84" ry="3.29" fill="#451818"/>
</g>
<circle cx="506.49" cy="434.24" r="4.03" fill="#8a6a5c" stroke="#ffffff" stroke-width="1.1" stroke-dasharray="1.0 1.0"/>
<ellipse cx="505.05" cy="420.85" rx="2.56" ry="1.88" fill="#5a2424" opacity="0.45" filter="url(#blur05)"/>
<ellipse cx="508.5" cy="429.6" rx="1.54" ry="2.82" fill="#2a0a0a" opacity="0.5" filter="url(#blur05)"/>
<circle cx="505.11" cy="420.47" r="0.35" fill="#f0d8d0" opacity="0.8"/>
<circle cx="504.64" cy="420.83" r="0.35" fill="#f0d8d0" opacity="0.8"/>
<g filter="url(#blur03)">
<ellipse cx="521.08" cy="420.61" rx="4.62" ry="5.56" fill="#451818" transform="rotate(7.65 521.08 420.61)"/>
<ellipse cx="525.27" cy="418.2" rx="2.59" ry="2.82" fill="#451818" transform="rotate(8.16 525.27 418.2)"/>
<ellipse cx="523.21" cy="428.6" rx="4.73" ry="5.17" fill="#451818" transform="rotate(-21.05 523.21 428.6)"/>
<ellipse cx="522.14" cy="424.61" rx="3.58" ry="2.35" fill="#451818"/>
<ellipse cx="524.21" cy="433.06" rx="3.84" ry="3.29" fill="#451818"/>
</g>
<circle cx="522.14" cy="434.24" r="3.47" fill="#8a6a5c" stroke="#ffffff" stroke-width="1.1" stroke-dasharray="1.0 1.0"/>
<ellipse cx="521.6" cy="419.92" rx="2.56" ry="1.88" fill="#5a2424" opacity="0.45" filter="url(#blur05)"/>
<ellipse cx="524.71" cy="429.6" rx="1.54" ry="2.82" fill="#2a0a0a" opacity="0.5" filter="url(#blur05)"/>
<circle cx="519.89" cy="422.85" r="0.35" fill="#f0d8d0" opacity="0.8"/>
<circle cx="522.59" cy="421.73" r="0.35" fill="#f0d8d0" opacity="0.8"/>
<rect x="434.5" y="437" width="5.5" height="1" fill="#333"/>
<text transform="translate(396.37 352.4) rotate(-90)" font-size="8.8" text-anchor="middle" textLength="30.2" lengthAdjust="spacingAndGlyphs">Isotype</text>
<text transform="translate(396.37 415.6) rotate(-90)" font-size="8.8" text-anchor="middle" textLength="30.2" lengthAdjust="spacingAndGlyphs">αPD-L1</text>
<line x1="399.6" y1="332.5" x2="399.6" y2="372.2" stroke="#333" stroke-width="0.75"/>
<line x1="399.6" y1="395.8" x2="399.6" y2="434.4" stroke="#333" stroke-width="0.75"/>
<text x="430.2" y="339.24" font-size="7.6" text-anchor="end" textLength="19.8" lengthAdjust="spacingAndGlyphs">sgCtrl</text>
<text x="430.2" y="370.84" font-size="7.6" text-anchor="end" textLength="25.7" lengthAdjust="spacingAndGlyphs">sg<tspan font-style="italic">Ifngr1</tspan></text>
<text x="430.2" y="403.54" font-size="7.6" text-anchor="end" textLength="22.2" lengthAdjust="spacingAndGlyphs">sgCtrl</text>
<text x="430.2" y="433.84" font-size="7.6" text-anchor="end" textLength="26.8" lengthAdjust="spacingAndGlyphs">sg<tspan font-style="italic">Ifngr1</tspan></text>
<line x1="585.5" y1="327.5" x2="585.5" y2="425.95" stroke="#6a6a6a" stroke-width="0.9"/>
<line x1="585.05" y1="425.5" x2="673.6" y2="425.5" stroke="#6a6a6a" stroke-width="0.9"/>
<line x1="582.2" y1="425.5" x2="585.5" y2="425.5" stroke="#6a6a6a" stroke-width="0.85"/>
<text x="580.2" y="428.31" font-size="7.8" text-anchor="end">0</text>
<line x1="582.2" y1="401.1" x2="585.5" y2="401.1" stroke="#6a6a6a" stroke-width="0.85"/>
<text x="580.2" y="403.91" font-size="7.8" text-anchor="end">5</text>
<line x1="582.2" y1="376.7" x2="585.5" y2="376.7" stroke="#6a6a6a" stroke-width="0.85"/>
<text x="580.2" y="379.51" font-size="7.8" text-anchor="end">10</text>
<line x1="582.2" y1="352.3" x2="585.5" y2="352.3" stroke="#6a6a6a" stroke-width="0.85"/>
<text x="580.2" y="355.11" font-size="7.8" text-anchor="end">15</text>
<line x1="582.2" y1="327.9" x2="585.5" y2="327.9" stroke="#6a6a6a" stroke-width="0.85"/>
<text x="580.2" y="330.71" font-size="7.8" text-anchor="end">20</text>
<path d="M592.2 425.5 V375.6 H605.6 V425.5" fill="none" stroke="#999" stroke-width="0.75"/>
<circle cx="594.2" cy="367" r="2" fill="none" stroke="#9a9a9a" stroke-width="0.75"/>
<circle cx="603.4" cy="369" r="2" fill="none" stroke="#9a9a9a" stroke-width="0.75"/>
<circle cx="594.2" cy="383.5" r="2" fill="none" stroke="#9a9a9a" stroke-width="0.75"/>
<circle cx="603.4" cy="381.5" r="2" fill="none" stroke="#9a9a9a" stroke-width="0.75"/>
<circle cx="598.1" cy="376.2" r="2" fill="none" stroke="#9a9a9a" stroke-width="0.75"/>
<line x1="594.4" y1="375.6" x2="603.4" y2="375.6" stroke="#333" stroke-width="0.75"/>
<line x1="598.9" y1="372.3" x2="598.9" y2="378.9" stroke="#333" stroke-width="0.75"/>
<line x1="596.7" y1="372.3" x2="601.1" y2="372.3" stroke="#333" stroke-width="0.75"/>
<line x1="596.7" y1="378.9" x2="601.1" y2="378.9" stroke="#333" stroke-width="0.75"/>
<path d="M612.3 425.5 V385.7 H625.5 V425.5" fill="none" stroke="#555" stroke-width="0.75"/>
<circle cx="618.9" cy="381.2" r="2" fill="none" stroke="#2a9a2a" stroke-width="0.75"/>
<circle cx="614.6" cy="386.1" r="2" fill="none" stroke="#2a9a2a" stroke-width="0.75"/>
<circle cx="623.1" cy="388.7" r="2" fill="none" stroke="#2a9a2a" stroke-width="0.75"/>
<circle cx="614.6" cy="391.4" r="2" fill="none" stroke="#2a9a2a" stroke-width="0.75"/>
<circle cx="618.9" cy="389.1" r="2" fill="none" stroke="#2a9a2a" stroke-width="0.75"/>
<line x1="614.4" y1="385.7" x2="623.4" y2="385.7" stroke="#333" stroke-width="0.75"/>
<line x1="618.9" y1="384.5" x2="618.9" y2="387" stroke="#333" stroke-width="0.75"/>
<line x1="616.7" y1="384.5" x2="621.1" y2="384.5" stroke="#333" stroke-width="0.75"/>
<line x1="616.7" y1="387" x2="621.1" y2="387" stroke="#333" stroke-width="0.75"/>
<path d="M632.3 425.5 V369 H645.7 V425.5" fill="none" stroke="#777" stroke-width="0.75"/>
<circle cx="639.1" cy="356.9" r="2" fill="none" stroke="#222" stroke-width="0.75"/>
<circle cx="643.7" cy="364.2" r="2" fill="none" stroke="#222" stroke-width="0.75"/>
<circle cx="634.9" cy="367" r="2" fill="none" stroke="#222" stroke-width="0.75"/>
<circle cx="643.7" cy="376.6" r="2" fill="none" stroke="#222" stroke-width="0.75"/>
<circle cx="634.9" cy="378.9" r="2" fill="none" stroke="#222" stroke-width="0.75"/>
<line x1="634.5" y1="369" x2="643.5" y2="369" stroke="#333" stroke-width="0.75"/>
<line x1="639" y1="364.4" x2="639" y2="373" stroke="#333" stroke-width="0.75"/>
<line x1="636.8" y1="364.4" x2="641.2" y2="364.4" stroke="#333" stroke-width="0.75"/>
<line x1="636.8" y1="373" x2="641.2" y2="373" stroke="#333" stroke-width="0.75"/>
<path d="M653.1 425.5 V355.9 H666.5 V425.5" fill="none" stroke="#aaa" stroke-width="0.75"/>
<circle cx="659.6" cy="332.9" r="2" fill="none" stroke="#f07a2a" stroke-width="0.75"/>
<circle cx="659.6" cy="354.6" r="2" fill="none" stroke="#f07a2a" stroke-width="0.75"/>
<circle cx="654.6" cy="361.8" r="2" fill="none" stroke="#f07a2a" stroke-width="0.75"/>
<circle cx="664.2" cy="361.8" r="2" fill="none" stroke="#f07a2a" stroke-width="0.75"/>
<circle cx="659.6" cy="367" r="2" fill="none" stroke="#f07a2a" stroke-width="0.75"/>
<line x1="655.2" y1="355.9" x2="664.2" y2="355.9" stroke="#333" stroke-width="0.75"/>
<line x1="659.7" y1="349.6" x2="659.7" y2="361.8" stroke="#333" stroke-width="0.75"/>
<line x1="657.5" y1="349.6" x2="661.9" y2="349.6" stroke="#333" stroke-width="0.75"/>
<line x1="657.5" y1="361.8" x2="661.9" y2="361.8" stroke="#333" stroke-width="0.75"/>
<line x1="612.4" y1="323.1" x2="666.4" y2="323.1" stroke="#666" stroke-width="0.8"/>
<polygon points="636.25,317.4 636.9,318.81 638.44,318.99 637.3,320.04 637.6,321.56 636.25,320.8 634.9,321.56 635.2,320.04 634.06,318.99 635.6,318.81" fill="#231f20"/>
<polygon points="640.95,317.4 641.6,318.81 643.14,318.99 642,320.04 642.3,321.56 640.95,320.8 639.6,321.56 639.9,320.04 638.76,318.99 640.3,318.81" fill="#231f20"/>
<line x1="633.8" y1="338.6" x2="664.8" y2="338.6" stroke="#666" stroke-width="0.8"/>
<text x="646.9" y="337.3" font-size="7" text-anchor="middle" fill="#231f20">n.s.</text>
<line x1="592.1" y1="348.1" x2="642.1" y2="348.1" stroke="#666" stroke-width="0.8"/>
<text x="617.1" y="346.8" font-size="7" text-anchor="middle" fill="#231f20">n.s.</text>
<line x1="593.3" y1="358.3" x2="620.2" y2="358.3" stroke="#666" stroke-width="0.8"/>
<polygon points="605.7,352.6 606.35,354.01 607.89,354.19 606.75,355.24 607.05,356.76 605.7,356 604.35,356.76 604.65,355.24 603.51,354.19 605.05,354.01" fill="#231f20"/>
<text transform="translate(552.17 376.5) rotate(-90)" font-size="8.8" text-anchor="middle" textLength="38.9" lengthAdjust="spacingAndGlyphs">Maximum</text>
<text transform="translate(563.07 376.1) rotate(-90)" font-size="8.8" text-anchor="middle" textLength="86.8" lengthAdjust="spacingAndGlyphs">tumor diameter (mm)</text>
<circle cx="545.7" cy="435.7" r="1.35" fill="none" stroke="#9a9a9a" stroke-width="0.7"/>
<text x="549.9" y="438.51" font-size="7.8" textLength="50" lengthAdjust="spacingAndGlyphs">sgCtrl–isotype</text>
<circle cx="545.7" cy="446.4" r="1.35" fill="none" stroke="#2a9a2a" stroke-width="0.7"/>
<text x="549.9" y="449.21" font-size="7.8" textLength="50" lengthAdjust="spacingAndGlyphs">sgCtrl–αPD-L1</text>
<circle cx="618.3" cy="435.7" r="1.35" fill="none" stroke="#222" stroke-width="0.7"/>
<text x="622.5" y="438.51" font-size="7.8" textLength="54.7" lengthAdjust="spacingAndGlyphs">sg<tspan font-style="italic">Ifngr1</tspan>–isotype</text>
<circle cx="618.3" cy="446.4" r="1.35" fill="none" stroke="#f07a2a" stroke-width="0.7"/>
<text x="622.5" y="449.21" font-size="7.8" textLength="54.7" lengthAdjust="spacingAndGlyphs">sg<tspan font-style="italic">Ifngr1</tspan>–αPD-L1</text>
<text x="-0.8" y="472.5" font-size="13" font-weight="bold" fill="#000">j</text>
<text x="34.6" y="487.2" font-size="8.6" text-anchor="middle" textLength="29" lengthAdjust="spacingAndGlyphs">Isotype</text>
<text x="76.3" y="487.2" font-size="8.6" text-anchor="middle" textLength="27.5" lengthAdjust="spacingAndGlyphs">αPD-L1</text>
<text x="34.6" y="545.1" font-size="8.6" text-anchor="middle" textLength="29" lengthAdjust="spacingAndGlyphs">Isotype</text>
<text x="76.3" y="545.1" font-size="8.6" text-anchor="middle" textLength="27.5" lengthAdjust="spacingAndGlyphs">αPD-L1</text>
<rect x="11.2" y="490" width="41.9" height="44.6" fill="#000" filter="url(#mz8)"/>
<rect x="11.2" y="490" width="10.2" height="11" fill="#000" filter="url(#mz9)"/>
<rect x="11.5" y="490.3" width="9.9" height="10.7" fill="none" stroke="#d0d0d0" stroke-width="0.6"/>
<rect x="12.4" y="532.2" width="8.8" height="2.2" fill="#fff"/>
<text x="12.4" y="529.8" font-size="5.4" fill="#fff" textLength="15.5" lengthAdjust="spacingAndGlyphs">100 µm</text>
<rect x="55" y="490" width="43.2" height="44.6" fill="#000" filter="url(#mz10)"/>
<rect x="55" y="490" width="10.2" height="11" fill="#000" filter="url(#mz11)"/>
<rect x="55.3" y="490.3" width="9.9" height="10.7" fill="none" stroke="#d0d0d0" stroke-width="0.6"/>
<rect x="56.2" y="532.2" width="8.5" height="2.2" fill="#fff"/>
<text x="56.2" y="529.8" font-size="5.4" fill="#fff" textLength="15.5" lengthAdjust="spacingAndGlyphs">100 µm</text>
<rect x="11.2" y="548.8" width="41.9" height="44.2" fill="#000" filter="url(#mz12)"/>
<rect x="11.2" y="548.8" width="10.2" height="11" fill="#000" filter="url(#mz13)"/>
<rect x="11.5" y="549.1" width="9.9" height="10.7" fill="none" stroke="#d0d0d0" stroke-width="0.6"/>
<rect x="12.4" y="590.6" width="8.6" height="2.2" fill="#fff"/>
<text x="12.4" y="588.2" font-size="5.4" fill="#fff" textLength="15.5" lengthAdjust="spacingAndGlyphs">100 µm</text>
<rect x="55" y="548.8" width="43.2" height="44.2" fill="#000" filter="url(#mz14)"/>
<rect x="55" y="548.8" width="10.2" height="11" fill="#000" filter="url(#mz15)"/>
<rect x="55.3" y="549.1" width="9.9" height="10.7" fill="none" stroke="#d0d0d0" stroke-width="0.6"/>
<rect x="56.2" y="590.6" width="8.6" height="2.2" fill="#fff"/>
<text x="56.2" y="588.2" font-size="5.4" fill="#fff" textLength="15.5" lengthAdjust="spacingAndGlyphs">100 µm</text>
<circle cx="36.16" cy="572" r="0.7" fill="#c01010" opacity="0.8"/>
<circle cx="27.08" cy="586.8" r="0.7" fill="#c01010" opacity="0.8"/>
<circle cx="23.38" cy="575.88" r="0.7" fill="#c01010" opacity="0.8"/>
<circle cx="48.35" cy="563.22" r="0.7" fill="#c01010" opacity="0.8"/>
<circle cx="38.72" cy="579.3" r="0.7" fill="#c01010" opacity="0.8"/>
<circle cx="24.35" cy="572.17" r="0.7" fill="#c01010" opacity="0.8"/>
<circle cx="42.9" cy="574.36" r="0.7" fill="#c01010" opacity="0.8"/>
<circle cx="43.5" cy="565.51" r="0.7" fill="#c01010" opacity="0.8"/>
<circle cx="29.86" cy="564.13" r="0.7" fill="#c01010" opacity="0.8"/>
<rect x="11.2" y="593.9" width="87.6" height="10.8" fill="#000"/>
<text x="36.6" y="602.2" font-size="8.6" textLength="18.8" lengthAdjust="spacingAndGlyphs" fill="#1f5fae">DAPI</text>
<text x="58.6" y="602.2" font-size="8.6" textLength="13.3" lengthAdjust="spacingAndGlyphs" fill="#e0141c">H-2</text>
<text transform="translate(6.9 513.2) rotate(-90)" font-size="8.6" text-anchor="middle" textLength="22.8" lengthAdjust="spacingAndGlyphs">sgCtrl</text>
<text transform="translate(6.9 572.1) rotate(-90)" font-size="8.6" text-anchor="middle" textLength="31.6" lengthAdjust="spacingAndGlyphs">sg<tspan font-style="italic">Ifngr1</tspan></text>
<line x1="137.1" y1="488.5" x2="137.1" y2="567.45" stroke="#6a6a6a" stroke-width="0.9"/>
<line x1="136.65" y1="567" x2="212.6" y2="567" stroke="#6a6a6a" stroke-width="0.9"/>
<line x1="133.8" y1="567" x2="137.1" y2="567" stroke="#6a6a6a" stroke-width="0.85"/>
<text x="131.7" y="569.81" font-size="7.8" text-anchor="end">0</text>
<line x1="133.8" y1="547.47" x2="137.1" y2="547.47" stroke="#6a6a6a" stroke-width="0.85"/>
<text x="131.7" y="550.28" font-size="7.8" text-anchor="end">10</text>
<line x1="133.8" y1="527.94" x2="137.1" y2="527.94" stroke="#6a6a6a" stroke-width="0.85"/>
<text x="131.7" y="530.75" font-size="7.8" text-anchor="end">20</text>
<line x1="133.8" y1="508.41" x2="137.1" y2="508.41" stroke="#6a6a6a" stroke-width="0.85"/>
<text x="131.7" y="511.22" font-size="7.8" text-anchor="end">30</text>
<line x1="133.8" y1="488.88" x2="137.1" y2="488.88" stroke="#6a6a6a" stroke-width="0.85"/>
<text x="131.7" y="491.69" font-size="7.8" text-anchor="end">40</text>
<circle cx="145.6" cy="523.2" r="2" fill="none" stroke="#9a9a9a" stroke-width="0.75"/>
<circle cx="149.3" cy="523.2" r="2" fill="none" stroke="#9a9a9a" stroke-width="0.75"/>
<circle cx="153.1" cy="526.5" r="2" fill="none" stroke="#9a9a9a" stroke-width="0.75"/>
<circle cx="145.6" cy="528.3" r="2" fill="none" stroke="#9a9a9a" stroke-width="0.75"/>
<line x1="143.8" y1="525.7" x2="153" y2="525.7" stroke="#333" stroke-width="0.75"/>
<line x1="148.4" y1="524.5" x2="148.4" y2="527" stroke="#333" stroke-width="0.75"/>
<line x1="146.2" y1="524.5" x2="150.6" y2="524.5" stroke="#333" stroke-width="0.75"/>
<line x1="146.2" y1="527" x2="150.6" y2="527" stroke="#333" stroke-width="0.75"/>
<circle cx="166.4" cy="508.9" r="2" fill="none" stroke="#2a9a2a" stroke-width="0.75"/>
<circle cx="162.8" cy="515.7" r="2" fill="none" stroke="#2a9a2a" stroke-width="0.75"/>
<circle cx="169.9" cy="518.9" r="2" fill="none" stroke="#2a9a2a" stroke-width="0.75"/>
<circle cx="162.8" cy="520.3" r="2" fill="none" stroke="#2a9a2a" stroke-width="0.75"/>
<line x1="161.4" y1="515.7" x2="170.6" y2="515.7" stroke="#333" stroke-width="0.75"/>
<line x1="166" y1="513.5" x2="166" y2="517.8" stroke="#333" stroke-width="0.75"/>
<line x1="163.8" y1="513.5" x2="168.2" y2="513.5" stroke="#333" stroke-width="0.75"/>
<line x1="163.8" y1="517.8" x2="168.2" y2="517.8" stroke="#333" stroke-width="0.75"/>
<circle cx="187.7" cy="544.3" r="2" fill="none" stroke="#555" stroke-width="0.75"/>
<circle cx="180.1" cy="547.3" r="2" fill="none" stroke="#555" stroke-width="0.75"/>
<circle cx="187.7" cy="553.5" r="2" fill="none" stroke="#555" stroke-width="0.75"/>
<circle cx="180.1" cy="555.6" r="2" fill="none" stroke="#555" stroke-width="0.75"/>
<line x1="179.3" y1="549.9" x2="188.5" y2="549.9" stroke="#333" stroke-width="0.75"/>
<line x1="183.9" y1="546.5" x2="183.9" y2="552.9" stroke="#333" stroke-width="0.75"/>
<line x1="181.7" y1="546.5" x2="186.1" y2="546.5" stroke="#333" stroke-width="0.75"/>
<line x1="181.7" y1="552.9" x2="186.1" y2="552.9" stroke="#333" stroke-width="0.75"/>
<circle cx="204.4" cy="541" r="2" fill="none" stroke="#f07a2a" stroke-width="0.75"/>
<circle cx="196.9" cy="544.3" r="2" fill="none" stroke="#f07a2a" stroke-width="0.75"/>
<circle cx="204.4" cy="548.1" r="2" fill="none" stroke="#f07a2a" stroke-width="0.75"/>
<circle cx="200.7" cy="552.9" r="2" fill="none" stroke="#f07a2a" stroke-width="0.75"/>
<line x1="196.1" y1="546.5" x2="205.3" y2="546.5" stroke="#333" stroke-width="0.75"/>
<line x1="200.7" y1="544.3" x2="200.7" y2="549.2" stroke="#333" stroke-width="0.75"/>
<line x1="198.5" y1="544.3" x2="202.9" y2="544.3" stroke="#333" stroke-width="0.75"/>
<line x1="198.5" y1="549.2" x2="202.9" y2="549.2" stroke="#333" stroke-width="0.75"/>
<line x1="145.2" y1="491.8" x2="188.1" y2="491.8" stroke="#555" stroke-width="0.8"/>
<polygon points="166.5,486.1 167.15,487.51 168.69,487.69 167.55,488.74 167.85,490.26 166.5,489.5 165.15,490.26 165.45,488.74 164.31,487.69 165.85,487.51" fill="#231f20"/>
<line x1="145.9" y1="501.1" x2="169.7" y2="501.1" stroke="#555" stroke-width="0.8"/>
<polygon points="156.2,495.4 156.85,496.81 158.39,496.99 157.25,498.04 157.55,499.56 156.2,498.8 154.85,499.56 155.15,498.04 154.01,496.99 155.55,496.81" fill="#231f20"/>
<line x1="163.9" y1="504.9" x2="207.7" y2="504.9" stroke="#999" stroke-width="0.8"/>
<polygon points="185.6,499.2 186.25,500.61 187.79,500.79 186.65,501.84 186.95,503.36 185.6,502.6 184.25,503.36 184.55,501.84 183.41,500.79 184.95,500.61" fill="#231f20"/>
<line x1="182.1" y1="534.4" x2="205" y2="534.4" stroke="#555" stroke-width="0.8"/>
<text x="194.9" y="533.1" font-size="7" text-anchor="middle" fill="#231f20">n.s.</text>
<text transform="translate(109.1 528) rotate(-90)" font-size="8.6" text-anchor="middle" textLength="40.4" lengthAdjust="spacingAndGlyphs">H-2 mean</text>
<text transform="translate(116.5 528) rotate(-90)" font-size="8.6" text-anchor="middle" textLength="89.4" lengthAdjust="spacingAndGlyphs">fluorescence intensity</text>
<circle cx="139.8" cy="575.1" r="1.35" fill="none" stroke="#9a9a9a" stroke-width="0.7"/>
<text x="144" y="578.05" font-size="8.2" textLength="50" lengthAdjust="spacingAndGlyphs">sgCtrl–isotype</text>
<circle cx="139.8" cy="585.6" r="1.35" fill="none" stroke="#2a9a2a" stroke-width="0.7"/>
<text x="144" y="588.55" font-size="8.2" textLength="51" lengthAdjust="spacingAndGlyphs">sgCtrl–αPD-L1</text>
<circle cx="139.8" cy="595.4" r="1.35" fill="none" stroke="#222" stroke-width="0.7"/>
<text x="144" y="598.35" font-size="8.2" textLength="53.5" lengthAdjust="spacingAndGlyphs">sg<tspan font-style="italic">Ifngr1</tspan>–isotype</text>
<circle cx="139.8" cy="605.2" r="1.35" fill="none" stroke="#f07a2a" stroke-width="0.7"/>
<text x="144" y="608.15" font-size="8.2" textLength="54" lengthAdjust="spacingAndGlyphs">sg<tspan font-style="italic">Ifngr1</tspan>–αPD-L1</text>
<text x="214.8" y="473.5" font-size="13" font-weight="bold" fill="#000">k</text>
<text x="246.7" y="472.86" font-size="8.5" textLength="85.7" lengthAdjust="spacingAndGlyphs">Gated on CD45<tspan font-size="5.78" dy="-3.57">+</tspan><tspan dy="3.57"> cells</tspan></text>
<line x1="239.9" y1="477.6" x2="334.8" y2="477.6" stroke="#444" stroke-width="0.75"/>
<text x="264.7" y="488.06" font-size="8.5" text-anchor="middle" textLength="28.6" lengthAdjust="spacingAndGlyphs">Isotype</text>
<text x="311.6" y="488.06" font-size="8.5" text-anchor="middle" textLength="27" lengthAdjust="spacingAndGlyphs">αPD-L1</text>
<path fill="#a0a0a0" d="M251.79 518.09h0.7v0.7h-0.7zM250.28 521.36h0.7v0.7h-0.7zM251.63 519.3h0.7v0.7h-0.7zM251.52 523.97h0.7v0.7h-0.7zM252.24 522.68h0.7v0.7h-0.7zM251.09 516.29h0.7v0.7h-0.7zM250.39 517.08h0.7v0.7h-0.7zM248.78 524.25h0.7v0.7h-0.7zM251.5 518.35h0.7v0.7h-0.7zM252.2 516.6h0.7v0.7h-0.7zM251.61 521.01h0.7v0.7h-0.7zM249.87 524.68h0.7v0.7h-0.7zM251.51 520.39h0.7v0.7h-0.7zM250.37 515.65h0.7v0.7h-0.7zM253 515.98h0.7v0.7h-0.7zM250.98 519.87h0.7v0.7h-0.7zM252.75 508.7h0.7v0.7h-0.7zM252.79 519.06h0.7v0.7h-0.7zM252.23 514.1h0.7v0.7h-0.7zM251.67 524.25h0.7v0.7h-0.7zM251.28 515.61h0.7v0.7h-0.7zM250.95 515.99h0.7v0.7h-0.7zM252.14 518.79h0.7v0.7h-0.7zM250.89 521.07h0.7v0.7h-0.7zM250.32 512.49h0.7v0.7h-0.7zM253.74 515.58h0.7v0.7h-0.7zM252.94 517.69h0.7v0.7h-0.7zM251.16 520.05h0.7v0.7h-0.7zM250.54 514.78h0.7v0.7h-0.7zM251.17 516.53h0.7v0.7h-0.7zM252.06 525.54h0.7v0.7h-0.7zM250.23 514.65h0.7v0.7h-0.7zM252.1 520h0.7v0.7h-0.7zM252.45 515.16h0.7v0.7h-0.7zM251.95 517.83h0.7v0.7h-0.7zM249.8 519.76h0.7v0.7h-0.7zM249.86 520.11h0.7v0.7h-0.7zM250.93 517.27h0.7v0.7h-0.7zM253.44 523.93h0.7v0.7h-0.7zM251.78 519.56h0.7v0.7h-0.7zM250.62 522.85h0.7v0.7h-0.7zM251.97 514.7h0.7v0.7h-0.7zM249.76 518.02h0.7v0.7h-0.7zM251.2 521.37h0.7v0.7h-0.7zM250.38 514.62h0.7v0.7h-0.7zM251.78 518.37h0.7v0.7h-0.7zM252.29 522.36h0.7v0.7h-0.7zM250.5 508.88h0.7v0.7h-0.7zM251.43 515.21h0.7v0.7h-0.7zM251.6 507.56h0.7v0.7h-0.7zM251.27 518.39h0.7v0.7h-0.7zM250.83 520.02h0.7v0.7h-0.7zM251.47 518.93h0.7v0.7h-0.7zM252.63 523.04h0.7v0.7h-0.7zM252.53 519.48h0.7v0.7h-0.7zM251.51 520.22h0.7v0.7h-0.7zM251.68 515.21h0.7v0.7h-0.7zM251.75 521.58h0.7v0.7h-0.7zM250.98 513.82h0.7v0.7h-0.7zM251.93 515.14h0.7v0.7h-0.7zM249.94 517.09h0.7v0.7h-0.7zM249.96 519.32h0.7v0.7h-0.7zM250.88 518.35h0.7v0.7h-0.7zM252.47 522.36h0.7v0.7h-0.7zM251.28 509.34h0.7v0.7h-0.7zM250.91 513.54h0.7v0.7h-0.7zM252.24 524.05h0.7v0.7h-0.7zM252.04 520.52h0.7v0.7h-0.7zM251.91 520.67h0.7v0.7h-0.7zM251.02 521.5h0.7v0.7h-0.7z"/>
<path fill="#b8b8b8" opacity="0.8" d="M252.09 503.91h0.6v0.6h-0.6zM253.24 526.01h0.6v0.6h-0.6zM252.47 499.01h0.6v0.6h-0.6zM257.05 515.13h0.6v0.6h-0.6zM254.84 509.45h0.6v0.6h-0.6zM254.63 526.14h0.6v0.6h-0.6zM251.01 518.73h0.6v0.6h-0.6zM254.22 506.27h0.6v0.6h-0.6zM253.66 517.94h0.6v0.6h-0.6zM250.38 522.57h0.6v0.6h-0.6zM249.51 522.48h0.6v0.6h-0.6zM255.08 515.29h0.6v0.6h-0.6zM250.57 506.94h0.6v0.6h-0.6zM245.98 513.02h0.6v0.6h-0.6zM252.68 517.68h0.6v0.6h-0.6zM256.37 514.81h0.6v0.6h-0.6zM252.01 521.13h0.6v0.6h-0.6zM253.06 513.01h0.6v0.6h-0.6zM249.33 521.66h0.6v0.6h-0.6zM250.94 528.73h0.6v0.6h-0.6zM250.32 509.35h0.6v0.6h-0.6zM253.37 507.61h0.6v0.6h-0.6zM248.42 504.09h0.6v0.6h-0.6zM250.45 511.33h0.6v0.6h-0.6zM256.23 518.56h0.6v0.6h-0.6zM254.11 519.7h0.6v0.6h-0.6zM246.11 508.3h0.6v0.6h-0.6zM251.32 504.95h0.6v0.6h-0.6zM254.62 507.99h0.6v0.6h-0.6zM249.57 520.32h0.6v0.6h-0.6zM251 511.23h0.6v0.6h-0.6zM248.27 520.43h0.6v0.6h-0.6zM253.23 524.72h0.6v0.6h-0.6zM260.12 518.56h0.6v0.6h-0.6zM251.93 506.93h0.6v0.6h-0.6zM258.32 511.59h0.6v0.6h-0.6zM255.1 515.14h0.6v0.6h-0.6zM242.34 514.39h0.6v0.6h-0.6zM253.59 514.81h0.6v0.6h-0.6zM252.65 515.1h0.6v0.6h-0.6zM249.86 518.05h0.6v0.6h-0.6zM251.46 514.51h0.6v0.6h-0.6zM258.35 514.96h0.6v0.6h-0.6zM249.81 516.16h0.6v0.6h-0.6zM248.48 514.57h0.6v0.6h-0.6z"/>
<path fill="#1c6ae0" d="M252.34 497.9h0.8v0.8h-0.8zM251.1 498.52h0.8v0.8h-0.8zM251.36 502.61h0.8v0.8h-0.8zM251.36 500.55h0.8v0.8h-0.8zM249.71 498.44h0.8v0.8h-0.8zM250.87 504.26h0.8v0.8h-0.8zM249.63 505.19h0.8v0.8h-0.8zM250.62 495.8h0.8v0.8h-0.8zM252.38 502.65h0.8v0.8h-0.8zM250.48 502.38h0.8v0.8h-0.8zM251.7 496.63h0.8v0.8h-0.8zM252.24 498.6h0.8v0.8h-0.8zM251.87 499.59h0.8v0.8h-0.8zM249.97 499.46h0.8v0.8h-0.8zM250.81 501.9h0.8v0.8h-0.8zM249.9 498.09h0.8v0.8h-0.8zM251.47 500.2h0.8v0.8h-0.8zM250.8 502.97h0.8v0.8h-0.8zM250.63 502.72h0.8v0.8h-0.8zM251.09 504.81h0.8v0.8h-0.8zM250.87 498.83h0.8v0.8h-0.8zM251.41 503.51h0.8v0.8h-0.8zM251.81 506.09h0.8v0.8h-0.8zM252.22 504.93h0.8v0.8h-0.8zM251.07 506.94h0.8v0.8h-0.8zM250.92 501.93h0.8v0.8h-0.8zM252.32 504.61h0.8v0.8h-0.8zM250.36 500.44h0.8v0.8h-0.8zM250.51 505.33h0.8v0.8h-0.8zM250.93 501.53h0.8v0.8h-0.8zM250.68 499.75h0.8v0.8h-0.8zM251.74 498.08h0.8v0.8h-0.8zM251.26 499.8h0.8v0.8h-0.8zM250.93 497.16h0.8v0.8h-0.8zM252.12 496.05h0.8v0.8h-0.8zM250.25 500.04h0.8v0.8h-0.8zM251.26 498.91h0.8v0.8h-0.8zM249.93 499.83h0.8v0.8h-0.8zM250.42 499.16h0.8v0.8h-0.8zM251.18 502.66h0.8v0.8h-0.8zM250.88 500.21h0.8v0.8h-0.8zM252.04 500.71h0.8v0.8h-0.8zM249.85 500.14h0.8v0.8h-0.8zM251.48 500.11h0.8v0.8h-0.8zM250.75 501.98h0.8v0.8h-0.8zM250.81 501.82h0.8v0.8h-0.8zM251.7 499.31h0.8v0.8h-0.8zM249.97 505.78h0.8v0.8h-0.8zM251.5 498.81h0.8v0.8h-0.8zM250.09 501.4h0.8v0.8h-0.8zM251.35 503h0.8v0.8h-0.8zM251.48 499.91h0.8v0.8h-0.8zM250.88 496.35h0.8v0.8h-0.8zM250.62 499.8h0.8v0.8h-0.8zM252.03 497.02h0.8v0.8h-0.8zM252.64 504.35h0.8v0.8h-0.8zM250.79 499.4h0.8v0.8h-0.8zM251.37 502.67h0.8v0.8h-0.8zM251.75 495.65h0.8v0.8h-0.8zM250.93 503.05h0.8v0.8h-0.8zM251.89 502.87h0.8v0.8h-0.8zM251.13 502.4h0.8v0.8h-0.8zM250.79 507.07h0.8v0.8h-0.8zM251.9 502.7h0.8v0.8h-0.8zM250.76 501.23h0.8v0.8h-0.8zM251.49 501.69h0.8v0.8h-0.8zM251.96 497.58h0.8v0.8h-0.8zM251.74 499.72h0.8v0.8h-0.8zM249.87 496.91h0.8v0.8h-0.8zM250.71 503.96h0.8v0.8h-0.8zM251.5 503.56h0.8v0.8h-0.8zM252.16 501.75h0.8v0.8h-0.8zM252.06 499.49h0.8v0.8h-0.8zM251.88 505.34h0.8v0.8h-0.8zM250.99 500.18h0.8v0.8h-0.8zM252.15 498.99h0.8v0.8h-0.8zM250.51 501.57h0.8v0.8h-0.8zM251.65 504.44h0.8v0.8h-0.8zM250.84 503.14h0.8v0.8h-0.8zM250.53 497.65h0.8v0.8h-0.8zM253.09 499.02h0.8v0.8h-0.8zM250.04 502.48h0.8v0.8h-0.8zM250.63 503.81h0.8v0.8h-0.8zM249.27 497.71h0.8v0.8h-0.8zM252.01 502.33h0.8v0.8h-0.8zM250.5 506.35h0.8v0.8h-0.8zM252.01 500.29h0.8v0.8h-0.8zM252.08 503.47h0.8v0.8h-0.8zM250.23 498.87h0.8v0.8h-0.8zM251.34 497.88h0.8v0.8h-0.8zM249.98 499.73h0.8v0.8h-0.8zM251.75 501.81h0.8v0.8h-0.8zM251.77 500.49h0.8v0.8h-0.8zM251.8 500.95h0.8v0.8h-0.8zM250.78 501.95h0.8v0.8h-0.8zM250.6 499.48h0.8v0.8h-0.8zM251.96 504.77h0.8v0.8h-0.8zM250.72 499.87h0.8v0.8h-0.8zM252.93 503.06h0.8v0.8h-0.8zM250.84 497.18h0.8v0.8h-0.8zM252.49 505.52h0.8v0.8h-0.8zM250.52 503.52h0.8v0.8h-0.8zM250.44 500.19h0.8v0.8h-0.8zM252.01 500.37h0.8v0.8h-0.8zM250.63 496.45h0.8v0.8h-0.8zM251.62 500.6h0.8v0.8h-0.8zM250.63 499.49h0.8v0.8h-0.8zM251.48 500.31h0.8v0.8h-0.8zM251.19 502.61h0.8v0.8h-0.8zM250.79 498.16h0.8v0.8h-0.8zM250.93 504.64h0.8v0.8h-0.8zM251.18 506.43h0.8v0.8h-0.8zM251.24 498.27h0.8v0.8h-0.8zM251.35 500.69h0.8v0.8h-0.8zM250.8 500.66h0.8v0.8h-0.8zM251.91 504.15h0.8v0.8h-0.8zM251.45 502.05h0.8v0.8h-0.8zM251.69 503.72h0.8v0.8h-0.8zM251.5 499.09h0.8v0.8h-0.8zM252.12 505.2h0.8v0.8h-0.8zM251.63 501.98h0.8v0.8h-0.8zM249.09 505.4h0.8v0.8h-0.8zM249.69 499.76h0.8v0.8h-0.8zM251.34 504.96h0.8v0.8h-0.8zM250.99 499.28h0.8v0.8h-0.8zM249.81 500.56h0.8v0.8h-0.8zM251.66 496.87h0.8v0.8h-0.8zM250.75 499.91h0.8v0.8h-0.8zM251.24 502.47h0.8v0.8h-0.8zM252.05 499.37h0.8v0.8h-0.8zM249.98 497.49h0.8v0.8h-0.8zM250.93 498.42h0.8v0.8h-0.8zM250.93 500.72h0.8v0.8h-0.8zM251.19 504.34h0.8v0.8h-0.8zM251.51 496.87h0.8v0.8h-0.8zM250.6 499.45h0.8v0.8h-0.8zM250.76 503.93h0.8v0.8h-0.8zM251.87 502.34h0.8v0.8h-0.8zM252.36 498.23h0.8v0.8h-0.8zM251.2 505.16h0.8v0.8h-0.8zM251.18 499.26h0.8v0.8h-0.8zM250.58 504.74h0.8v0.8h-0.8zM252.74 502.18h0.8v0.8h-0.8zM250.83 498.59h0.8v0.8h-0.8zM251.08 499.26h0.8v0.8h-0.8zM251.06 502.69h0.8v0.8h-0.8zM250.66 498.97h0.8v0.8h-0.8zM250.72 505.95h0.8v0.8h-0.8zM251.19 503.17h0.8v0.8h-0.8zM251.54 497.57h0.8v0.8h-0.8z"/>
<path fill="#f23c3c" d="M270.34 520.24h0.75v0.75h-0.75zM264.52 523.47h0.75v0.75h-0.75zM264.93 524h0.75v0.75h-0.75zM263.8 521.21h0.75v0.75h-0.75zM263.61 515.6h0.75v0.75h-0.75zM265.69 518.82h0.75v0.75h-0.75zM263.89 521.03h0.75v0.75h-0.75zM273.13 522.11h0.75v0.75h-0.75zM262.27 524.93h0.75v0.75h-0.75zM267.16 516.67h0.75v0.75h-0.75zM267.7 519.56h0.75v0.75h-0.75zM271.37 521.64h0.75v0.75h-0.75zM266.57 522.49h0.75v0.75h-0.75zM266.72 516.36h0.75v0.75h-0.75zM263.72 516.42h0.75v0.75h-0.75zM268.5 518.41h0.75v0.75h-0.75zM270.23 515.27h0.75v0.75h-0.75zM267.92 520.87h0.75v0.75h-0.75zM268.21 520.84h0.75v0.75h-0.75zM265.16 519.84h0.75v0.75h-0.75zM265.46 518.99h0.75v0.75h-0.75zM270.55 517.97h0.75v0.75h-0.75zM271.54 519.28h0.75v0.75h-0.75zM267.68 521.55h0.75v0.75h-0.75zM273.56 520.2h0.75v0.75h-0.75zM265.3 523.9h0.75v0.75h-0.75zM269.49 517.07h0.75v0.75h-0.75zM262.62 519.31h0.75v0.75h-0.75zM265.83 517.4h0.75v0.75h-0.75zM268.56 521.95h0.75v0.75h-0.75zM272.23 520.18h0.75v0.75h-0.75zM264.23 515.62h0.75v0.75h-0.75zM262.9 521.43h0.75v0.75h-0.75zM261.9 517.5h0.75v0.75h-0.75zM263.18 518.23h0.75v0.75h-0.75zM265.98 518.44h0.75v0.75h-0.75zM272.97 522.21h0.75v0.75h-0.75zM266.37 516.27h0.75v0.75h-0.75zM269.46 518.64h0.75v0.75h-0.75zM267.31 516.1h0.75v0.75h-0.75zM269.05 520.59h0.75v0.75h-0.75zM269.77 519.94h0.75v0.75h-0.75zM268.34 516.25h0.75v0.75h-0.75zM271.3 520.65h0.75v0.75h-0.75zM273.27 518.74h0.75v0.75h-0.75zM266.57 522.9h0.75v0.75h-0.75zM266.17 521.24h0.75v0.75h-0.75zM267.35 519.08h0.75v0.75h-0.75zM267.92 515.24h0.75v0.75h-0.75zM270.66 517.46h0.75v0.75h-0.75zM270.33 522.41h0.75v0.75h-0.75zM267.86 524.4h0.75v0.75h-0.75zM267.97 515.56h0.75v0.75h-0.75zM270.74 517.25h0.75v0.75h-0.75zM270.14 520.39h0.75v0.75h-0.75zM269.6 520.4h0.75v0.75h-0.75zM265.14 522.71h0.75v0.75h-0.75zM268.06 518.75h0.75v0.75h-0.75zM267.67 518.18h0.75v0.75h-0.75zM267.62 519.2h0.75v0.75h-0.75zM263.18 525.01h0.75v0.75h-0.75zM268.47 518.92h0.75v0.75h-0.75zM262.31 523.92h0.75v0.75h-0.75zM269.29 522.6h0.75v0.75h-0.75zM267.53 522.13h0.75v0.75h-0.75zM265.98 519.73h0.75v0.75h-0.75zM268.06 515.59h0.75v0.75h-0.75zM268.85 520.83h0.75v0.75h-0.75zM264.53 516.76h0.75v0.75h-0.75zM275.95 520.12h0.75v0.75h-0.75zM265.93 521.3h0.75v0.75h-0.75zM263.05 514.63h0.75v0.75h-0.75zM265.48 522.53h0.75v0.75h-0.75zM271.15 520.64h0.75v0.75h-0.75zM273.8 515.34h0.75v0.75h-0.75zM263.99 524.45h0.75v0.75h-0.75zM270.44 519.54h0.75v0.75h-0.75zM269.32 517.7h0.75v0.75h-0.75zM274.43 518.21h0.75v0.75h-0.75zM270.95 519.07h0.75v0.75h-0.75zM265.77 515.31h0.75v0.75h-0.75zM266.82 519.14h0.75v0.75h-0.75zM264.83 514.95h0.75v0.75h-0.75zM263.4 514.57h0.75v0.75h-0.75zM272.18 518.65h0.75v0.75h-0.75zM265.36 522.43h0.75v0.75h-0.75zM268.67 521.56h0.75v0.75h-0.75zM271.15 519.19h0.75v0.75h-0.75zM268.01 518.76h0.75v0.75h-0.75zM264.37 521.56h0.75v0.75h-0.75zM268.16 524.71h0.75v0.75h-0.75zM263.18 515.64h0.75v0.75h-0.75zM269.09 521.07h0.75v0.75h-0.75zM266.41 523.03h0.75v0.75h-0.75zM267.62 523.23h0.75v0.75h-0.75zM267.07 520.51h0.75v0.75h-0.75zM269.57 516.3h0.75v0.75h-0.75zM270.87 517.5h0.75v0.75h-0.75zM270.52 516.45h0.75v0.75h-0.75zM271.04 521.69h0.75v0.75h-0.75zM265.37 524.7h0.75v0.75h-0.75zM273.1 516.47h0.75v0.75h-0.75zM266.77 520.38h0.75v0.75h-0.75zM269.87 519.3h0.75v0.75h-0.75zM269.7 516.06h0.75v0.75h-0.75zM267.14 514.96h0.75v0.75h-0.75zM267.99 522.58h0.75v0.75h-0.75zM264 522.73h0.75v0.75h-0.75zM264.84 518.97h0.75v0.75h-0.75zM270.25 521.84h0.75v0.75h-0.75zM263.69 517.04h0.75v0.75h-0.75zM269.81 519.97h0.75v0.75h-0.75zM264.05 515.65h0.75v0.75h-0.75zM269.35 519.04h0.75v0.75h-0.75zM267.25 516.38h0.75v0.75h-0.75zM263.64 517.17h0.75v0.75h-0.75zM264.08 521.89h0.75v0.75h-0.75zM268.38 519.49h0.75v0.75h-0.75zM269.45 518.02h0.75v0.75h-0.75zM264.32 521.67h0.75v0.75h-0.75zM269.71 523.9h0.75v0.75h-0.75zM276.4 519.11h0.75v0.75h-0.75zM269.76 517.05h0.75v0.75h-0.75zM273.57 517.39h0.75v0.75h-0.75zM265 521.02h0.75v0.75h-0.75zM266.38 521.96h0.75v0.75h-0.75zM264.73 518.29h0.75v0.75h-0.75zM267.86 519.59h0.75v0.75h-0.75zM265.03 517.68h0.75v0.75h-0.75zM278.28 519.5h0.75v0.75h-0.75zM266.56 514.9h0.75v0.75h-0.75zM264.12 522.81h0.75v0.75h-0.75zM265.66 518.64h0.75v0.75h-0.75zM268.5 522.51h0.75v0.75h-0.75zM265.05 523.28h0.75v0.75h-0.75zM266.91 519.8h0.75v0.75h-0.75zM266.12 522.56h0.75v0.75h-0.75zM275.01 519.18h0.75v0.75h-0.75zM268.99 521.28h0.75v0.75h-0.75zM269.16 521.5h0.75v0.75h-0.75zM266.97 523.3h0.75v0.75h-0.75zM269.99 517.8h0.75v0.75h-0.75zM266.12 522.66h0.75v0.75h-0.75zM271.33 518.49h0.75v0.75h-0.75zM270.45 519.34h0.75v0.75h-0.75zM263.46 518.26h0.75v0.75h-0.75zM269.32 521.01h0.75v0.75h-0.75zM272.07 522.82h0.75v0.75h-0.75zM263.99 519.76h0.75v0.75h-0.75zM273.33 520.83h0.75v0.75h-0.75zM268.25 519.53h0.75v0.75h-0.75zM271.4 519.36h0.75v0.75h-0.75zM268.3 520.12h0.75v0.75h-0.75zM265.98 514.49h0.75v0.75h-0.75zM262.27 522.86h0.75v0.75h-0.75zM274.18 519.74h0.75v0.75h-0.75zM268.84 521.24h0.75v0.75h-0.75zM266.26 521.93h0.75v0.75h-0.75zM270.77 517.51h0.75v0.75h-0.75zM262.45 521.99h0.75v0.75h-0.75zM265.21 520.7h0.75v0.75h-0.75zM265.31 522.88h0.75v0.75h-0.75zM273.87 515.95h0.75v0.75h-0.75zM270.75 520.04h0.75v0.75h-0.75zM266.51 516.3h0.75v0.75h-0.75zM272.46 520.94h0.75v0.75h-0.75zM268 523.98h0.75v0.75h-0.75zM268.37 521.16h0.75v0.75h-0.75zM270.42 516.05h0.75v0.75h-0.75zM265.55 517.19h0.75v0.75h-0.75zM267.69 520.71h0.75v0.75h-0.75zM273.11 517.95h0.75v0.75h-0.75zM267.75 518.41h0.75v0.75h-0.75zM271.3 519.88h0.75v0.75h-0.75zM271.28 522.07h0.75v0.75h-0.75zM265.76 524.49h0.75v0.75h-0.75zM269.65 522.65h0.75v0.75h-0.75zM265.74 520.78h0.75v0.75h-0.75zM266.71 521.33h0.75v0.75h-0.75zM266.6 522.69h0.75v0.75h-0.75zM264.07 522.39h0.75v0.75h-0.75zM270.48 517.18h0.75v0.75h-0.75zM268.92 523.03h0.75v0.75h-0.75zM271.31 524.29h0.75v0.75h-0.75zM270.32 519.86h0.75v0.75h-0.75zM271.51 517.87h0.75v0.75h-0.75zM267.26 520.29h0.75v0.75h-0.75zM270.35 524.78h0.75v0.75h-0.75zM272.09 521.77h0.75v0.75h-0.75zM270.53 523.94h0.75v0.75h-0.75zM269 520.66h0.75v0.75h-0.75zM271.35 520.01h0.75v0.75h-0.75zM271.75 517.17h0.75v0.75h-0.75zM272.42 520.05h0.75v0.75h-0.75zM266.9 521.6h0.75v0.75h-0.75zM268.77 520.73h0.75v0.75h-0.75zM262.76 517.69h0.75v0.75h-0.75zM271.41 517.1h0.75v0.75h-0.75zM271.69 519.21h0.75v0.75h-0.75zM267.59 515.47h0.75v0.75h-0.75zM266.17 515.34h0.75v0.75h-0.75zM265.96 515.43h0.75v0.75h-0.75zM265.67 519.82h0.75v0.75h-0.75zM266.3 521.93h0.75v0.75h-0.75zM267.07 518.14h0.75v0.75h-0.75zM266.44 516.46h0.75v0.75h-0.75zM270.69 518.16h0.75v0.75h-0.75zM267.7 517.95h0.75v0.75h-0.75zM271.62 524.21h0.75v0.75h-0.75zM268.76 517.6h0.75v0.75h-0.75zM262.95 522.05h0.75v0.75h-0.75zM271.93 521.89h0.75v0.75h-0.75zM273.25 519.53h0.75v0.75h-0.75zM272.1 523.34h0.75v0.75h-0.75zM269.11 521.68h0.75v0.75h-0.75zM269.22 516.41h0.75v0.75h-0.75zM261.81 522.51h0.75v0.75h-0.75zM269.28 517.56h0.75v0.75h-0.75zM266.81 517.69h0.75v0.75h-0.75zM263.71 518.83h0.75v0.75h-0.75zM266.58 524.46h0.75v0.75h-0.75zM269.16 520.86h0.75v0.75h-0.75zM270.49 518.79h0.75v0.75h-0.75zM271.06 523.83h0.75v0.75h-0.75zM268.82 516.56h0.75v0.75h-0.75zM267.29 519.66h0.75v0.75h-0.75zM274.61 520.24h0.75v0.75h-0.75zM272.58 518.18h0.75v0.75h-0.75zM266.48 516.81h0.75v0.75h-0.75zM266.02 524.2h0.75v0.75h-0.75zM268.06 518.42h0.75v0.75h-0.75zM268.63 520.39h0.75v0.75h-0.75zM266.7 516.32h0.75v0.75h-0.75zM271.09 521.24h0.75v0.75h-0.75zM272.78 517.65h0.75v0.75h-0.75zM267.19 515.37h0.75v0.75h-0.75zM269.02 523.19h0.75v0.75h-0.75zM268.42 519.73h0.75v0.75h-0.75zM268.95 519.86h0.75v0.75h-0.75zM265.88 523.54h0.75v0.75h-0.75zM267.85 514.18h0.75v0.75h-0.75zM270.62 521.15h0.75v0.75h-0.75zM265.24 518.21h0.75v0.75h-0.75zM267.45 521.45h0.75v0.75h-0.75zM266.9 520.75h0.75v0.75h-0.75zM272.85 519.58h0.75v0.75h-0.75zM268.8 519.29h0.75v0.75h-0.75zM271.25 522.47h0.75v0.75h-0.75zM270.94 519.17h0.75v0.75h-0.75zM266.48 522.41h0.75v0.75h-0.75zM269.88 519.67h0.75v0.75h-0.75zM268.79 520.97h0.75v0.75h-0.75zM272.31 518.9h0.75v0.75h-0.75zM269.38 516.88h0.75v0.75h-0.75zM264.74 519.01h0.75v0.75h-0.75zM262.21 520.81h0.75v0.75h-0.75zM266.93 518.05h0.75v0.75h-0.75zM267.28 523.98h0.75v0.75h-0.75zM263.75 519.43h0.75v0.75h-0.75zM270.25 520.33h0.75v0.75h-0.75zM269.08 519.41h0.75v0.75h-0.75zM265.88 520.48h0.75v0.75h-0.75zM264.01 521.71h0.75v0.75h-0.75zM267.35 515.65h0.75v0.75h-0.75zM264.64 516.85h0.75v0.75h-0.75zM268.58 521.4h0.75v0.75h-0.75zM266.48 519.67h0.75v0.75h-0.75zM264.47 522.51h0.75v0.75h-0.75zM266.15 518.86h0.75v0.75h-0.75zM263.37 517.67h0.75v0.75h-0.75zM269.37 523.67h0.75v0.75h-0.75zM273.64 517.77h0.75v0.75h-0.75zM267.82 517.13h0.75v0.75h-0.75zM261.91 522.83h0.75v0.75h-0.75zM265.57 519.75h0.75v0.75h-0.75zM267.07 520.61h0.75v0.75h-0.75zM270.73 518.85h0.75v0.75h-0.75zM266.6 519.75h0.75v0.75h-0.75zM266.4 518.39h0.75v0.75h-0.75zM269.34 524.56h0.75v0.75h-0.75zM263.66 520.03h0.75v0.75h-0.75zM267.56 520.8h0.75v0.75h-0.75zM266.16 522.18h0.75v0.75h-0.75zM271.7 516.66h0.75v0.75h-0.75zM263.81 520.59h0.75v0.75h-0.75zM266.23 514.86h0.75v0.75h-0.75zM267.86 517.17h0.75v0.75h-0.75zM265.66 521.14h0.75v0.75h-0.75zM263.44 523.53h0.75v0.75h-0.75zM266.78 519.91h0.75v0.75h-0.75zM267.49 516.9h0.75v0.75h-0.75zM271.1 517.42h0.75v0.75h-0.75zM274.67 520.32h0.75v0.75h-0.75zM271.43 520.73h0.75v0.75h-0.75zM268.91 519.88h0.75v0.75h-0.75zM270.77 516.11h0.75v0.75h-0.75zM266.2 518.35h0.75v0.75h-0.75zM267.78 522.17h0.75v0.75h-0.75zM268.53 517.57h0.75v0.75h-0.75zM262.32 516.66h0.75v0.75h-0.75zM270.41 521.35h0.75v0.75h-0.75zM267.76 523.61h0.75v0.75h-0.75zM264.65 524.85h0.75v0.75h-0.75zM264.64 521.63h0.75v0.75h-0.75zM267.64 514.78h0.75v0.75h-0.75zM266.46 517.8h0.75v0.75h-0.75zM266.51 519.97h0.75v0.75h-0.75zM268.37 522.92h0.75v0.75h-0.75zM272.67 515.78h0.75v0.75h-0.75zM267.24 524.38h0.75v0.75h-0.75zM272.58 519.2h0.75v0.75h-0.75zM270.06 517.18h0.75v0.75h-0.75zM269.19 515.73h0.75v0.75h-0.75zM264.31 518.73h0.75v0.75h-0.75zM264.47 517.76h0.75v0.75h-0.75zM266.84 519.31h0.75v0.75h-0.75zM267.31 517.75h0.75v0.75h-0.75zM272.99 523.72h0.75v0.75h-0.75zM270.46 514.88h0.75v0.75h-0.75zM266.08 520.4h0.75v0.75h-0.75zM266.54 520.72h0.75v0.75h-0.75zM265.43 520.39h0.75v0.75h-0.75zM269.46 519.02h0.75v0.75h-0.75zM262.51 516.2h0.75v0.75h-0.75zM271.69 519.16h0.75v0.75h-0.75zM267.75 518.14h0.75v0.75h-0.75zM266.1 524.24h0.75v0.75h-0.75zM268.96 518.52h0.75v0.75h-0.75zM271.64 515.15h0.75v0.75h-0.75zM271.51 521.88h0.75v0.75h-0.75zM266.01 524.97h0.75v0.75h-0.75zM262.66 523.92h0.75v0.75h-0.75zM267.14 517.36h0.75v0.75h-0.75zM263.61 519.82h0.75v0.75h-0.75zM262.48 522.56h0.75v0.75h-0.75zM272.25 524.23h0.75v0.75h-0.75zM270.21 518.52h0.75v0.75h-0.75zM265.77 515.81h0.75v0.75h-0.75zM269.38 518.64h0.75v0.75h-0.75zM271 515.69h0.75v0.75h-0.75zM267.7 516.17h0.75v0.75h-0.75zM267.18 519.49h0.75v0.75h-0.75zM271.09 522.87h0.75v0.75h-0.75zM272.14 516.55h0.75v0.75h-0.75zM269.56 521.61h0.75v0.75h-0.75zM264.43 518.19h0.75v0.75h-0.75zM270.1 515.7h0.75v0.75h-0.75zM272.78 515.87h0.75v0.75h-0.75zM268.4 514.34h0.75v0.75h-0.75zM269.78 518.99h0.75v0.75h-0.75zM266.26 522.03h0.75v0.75h-0.75zM271.74 522.04h0.75v0.75h-0.75zM269.11 518.21h0.75v0.75h-0.75zM267.84 521.37h0.75v0.75h-0.75zM268.86 517.86h0.75v0.75h-0.75zM273.56 514.79h0.75v0.75h-0.75zM270.41 517.15h0.75v0.75h-0.75zM266.22 518.78h0.75v0.75h-0.75zM273.59 515.41h0.75v0.75h-0.75zM269.48 520.87h0.75v0.75h-0.75zM271.83 522.24h0.75v0.75h-0.75zM267.73 519.7h0.75v0.75h-0.75zM270.12 519.45h0.75v0.75h-0.75zM262.9 518.1h0.75v0.75h-0.75zM268.13 519.42h0.75v0.75h-0.75zM270.01 521.4h0.75v0.75h-0.75zM263.11 516.2h0.75v0.75h-0.75zM272.94 515.44h0.75v0.75h-0.75zM266.87 517.57h0.75v0.75h-0.75zM271.17 516.51h0.75v0.75h-0.75zM265.74 518.13h0.75v0.75h-0.75zM264.1 518.8h0.75v0.75h-0.75zM267.81 521.92h0.75v0.75h-0.75zM270.78 523.66h0.75v0.75h-0.75zM265.41 517.9h0.75v0.75h-0.75zM266.36 523.3h0.75v0.75h-0.75zM264.55 524.53h0.75v0.75h-0.75zM270.91 519.16h0.75v0.75h-0.75zM268.63 516.72h0.75v0.75h-0.75zM270.44 519.61h0.75v0.75h-0.75z"/>
<path fill="#f27a7a" opacity="0.7" d="M267.96 508.66h0.6v0.6h-0.6zM272.49 516.41h0.6v0.6h-0.6zM268.75 524.49h0.6v0.6h-0.6zM272.82 508.89h0.6v0.6h-0.6zM270.22 524.29h0.6v0.6h-0.6zM273.45 505.22h0.6v0.6h-0.6zM263.24 512.88h0.6v0.6h-0.6zM268.02 524.59h0.6v0.6h-0.6zM262.78 525.27h0.6v0.6h-0.6zM277.76 510.53h0.6v0.6h-0.6zM277.63 526.51h0.6v0.6h-0.6zM280.64 519.12h0.6v0.6h-0.6zM268.91 520.42h0.6v0.6h-0.6zM272.14 522.32h0.6v0.6h-0.6zM267.3 514.81h0.6v0.6h-0.6zM274.15 518.37h0.6v0.6h-0.6zM264.76 514.79h0.6v0.6h-0.6zM270.2 520.08h0.6v0.6h-0.6zM275.92 531.24h0.6v0.6h-0.6zM267.28 515.84h0.6v0.6h-0.6zM271.38 511.57h0.6v0.6h-0.6zM264.11 511.78h0.6v0.6h-0.6zM274.01 522.47h0.6v0.6h-0.6zM261.04 527.98h0.6v0.6h-0.6zM265.58 519.76h0.6v0.6h-0.6z"/>
<rect x="241.3" y="491.3" width="42.1" height="41.7" rx="1.2" fill="none" stroke="#555" stroke-width="0.8"/>
<path d="M241.3 495.93h1.3M241.3 500.57h1.3M241.3 505.2h1.3M241.3 509.83h1.3M241.3 514.47h1.3M241.3 519.1h1.3M241.3 523.73h1.3M241.3 528.37h1.3M245.98 533v-1.3M250.66 533v-1.3M255.33 533v-1.3M260.01 533v-1.3M264.69 533v-1.3M269.37 533v-1.3M274.04 533v-1.3M278.72 533v-1.3" stroke="#555" stroke-width="0.5" fill="none"/>
<rect x="247.3" y="494.4" width="8.6" height="14" fill="none" stroke="#333" stroke-width="0.75"/>
<rect x="261.3" y="513.3" width="19.4" height="13.3" fill="none" stroke="#333" stroke-width="0.75"/>
<text x="259.1" y="502.91" font-size="7.8" textLength="12.2" lengthAdjust="spacingAndGlyphs">12.7</text>
<text x="251.6" y="531.81" font-size="7.8" text-anchor="middle" textLength="12.8" lengthAdjust="spacingAndGlyphs">21.5</text>
<path fill="#a0a0a0" d="M297.58 519.44h0.7v0.7h-0.7zM299.01 519.17h0.7v0.7h-0.7zM299.08 515.34h0.7v0.7h-0.7zM297.67 519.05h0.7v0.7h-0.7zM298.42 523.88h0.7v0.7h-0.7zM297.26 514.03h0.7v0.7h-0.7zM297.23 515.77h0.7v0.7h-0.7zM297.43 518.52h0.7v0.7h-0.7zM297.31 522.35h0.7v0.7h-0.7zM298.28 516.28h0.7v0.7h-0.7zM296.81 517.39h0.7v0.7h-0.7zM298.67 513.74h0.7v0.7h-0.7zM297.62 518.67h0.7v0.7h-0.7zM298.39 516.63h0.7v0.7h-0.7zM296.84 512.6h0.7v0.7h-0.7zM299.21 516.81h0.7v0.7h-0.7zM296.86 517.06h0.7v0.7h-0.7zM297.49 516.74h0.7v0.7h-0.7zM298.21 517.29h0.7v0.7h-0.7zM299.89 513.6h0.7v0.7h-0.7zM298.3 519.83h0.7v0.7h-0.7zM297.96 517.13h0.7v0.7h-0.7zM298.31 514.34h0.7v0.7h-0.7zM298.34 513.46h0.7v0.7h-0.7zM297.94 515.26h0.7v0.7h-0.7zM297.43 516.01h0.7v0.7h-0.7zM297.59 517.43h0.7v0.7h-0.7zM299.15 513.7h0.7v0.7h-0.7zM297.8 518.52h0.7v0.7h-0.7zM297.7 516.18h0.7v0.7h-0.7zM297.81 515.27h0.7v0.7h-0.7zM298.1 509.33h0.7v0.7h-0.7zM299.29 516.88h0.7v0.7h-0.7zM296.83 520.08h0.7v0.7h-0.7zM298.36 520.28h0.7v0.7h-0.7zM297.04 517.56h0.7v0.7h-0.7zM298.54 516.63h0.7v0.7h-0.7zM297.45 510.36h0.7v0.7h-0.7zM298.17 510.96h0.7v0.7h-0.7zM298.35 512.88h0.7v0.7h-0.7zM298.11 517.99h0.7v0.7h-0.7zM298.36 522.19h0.7v0.7h-0.7zM299.01 516.4h0.7v0.7h-0.7zM297.07 523.21h0.7v0.7h-0.7zM298.9 517.99h0.7v0.7h-0.7zM297.96 521.09h0.7v0.7h-0.7zM297.17 519.5h0.7v0.7h-0.7zM298.84 524.37h0.7v0.7h-0.7zM297.19 519.46h0.7v0.7h-0.7zM296.34 513.21h0.7v0.7h-0.7zM296.96 516.87h0.7v0.7h-0.7zM298.62 517.17h0.7v0.7h-0.7zM297.45 520.11h0.7v0.7h-0.7zM298.43 519.7h0.7v0.7h-0.7zM297.86 513.35h0.7v0.7h-0.7zM298.26 516.69h0.7v0.7h-0.7zM298.79 521.79h0.7v0.7h-0.7zM298.52 526.05h0.7v0.7h-0.7zM298.05 517.73h0.7v0.7h-0.7zM296.52 520.53h0.7v0.7h-0.7zM297.69 516.49h0.7v0.7h-0.7zM297.06 522.33h0.7v0.7h-0.7zM299.23 516.36h0.7v0.7h-0.7zM296.3 516.84h0.7v0.7h-0.7zM298.24 521.07h0.7v0.7h-0.7zM298.61 519.1h0.7v0.7h-0.7zM296.7 514.82h0.7v0.7h-0.7zM297.58 516.73h0.7v0.7h-0.7zM297.9 527.48h0.7v0.7h-0.7zM296.87 519.7h0.7v0.7h-0.7z"/>
<path fill="#b8b8b8" opacity="0.8" d="M302.7 506.56h0.6v0.6h-0.6zM300.93 510.39h0.6v0.6h-0.6zM296.61 507.85h0.6v0.6h-0.6zM294.65 512.64h0.6v0.6h-0.6zM300.65 510.3h0.6v0.6h-0.6zM299.42 517.05h0.6v0.6h-0.6zM304.11 527.08h0.6v0.6h-0.6zM299.91 519.44h0.6v0.6h-0.6zM298.54 511.35h0.6v0.6h-0.6zM304.56 511.47h0.6v0.6h-0.6zM300.26 517.04h0.6v0.6h-0.6zM301.91 518.87h0.6v0.6h-0.6zM296.27 509.15h0.6v0.6h-0.6zM302.24 510.05h0.6v0.6h-0.6zM299.67 505.46h0.6v0.6h-0.6zM297.78 521.81h0.6v0.6h-0.6zM293.78 510h0.6v0.6h-0.6zM297.93 518.49h0.6v0.6h-0.6zM296.46 508.36h0.6v0.6h-0.6zM294.92 521.71h0.6v0.6h-0.6zM300.23 518.87h0.6v0.6h-0.6zM299.72 513.59h0.6v0.6h-0.6zM305.77 498.52h0.6v0.6h-0.6zM302.15 526.78h0.6v0.6h-0.6zM303.22 510.83h0.6v0.6h-0.6zM302.44 524.2h0.6v0.6h-0.6zM303.55 509.91h0.6v0.6h-0.6zM300.93 496.62h0.6v0.6h-0.6zM292.96 521.54h0.6v0.6h-0.6zM299.59 504.76h0.6v0.6h-0.6zM298.83 507.92h0.6v0.6h-0.6zM303.85 505.04h0.6v0.6h-0.6zM300.87 506.7h0.6v0.6h-0.6zM304.69 517.42h0.6v0.6h-0.6zM299.4 516.84h0.6v0.6h-0.6zM299.34 508.37h0.6v0.6h-0.6zM299.57 506.21h0.6v0.6h-0.6zM302.29 530.68h0.6v0.6h-0.6zM293.44 522.1h0.6v0.6h-0.6zM299.08 503.79h0.6v0.6h-0.6zM298.36 516.57h0.6v0.6h-0.6zM299.47 509.37h0.6v0.6h-0.6zM300.91 506.18h0.6v0.6h-0.6zM298.55 525.85h0.6v0.6h-0.6zM302.6 503.05h0.6v0.6h-0.6z"/>
<path fill="#1c6ae0" d="M298.25 501.6h0.8v0.8h-0.8zM296.64 501.72h0.8v0.8h-0.8zM297.72 499.89h0.8v0.8h-0.8zM299.1 501.01h0.8v0.8h-0.8zM296.87 498.8h0.8v0.8h-0.8zM297.11 500.46h0.8v0.8h-0.8zM297.42 504.24h0.8v0.8h-0.8zM298.17 498.96h0.8v0.8h-0.8zM297.13 504.24h0.8v0.8h-0.8zM297.06 503.5h0.8v0.8h-0.8zM297.14 497.62h0.8v0.8h-0.8zM297.25 499.84h0.8v0.8h-0.8zM296.88 503.9h0.8v0.8h-0.8zM296.65 498.31h0.8v0.8h-0.8zM297.34 504.03h0.8v0.8h-0.8zM297.7 502.55h0.8v0.8h-0.8zM296.72 505.69h0.8v0.8h-0.8zM297.47 495.97h0.8v0.8h-0.8zM297.33 501.09h0.8v0.8h-0.8zM298.41 498.44h0.8v0.8h-0.8zM297.45 498.3h0.8v0.8h-0.8zM296.23 495.7h0.8v0.8h-0.8zM297.62 504.27h0.8v0.8h-0.8zM297.04 496.42h0.8v0.8h-0.8zM299.11 503.99h0.8v0.8h-0.8zM297.35 497.88h0.8v0.8h-0.8zM297.59 502.4h0.8v0.8h-0.8zM297.45 506.48h0.8v0.8h-0.8zM297.44 505.45h0.8v0.8h-0.8zM297.66 501.31h0.8v0.8h-0.8zM296.73 499.08h0.8v0.8h-0.8zM297.64 501.94h0.8v0.8h-0.8zM296.61 501.37h0.8v0.8h-0.8zM298.35 501.34h0.8v0.8h-0.8zM298.3 503.71h0.8v0.8h-0.8zM299.19 503.51h0.8v0.8h-0.8zM297.91 504.69h0.8v0.8h-0.8zM298.83 498.44h0.8v0.8h-0.8zM297.35 500.92h0.8v0.8h-0.8zM297.92 500.6h0.8v0.8h-0.8zM298.26 502.4h0.8v0.8h-0.8zM297.3 503.43h0.8v0.8h-0.8zM299.19 504.04h0.8v0.8h-0.8zM297.62 496.15h0.8v0.8h-0.8zM297.86 498.91h0.8v0.8h-0.8zM296.92 498.17h0.8v0.8h-0.8zM297.46 500.48h0.8v0.8h-0.8zM297.18 499.31h0.8v0.8h-0.8zM298.06 498.24h0.8v0.8h-0.8zM299.87 505.72h0.8v0.8h-0.8zM297.45 495.96h0.8v0.8h-0.8zM298.62 503.36h0.8v0.8h-0.8zM297.14 507.47h0.8v0.8h-0.8zM297.38 501.26h0.8v0.8h-0.8zM297.09 498.58h0.8v0.8h-0.8zM296.92 499.5h0.8v0.8h-0.8zM296.69 500.95h0.8v0.8h-0.8zM298.08 500.93h0.8v0.8h-0.8zM297.49 503.75h0.8v0.8h-0.8zM297.45 498.11h0.8v0.8h-0.8zM296.51 501.32h0.8v0.8h-0.8zM297.27 502.06h0.8v0.8h-0.8zM297.34 500.2h0.8v0.8h-0.8zM298.37 501.61h0.8v0.8h-0.8zM296.71 498.38h0.8v0.8h-0.8zM296.93 500.35h0.8v0.8h-0.8zM298.89 501.62h0.8v0.8h-0.8zM297.54 500.8h0.8v0.8h-0.8zM298.02 503.27h0.8v0.8h-0.8zM297.28 502.61h0.8v0.8h-0.8zM296.45 501.39h0.8v0.8h-0.8zM297.45 503.57h0.8v0.8h-0.8zM296.9 507.4h0.8v0.8h-0.8zM296.83 497.54h0.8v0.8h-0.8zM297.35 504.17h0.8v0.8h-0.8zM297.32 500.68h0.8v0.8h-0.8zM298.48 502.29h0.8v0.8h-0.8zM298.25 503.76h0.8v0.8h-0.8zM298.18 503.16h0.8v0.8h-0.8zM298.28 504.06h0.8v0.8h-0.8zM298.12 499.62h0.8v0.8h-0.8zM296.26 501.09h0.8v0.8h-0.8zM296.64 506.93h0.8v0.8h-0.8zM296.62 502.82h0.8v0.8h-0.8zM298.14 502.39h0.8v0.8h-0.8zM298.7 504.73h0.8v0.8h-0.8zM296.82 502.03h0.8v0.8h-0.8zM296.42 500.36h0.8v0.8h-0.8zM297.98 505.18h0.8v0.8h-0.8zM297.94 502.09h0.8v0.8h-0.8zM296.64 504.56h0.8v0.8h-0.8zM297.64 496.88h0.8v0.8h-0.8zM297.63 504.2h0.8v0.8h-0.8zM296.56 503.32h0.8v0.8h-0.8zM297.71 503.2h0.8v0.8h-0.8zM296.2 500.68h0.8v0.8h-0.8zM297.97 504.44h0.8v0.8h-0.8zM298.23 497.98h0.8v0.8h-0.8zM298.13 497.34h0.8v0.8h-0.8zM297.11 497.48h0.8v0.8h-0.8zM296.53 495.7h0.8v0.8h-0.8zM296.76 499.78h0.8v0.8h-0.8zM296.67 498.85h0.8v0.8h-0.8zM296.69 502.3h0.8v0.8h-0.8zM297.57 502.85h0.8v0.8h-0.8zM297.76 499.18h0.8v0.8h-0.8zM295.74 503.55h0.8v0.8h-0.8zM297.81 495.57h0.8v0.8h-0.8zM299.12 498.02h0.8v0.8h-0.8zM296.39 501.8h0.8v0.8h-0.8zM297.48 504.24h0.8v0.8h-0.8zM298.33 498.91h0.8v0.8h-0.8zM297.46 506.34h0.8v0.8h-0.8zM297.44 505.46h0.8v0.8h-0.8zM297.79 499.94h0.8v0.8h-0.8zM298.82 496.33h0.8v0.8h-0.8zM296.11 501.23h0.8v0.8h-0.8zM297.54 500.72h0.8v0.8h-0.8zM298.09 504.59h0.8v0.8h-0.8zM296.26 503.13h0.8v0.8h-0.8zM298.44 501.28h0.8v0.8h-0.8zM297 499.98h0.8v0.8h-0.8zM297.58 502.55h0.8v0.8h-0.8zM297.23 499.94h0.8v0.8h-0.8zM296.83 506.66h0.8v0.8h-0.8zM297.12 505.92h0.8v0.8h-0.8zM296.86 502.34h0.8v0.8h-0.8zM297.93 500.76h0.8v0.8h-0.8zM297.18 499.62h0.8v0.8h-0.8zM297.16 507.09h0.8v0.8h-0.8zM298.58 502.45h0.8v0.8h-0.8zM297.78 499.16h0.8v0.8h-0.8zM297.77 496.25h0.8v0.8h-0.8zM297.85 501.19h0.8v0.8h-0.8zM298.3 504.04h0.8v0.8h-0.8zM296.71 497.11h0.8v0.8h-0.8zM296.67 497.27h0.8v0.8h-0.8zM297.43 501.67h0.8v0.8h-0.8zM299.7 501.36h0.8v0.8h-0.8zM298.17 504.99h0.8v0.8h-0.8zM297.96 497.2h0.8v0.8h-0.8zM297.38 504.11h0.8v0.8h-0.8zM298.95 499.56h0.8v0.8h-0.8zM296.8 503.36h0.8v0.8h-0.8zM297.97 500.62h0.8v0.8h-0.8zM297.48 498.5h0.8v0.8h-0.8zM297.74 500.26h0.8v0.8h-0.8zM296.91 502.39h0.8v0.8h-0.8zM297.92 501.1h0.8v0.8h-0.8zM296.99 501.93h0.8v0.8h-0.8z"/>
<path fill="#f23c3c" d="M313.99 518.87h0.75v0.75h-0.75zM315.74 517.44h0.75v0.75h-0.75zM309.99 519.44h0.75v0.75h-0.75zM314.34 520.79h0.75v0.75h-0.75zM317.66 514.33h0.75v0.75h-0.75zM315.25 521.57h0.75v0.75h-0.75zM311.1 519.65h0.75v0.75h-0.75zM314.99 514.31h0.75v0.75h-0.75zM319.69 519.01h0.75v0.75h-0.75zM309.16 521.43h0.75v0.75h-0.75zM319.75 515.18h0.75v0.75h-0.75zM315.9 515.78h0.75v0.75h-0.75zM308.93 519.64h0.75v0.75h-0.75zM314.95 519.78h0.75v0.75h-0.75zM312.99 520.65h0.75v0.75h-0.75zM313.91 520.95h0.75v0.75h-0.75zM310.93 519.67h0.75v0.75h-0.75zM313.92 521.92h0.75v0.75h-0.75zM313.91 521.8h0.75v0.75h-0.75zM317.62 521.14h0.75v0.75h-0.75zM320.2 515.37h0.75v0.75h-0.75zM311.91 521.45h0.75v0.75h-0.75zM321.34 522.77h0.75v0.75h-0.75zM311.83 517.95h0.75v0.75h-0.75zM313.18 519.61h0.75v0.75h-0.75zM310.81 522.54h0.75v0.75h-0.75zM311.8 520.28h0.75v0.75h-0.75zM310.27 523.52h0.75v0.75h-0.75zM318.35 517.9h0.75v0.75h-0.75zM308.67 516.26h0.75v0.75h-0.75zM312.52 521.2h0.75v0.75h-0.75zM309.25 520.67h0.75v0.75h-0.75zM313.26 514.05h0.75v0.75h-0.75zM318.13 516.83h0.75v0.75h-0.75zM312.93 516.82h0.75v0.75h-0.75zM317.12 517.91h0.75v0.75h-0.75zM316.68 518.64h0.75v0.75h-0.75zM314.29 520.66h0.75v0.75h-0.75zM313.41 520.11h0.75v0.75h-0.75zM313.88 517.05h0.75v0.75h-0.75zM314.42 515.82h0.75v0.75h-0.75zM311.56 515.95h0.75v0.75h-0.75zM313.9 516.23h0.75v0.75h-0.75zM315.35 518.66h0.75v0.75h-0.75zM309.08 520.49h0.75v0.75h-0.75zM318.63 522.09h0.75v0.75h-0.75zM312.89 523.99h0.75v0.75h-0.75zM316.01 515.37h0.75v0.75h-0.75zM315.81 519.72h0.75v0.75h-0.75zM311.79 523.63h0.75v0.75h-0.75zM311.33 519.07h0.75v0.75h-0.75zM311.47 515.27h0.75v0.75h-0.75zM309.25 517.26h0.75v0.75h-0.75zM313.25 524.04h0.75v0.75h-0.75zM317.49 521.63h0.75v0.75h-0.75zM318.68 523.56h0.75v0.75h-0.75zM313.11 523.12h0.75v0.75h-0.75zM314.86 522.99h0.75v0.75h-0.75zM314.47 519.67h0.75v0.75h-0.75zM317.22 517.74h0.75v0.75h-0.75zM315.66 514.67h0.75v0.75h-0.75zM317.46 518.14h0.75v0.75h-0.75zM321.21 523.94h0.75v0.75h-0.75zM311.7 517.13h0.75v0.75h-0.75zM316.2 521.85h0.75v0.75h-0.75zM319.21 517.22h0.75v0.75h-0.75zM315.3 519.36h0.75v0.75h-0.75zM314.97 517.43h0.75v0.75h-0.75zM322.48 519.7h0.75v0.75h-0.75zM310.07 515.46h0.75v0.75h-0.75zM315.74 520.89h0.75v0.75h-0.75zM320.44 520.22h0.75v0.75h-0.75zM315.82 518.21h0.75v0.75h-0.75zM318.72 518.53h0.75v0.75h-0.75zM314.05 523.21h0.75v0.75h-0.75zM318.7 516.31h0.75v0.75h-0.75zM314.98 519.18h0.75v0.75h-0.75zM312.86 521.27h0.75v0.75h-0.75zM313.78 514.21h0.75v0.75h-0.75zM313.87 519.62h0.75v0.75h-0.75zM314.12 522.38h0.75v0.75h-0.75zM312.33 517.31h0.75v0.75h-0.75zM315.19 522.38h0.75v0.75h-0.75zM316.02 516.15h0.75v0.75h-0.75zM316.9 521.5h0.75v0.75h-0.75zM318.67 516.03h0.75v0.75h-0.75zM312.08 522.61h0.75v0.75h-0.75zM311.67 521.27h0.75v0.75h-0.75zM314.92 519.95h0.75v0.75h-0.75zM311.69 521.35h0.75v0.75h-0.75zM314.69 518.8h0.75v0.75h-0.75zM312.7 522.69h0.75v0.75h-0.75zM313.62 519.36h0.75v0.75h-0.75zM311.81 518.48h0.75v0.75h-0.75zM316.96 521.28h0.75v0.75h-0.75zM313.1 519.21h0.75v0.75h-0.75zM310.83 520.56h0.75v0.75h-0.75zM316.23 520.2h0.75v0.75h-0.75zM312.41 517.2h0.75v0.75h-0.75zM315.92 519.17h0.75v0.75h-0.75zM315.73 520.76h0.75v0.75h-0.75zM317.37 515.43h0.75v0.75h-0.75zM315.04 523.12h0.75v0.75h-0.75zM317.54 518.4h0.75v0.75h-0.75zM316.77 518.47h0.75v0.75h-0.75zM309.54 519.4h0.75v0.75h-0.75zM317.92 521.86h0.75v0.75h-0.75zM311.81 522.81h0.75v0.75h-0.75zM312.35 520.35h0.75v0.75h-0.75zM312.93 520.18h0.75v0.75h-0.75zM315.25 517.83h0.75v0.75h-0.75zM315.88 523.93h0.75v0.75h-0.75zM318.05 517.03h0.75v0.75h-0.75zM313.67 516.57h0.75v0.75h-0.75zM315.02 520.1h0.75v0.75h-0.75zM318.19 517.36h0.75v0.75h-0.75zM313.4 515.5h0.75v0.75h-0.75zM312.7 521.91h0.75v0.75h-0.75zM322.87 520.75h0.75v0.75h-0.75zM312.57 515.86h0.75v0.75h-0.75zM312.37 516.8h0.75v0.75h-0.75zM308.26 518.78h0.75v0.75h-0.75zM316.97 514.04h0.75v0.75h-0.75zM314.05 519.73h0.75v0.75h-0.75zM311.85 521.37h0.75v0.75h-0.75zM313.77 516.25h0.75v0.75h-0.75zM315.05 521.47h0.75v0.75h-0.75zM313.94 519.57h0.75v0.75h-0.75zM317.44 521.72h0.75v0.75h-0.75zM314.95 520.65h0.75v0.75h-0.75zM314.08 524.1h0.75v0.75h-0.75zM315.6 518.75h0.75v0.75h-0.75zM317.53 518.28h0.75v0.75h-0.75zM315.43 523.37h0.75v0.75h-0.75zM308.99 520.18h0.75v0.75h-0.75zM322.95 521.72h0.75v0.75h-0.75zM313.74 520.52h0.75v0.75h-0.75zM312.92 518.04h0.75v0.75h-0.75zM309.9 521.09h0.75v0.75h-0.75zM316.66 514.68h0.75v0.75h-0.75zM320.15 524.89h0.75v0.75h-0.75zM319.66 516.74h0.75v0.75h-0.75zM309.23 518.98h0.75v0.75h-0.75zM312.63 517.49h0.75v0.75h-0.75zM315.07 520.05h0.75v0.75h-0.75zM312.51 521.18h0.75v0.75h-0.75zM316.35 522.9h0.75v0.75h-0.75zM311.19 519.72h0.75v0.75h-0.75zM320.27 518.8h0.75v0.75h-0.75zM313.7 516.76h0.75v0.75h-0.75zM313.79 522h0.75v0.75h-0.75zM312.1 516.17h0.75v0.75h-0.75zM316.12 523.45h0.75v0.75h-0.75zM318.21 518.73h0.75v0.75h-0.75zM310.1 516.39h0.75v0.75h-0.75zM315 524.98h0.75v0.75h-0.75zM317.69 519.38h0.75v0.75h-0.75zM312.39 518.97h0.75v0.75h-0.75zM309.46 522.86h0.75v0.75h-0.75zM316.53 519.12h0.75v0.75h-0.75zM312.79 523.51h0.75v0.75h-0.75zM316.26 516.5h0.75v0.75h-0.75zM316.64 516.22h0.75v0.75h-0.75zM316.53 515.83h0.75v0.75h-0.75zM313.69 516.92h0.75v0.75h-0.75zM315.12 518.56h0.75v0.75h-0.75zM314.85 522.16h0.75v0.75h-0.75zM317.38 515.26h0.75v0.75h-0.75zM313.17 516.21h0.75v0.75h-0.75zM315.88 517.33h0.75v0.75h-0.75zM312.27 515.78h0.75v0.75h-0.75zM316.84 517.92h0.75v0.75h-0.75zM310.27 515.94h0.75v0.75h-0.75zM312.53 524.83h0.75v0.75h-0.75zM313.94 514.55h0.75v0.75h-0.75zM317.47 522.43h0.75v0.75h-0.75zM308.38 525.07h0.75v0.75h-0.75zM313.04 524.83h0.75v0.75h-0.75zM309.96 515.16h0.75v0.75h-0.75zM319.67 521.23h0.75v0.75h-0.75zM317.42 517.36h0.75v0.75h-0.75zM313.11 517.93h0.75v0.75h-0.75zM309.52 522.81h0.75v0.75h-0.75zM315.01 516.28h0.75v0.75h-0.75zM312.76 518.91h0.75v0.75h-0.75zM313.21 519.04h0.75v0.75h-0.75zM319.01 521.19h0.75v0.75h-0.75zM312.82 517.52h0.75v0.75h-0.75zM315.6 519.74h0.75v0.75h-0.75zM314.07 523.03h0.75v0.75h-0.75zM313.68 522.47h0.75v0.75h-0.75zM319.88 517.88h0.75v0.75h-0.75zM315.82 524.41h0.75v0.75h-0.75zM321.56 519.63h0.75v0.75h-0.75zM310.28 517.22h0.75v0.75h-0.75zM310.98 522.36h0.75v0.75h-0.75zM317.36 519.17h0.75v0.75h-0.75zM316.99 519.63h0.75v0.75h-0.75zM313.99 522.81h0.75v0.75h-0.75zM319.32 521.42h0.75v0.75h-0.75zM313.81 518.74h0.75v0.75h-0.75zM312.18 523.43h0.75v0.75h-0.75zM312.55 515.23h0.75v0.75h-0.75zM312.51 516.45h0.75v0.75h-0.75zM314.61 517.11h0.75v0.75h-0.75zM311.68 524.07h0.75v0.75h-0.75zM316.33 517.14h0.75v0.75h-0.75zM314.27 522.59h0.75v0.75h-0.75zM314.57 517.52h0.75v0.75h-0.75zM317.27 519.51h0.75v0.75h-0.75zM313.81 514.69h0.75v0.75h-0.75zM314.56 515.97h0.75v0.75h-0.75zM318.19 516.4h0.75v0.75h-0.75zM316.02 518.1h0.75v0.75h-0.75zM312.91 515.38h0.75v0.75h-0.75zM317.48 516.97h0.75v0.75h-0.75zM310.12 520.31h0.75v0.75h-0.75zM315.11 518.06h0.75v0.75h-0.75zM314.78 521.73h0.75v0.75h-0.75zM314.14 519.43h0.75v0.75h-0.75zM314.87 517.37h0.75v0.75h-0.75zM316.08 519.1h0.75v0.75h-0.75zM314.84 514.25h0.75v0.75h-0.75zM309.48 522.01h0.75v0.75h-0.75zM312.51 521.22h0.75v0.75h-0.75zM314.03 517.85h0.75v0.75h-0.75zM311.38 515.16h0.75v0.75h-0.75zM314.08 524.91h0.75v0.75h-0.75zM312.22 518.73h0.75v0.75h-0.75zM309.49 518.04h0.75v0.75h-0.75zM310.59 521.78h0.75v0.75h-0.75zM312.09 516.85h0.75v0.75h-0.75zM312.53 522.44h0.75v0.75h-0.75zM308.72 524.98h0.75v0.75h-0.75zM317.97 520.58h0.75v0.75h-0.75zM310.86 521.44h0.75v0.75h-0.75zM319.49 523.26h0.75v0.75h-0.75zM313.22 521.39h0.75v0.75h-0.75zM317.31 518.6h0.75v0.75h-0.75zM315.27 521.64h0.75v0.75h-0.75zM314.36 516.06h0.75v0.75h-0.75zM318.62 518.66h0.75v0.75h-0.75zM314.6 523.78h0.75v0.75h-0.75zM318.4 519.95h0.75v0.75h-0.75zM314.95 518.57h0.75v0.75h-0.75zM312.02 516.42h0.75v0.75h-0.75zM313.54 520.11h0.75v0.75h-0.75zM311.44 522.01h0.75v0.75h-0.75zM319.66 524.35h0.75v0.75h-0.75zM312.59 517.16h0.75v0.75h-0.75zM311.84 520.16h0.75v0.75h-0.75zM308.96 517.24h0.75v0.75h-0.75zM314.16 519.23h0.75v0.75h-0.75zM314.08 515.59h0.75v0.75h-0.75zM313.73 520.86h0.75v0.75h-0.75zM313.35 520.16h0.75v0.75h-0.75zM313.49 518.79h0.75v0.75h-0.75zM313.77 522.02h0.75v0.75h-0.75zM314.04 523.43h0.75v0.75h-0.75zM315.36 520.31h0.75v0.75h-0.75zM319.52 521.43h0.75v0.75h-0.75zM310.27 518h0.75v0.75h-0.75zM316.52 519.35h0.75v0.75h-0.75zM318.5 521.16h0.75v0.75h-0.75zM311.23 517.64h0.75v0.75h-0.75zM316.21 522.16h0.75v0.75h-0.75zM318.26 521.04h0.75v0.75h-0.75zM312.3 522.75h0.75v0.75h-0.75zM310.98 515.48h0.75v0.75h-0.75zM313.7 523.45h0.75v0.75h-0.75zM316.19 520.04h0.75v0.75h-0.75zM316.95 520.71h0.75v0.75h-0.75zM314.38 519.1h0.75v0.75h-0.75zM313.15 515.31h0.75v0.75h-0.75zM315.89 516.99h0.75v0.75h-0.75zM319.11 517.79h0.75v0.75h-0.75zM318.16 521.73h0.75v0.75h-0.75zM312.08 522.69h0.75v0.75h-0.75zM308.75 521.91h0.75v0.75h-0.75zM315.01 515.19h0.75v0.75h-0.75zM313.92 522.37h0.75v0.75h-0.75zM312.94 516.41h0.75v0.75h-0.75zM315.35 517.48h0.75v0.75h-0.75zM311.37 519.8h0.75v0.75h-0.75zM318.7 518.6h0.75v0.75h-0.75zM319.64 519.76h0.75v0.75h-0.75zM314.11 516.74h0.75v0.75h-0.75zM313.47 516.38h0.75v0.75h-0.75zM314.84 522.1h0.75v0.75h-0.75zM314 515.72h0.75v0.75h-0.75zM317.99 525.09h0.75v0.75h-0.75zM314.06 520.77h0.75v0.75h-0.75zM312.98 520.07h0.75v0.75h-0.75zM314.94 520.75h0.75v0.75h-0.75zM317.11 516.08h0.75v0.75h-0.75zM313.85 517.24h0.75v0.75h-0.75zM310.13 519.88h0.75v0.75h-0.75zM308.85 521.51h0.75v0.75h-0.75zM318.55 521.86h0.75v0.75h-0.75zM312.37 517.28h0.75v0.75h-0.75zM317.29 523.68h0.75v0.75h-0.75zM309.85 518.44h0.75v0.75h-0.75zM314.47 519.88h0.75v0.75h-0.75zM315.67 520.09h0.75v0.75h-0.75zM311.95 520.6h0.75v0.75h-0.75zM317.58 519.13h0.75v0.75h-0.75zM313.98 520.77h0.75v0.75h-0.75zM310.87 520.62h0.75v0.75h-0.75zM311.08 523.16h0.75v0.75h-0.75zM312.7 518.7h0.75v0.75h-0.75zM312.46 517.71h0.75v0.75h-0.75zM319.44 519.04h0.75v0.75h-0.75zM315.48 520.54h0.75v0.75h-0.75zM314.12 521.42h0.75v0.75h-0.75zM317.05 515.8h0.75v0.75h-0.75zM316.21 518.34h0.75v0.75h-0.75zM309.51 520.21h0.75v0.75h-0.75zM310.12 521.39h0.75v0.75h-0.75zM316.42 522.69h0.75v0.75h-0.75zM311.17 520.09h0.75v0.75h-0.75zM309.71 522.27h0.75v0.75h-0.75zM317.98 517.04h0.75v0.75h-0.75zM314.17 514.72h0.75v0.75h-0.75zM313.77 514.64h0.75v0.75h-0.75zM313.36 514.06h0.75v0.75h-0.75zM313.95 517.46h0.75v0.75h-0.75zM319.29 517.73h0.75v0.75h-0.75zM314.88 519.01h0.75v0.75h-0.75zM320.06 516.58h0.75v0.75h-0.75zM318.45 518.21h0.75v0.75h-0.75zM316.52 516.87h0.75v0.75h-0.75zM312.93 522.68h0.75v0.75h-0.75zM312.14 523.53h0.75v0.75h-0.75zM312.66 516.88h0.75v0.75h-0.75zM312.13 515.72h0.75v0.75h-0.75zM314.19 519.33h0.75v0.75h-0.75zM318.79 516.88h0.75v0.75h-0.75zM310.96 524.29h0.75v0.75h-0.75zM312.28 516.84h0.75v0.75h-0.75zM310.39 520.21h0.75v0.75h-0.75zM309.86 517.36h0.75v0.75h-0.75zM315.25 517.14h0.75v0.75h-0.75zM314.06 518.68h0.75v0.75h-0.75zM313.4 517.94h0.75v0.75h-0.75zM313.67 519.63h0.75v0.75h-0.75zM313.8 516.41h0.75v0.75h-0.75zM317.72 516.42h0.75v0.75h-0.75zM312.9 521.83h0.75v0.75h-0.75zM319.84 521.24h0.75v0.75h-0.75zM309.91 518.61h0.75v0.75h-0.75zM316.84 520.86h0.75v0.75h-0.75zM312.83 515.62h0.75v0.75h-0.75zM313.35 515.88h0.75v0.75h-0.75zM314.74 522.79h0.75v0.75h-0.75zM319.22 520.97h0.75v0.75h-0.75zM314.12 523.48h0.75v0.75h-0.75zM318.85 518.8h0.75v0.75h-0.75zM320.38 522.64h0.75v0.75h-0.75zM315.67 517.39h0.75v0.75h-0.75zM320.35 517.85h0.75v0.75h-0.75zM311.71 519.32h0.75v0.75h-0.75zM316.33 519.58h0.75v0.75h-0.75zM311.17 519.59h0.75v0.75h-0.75zM310.39 524.78h0.75v0.75h-0.75zM315.49 517.03h0.75v0.75h-0.75zM316.24 519.09h0.75v0.75h-0.75zM315.68 524.82h0.75v0.75h-0.75zM315.07 521.82h0.75v0.75h-0.75zM319.5 517.58h0.75v0.75h-0.75zM308.64 516.46h0.75v0.75h-0.75zM315.04 524.59h0.75v0.75h-0.75zM315.13 521.02h0.75v0.75h-0.75zM313.8 519.7h0.75v0.75h-0.75zM311.48 524.98h0.75v0.75h-0.75zM318.03 514.96h0.75v0.75h-0.75zM315.36 522.19h0.75v0.75h-0.75zM315.11 519.99h0.75v0.75h-0.75zM312.7 523.98h0.75v0.75h-0.75zM318.98 518.38h0.75v0.75h-0.75zM316.14 524.49h0.75v0.75h-0.75z"/>
<path fill="#f27a7a" opacity="0.7" d="M313.73 523.65h0.6v0.6h-0.6zM304.99 507.78h0.6v0.6h-0.6zM327.58 531.51h0.6v0.6h-0.6zM313.74 518.39h0.6v0.6h-0.6zM321.99 526.55h0.6v0.6h-0.6zM318.1 518.69h0.6v0.6h-0.6zM320.96 506.69h0.6v0.6h-0.6zM318.54 516.53h0.6v0.6h-0.6zM313.38 514.95h0.6v0.6h-0.6zM315.47 507.94h0.6v0.6h-0.6zM317.48 529.49h0.6v0.6h-0.6zM304.52 515.45h0.6v0.6h-0.6zM312.91 511.58h0.6v0.6h-0.6zM312.96 516.04h0.6v0.6h-0.6zM305.04 517.5h0.6v0.6h-0.6zM317 511.89h0.6v0.6h-0.6zM321 520.23h0.6v0.6h-0.6zM318.92 513.01h0.6v0.6h-0.6zM312.69 518.09h0.6v0.6h-0.6zM317.05 516.44h0.6v0.6h-0.6zM316.38 531.01h0.6v0.6h-0.6zM315.65 516.64h0.6v0.6h-0.6zM319.2 507.54h0.6v0.6h-0.6zM312.62 516.43h0.6v0.6h-0.6zM320.29 519.28h0.6v0.6h-0.6z"/>
<rect x="287.8" y="491.3" width="43.4" height="41.7" rx="1.2" fill="none" stroke="#555" stroke-width="0.8"/>
<path d="M287.8 495.93h1.3M287.8 500.57h1.3M287.8 505.2h1.3M287.8 509.83h1.3M287.8 514.47h1.3M287.8 519.1h1.3M287.8 523.73h1.3M287.8 528.37h1.3M292.62 533v-1.3M297.44 533v-1.3M302.27 533v-1.3M307.09 533v-1.3M311.91 533v-1.3M316.73 533v-1.3M321.56 533v-1.3M326.38 533v-1.3" stroke="#555" stroke-width="0.5" fill="none"/>
<rect x="293.8" y="494.4" width="8.6" height="14" fill="none" stroke="#333" stroke-width="0.75"/>
<rect x="307.8" y="513.3" width="19.4" height="13.3" fill="none" stroke="#333" stroke-width="0.75"/>
<text x="305.6" y="502.91" font-size="7.8" textLength="12.2" lengthAdjust="spacingAndGlyphs">13.3</text>
<text x="298.1" y="531.81" font-size="7.8" text-anchor="middle" textLength="12.8" lengthAdjust="spacingAndGlyphs">30.9</text>
<text x="264.7" y="543.86" font-size="8.5" text-anchor="middle" textLength="28.6" lengthAdjust="spacingAndGlyphs">Isotype</text>
<text x="311.6" y="543.86" font-size="8.5" text-anchor="middle" textLength="27" lengthAdjust="spacingAndGlyphs">αPD-L1</text>
<path fill="#a0a0a0" d="M250.06 574.17h0.7v0.7h-0.7zM251.51 580.2h0.7v0.7h-0.7zM251.81 573.06h0.7v0.7h-0.7zM253.76 581.54h0.7v0.7h-0.7zM251.63 571.77h0.7v0.7h-0.7zM252.09 578.4h0.7v0.7h-0.7zM251.19 570.1h0.7v0.7h-0.7zM252.63 572.17h0.7v0.7h-0.7zM250.73 569.45h0.7v0.7h-0.7zM251.15 575.17h0.7v0.7h-0.7zM251.05 579.6h0.7v0.7h-0.7zM250.45 578.54h0.7v0.7h-0.7zM251.6 569.42h0.7v0.7h-0.7zM251.58 571.85h0.7v0.7h-0.7zM251.72 571.32h0.7v0.7h-0.7zM249.74 574.94h0.7v0.7h-0.7zM249.89 575.53h0.7v0.7h-0.7zM253.42 570.78h0.7v0.7h-0.7zM251.6 571.14h0.7v0.7h-0.7zM250.81 575.12h0.7v0.7h-0.7zM251.16 569.55h0.7v0.7h-0.7zM251.1 573.53h0.7v0.7h-0.7zM250.42 575.29h0.7v0.7h-0.7zM251.34 575.5h0.7v0.7h-0.7zM250.15 571.56h0.7v0.7h-0.7zM250.85 578.76h0.7v0.7h-0.7zM252.7 574.87h0.7v0.7h-0.7zM249.97 573.13h0.7v0.7h-0.7zM252.05 571.69h0.7v0.7h-0.7zM250.33 577.25h0.7v0.7h-0.7zM250.5 572.44h0.7v0.7h-0.7zM252.36 565.35h0.7v0.7h-0.7zM250.29 580.21h0.7v0.7h-0.7zM251.62 573.7h0.7v0.7h-0.7zM250.75 574.1h0.7v0.7h-0.7zM252.77 574.45h0.7v0.7h-0.7zM251.17 576.61h0.7v0.7h-0.7zM250.9 570.68h0.7v0.7h-0.7zM251.5 569.63h0.7v0.7h-0.7zM251.32 572.47h0.7v0.7h-0.7zM250.86 563.1h0.7v0.7h-0.7zM251.77 567h0.7v0.7h-0.7zM250.84 576.41h0.7v0.7h-0.7zM251.16 572.77h0.7v0.7h-0.7zM251.92 569.46h0.7v0.7h-0.7zM251.13 571.55h0.7v0.7h-0.7zM250.68 579.45h0.7v0.7h-0.7zM251.17 571.15h0.7v0.7h-0.7zM250.32 571.09h0.7v0.7h-0.7zM251.95 576.67h0.7v0.7h-0.7zM250.17 572.96h0.7v0.7h-0.7zM250 577.46h0.7v0.7h-0.7zM252.28 578.71h0.7v0.7h-0.7zM250.44 574.25h0.7v0.7h-0.7zM251.81 573.77h0.7v0.7h-0.7zM251.77 572.63h0.7v0.7h-0.7zM250.38 573.54h0.7v0.7h-0.7zM252 568.17h0.7v0.7h-0.7zM250.63 571.45h0.7v0.7h-0.7zM251.59 568.73h0.7v0.7h-0.7zM251.87 575.51h0.7v0.7h-0.7zM252.39 569.56h0.7v0.7h-0.7zM250.59 574.31h0.7v0.7h-0.7zM250.52 575.39h0.7v0.7h-0.7zM253.09 583.19h0.7v0.7h-0.7zM250.92 577.86h0.7v0.7h-0.7zM251.8 572.54h0.7v0.7h-0.7zM249.68 577h0.7v0.7h-0.7zM252.02 579.42h0.7v0.7h-0.7zM249.64 563.42h0.7v0.7h-0.7z"/>
<path fill="#b8b8b8" opacity="0.8" d="M251.88 573.21h0.6v0.6h-0.6zM254.4 570.72h0.6v0.6h-0.6zM248.67 571.57h0.6v0.6h-0.6zM252.55 568.56h0.6v0.6h-0.6zM257.14 559.33h0.6v0.6h-0.6zM251.24 559.8h0.6v0.6h-0.6zM253.46 568.4h0.6v0.6h-0.6zM253.64 581.78h0.6v0.6h-0.6zM247.45 569.24h0.6v0.6h-0.6zM252.11 576.81h0.6v0.6h-0.6zM253.05 565.22h0.6v0.6h-0.6zM258.05 568.75h0.6v0.6h-0.6zM248.21 566.64h0.6v0.6h-0.6zM252.96 569.48h0.6v0.6h-0.6zM252.53 570.89h0.6v0.6h-0.6zM253.13 575.6h0.6v0.6h-0.6zM254.62 565.38h0.6v0.6h-0.6zM254.66 566.86h0.6v0.6h-0.6zM249.26 567.39h0.6v0.6h-0.6zM254.88 564.67h0.6v0.6h-0.6zM253.57 574.56h0.6v0.6h-0.6zM252.86 560.81h0.6v0.6h-0.6zM257.87 550.57h0.6v0.6h-0.6zM250.15 562.28h0.6v0.6h-0.6zM252.59 556.74h0.6v0.6h-0.6zM252.32 564.95h0.6v0.6h-0.6zM250.04 566.1h0.6v0.6h-0.6zM256.24 563.95h0.6v0.6h-0.6zM251.14 563.72h0.6v0.6h-0.6zM253.81 568.81h0.6v0.6h-0.6zM251.69 569.37h0.6v0.6h-0.6zM253.11 557.02h0.6v0.6h-0.6zM252.27 565.15h0.6v0.6h-0.6zM254.49 576.64h0.6v0.6h-0.6zM254.03 577.65h0.6v0.6h-0.6zM252.62 571.25h0.6v0.6h-0.6zM252.98 571.64h0.6v0.6h-0.6zM253.67 568.48h0.6v0.6h-0.6zM254.27 569.54h0.6v0.6h-0.6zM250.02 578.7h0.6v0.6h-0.6zM251.11 574.52h0.6v0.6h-0.6zM254.23 565.96h0.6v0.6h-0.6zM256.78 550.98h0.6v0.6h-0.6zM255.88 566.1h0.6v0.6h-0.6zM248.88 575.53h0.6v0.6h-0.6z"/>
<path fill="#1c6ae0" d="M251.64 556.95h0.8v0.8h-0.8zM250.55 558.62h0.8v0.8h-0.8zM252.44 562.27h0.8v0.8h-0.8zM250.47 552.55h0.8v0.8h-0.8zM252.46 561.21h0.8v0.8h-0.8zM251.77 553.58h0.8v0.8h-0.8zM250.81 555.57h0.8v0.8h-0.8zM251.16 559.7h0.8v0.8h-0.8zM251.45 559.85h0.8v0.8h-0.8zM251.63 557.58h0.8v0.8h-0.8zM251.27 556.53h0.8v0.8h-0.8zM252.35 558.41h0.8v0.8h-0.8zM250.35 560.74h0.8v0.8h-0.8zM250.65 557.74h0.8v0.8h-0.8zM251.27 561.15h0.8v0.8h-0.8zM250.34 560.87h0.8v0.8h-0.8zM251.23 558.31h0.8v0.8h-0.8zM250.88 562.75h0.8v0.8h-0.8zM250.83 553.44h0.8v0.8h-0.8zM251.82 559.13h0.8v0.8h-0.8zM251.12 552.23h0.8v0.8h-0.8zM250.48 556h0.8v0.8h-0.8zM250.5 562.43h0.8v0.8h-0.8zM250.02 558.79h0.8v0.8h-0.8zM250.87 559.55h0.8v0.8h-0.8zM251.8 556h0.8v0.8h-0.8zM251.37 554.38h0.8v0.8h-0.8zM251.07 559.07h0.8v0.8h-0.8zM251.2 557.14h0.8v0.8h-0.8zM251.92 552.01h0.8v0.8h-0.8zM250.23 553.64h0.8v0.8h-0.8zM251.84 561.49h0.8v0.8h-0.8zM251.45 556.94h0.8v0.8h-0.8zM251.81 555.66h0.8v0.8h-0.8zM251.49 555.75h0.8v0.8h-0.8zM249.98 559.22h0.8v0.8h-0.8zM250.67 556.94h0.8v0.8h-0.8zM250.55 553.21h0.8v0.8h-0.8zM251.84 556.75h0.8v0.8h-0.8zM251.8 559.99h0.8v0.8h-0.8zM251.41 556.99h0.8v0.8h-0.8zM251.53 558.27h0.8v0.8h-0.8zM250.76 553.84h0.8v0.8h-0.8zM250.78 561.08h0.8v0.8h-0.8zM250.54 552.79h0.8v0.8h-0.8zM252.79 557.24h0.8v0.8h-0.8zM252.26 558.9h0.8v0.8h-0.8zM251.16 557.28h0.8v0.8h-0.8zM250.62 556.42h0.8v0.8h-0.8zM251.95 558.5h0.8v0.8h-0.8zM250.23 560.22h0.8v0.8h-0.8zM250.09 557.85h0.8v0.8h-0.8zM251.27 557.79h0.8v0.8h-0.8zM250.87 555.94h0.8v0.8h-0.8zM250.42 551.49h0.8v0.8h-0.8zM251.67 557.47h0.8v0.8h-0.8zM250.72 558.21h0.8v0.8h-0.8zM250.65 558.71h0.8v0.8h-0.8zM250.72 553.51h0.8v0.8h-0.8zM251.42 562.8h0.8v0.8h-0.8zM252.39 558.91h0.8v0.8h-0.8zM251.13 553.81h0.8v0.8h-0.8zM251.27 555.46h0.8v0.8h-0.8zM252.47 558.04h0.8v0.8h-0.8zM250.56 557.45h0.8v0.8h-0.8zM251.79 557.78h0.8v0.8h-0.8zM251.96 555.09h0.8v0.8h-0.8zM251.21 554.96h0.8v0.8h-0.8zM250.75 555.39h0.8v0.8h-0.8zM251.73 562.82h0.8v0.8h-0.8zM250.86 557.77h0.8v0.8h-0.8zM252.16 558.91h0.8v0.8h-0.8zM250.96 555.26h0.8v0.8h-0.8zM252.03 560.25h0.8v0.8h-0.8zM250.85 556.17h0.8v0.8h-0.8zM251.15 562.93h0.8v0.8h-0.8zM250.05 562.38h0.8v0.8h-0.8zM251.42 552.59h0.8v0.8h-0.8zM251.14 556.59h0.8v0.8h-0.8zM252.46 556.23h0.8v0.8h-0.8zM251.29 551.35h0.8v0.8h-0.8zM251.35 553.43h0.8v0.8h-0.8zM251.84 557.43h0.8v0.8h-0.8zM251.43 555.97h0.8v0.8h-0.8zM250.79 556.02h0.8v0.8h-0.8zM252.18 561.2h0.8v0.8h-0.8zM250.62 560.3h0.8v0.8h-0.8zM251.25 553.15h0.8v0.8h-0.8zM252.15 555.79h0.8v0.8h-0.8zM250.98 554.22h0.8v0.8h-0.8zM250.94 558.37h0.8v0.8h-0.8zM252.5 555.73h0.8v0.8h-0.8zM251.46 559.6h0.8v0.8h-0.8zM252.16 553.67h0.8v0.8h-0.8zM250.47 557.74h0.8v0.8h-0.8zM250.54 554.73h0.8v0.8h-0.8zM250.86 559.44h0.8v0.8h-0.8zM251.31 553.86h0.8v0.8h-0.8zM250.09 556.21h0.8v0.8h-0.8zM251.47 552.83h0.8v0.8h-0.8zM251.48 554.9h0.8v0.8h-0.8zM250.96 558.81h0.8v0.8h-0.8zM249.84 556.94h0.8v0.8h-0.8zM250.94 555.08h0.8v0.8h-0.8zM250.69 558.92h0.8v0.8h-0.8zM251.73 560.75h0.8v0.8h-0.8zM250.53 554.7h0.8v0.8h-0.8zM250.25 554.79h0.8v0.8h-0.8zM251.9 553.78h0.8v0.8h-0.8zM251.57 553.54h0.8v0.8h-0.8zM251.4 556.84h0.8v0.8h-0.8zM250.95 554.12h0.8v0.8h-0.8zM250.77 555.57h0.8v0.8h-0.8zM251.16 553.8h0.8v0.8h-0.8zM250.87 555.83h0.8v0.8h-0.8zM250.91 557.64h0.8v0.8h-0.8zM250.75 560.28h0.8v0.8h-0.8zM251.95 555.01h0.8v0.8h-0.8zM250.89 558.22h0.8v0.8h-0.8zM251.93 555.06h0.8v0.8h-0.8zM252.17 557.52h0.8v0.8h-0.8zM252.12 553.58h0.8v0.8h-0.8zM250.97 556.08h0.8v0.8h-0.8zM252.02 551.39h0.8v0.8h-0.8zM251.05 559.19h0.8v0.8h-0.8zM251.56 557.1h0.8v0.8h-0.8zM251.5 556.61h0.8v0.8h-0.8zM251.56 561.43h0.8v0.8h-0.8zM250.54 559.38h0.8v0.8h-0.8zM250.01 553.8h0.8v0.8h-0.8zM251.91 561.69h0.8v0.8h-0.8zM250.84 554.93h0.8v0.8h-0.8zM250.9 562.59h0.8v0.8h-0.8zM251.79 556.69h0.8v0.8h-0.8zM251.07 559.83h0.8v0.8h-0.8zM250.23 561.11h0.8v0.8h-0.8zM251.86 560.1h0.8v0.8h-0.8zM251.56 558.18h0.8v0.8h-0.8zM251.07 557.31h0.8v0.8h-0.8zM251.07 553.19h0.8v0.8h-0.8zM249.91 551.46h0.8v0.8h-0.8zM251.02 561.22h0.8v0.8h-0.8zM250.68 556.23h0.8v0.8h-0.8zM250.45 553.62h0.8v0.8h-0.8zM250.98 553.53h0.8v0.8h-0.8zM252.02 553.69h0.8v0.8h-0.8zM252.02 556.55h0.8v0.8h-0.8zM249.24 553.64h0.8v0.8h-0.8zM250.41 558.63h0.8v0.8h-0.8zM251.05 552.41h0.8v0.8h-0.8z"/>
<path fill="#f23c3c" d="M271.15 580.32h0.75v0.75h-0.75zM266.93 577.47h0.75v0.75h-0.75zM269.29 577.01h0.75v0.75h-0.75zM262.97 573.6h0.75v0.75h-0.75zM273.39 578.45h0.75v0.75h-0.75zM264.72 574.03h0.75v0.75h-0.75zM274.38 577.55h0.75v0.75h-0.75zM266.5 571.95h0.75v0.75h-0.75zM272.58 578.02h0.75v0.75h-0.75zM269.54 573.8h0.75v0.75h-0.75zM266.75 572.02h0.75v0.75h-0.75zM262.05 575.91h0.75v0.75h-0.75zM267.74 572.49h0.75v0.75h-0.75zM269.29 575.97h0.75v0.75h-0.75zM267.63 580.03h0.75v0.75h-0.75zM268.21 578.58h0.75v0.75h-0.75zM266.29 576.89h0.75v0.75h-0.75zM268.75 576.32h0.75v0.75h-0.75zM273.57 574.77h0.75v0.75h-0.75zM271.43 576.47h0.75v0.75h-0.75zM268.49 575.18h0.75v0.75h-0.75zM267.38 573.18h0.75v0.75h-0.75zM269.55 577.29h0.75v0.75h-0.75zM271.79 572.26h0.75v0.75h-0.75zM268.05 576.12h0.75v0.75h-0.75zM268.8 572.31h0.75v0.75h-0.75zM263.73 576.52h0.75v0.75h-0.75zM266.11 574.61h0.75v0.75h-0.75zM270.45 575.61h0.75v0.75h-0.75zM270.52 575.01h0.75v0.75h-0.75zM269.92 579.3h0.75v0.75h-0.75zM267.71 578.45h0.75v0.75h-0.75zM269.06 570.41h0.75v0.75h-0.75zM268.49 572.03h0.75v0.75h-0.75zM264.86 573.53h0.75v0.75h-0.75zM268.7 580.26h0.75v0.75h-0.75zM263.06 576.71h0.75v0.75h-0.75zM269.13 571.09h0.75v0.75h-0.75zM263.16 579.71h0.75v0.75h-0.75zM268.38 578.22h0.75v0.75h-0.75zM263.85 574.25h0.75v0.75h-0.75zM267.91 574.03h0.75v0.75h-0.75zM271 579.64h0.75v0.75h-0.75zM266.59 573.22h0.75v0.75h-0.75zM265.6 576.84h0.75v0.75h-0.75zM267.35 574.12h0.75v0.75h-0.75zM261.91 578.55h0.75v0.75h-0.75zM264.43 570.55h0.75v0.75h-0.75zM268.94 574.87h0.75v0.75h-0.75zM268.09 575.96h0.75v0.75h-0.75zM263.7 572.23h0.75v0.75h-0.75zM265.19 576.05h0.75v0.75h-0.75zM264.11 576h0.75v0.75h-0.75zM266.23 579.13h0.75v0.75h-0.75zM263.26 576.26h0.75v0.75h-0.75zM268.21 575.69h0.75v0.75h-0.75zM269.66 575.46h0.75v0.75h-0.75zM267.12 576.94h0.75v0.75h-0.75zM262.35 573.17h0.75v0.75h-0.75zM263.21 578.45h0.75v0.75h-0.75zM265.21 575.37h0.75v0.75h-0.75zM268.28 578.59h0.75v0.75h-0.75zM267.12 574.86h0.75v0.75h-0.75zM267.16 571.29h0.75v0.75h-0.75zM268.86 575.93h0.75v0.75h-0.75zM266.16 578.25h0.75v0.75h-0.75zM269.1 576.83h0.75v0.75h-0.75zM268.43 573.95h0.75v0.75h-0.75zM269.85 575.28h0.75v0.75h-0.75zM271.36 573.27h0.75v0.75h-0.75zM269.83 575.36h0.75v0.75h-0.75zM266.25 573.33h0.75v0.75h-0.75zM271.7 575.49h0.75v0.75h-0.75zM266.53 578.52h0.75v0.75h-0.75zM267.81 579.86h0.75v0.75h-0.75zM268.16 572.24h0.75v0.75h-0.75zM267.14 574.16h0.75v0.75h-0.75zM269.25 574.47h0.75v0.75h-0.75zM268.44 576.86h0.75v0.75h-0.75zM267.58 573.57h0.75v0.75h-0.75zM266.37 574.06h0.75v0.75h-0.75zM264.2 572.78h0.75v0.75h-0.75zM270.54 580.21h0.75v0.75h-0.75zM264.36 576.72h0.75v0.75h-0.75zM265.58 574.66h0.75v0.75h-0.75zM270.89 580.11h0.75v0.75h-0.75zM269.33 573.67h0.75v0.75h-0.75zM264.83 579.17h0.75v0.75h-0.75zM265.57 575.2h0.75v0.75h-0.75zM269.71 573.09h0.75v0.75h-0.75zM267.02 578.77h0.75v0.75h-0.75zM268.56 572.58h0.75v0.75h-0.75zM268.28 577.92h0.75v0.75h-0.75zM266.79 576.35h0.75v0.75h-0.75zM272.58 578.92h0.75v0.75h-0.75zM261.87 577.27h0.75v0.75h-0.75zM264.75 578.52h0.75v0.75h-0.75zM266.06 574.79h0.75v0.75h-0.75zM264.85 571.06h0.75v0.75h-0.75zM267.34 572.48h0.75v0.75h-0.75zM270.01 577.45h0.75v0.75h-0.75zM273.4 573.79h0.75v0.75h-0.75zM267.02 574.72h0.75v0.75h-0.75zM266 574.67h0.75v0.75h-0.75zM268.6 576.4h0.75v0.75h-0.75zM268.81 574.73h0.75v0.75h-0.75zM271.68 576.75h0.75v0.75h-0.75zM262.35 574.82h0.75v0.75h-0.75zM264.16 576.46h0.75v0.75h-0.75zM266.84 574.83h0.75v0.75h-0.75zM263.02 580.37h0.75v0.75h-0.75zM267.36 579.09h0.75v0.75h-0.75zM267.64 572.81h0.75v0.75h-0.75zM261.91 576.08h0.75v0.75h-0.75zM263.91 578.49h0.75v0.75h-0.75zM270.02 571.63h0.75v0.75h-0.75zM271.27 576.53h0.75v0.75h-0.75zM271.28 579.77h0.75v0.75h-0.75zM265.52 572.59h0.75v0.75h-0.75zM264.76 579.33h0.75v0.75h-0.75zM267.14 577.95h0.75v0.75h-0.75zM264.66 575.3h0.75v0.75h-0.75zM268.1 577.66h0.75v0.75h-0.75zM266.23 578.56h0.75v0.75h-0.75zM264.07 575.66h0.75v0.75h-0.75zM265.93 575.87h0.75v0.75h-0.75zM265.9 574.76h0.75v0.75h-0.75zM264.2 572.35h0.75v0.75h-0.75zM269.4 577.04h0.75v0.75h-0.75zM272.66 573.49h0.75v0.75h-0.75zM269.89 577.19h0.75v0.75h-0.75zM270.03 578.84h0.75v0.75h-0.75zM266.63 573.72h0.75v0.75h-0.75zM270.98 570.42h0.75v0.75h-0.75zM267.08 575.87h0.75v0.75h-0.75zM268.2 579.33h0.75v0.75h-0.75zM268.29 573.56h0.75v0.75h-0.75zM271.79 575.36h0.75v0.75h-0.75zM267.82 580.33h0.75v0.75h-0.75zM266.35 570.85h0.75v0.75h-0.75zM268.86 576.47h0.75v0.75h-0.75zM265.86 574.05h0.75v0.75h-0.75zM269.07 574.71h0.75v0.75h-0.75zM273.47 577.13h0.75v0.75h-0.75zM265.16 578.15h0.75v0.75h-0.75zM265.89 575.8h0.75v0.75h-0.75zM271.21 578.8h0.75v0.75h-0.75zM265.71 574.95h0.75v0.75h-0.75zM264.27 573.51h0.75v0.75h-0.75zM267.8 577.95h0.75v0.75h-0.75zM266.82 576.34h0.75v0.75h-0.75zM272.35 574.42h0.75v0.75h-0.75zM263.76 577.17h0.75v0.75h-0.75zM269.14 576.87h0.75v0.75h-0.75zM274.76 577.81h0.75v0.75h-0.75zM269.17 572.67h0.75v0.75h-0.75zM264.32 578.36h0.75v0.75h-0.75zM264.86 574.56h0.75v0.75h-0.75zM271.66 576.91h0.75v0.75h-0.75zM271.79 574.91h0.75v0.75h-0.75zM269.2 577.11h0.75v0.75h-0.75zM262.52 576.54h0.75v0.75h-0.75zM265.69 572.41h0.75v0.75h-0.75zM265.95 577.45h0.75v0.75h-0.75zM271.26 577.3h0.75v0.75h-0.75zM263.2 578.94h0.75v0.75h-0.75zM272.77 578.02h0.75v0.75h-0.75zM266.72 571.64h0.75v0.75h-0.75zM269.46 573.85h0.75v0.75h-0.75zM269.04 578.29h0.75v0.75h-0.75zM275.93 575.83h0.75v0.75h-0.75zM265.31 575.58h0.75v0.75h-0.75zM268.56 570.26h0.75v0.75h-0.75zM272.54 573.17h0.75v0.75h-0.75zM271.72 578.36h0.75v0.75h-0.75zM269.04 578.83h0.75v0.75h-0.75zM268.73 574.81h0.75v0.75h-0.75zM269.21 576.13h0.75v0.75h-0.75zM270.59 574.84h0.75v0.75h-0.75zM266.85 578.3h0.75v0.75h-0.75zM267.6 573.76h0.75v0.75h-0.75zM264.79 574.4h0.75v0.75h-0.75zM266.34 575.54h0.75v0.75h-0.75zM261.84 573.53h0.75v0.75h-0.75zM264.17 577.09h0.75v0.75h-0.75zM268.25 576.57h0.75v0.75h-0.75zM267.76 574.58h0.75v0.75h-0.75zM269.26 576.46h0.75v0.75h-0.75zM270.38 576.9h0.75v0.75h-0.75zM268.03 576.34h0.75v0.75h-0.75zM269.42 574.07h0.75v0.75h-0.75zM264.34 575.11h0.75v0.75h-0.75zM265.15 576.07h0.75v0.75h-0.75zM266.39 577.46h0.75v0.75h-0.75zM265.66 576.69h0.75v0.75h-0.75zM268.71 573.45h0.75v0.75h-0.75zM271.07 574.4h0.75v0.75h-0.75zM263.41 574.46h0.75v0.75h-0.75zM264.77 573.86h0.75v0.75h-0.75zM267.42 571.17h0.75v0.75h-0.75zM262.48 576.86h0.75v0.75h-0.75zM267.95 576.7h0.75v0.75h-0.75zM269.15 577.19h0.75v0.75h-0.75zM264.69 575.95h0.75v0.75h-0.75zM265.14 575.32h0.75v0.75h-0.75zM270.07 573.13h0.75v0.75h-0.75zM269.18 569.98h0.75v0.75h-0.75zM265.51 580.46h0.75v0.75h-0.75zM275.36 571.66h0.75v0.75h-0.75zM268.32 580.49h0.75v0.75h-0.75zM266.34 578.68h0.75v0.75h-0.75zM266.14 570.53h0.75v0.75h-0.75zM270.1 572.84h0.75v0.75h-0.75zM266.81 577.69h0.75v0.75h-0.75zM265.73 572.56h0.75v0.75h-0.75zM263.4 577.47h0.75v0.75h-0.75zM265.74 577.67h0.75v0.75h-0.75zM268.6 576.91h0.75v0.75h-0.75zM274.91 577.06h0.75v0.75h-0.75zM266.43 576.55h0.75v0.75h-0.75zM266.26 573.27h0.75v0.75h-0.75zM263.08 576.54h0.75v0.75h-0.75zM264.17 572.55h0.75v0.75h-0.75zM266.39 579.49h0.75v0.75h-0.75zM269.53 572.91h0.75v0.75h-0.75zM270.38 575.39h0.75v0.75h-0.75zM267.82 573.35h0.75v0.75h-0.75zM264.57 574.35h0.75v0.75h-0.75zM266.16 578.17h0.75v0.75h-0.75zM268.47 573.95h0.75v0.75h-0.75zM269.49 575.45h0.75v0.75h-0.75zM266.26 573.7h0.75v0.75h-0.75zM265.44 574.26h0.75v0.75h-0.75zM267.99 577.28h0.75v0.75h-0.75zM271.64 575.89h0.75v0.75h-0.75zM265.23 575.8h0.75v0.75h-0.75zM275.02 575.7h0.75v0.75h-0.75zM270.97 573.66h0.75v0.75h-0.75zM268.45 571.05h0.75v0.75h-0.75zM263.62 574.4h0.75v0.75h-0.75zM267.38 577.05h0.75v0.75h-0.75zM268.31 578.44h0.75v0.75h-0.75zM265.51 575.43h0.75v0.75h-0.75zM270.96 573.29h0.75v0.75h-0.75zM263.06 577.66h0.75v0.75h-0.75zM267.43 572.17h0.75v0.75h-0.75zM269.17 580.09h0.75v0.75h-0.75zM267.99 575.58h0.75v0.75h-0.75zM268.58 575.27h0.75v0.75h-0.75zM273.07 578.75h0.75v0.75h-0.75zM266.52 576.41h0.75v0.75h-0.75zM272.43 580.22h0.75v0.75h-0.75zM266.68 573.11h0.75v0.75h-0.75zM264.98 573.83h0.75v0.75h-0.75zM276.27 572.22h0.75v0.75h-0.75zM263.38 576.58h0.75v0.75h-0.75zM268.39 577.37h0.75v0.75h-0.75zM272.31 571.18h0.75v0.75h-0.75zM266.32 574.94h0.75v0.75h-0.75zM265.25 577.24h0.75v0.75h-0.75zM273.53 576.17h0.75v0.75h-0.75zM266.61 574.67h0.75v0.75h-0.75zM266.38 569.69h0.75v0.75h-0.75zM264.47 576.59h0.75v0.75h-0.75zM268.32 576.44h0.75v0.75h-0.75zM272.74 577.55h0.75v0.75h-0.75zM263.26 576.72h0.75v0.75h-0.75zM270.31 571.55h0.75v0.75h-0.75zM268.94 580.47h0.75v0.75h-0.75zM266.33 572.24h0.75v0.75h-0.75zM270.83 576.16h0.75v0.75h-0.75zM270.83 574.75h0.75v0.75h-0.75zM267.3 574.87h0.75v0.75h-0.75zM265.83 576.78h0.75v0.75h-0.75zM263.28 576.66h0.75v0.75h-0.75zM264.65 574.48h0.75v0.75h-0.75zM266.47 575.96h0.75v0.75h-0.75zM267.45 578.87h0.75v0.75h-0.75zM269.62 576.06h0.75v0.75h-0.75zM273.74 578.2h0.75v0.75h-0.75zM263.11 576.57h0.75v0.75h-0.75zM267.18 571.63h0.75v0.75h-0.75zM262.53 574.14h0.75v0.75h-0.75zM270.1 579.71h0.75v0.75h-0.75zM268.72 575.97h0.75v0.75h-0.75zM263.99 569.88h0.75v0.75h-0.75zM272.22 570.8h0.75v0.75h-0.75zM265.77 576.61h0.75v0.75h-0.75zM265.89 579.28h0.75v0.75h-0.75zM270.43 574.98h0.75v0.75h-0.75zM268.89 578.16h0.75v0.75h-0.75zM269.14 575.24h0.75v0.75h-0.75zM268.03 578.75h0.75v0.75h-0.75zM262.76 576.29h0.75v0.75h-0.75zM263.62 577.86h0.75v0.75h-0.75zM269.77 578.26h0.75v0.75h-0.75zM267.06 577.89h0.75v0.75h-0.75zM275.25 573.24h0.75v0.75h-0.75zM271.69 570.89h0.75v0.75h-0.75zM268.87 574.52h0.75v0.75h-0.75zM268.04 573.53h0.75v0.75h-0.75zM269.08 572.21h0.75v0.75h-0.75zM262.93 575.8h0.75v0.75h-0.75zM266.83 575.25h0.75v0.75h-0.75zM268.39 571.97h0.75v0.75h-0.75zM262.43 580.69h0.75v0.75h-0.75zM274.47 574.53h0.75v0.75h-0.75zM275.81 575.19h0.75v0.75h-0.75zM270.16 580.51h0.75v0.75h-0.75zM274.16 572.84h0.75v0.75h-0.75zM265.36 574.03h0.75v0.75h-0.75zM271.22 576.43h0.75v0.75h-0.75zM268.15 574.69h0.75v0.75h-0.75zM271.03 573.59h0.75v0.75h-0.75zM263.56 578h0.75v0.75h-0.75zM270.1 576h0.75v0.75h-0.75zM265.65 576.4h0.75v0.75h-0.75zM265.6 574.14h0.75v0.75h-0.75zM266.12 579.94h0.75v0.75h-0.75zM271.05 577.99h0.75v0.75h-0.75zM266.76 573.41h0.75v0.75h-0.75zM261.88 573.21h0.75v0.75h-0.75zM268.71 573.24h0.75v0.75h-0.75zM270.05 576.28h0.75v0.75h-0.75zM267.48 577.86h0.75v0.75h-0.75zM269.01 572.68h0.75v0.75h-0.75zM268.56 572.54h0.75v0.75h-0.75zM274.42 572.9h0.75v0.75h-0.75zM263.48 575.8h0.75v0.75h-0.75zM273.07 573.29h0.75v0.75h-0.75zM273.46 577.36h0.75v0.75h-0.75zM270.9 572.08h0.75v0.75h-0.75zM268.16 573.65h0.75v0.75h-0.75zM265.24 575.49h0.75v0.75h-0.75zM265.95 576.99h0.75v0.75h-0.75zM273.31 576.45h0.75v0.75h-0.75zM265.81 573.93h0.75v0.75h-0.75zM271.71 572.04h0.75v0.75h-0.75zM264.42 575.47h0.75v0.75h-0.75zM267.13 571.33h0.75v0.75h-0.75zM266.02 570.65h0.75v0.75h-0.75zM267.99 576.93h0.75v0.75h-0.75zM270.33 580.26h0.75v0.75h-0.75zM270.71 575.11h0.75v0.75h-0.75zM269.89 572.42h0.75v0.75h-0.75zM270.73 576.66h0.75v0.75h-0.75zM264.23 571.81h0.75v0.75h-0.75zM263.26 572.14h0.75v0.75h-0.75zM267.41 574.94h0.75v0.75h-0.75zM271.64 572.69h0.75v0.75h-0.75zM275.42 573.95h0.75v0.75h-0.75zM265.68 574.14h0.75v0.75h-0.75zM265.85 576.48h0.75v0.75h-0.75zM267.85 575.22h0.75v0.75h-0.75zM264.51 577.82h0.75v0.75h-0.75zM266.15 574.09h0.75v0.75h-0.75zM268.63 579.04h0.75v0.75h-0.75zM268 578.8h0.75v0.75h-0.75zM265.57 572.19h0.75v0.75h-0.75zM266.38 577.71h0.75v0.75h-0.75zM262.3 573.02h0.75v0.75h-0.75zM261.91 576.22h0.75v0.75h-0.75zM264.76 579.01h0.75v0.75h-0.75zM265.07 576.34h0.75v0.75h-0.75zM265.42 580.15h0.75v0.75h-0.75zM265.38 578.47h0.75v0.75h-0.75zM270.67 574.26h0.75v0.75h-0.75zM267.31 578.97h0.75v0.75h-0.75zM269.12 573.55h0.75v0.75h-0.75zM267.27 576.62h0.75v0.75h-0.75zM269.71 574.15h0.75v0.75h-0.75zM269.22 575.74h0.75v0.75h-0.75zM267.88 572.62h0.75v0.75h-0.75zM262.49 579.23h0.75v0.75h-0.75zM272.59 573.78h0.75v0.75h-0.75zM271.08 575.8h0.75v0.75h-0.75zM272.18 577.68h0.75v0.75h-0.75zM268.78 573.57h0.75v0.75h-0.75zM262.87 578.73h0.75v0.75h-0.75zM268.67 574.85h0.75v0.75h-0.75z"/>
<path fill="#f27a7a" opacity="0.7" d="M268.35 570.28h0.6v0.6h-0.6zM270.08 574.66h0.6v0.6h-0.6zM271.21 572.03h0.6v0.6h-0.6zM281.76 565.86h0.6v0.6h-0.6zM269.01 565.23h0.6v0.6h-0.6zM267.05 572.49h0.6v0.6h-0.6zM269.85 576.84h0.6v0.6h-0.6zM270 564.35h0.6v0.6h-0.6zM270.73 577.44h0.6v0.6h-0.6zM273.72 563.15h0.6v0.6h-0.6zM281.9 573.79h0.6v0.6h-0.6zM262.59 576.2h0.6v0.6h-0.6zM270.75 569.77h0.6v0.6h-0.6zM269.16 576.65h0.6v0.6h-0.6zM259.83 552.16h0.6v0.6h-0.6zM273.66 573.78h0.6v0.6h-0.6zM261.1 572.71h0.6v0.6h-0.6zM256.28 587.99h0.6v0.6h-0.6zM269.41 567.52h0.6v0.6h-0.6zM267.16 574.68h0.6v0.6h-0.6zM256.73 579.84h0.6v0.6h-0.6zM256.39 568.45h0.6v0.6h-0.6zM270.96 577.69h0.6v0.6h-0.6zM277.43 575.61h0.6v0.6h-0.6zM267.74 567.91h0.6v0.6h-0.6z"/>
<rect x="241.3" y="546.9" width="42.1" height="42.8" rx="1.2" fill="none" stroke="#555" stroke-width="0.8"/>
<path d="M241.3 551.66h1.3M241.3 556.41h1.3M241.3 561.17h1.3M241.3 565.92h1.3M241.3 570.68h1.3M241.3 575.43h1.3M241.3 580.19h1.3M241.3 584.94h1.3M245.98 589.7v-1.3M250.66 589.7v-1.3M255.33 589.7v-1.3M260.01 589.7v-1.3M264.69 589.7v-1.3M269.37 589.7v-1.3M274.04 589.7v-1.3M278.72 589.7v-1.3" stroke="#555" stroke-width="0.5" fill="none"/>
<rect x="247.3" y="550" width="8.6" height="14" fill="none" stroke="#333" stroke-width="0.75"/>
<rect x="261.3" y="568.9" width="19.4" height="13.3" fill="none" stroke="#333" stroke-width="0.75"/>
<text x="259.1" y="558.51" font-size="7.8" textLength="12.2" lengthAdjust="spacingAndGlyphs">18.7</text>
<text x="251.6" y="587.41" font-size="7.8" text-anchor="middle" textLength="12.8" lengthAdjust="spacingAndGlyphs">22.8</text>
<path fill="#a0a0a0" d="M299.52 577.47h0.7v0.7h-0.7zM297.62 567.98h0.7v0.7h-0.7zM297.85 575.33h0.7v0.7h-0.7zM298.3 569.81h0.7v0.7h-0.7zM298.03 570.03h0.7v0.7h-0.7zM298.49 577.74h0.7v0.7h-0.7zM298.53 566.35h0.7v0.7h-0.7zM296.8 575.02h0.7v0.7h-0.7zM296.29 574.72h0.7v0.7h-0.7zM298.96 577.5h0.7v0.7h-0.7zM297.46 567.28h0.7v0.7h-0.7zM297.71 569.44h0.7v0.7h-0.7zM297.34 572.5h0.7v0.7h-0.7zM298.36 575.53h0.7v0.7h-0.7zM300 570.62h0.7v0.7h-0.7zM300.29 569.54h0.7v0.7h-0.7zM297.24 576.94h0.7v0.7h-0.7zM297.08 571.9h0.7v0.7h-0.7zM299.55 572.8h0.7v0.7h-0.7zM298.13 573.33h0.7v0.7h-0.7zM298.55 570.99h0.7v0.7h-0.7zM298.42 576.88h0.7v0.7h-0.7zM299.39 571.72h0.7v0.7h-0.7zM297.09 574.74h0.7v0.7h-0.7zM298.99 573.81h0.7v0.7h-0.7zM297.2 576.51h0.7v0.7h-0.7zM296.27 573.31h0.7v0.7h-0.7zM297.79 575.53h0.7v0.7h-0.7zM298.41 577.96h0.7v0.7h-0.7zM298.51 568.78h0.7v0.7h-0.7zM297.99 574.53h0.7v0.7h-0.7zM297.95 573.74h0.7v0.7h-0.7zM297.97 575.35h0.7v0.7h-0.7zM296.18 576.99h0.7v0.7h-0.7zM297.63 570.09h0.7v0.7h-0.7zM298.62 568.23h0.7v0.7h-0.7zM298.19 579.56h0.7v0.7h-0.7zM296.27 574.09h0.7v0.7h-0.7zM298.73 574.4h0.7v0.7h-0.7zM297.36 572.54h0.7v0.7h-0.7zM298.27 576.53h0.7v0.7h-0.7zM297.58 573.74h0.7v0.7h-0.7zM298.96 579.37h0.7v0.7h-0.7zM297.62 573.14h0.7v0.7h-0.7zM298.9 569.3h0.7v0.7h-0.7zM298.95 574.94h0.7v0.7h-0.7zM298.67 574.54h0.7v0.7h-0.7zM297.19 577.66h0.7v0.7h-0.7zM298.9 575.1h0.7v0.7h-0.7zM296.62 573.79h0.7v0.7h-0.7zM297.67 568.35h0.7v0.7h-0.7zM297.33 575.93h0.7v0.7h-0.7zM297.37 572.03h0.7v0.7h-0.7zM297.32 568.77h0.7v0.7h-0.7zM298.54 578.44h0.7v0.7h-0.7zM298.85 572.8h0.7v0.7h-0.7zM298.08 567.78h0.7v0.7h-0.7zM298.41 565.95h0.7v0.7h-0.7zM299.14 573.55h0.7v0.7h-0.7zM297.87 575.54h0.7v0.7h-0.7zM297.53 577.6h0.7v0.7h-0.7zM297.91 577.08h0.7v0.7h-0.7zM296.52 574.93h0.7v0.7h-0.7zM297.87 576.82h0.7v0.7h-0.7zM296.38 570.14h0.7v0.7h-0.7zM298.93 573.52h0.7v0.7h-0.7zM297.81 576.86h0.7v0.7h-0.7zM297.24 572.46h0.7v0.7h-0.7zM296.72 573.78h0.7v0.7h-0.7zM299.19 575.81h0.7v0.7h-0.7z"/>
<path fill="#b8b8b8" opacity="0.8" d="M302.85 574.82h0.6v0.6h-0.6zM297.08 572.02h0.6v0.6h-0.6zM296.16 569.11h0.6v0.6h-0.6zM300.99 574.72h0.6v0.6h-0.6zM300.68 570.74h0.6v0.6h-0.6zM298.79 576.98h0.6v0.6h-0.6zM300.85 575.67h0.6v0.6h-0.6zM296.43 571.99h0.6v0.6h-0.6zM297.72 562.19h0.6v0.6h-0.6zM298.56 573.66h0.6v0.6h-0.6zM297.09 566.99h0.6v0.6h-0.6zM297.93 559.87h0.6v0.6h-0.6zM298.83 571.57h0.6v0.6h-0.6zM302.33 551.87h0.6v0.6h-0.6zM293.04 575.78h0.6v0.6h-0.6zM299.4 573.32h0.6v0.6h-0.6zM307.02 560.08h0.6v0.6h-0.6zM295.42 571.04h0.6v0.6h-0.6zM301.95 567.06h0.6v0.6h-0.6zM298.48 571.29h0.6v0.6h-0.6zM298.84 568.87h0.6v0.6h-0.6zM301.28 566.31h0.6v0.6h-0.6zM300.14 563.05h0.6v0.6h-0.6zM295.91 557.2h0.6v0.6h-0.6zM294.52 565.65h0.6v0.6h-0.6zM298.63 565.62h0.6v0.6h-0.6zM296.64 571.46h0.6v0.6h-0.6zM300.67 562.28h0.6v0.6h-0.6zM300.67 567.08h0.6v0.6h-0.6zM305.29 569.96h0.6v0.6h-0.6zM302.09 559.62h0.6v0.6h-0.6zM302.07 563.17h0.6v0.6h-0.6zM302.73 581.82h0.6v0.6h-0.6zM305.19 572.85h0.6v0.6h-0.6zM302.93 567.37h0.6v0.6h-0.6zM304.17 582.39h0.6v0.6h-0.6zM301.25 567.1h0.6v0.6h-0.6zM299.2 569.41h0.6v0.6h-0.6zM304.34 576.35h0.6v0.6h-0.6zM299.38 560.24h0.6v0.6h-0.6zM299.45 582.97h0.6v0.6h-0.6zM297.19 578.41h0.6v0.6h-0.6zM298.13 566.18h0.6v0.6h-0.6zM305.26 560.93h0.6v0.6h-0.6zM300.26 558.19h0.6v0.6h-0.6z"/>
<path fill="#1c6ae0" d="M298.67 556.19h0.8v0.8h-0.8zM298.2 552.99h0.8v0.8h-0.8zM297.8 558.95h0.8v0.8h-0.8zM296.73 552.09h0.8v0.8h-0.8zM298.78 558.02h0.8v0.8h-0.8zM298.74 558.48h0.8v0.8h-0.8zM295.81 557.25h0.8v0.8h-0.8zM298.81 560.33h0.8v0.8h-0.8zM296.78 555.51h0.8v0.8h-0.8zM297.61 562.09h0.8v0.8h-0.8zM297.63 559.71h0.8v0.8h-0.8zM295.9 559.31h0.8v0.8h-0.8zM297.71 554.68h0.8v0.8h-0.8zM298.29 560.96h0.8v0.8h-0.8zM297.14 558.08h0.8v0.8h-0.8zM297.13 553.75h0.8v0.8h-0.8zM298.6 555.04h0.8v0.8h-0.8zM297.79 555.35h0.8v0.8h-0.8zM298.39 557.87h0.8v0.8h-0.8zM297.13 552.39h0.8v0.8h-0.8zM298.21 558.75h0.8v0.8h-0.8zM298.73 559.14h0.8v0.8h-0.8zM297.28 559.41h0.8v0.8h-0.8zM299.03 555.1h0.8v0.8h-0.8zM297.34 558.18h0.8v0.8h-0.8zM298.16 558.58h0.8v0.8h-0.8zM298.29 560.57h0.8v0.8h-0.8zM299.29 555.77h0.8v0.8h-0.8zM298.28 559.21h0.8v0.8h-0.8zM296.89 556.49h0.8v0.8h-0.8zM297.56 553.8h0.8v0.8h-0.8zM298.26 557.63h0.8v0.8h-0.8zM296.19 556.2h0.8v0.8h-0.8zM296.88 553.84h0.8v0.8h-0.8zM296.93 561.49h0.8v0.8h-0.8zM296.09 553.89h0.8v0.8h-0.8zM297.15 561.14h0.8v0.8h-0.8zM296.27 560.28h0.8v0.8h-0.8zM297.89 556.17h0.8v0.8h-0.8zM298.64 557.23h0.8v0.8h-0.8zM297.68 556.09h0.8v0.8h-0.8zM298.04 559.98h0.8v0.8h-0.8zM297.44 556.28h0.8v0.8h-0.8zM298.01 560.7h0.8v0.8h-0.8zM296.66 558.88h0.8v0.8h-0.8zM298.56 554.17h0.8v0.8h-0.8zM298.13 554.77h0.8v0.8h-0.8zM297.44 554.43h0.8v0.8h-0.8zM297.5 557.17h0.8v0.8h-0.8zM296.91 553.33h0.8v0.8h-0.8zM298.43 560.12h0.8v0.8h-0.8zM297.38 562.33h0.8v0.8h-0.8zM297.03 552.75h0.8v0.8h-0.8zM297.14 560.06h0.8v0.8h-0.8zM297.69 554.77h0.8v0.8h-0.8zM297.67 555.07h0.8v0.8h-0.8zM296.93 559.62h0.8v0.8h-0.8zM297 554.83h0.8v0.8h-0.8zM297.45 556.65h0.8v0.8h-0.8zM298.4 555.56h0.8v0.8h-0.8zM297.52 555.07h0.8v0.8h-0.8zM299.16 559.52h0.8v0.8h-0.8zM298.26 558.69h0.8v0.8h-0.8zM298.18 559.78h0.8v0.8h-0.8zM296.65 557.69h0.8v0.8h-0.8zM297.34 554.13h0.8v0.8h-0.8zM296.91 555.24h0.8v0.8h-0.8zM297.74 558.9h0.8v0.8h-0.8zM297.44 560.65h0.8v0.8h-0.8zM298.32 554.42h0.8v0.8h-0.8zM295.95 557.24h0.8v0.8h-0.8zM298.13 561.36h0.8v0.8h-0.8zM297.32 557.04h0.8v0.8h-0.8zM298.19 560.39h0.8v0.8h-0.8zM297.31 556.73h0.8v0.8h-0.8zM300.25 558.59h0.8v0.8h-0.8zM298.65 553.26h0.8v0.8h-0.8zM297.36 560.6h0.8v0.8h-0.8zM297.66 552.89h0.8v0.8h-0.8zM297.85 556.63h0.8v0.8h-0.8zM297.22 558.17h0.8v0.8h-0.8zM297.03 562.16h0.8v0.8h-0.8zM297.66 555.36h0.8v0.8h-0.8zM297.38 557.04h0.8v0.8h-0.8zM299.45 557.75h0.8v0.8h-0.8zM297.5 561.43h0.8v0.8h-0.8zM296.91 559.94h0.8v0.8h-0.8zM298.61 555.57h0.8v0.8h-0.8zM298.34 559.83h0.8v0.8h-0.8zM299.24 554.13h0.8v0.8h-0.8zM296.55 562.55h0.8v0.8h-0.8zM297.47 559.34h0.8v0.8h-0.8zM297.73 556.27h0.8v0.8h-0.8zM298.04 555.68h0.8v0.8h-0.8zM296.99 553.6h0.8v0.8h-0.8zM297.2 552.91h0.8v0.8h-0.8zM298.5 554.51h0.8v0.8h-0.8zM297.57 554.4h0.8v0.8h-0.8zM297.94 553.23h0.8v0.8h-0.8zM296.51 553.98h0.8v0.8h-0.8zM299.1 552.74h0.8v0.8h-0.8zM296.61 551.74h0.8v0.8h-0.8zM298.13 557.59h0.8v0.8h-0.8zM298.61 558.19h0.8v0.8h-0.8zM297.87 552.59h0.8v0.8h-0.8zM298.03 553.52h0.8v0.8h-0.8zM298.58 557.83h0.8v0.8h-0.8zM299.61 552.25h0.8v0.8h-0.8zM297.66 551.58h0.8v0.8h-0.8zM297 554.87h0.8v0.8h-0.8zM296.62 562.05h0.8v0.8h-0.8zM297.76 556.5h0.8v0.8h-0.8zM297.44 555.89h0.8v0.8h-0.8zM297.55 560.58h0.8v0.8h-0.8zM298.25 555.02h0.8v0.8h-0.8zM297.58 552.39h0.8v0.8h-0.8zM296.83 558.32h0.8v0.8h-0.8zM297.98 554.58h0.8v0.8h-0.8zM298.16 562.18h0.8v0.8h-0.8zM298.19 559.58h0.8v0.8h-0.8zM297.56 554.28h0.8v0.8h-0.8zM297.86 562.08h0.8v0.8h-0.8zM296.56 558.89h0.8v0.8h-0.8zM298 558.35h0.8v0.8h-0.8zM297.5 555.83h0.8v0.8h-0.8zM299.2 557.95h0.8v0.8h-0.8zM297.38 558.41h0.8v0.8h-0.8zM297.74 559.99h0.8v0.8h-0.8zM299.15 559.62h0.8v0.8h-0.8zM297.21 554.83h0.8v0.8h-0.8zM298.5 552.66h0.8v0.8h-0.8zM298.37 556.25h0.8v0.8h-0.8zM297.79 554.15h0.8v0.8h-0.8zM297.21 555.07h0.8v0.8h-0.8zM298.66 556.94h0.8v0.8h-0.8zM297.63 562.26h0.8v0.8h-0.8zM297.27 552.46h0.8v0.8h-0.8zM296.19 557.18h0.8v0.8h-0.8zM298.77 559.97h0.8v0.8h-0.8zM299.16 560.39h0.8v0.8h-0.8zM297.92 556.53h0.8v0.8h-0.8zM297.56 557.25h0.8v0.8h-0.8zM296.8 560.3h0.8v0.8h-0.8zM298.48 557.11h0.8v0.8h-0.8zM296.97 553.71h0.8v0.8h-0.8zM297.67 553.98h0.8v0.8h-0.8zM298.57 562.08h0.8v0.8h-0.8zM297.27 556.87h0.8v0.8h-0.8zM297.99 557.08h0.8v0.8h-0.8zM297.67 558.09h0.8v0.8h-0.8z"/>
<path fill="#f23c3c" d="M313.12 576.95h0.75v0.75h-0.75zM322.92 573.96h0.75v0.75h-0.75zM315.05 576.48h0.75v0.75h-0.75zM315.27 573.45h0.75v0.75h-0.75zM316.26 576.12h0.75v0.75h-0.75zM317.09 573.21h0.75v0.75h-0.75zM311.77 577.95h0.75v0.75h-0.75zM316.91 575.23h0.75v0.75h-0.75zM312.74 574.92h0.75v0.75h-0.75zM311.06 575.27h0.75v0.75h-0.75zM315.02 577.07h0.75v0.75h-0.75zM310.55 573.25h0.75v0.75h-0.75zM308.26 574.83h0.75v0.75h-0.75zM313.16 573.29h0.75v0.75h-0.75zM316.11 578.02h0.75v0.75h-0.75zM317.1 572.3h0.75v0.75h-0.75zM316.57 577.84h0.75v0.75h-0.75zM313.11 575.31h0.75v0.75h-0.75zM313.44 574.53h0.75v0.75h-0.75zM309.12 580.68h0.75v0.75h-0.75zM309.9 575h0.75v0.75h-0.75zM319.05 569.93h0.75v0.75h-0.75zM315.88 579.15h0.75v0.75h-0.75zM312.72 575.11h0.75v0.75h-0.75zM311.63 575.15h0.75v0.75h-0.75zM312.48 576.44h0.75v0.75h-0.75zM313.23 579.82h0.75v0.75h-0.75zM309.68 578.99h0.75v0.75h-0.75zM311.54 576.96h0.75v0.75h-0.75zM315.17 572.93h0.75v0.75h-0.75zM316.1 571.29h0.75v0.75h-0.75zM314.92 575.64h0.75v0.75h-0.75zM316.94 573.68h0.75v0.75h-0.75zM318.82 579.1h0.75v0.75h-0.75zM314.98 573.06h0.75v0.75h-0.75zM310.45 573.86h0.75v0.75h-0.75zM314.93 570.71h0.75v0.75h-0.75zM315.31 574.07h0.75v0.75h-0.75zM312.55 572.43h0.75v0.75h-0.75zM311.43 577.59h0.75v0.75h-0.75zM311.03 574.61h0.75v0.75h-0.75zM310.37 572.99h0.75v0.75h-0.75zM313.38 574.92h0.75v0.75h-0.75zM314.51 572.03h0.75v0.75h-0.75zM310.52 576.51h0.75v0.75h-0.75zM314.87 576.1h0.75v0.75h-0.75zM312.89 571.7h0.75v0.75h-0.75zM319.4 573h0.75v0.75h-0.75zM319.07 573.45h0.75v0.75h-0.75zM314.67 575.51h0.75v0.75h-0.75zM314.26 569.87h0.75v0.75h-0.75zM319.15 577.32h0.75v0.75h-0.75zM318.6 571.44h0.75v0.75h-0.75zM313.17 574.94h0.75v0.75h-0.75zM314.92 574.45h0.75v0.75h-0.75zM321.02 575.23h0.75v0.75h-0.75zM313.9 576.07h0.75v0.75h-0.75zM320.74 571.86h0.75v0.75h-0.75zM314.42 576.07h0.75v0.75h-0.75zM310.06 569.95h0.75v0.75h-0.75zM318.08 575.7h0.75v0.75h-0.75zM314 570.52h0.75v0.75h-0.75zM315.95 575.92h0.75v0.75h-0.75zM319.92 572.54h0.75v0.75h-0.75zM313.11 570.92h0.75v0.75h-0.75zM315.97 580.22h0.75v0.75h-0.75zM313.95 576.93h0.75v0.75h-0.75zM316.64 576.41h0.75v0.75h-0.75zM310.06 572.34h0.75v0.75h-0.75zM316.94 572.48h0.75v0.75h-0.75zM314.11 575.65h0.75v0.75h-0.75zM311.88 578.82h0.75v0.75h-0.75zM314.04 579.49h0.75v0.75h-0.75zM314.71 579.5h0.75v0.75h-0.75zM312.24 573.62h0.75v0.75h-0.75zM313.42 572.49h0.75v0.75h-0.75zM314.22 571.65h0.75v0.75h-0.75zM312.85 578.16h0.75v0.75h-0.75zM315.18 572.77h0.75v0.75h-0.75zM314.97 578.63h0.75v0.75h-0.75zM312.62 576.12h0.75v0.75h-0.75zM313.29 570.61h0.75v0.75h-0.75zM312.85 573.86h0.75v0.75h-0.75zM312.1 579.29h0.75v0.75h-0.75zM314.72 570.76h0.75v0.75h-0.75zM312.87 578.8h0.75v0.75h-0.75zM310.89 578.54h0.75v0.75h-0.75zM319.14 575.87h0.75v0.75h-0.75zM311.35 580.72h0.75v0.75h-0.75zM317.59 572.1h0.75v0.75h-0.75zM310.82 580.37h0.75v0.75h-0.75zM315.88 576.85h0.75v0.75h-0.75zM312.81 579.3h0.75v0.75h-0.75zM314.93 573.74h0.75v0.75h-0.75zM309.37 572.64h0.75v0.75h-0.75zM316.06 574.85h0.75v0.75h-0.75zM315.35 573.95h0.75v0.75h-0.75zM321.5 578.66h0.75v0.75h-0.75zM316.86 570.55h0.75v0.75h-0.75zM315.9 579.15h0.75v0.75h-0.75zM313.84 576.42h0.75v0.75h-0.75zM312.34 577.25h0.75v0.75h-0.75zM313.65 574.24h0.75v0.75h-0.75zM314.51 577.77h0.75v0.75h-0.75zM319.38 576.43h0.75v0.75h-0.75zM313.45 576.95h0.75v0.75h-0.75zM315.35 573.78h0.75v0.75h-0.75zM316.69 575h0.75v0.75h-0.75zM315.5 577.82h0.75v0.75h-0.75zM315.76 574.36h0.75v0.75h-0.75zM314.46 575.11h0.75v0.75h-0.75zM311.9 574.63h0.75v0.75h-0.75zM319 578.14h0.75v0.75h-0.75zM311.32 573.56h0.75v0.75h-0.75zM318.45 575.57h0.75v0.75h-0.75zM314.62 577.97h0.75v0.75h-0.75zM308.68 575.38h0.75v0.75h-0.75zM314.96 578.06h0.75v0.75h-0.75zM308.83 577.95h0.75v0.75h-0.75zM309.73 576.06h0.75v0.75h-0.75zM319.31 573.13h0.75v0.75h-0.75zM322.05 573.89h0.75v0.75h-0.75zM317.19 576.1h0.75v0.75h-0.75zM313.72 575.38h0.75v0.75h-0.75zM313.33 575.42h0.75v0.75h-0.75zM316.38 574.65h0.75v0.75h-0.75zM312.4 578.55h0.75v0.75h-0.75zM319.65 575.76h0.75v0.75h-0.75zM320.71 574.62h0.75v0.75h-0.75zM314.79 577.1h0.75v0.75h-0.75zM318.59 578.05h0.75v0.75h-0.75zM311.85 578.75h0.75v0.75h-0.75zM319.63 578.48h0.75v0.75h-0.75zM315.97 577.53h0.75v0.75h-0.75zM312.25 571.32h0.75v0.75h-0.75zM311.28 576.95h0.75v0.75h-0.75zM318.38 573.83h0.75v0.75h-0.75zM313.31 573.72h0.75v0.75h-0.75zM315.06 576.7h0.75v0.75h-0.75zM319.46 574.07h0.75v0.75h-0.75zM314.19 579.2h0.75v0.75h-0.75zM312.1 577.71h0.75v0.75h-0.75zM313.15 572.42h0.75v0.75h-0.75zM311.95 576.31h0.75v0.75h-0.75zM310.27 578.42h0.75v0.75h-0.75zM315.97 574.77h0.75v0.75h-0.75zM311 573.39h0.75v0.75h-0.75zM314.18 576.06h0.75v0.75h-0.75zM313.81 576.92h0.75v0.75h-0.75zM314.38 573.82h0.75v0.75h-0.75zM312.75 579.47h0.75v0.75h-0.75zM312.56 571.63h0.75v0.75h-0.75zM315.04 575.82h0.75v0.75h-0.75zM319.71 577.88h0.75v0.75h-0.75zM316.55 575.59h0.75v0.75h-0.75zM308.83 574.76h0.75v0.75h-0.75zM314.33 574.35h0.75v0.75h-0.75zM311.88 574.54h0.75v0.75h-0.75zM314.13 575.9h0.75v0.75h-0.75zM313.57 571.75h0.75v0.75h-0.75zM313.39 578.83h0.75v0.75h-0.75zM319.61 578.39h0.75v0.75h-0.75zM313.3 572.62h0.75v0.75h-0.75zM314.77 577.57h0.75v0.75h-0.75zM316.37 575.96h0.75v0.75h-0.75zM323.35 573.74h0.75v0.75h-0.75zM310.4 578h0.75v0.75h-0.75zM319.96 580.09h0.75v0.75h-0.75zM317.16 577.97h0.75v0.75h-0.75zM313.4 578.5h0.75v0.75h-0.75zM319.48 573.22h0.75v0.75h-0.75zM313.96 574.93h0.75v0.75h-0.75zM316.99 571.38h0.75v0.75h-0.75zM311.61 574.23h0.75v0.75h-0.75zM312.37 573.38h0.75v0.75h-0.75zM317.22 574.18h0.75v0.75h-0.75zM310.03 574.48h0.75v0.75h-0.75zM311.93 570.28h0.75v0.75h-0.75zM316.39 577.77h0.75v0.75h-0.75zM309.91 578.69h0.75v0.75h-0.75zM312.06 577.92h0.75v0.75h-0.75zM317.75 574.34h0.75v0.75h-0.75zM310.79 576.24h0.75v0.75h-0.75zM309.43 576.77h0.75v0.75h-0.75zM313.14 575.77h0.75v0.75h-0.75zM320.38 573.11h0.75v0.75h-0.75zM311.14 576.15h0.75v0.75h-0.75zM313.85 579.21h0.75v0.75h-0.75zM312.34 573.76h0.75v0.75h-0.75zM316.11 572.02h0.75v0.75h-0.75zM312.89 578.13h0.75v0.75h-0.75zM309.64 573.73h0.75v0.75h-0.75zM311.05 574.46h0.75v0.75h-0.75zM314.47 573.02h0.75v0.75h-0.75zM317.85 573.27h0.75v0.75h-0.75zM314.71 574.81h0.75v0.75h-0.75zM320.56 572.27h0.75v0.75h-0.75zM313.81 576.92h0.75v0.75h-0.75zM317.99 577.06h0.75v0.75h-0.75zM314.79 575.53h0.75v0.75h-0.75zM312.67 577.11h0.75v0.75h-0.75zM315.14 574.07h0.75v0.75h-0.75zM316.34 575.36h0.75v0.75h-0.75zM310.46 578.94h0.75v0.75h-0.75zM314.46 575.36h0.75v0.75h-0.75zM312.73 576.92h0.75v0.75h-0.75zM312.43 576.88h0.75v0.75h-0.75zM314.31 577.8h0.75v0.75h-0.75zM317.99 573.65h0.75v0.75h-0.75zM321.07 575.16h0.75v0.75h-0.75zM314.87 580.31h0.75v0.75h-0.75zM313.43 579.33h0.75v0.75h-0.75zM320.55 575.08h0.75v0.75h-0.75zM314.17 573.27h0.75v0.75h-0.75zM312.1 580h0.75v0.75h-0.75zM312.97 575.96h0.75v0.75h-0.75zM312.36 575.74h0.75v0.75h-0.75zM312.68 577.21h0.75v0.75h-0.75zM318.62 578.59h0.75v0.75h-0.75zM318 573.72h0.75v0.75h-0.75zM316.34 576.43h0.75v0.75h-0.75zM315.92 573.98h0.75v0.75h-0.75zM318.25 573.98h0.75v0.75h-0.75zM314.84 574.86h0.75v0.75h-0.75zM311.88 574.59h0.75v0.75h-0.75zM310.94 575.66h0.75v0.75h-0.75zM311.33 576.26h0.75v0.75h-0.75zM313.48 571.47h0.75v0.75h-0.75zM317.14 573.85h0.75v0.75h-0.75zM314.97 576.39h0.75v0.75h-0.75zM312.47 576.09h0.75v0.75h-0.75zM317.45 572.1h0.75v0.75h-0.75zM313.88 571.89h0.75v0.75h-0.75zM309.89 576.65h0.75v0.75h-0.75zM309.84 572.33h0.75v0.75h-0.75zM310.39 574.93h0.75v0.75h-0.75zM311.63 572.07h0.75v0.75h-0.75zM311.17 574.98h0.75v0.75h-0.75zM315.82 575.59h0.75v0.75h-0.75zM308.96 573.94h0.75v0.75h-0.75zM316.91 577.2h0.75v0.75h-0.75zM314.62 577.1h0.75v0.75h-0.75zM309.29 575.75h0.75v0.75h-0.75zM314.9 579.24h0.75v0.75h-0.75zM312.55 577.3h0.75v0.75h-0.75zM309.33 570.43h0.75v0.75h-0.75zM317.51 575.28h0.75v0.75h-0.75zM312.34 571.34h0.75v0.75h-0.75zM311.27 573.51h0.75v0.75h-0.75zM317.6 579.12h0.75v0.75h-0.75zM318.61 571.26h0.75v0.75h-0.75zM314.31 576.24h0.75v0.75h-0.75zM318.41 573.69h0.75v0.75h-0.75zM313.25 579.04h0.75v0.75h-0.75zM321.03 574.23h0.75v0.75h-0.75zM314.23 574.17h0.75v0.75h-0.75zM314.35 577.34h0.75v0.75h-0.75zM318.79 576.96h0.75v0.75h-0.75zM321.94 574.5h0.75v0.75h-0.75zM314.55 575.52h0.75v0.75h-0.75zM314.34 575.48h0.75v0.75h-0.75zM313.73 571.7h0.75v0.75h-0.75zM313.13 570.17h0.75v0.75h-0.75zM313.63 575.68h0.75v0.75h-0.75zM316.69 580.66h0.75v0.75h-0.75zM319.29 574.35h0.75v0.75h-0.75zM314.63 575.15h0.75v0.75h-0.75zM310.96 576.63h0.75v0.75h-0.75zM314.16 579.42h0.75v0.75h-0.75zM317.78 573.02h0.75v0.75h-0.75zM311.38 576.5h0.75v0.75h-0.75zM313.19 578.61h0.75v0.75h-0.75zM321.89 570.99h0.75v0.75h-0.75zM312.98 572.71h0.75v0.75h-0.75zM317.87 574.54h0.75v0.75h-0.75zM315.17 575.98h0.75v0.75h-0.75zM310.89 579.03h0.75v0.75h-0.75zM315.54 578.7h0.75v0.75h-0.75zM308.47 578.03h0.75v0.75h-0.75zM315.18 573.34h0.75v0.75h-0.75zM316.58 574.35h0.75v0.75h-0.75zM318.72 574.27h0.75v0.75h-0.75zM311.88 571.25h0.75v0.75h-0.75zM314.82 577.43h0.75v0.75h-0.75zM312.65 576.3h0.75v0.75h-0.75zM315.41 577.95h0.75v0.75h-0.75zM313.89 578.77h0.75v0.75h-0.75zM312.64 577.69h0.75v0.75h-0.75zM311.75 572.3h0.75v0.75h-0.75zM314.85 577.91h0.75v0.75h-0.75zM311.75 576.08h0.75v0.75h-0.75zM311.96 573.67h0.75v0.75h-0.75zM317.44 572.15h0.75v0.75h-0.75zM310.96 573.13h0.75v0.75h-0.75zM318.83 578.97h0.75v0.75h-0.75zM308.63 578.39h0.75v0.75h-0.75zM322.31 570.9h0.75v0.75h-0.75zM309.85 574.03h0.75v0.75h-0.75zM315.11 575.33h0.75v0.75h-0.75zM313.12 575.25h0.75v0.75h-0.75zM314.12 571.93h0.75v0.75h-0.75zM315.45 574.53h0.75v0.75h-0.75zM314.92 574.59h0.75v0.75h-0.75zM314.25 577.75h0.75v0.75h-0.75zM317.55 577.28h0.75v0.75h-0.75zM317.32 578.34h0.75v0.75h-0.75zM314.54 576.1h0.75v0.75h-0.75zM316.44 574.17h0.75v0.75h-0.75zM321.34 577.93h0.75v0.75h-0.75zM317.37 575.02h0.75v0.75h-0.75zM313.17 573.59h0.75v0.75h-0.75zM316.52 575.63h0.75v0.75h-0.75zM320.62 578.53h0.75v0.75h-0.75zM316.98 578.47h0.75v0.75h-0.75zM310.9 577.47h0.75v0.75h-0.75zM311.23 572.84h0.75v0.75h-0.75zM317 571.34h0.75v0.75h-0.75zM316.57 571.67h0.75v0.75h-0.75zM315.87 575.49h0.75v0.75h-0.75zM317.39 578.45h0.75v0.75h-0.75zM313.78 571.94h0.75v0.75h-0.75zM311.06 570.1h0.75v0.75h-0.75zM316.69 575.47h0.75v0.75h-0.75zM312.35 579.12h0.75v0.75h-0.75zM313.64 574.58h0.75v0.75h-0.75zM315.39 573.52h0.75v0.75h-0.75zM318.4 577.15h0.75v0.75h-0.75zM317.93 573.98h0.75v0.75h-0.75zM308.69 574.82h0.75v0.75h-0.75zM316 576.24h0.75v0.75h-0.75zM311.57 573.71h0.75v0.75h-0.75zM315.72 574.76h0.75v0.75h-0.75zM311.31 577.71h0.75v0.75h-0.75zM310.53 576.17h0.75v0.75h-0.75zM312.65 579.67h0.75v0.75h-0.75zM316.56 572.14h0.75v0.75h-0.75zM314.37 574.59h0.75v0.75h-0.75zM309.08 574.68h0.75v0.75h-0.75zM321 576.29h0.75v0.75h-0.75zM317.08 570.9h0.75v0.75h-0.75zM320.26 579.29h0.75v0.75h-0.75zM312.84 575.88h0.75v0.75h-0.75zM310.34 575.6h0.75v0.75h-0.75zM316.82 573.51h0.75v0.75h-0.75zM311.81 574.82h0.75v0.75h-0.75zM314.01 573.94h0.75v0.75h-0.75zM314.76 574.46h0.75v0.75h-0.75zM314.86 572.44h0.75v0.75h-0.75zM317.77 572.96h0.75v0.75h-0.75zM310.37 575.87h0.75v0.75h-0.75zM317.34 575.51h0.75v0.75h-0.75zM308.67 574.84h0.75v0.75h-0.75zM315.94 574.76h0.75v0.75h-0.75zM313.71 573.11h0.75v0.75h-0.75zM309.34 572.27h0.75v0.75h-0.75zM310.14 576.83h0.75v0.75h-0.75zM312.28 578.21h0.75v0.75h-0.75zM310.37 576.41h0.75v0.75h-0.75zM321.37 574.97h0.75v0.75h-0.75zM316.14 573.19h0.75v0.75h-0.75zM322.59 575.03h0.75v0.75h-0.75zM323.3 572.51h0.75v0.75h-0.75zM311.06 573.29h0.75v0.75h-0.75zM313.24 575.91h0.75v0.75h-0.75zM313.15 572.83h0.75v0.75h-0.75zM316.83 573.3h0.75v0.75h-0.75zM316.27 572.47h0.75v0.75h-0.75zM317.63 576.56h0.75v0.75h-0.75zM318.87 571.01h0.75v0.75h-0.75zM311.31 575.79h0.75v0.75h-0.75zM319.08 573.97h0.75v0.75h-0.75zM318.33 574h0.75v0.75h-0.75zM317.1 578.05h0.75v0.75h-0.75zM314.22 571.72h0.75v0.75h-0.75zM311.58 572.07h0.75v0.75h-0.75zM313.11 575.31h0.75v0.75h-0.75zM312.81 572.09h0.75v0.75h-0.75zM313.5 578.03h0.75v0.75h-0.75zM310.89 576.05h0.75v0.75h-0.75zM314.75 572.13h0.75v0.75h-0.75z"/>
<path fill="#f27a7a" opacity="0.7" d="M308.15 567.95h0.6v0.6h-0.6zM306.46 586.11h0.6v0.6h-0.6zM316.01 579.32h0.6v0.6h-0.6zM312.97 570.44h0.6v0.6h-0.6zM315.2 574.68h0.6v0.6h-0.6zM308.53 567.61h0.6v0.6h-0.6zM316.49 573.9h0.6v0.6h-0.6zM320.24 569.69h0.6v0.6h-0.6zM312.01 563.14h0.6v0.6h-0.6zM316.75 576.49h0.6v0.6h-0.6zM309.28 563.51h0.6v0.6h-0.6zM307.3 572.83h0.6v0.6h-0.6zM326.16 568.54h0.6v0.6h-0.6zM311.61 563.39h0.6v0.6h-0.6zM302.37 568.95h0.6v0.6h-0.6zM310.12 572.43h0.6v0.6h-0.6zM314.81 577.84h0.6v0.6h-0.6zM321.6 572.36h0.6v0.6h-0.6zM319.54 570.32h0.6v0.6h-0.6zM310.73 576.77h0.6v0.6h-0.6zM318.54 575.75h0.6v0.6h-0.6zM321.08 564.61h0.6v0.6h-0.6zM311.68 571.91h0.6v0.6h-0.6zM308.74 567.31h0.6v0.6h-0.6zM312.67 558.58h0.6v0.6h-0.6z"/>
<rect x="287.8" y="546.9" width="43.4" height="42.8" rx="1.2" fill="none" stroke="#555" stroke-width="0.8"/>
<path d="M287.8 551.66h1.3M287.8 556.41h1.3M287.8 561.17h1.3M287.8 565.92h1.3M287.8 570.68h1.3M287.8 575.43h1.3M287.8 580.19h1.3M287.8 584.94h1.3M292.62 589.7v-1.3M297.44 589.7v-1.3M302.27 589.7v-1.3M307.09 589.7v-1.3M311.91 589.7v-1.3M316.73 589.7v-1.3M321.56 589.7v-1.3M326.38 589.7v-1.3" stroke="#555" stroke-width="0.5" fill="none"/>
<rect x="293.8" y="550" width="8.6" height="14" fill="none" stroke="#333" stroke-width="0.75"/>
<rect x="307.8" y="568.9" width="19.4" height="13.3" fill="none" stroke="#333" stroke-width="0.75"/>
<text x="305.6" y="558.51" font-size="7.8" textLength="12.2" lengthAdjust="spacingAndGlyphs">19.2</text>
<text x="298.1" y="587.41" font-size="7.8" text-anchor="middle" textLength="12.8" lengthAdjust="spacingAndGlyphs">19.7</text>
<text transform="translate(236.76 512.5) rotate(-90)" font-size="8.5" text-anchor="middle" textLength="23.7" lengthAdjust="spacingAndGlyphs">sgCtrl</text>
<text transform="translate(236.76 564.8) rotate(-90)" font-size="8.5" text-anchor="middle" textLength="33" lengthAdjust="spacingAndGlyphs">sg<tspan font-style="italic">Ifngr1</tspan></text>
<line x1="219.8" y1="555" x2="219.8" y2="494.06" stroke="#231f20" stroke-width="0.9"/>
<path d="M219.8 491.5 L218.3 494.7 L221.3 494.7 Z" fill="#231f20"/>
<text transform="translate(222.56 575.2) rotate(-90)" font-size="8.5" text-anchor="middle" textLength="30.6" lengthAdjust="spacingAndGlyphs">PE CD4</text>
<text x="241.3" y="602.06" font-size="8.5" textLength="48.3" lengthAdjust="spacingAndGlyphs">PE-Cy7 CD8</text>
<line x1="292" y1="599" x2="327.94" y2="599" stroke="#231f20" stroke-width="0.9"/>
<path d="M330.5 599 L327.3 597.5 L327.3 600.5 Z" fill="#231f20"/>
<line x1="377" y1="479.7" x2="377" y2="566.25" stroke="#6a6a6a" stroke-width="0.9"/>
<line x1="376.55" y1="565.8" x2="443.2" y2="565.8" stroke="#6a6a6a" stroke-width="0.9"/>
<line x1="373.7" y1="565.8" x2="377" y2="565.8" stroke="#6a6a6a" stroke-width="0.85"/>
<text x="374.1" y="568.61" font-size="7.8" text-anchor="end">0</text>
<line x1="373.7" y1="548.66" x2="377" y2="548.66" stroke="#6a6a6a" stroke-width="0.85"/>
<text x="374.1" y="551.47" font-size="7.8" text-anchor="end">10</text>
<line x1="373.7" y1="531.52" x2="377" y2="531.52" stroke="#6a6a6a" stroke-width="0.85"/>
<text x="374.1" y="534.33" font-size="7.8" text-anchor="end">20</text>
<line x1="373.7" y1="514.38" x2="377" y2="514.38" stroke="#6a6a6a" stroke-width="0.85"/>
<text x="374.1" y="517.19" font-size="7.8" text-anchor="end">30</text>
<line x1="373.7" y1="497.24" x2="377" y2="497.24" stroke="#6a6a6a" stroke-width="0.85"/>
<text x="374.1" y="500.05" font-size="7.8" text-anchor="end">40</text>
<line x1="373.7" y1="480.1" x2="377" y2="480.1" stroke="#6a6a6a" stroke-width="0.85"/>
<text x="374.1" y="482.91" font-size="7.8" text-anchor="end">50</text>
<circle cx="387.9" cy="515.5" r="2.2" fill="none" stroke="#9a9a9a" stroke-width="0.75"/>
<circle cx="387.9" cy="521.5" r="2.2" fill="none" stroke="#9a9a9a" stroke-width="0.75"/>
<circle cx="384.9" cy="528.8" r="2.2" fill="none" stroke="#9a9a9a" stroke-width="0.75"/>
<circle cx="390.8" cy="531.3" r="2.2" fill="none" stroke="#9a9a9a" stroke-width="0.75"/>
<circle cx="384.9" cy="534.3" r="2.2" fill="none" stroke="#9a9a9a" stroke-width="0.75"/>
<line x1="383" y1="526.2" x2="392.2" y2="526.2" stroke="#333" stroke-width="0.75"/>
<line x1="387.6" y1="524" x2="387.6" y2="528.5" stroke="#333" stroke-width="0.75"/>
<line x1="385.4" y1="524" x2="389.8" y2="524" stroke="#333" stroke-width="0.75"/>
<line x1="385.4" y1="528.5" x2="389.8" y2="528.5" stroke="#333" stroke-width="0.75"/>
<circle cx="402.6" cy="491.9" r="2.2" fill="none" stroke="#2a9a2a" stroke-width="0.75"/>
<circle cx="399.9" cy="509.1" r="2.2" fill="none" stroke="#2a9a2a" stroke-width="0.75"/>
<circle cx="405.6" cy="513.1" r="2.2" fill="none" stroke="#2a9a2a" stroke-width="0.75"/>
<circle cx="399.9" cy="516.3" r="2.2" fill="none" stroke="#2a9a2a" stroke-width="0.75"/>
<circle cx="402.6" cy="511" r="2.2" fill="none" stroke="#2a9a2a" stroke-width="0.75"/>
<line x1="397.8" y1="508.4" x2="407" y2="508.4" stroke="#333" stroke-width="0.75"/>
<line x1="402.4" y1="504.5" x2="402.4" y2="512.6" stroke="#333" stroke-width="0.75"/>
<line x1="400.2" y1="504.5" x2="404.6" y2="504.5" stroke="#333" stroke-width="0.75"/>
<line x1="400.2" y1="512.6" x2="404.6" y2="512.6" stroke="#333" stroke-width="0.75"/>
<circle cx="417.9" cy="516.5" r="2.2" fill="none" stroke="#222" stroke-width="0.75"/>
<circle cx="416.4" cy="522.9" r="2.2" fill="none" stroke="#222" stroke-width="0.75"/>
<circle cx="420.4" cy="523.4" r="2.2" fill="none" stroke="#222" stroke-width="0.75"/>
<circle cx="418.4" cy="525.4" r="2.2" fill="none" stroke="#222" stroke-width="0.75"/>
<circle cx="414.9" cy="526.9" r="2.2" fill="none" stroke="#222" stroke-width="0.75"/>
<line x1="413.1" y1="523.9" x2="422.3" y2="523.9" stroke="#333" stroke-width="0.75"/>
<line x1="417.7" y1="522.5" x2="417.7" y2="525.5" stroke="#333" stroke-width="0.75"/>
<line x1="415.5" y1="522.5" x2="419.9" y2="522.5" stroke="#333" stroke-width="0.75"/>
<line x1="415.5" y1="525.5" x2="419.9" y2="525.5" stroke="#333" stroke-width="0.75"/>
<circle cx="433" cy="519" r="2.2" fill="none" stroke="#f07a2a" stroke-width="0.75"/>
<circle cx="433" cy="526.4" r="2.2" fill="none" stroke="#f07a2a" stroke-width="0.75"/>
<circle cx="429.7" cy="532.3" r="2.2" fill="none" stroke="#f07a2a" stroke-width="0.75"/>
<circle cx="436.1" cy="532.3" r="2.2" fill="none" stroke="#f07a2a" stroke-width="0.75"/>
<circle cx="433" cy="532.3" r="2.2" fill="none" stroke="#f07a2a" stroke-width="0.75"/>
<line x1="428.4" y1="528.3" x2="437.6" y2="528.3" stroke="#333" stroke-width="0.75"/>
<line x1="433" y1="526.4" x2="433" y2="530.3" stroke="#333" stroke-width="0.75"/>
<line x1="430.8" y1="526.4" x2="435.2" y2="526.4" stroke="#333" stroke-width="0.75"/>
<line x1="430.8" y1="530.3" x2="435.2" y2="530.3" stroke="#333" stroke-width="0.75"/>
<line x1="383.4" y1="481.6" x2="421.8" y2="481.6" stroke="#666" stroke-width="0.8"/>
<text x="403" y="480.3" font-size="7" text-anchor="middle" fill="#231f20">n.s.</text>
<line x1="383.4" y1="488.9" x2="401.5" y2="488.9" stroke="#666" stroke-width="0.8"/>
<polygon points="392.5,483.2 393.15,484.61 394.69,484.79 393.55,485.84 393.85,487.36 392.5,486.6 391.15,487.36 391.45,485.84 390.31,484.79 391.85,484.61" fill="#231f20"/>
<line x1="404.7" y1="489.4" x2="438.5" y2="489.4" stroke="#888" stroke-width="0.8"/>
<polygon points="423.15,483.7 423.8,485.11 425.34,485.29 424.2,486.34 424.5,487.86 423.15,487.1 421.8,487.86 422.1,486.34 420.96,485.29 422.5,485.11" fill="#231f20"/>
<polygon points="427.85,483.7 428.5,485.11 430.04,485.29 428.9,486.34 429.2,487.86 427.85,487.1 426.5,487.86 426.8,486.34 425.66,485.29 427.2,485.11" fill="#231f20"/>
<line x1="413.8" y1="513.4" x2="436.5" y2="513.4" stroke="#777" stroke-width="0.8"/>
<text x="424.3" y="512.1" font-size="7" text-anchor="middle" fill="#231f20">n.s.</text>
<text transform="translate(350.2 524.2) rotate(-90)" font-size="8.6" text-anchor="middle" textLength="94.3" lengthAdjust="spacingAndGlyphs">Fraction of CD8<tspan font-size="5.85" dy="-3.61">+</tspan><tspan dy="3.61"> T cells</tspan></text>
<text transform="translate(361.3 525.7) rotate(-90)" font-size="8.6" text-anchor="middle" textLength="76.7" lengthAdjust="spacingAndGlyphs">(% of CD45<tspan font-size="5.85" dy="-3.61">+</tspan><tspan dy="3.61"> cells)</tspan></text>
<circle cx="379" cy="574.6" r="1.35" fill="none" stroke="#9a9a9a" stroke-width="0.7"/>
<text x="383.2" y="577.55" font-size="8.2" textLength="51" lengthAdjust="spacingAndGlyphs">sgCtrl–isotype</text>
<circle cx="379" cy="584.9" r="1.35" fill="none" stroke="#2a9a2a" stroke-width="0.7"/>
<text x="383.2" y="587.85" font-size="8.2" textLength="51.5" lengthAdjust="spacingAndGlyphs">sgCtrl–αPD-L1</text>
<circle cx="379" cy="594.7" r="1.35" fill="none" stroke="#222" stroke-width="0.7"/>
<text x="383.2" y="597.65" font-size="8.2" textLength="55.2" lengthAdjust="spacingAndGlyphs">sg<tspan font-style="italic">Ifngr1</tspan>–isotype</text>
<circle cx="379" cy="605" r="1.35" fill="none" stroke="#f07a2a" stroke-width="0.7"/>
<text x="383.2" y="607.95" font-size="8.2" textLength="55.6" lengthAdjust="spacingAndGlyphs">sg<tspan font-style="italic">Ifngr1</tspan>–αPD-L1</text>
<path d="M452.4 463.8 V471 Q452.4 472.7 455.2 472.6" fill="none" stroke="#000" stroke-width="2.3"/>
<text x="475.5" y="474.06" font-size="8.5" textLength="86.9" lengthAdjust="spacingAndGlyphs">Gated on CD8<tspan font-size="5.78" dy="-3.57">+</tspan><tspan dy="3.57"> T cells</tspan></text>
<line x1="464.5" y1="478.4" x2="571" y2="478.4" stroke="#444" stroke-width="0.75"/>
<text x="499.6" y="489.46" font-size="8.5" text-anchor="middle" textLength="28.6" lengthAdjust="spacingAndGlyphs">Isotype</text>
<text x="545.6" y="489.46" font-size="8.5" text-anchor="middle" textLength="26.2" lengthAdjust="spacingAndGlyphs">αPD-L1</text>
<ellipse cx="500.8" cy="526.7" rx="7" ry="4.4" fill="#7a7a7a" opacity="1" transform="rotate(-6 500.8 526.7)" filter="url(#blur05)"/>
<path fill="#7a7a7a" opacity="0.9" d="M498.35 527.98h0.6v0.6h-0.6zM505.86 531.08h0.6v0.6h-0.6zM494.46 525.06h0.6v0.6h-0.6zM496.4 525.95h0.6v0.6h-0.6zM499.48 522.94h0.6v0.6h-0.6zM501.33 522.35h0.6v0.6h-0.6zM502.71 523.67h0.6v0.6h-0.6zM502.02 527.53h0.6v0.6h-0.6zM499.89 524.83h0.6v0.6h-0.6zM496.78 523.64h0.6v0.6h-0.6zM507.72 527.4h0.6v0.6h-0.6zM509.1 526.63h0.6v0.6h-0.6zM501.96 524.64h0.6v0.6h-0.6zM499 522.15h0.6v0.6h-0.6zM505.34 528.78h0.6v0.6h-0.6zM507.74 529.89h0.6v0.6h-0.6zM495.24 519.84h0.6v0.6h-0.6zM504.15 526.81h0.6v0.6h-0.6zM495.92 524.31h0.6v0.6h-0.6zM504.78 531.17h0.6v0.6h-0.6zM502.39 524.29h0.6v0.6h-0.6zM504.73 529.19h0.6v0.6h-0.6zM495.42 529.16h0.6v0.6h-0.6zM496.19 526.97h0.6v0.6h-0.6zM502.82 526.36h0.6v0.6h-0.6zM493.89 528.24h0.6v0.6h-0.6zM494.35 529.09h0.6v0.6h-0.6zM491.74 525.92h0.6v0.6h-0.6zM498.16 524.65h0.6v0.6h-0.6zM501.6 527.06h0.6v0.6h-0.6zM508.97 526.85h0.6v0.6h-0.6zM505.24 522.66h0.6v0.6h-0.6zM505.67 528.41h0.6v0.6h-0.6zM507.22 529.83h0.6v0.6h-0.6zM496.09 523.08h0.6v0.6h-0.6zM496.83 524.98h0.6v0.6h-0.6zM506.3 520.08h0.6v0.6h-0.6zM501.05 529.28h0.6v0.6h-0.6zM499.39 522.4h0.6v0.6h-0.6zM496.67 528.4h0.6v0.6h-0.6zM503.85 525.6h0.6v0.6h-0.6zM502.49 530.24h0.6v0.6h-0.6zM499.55 532.27h0.6v0.6h-0.6zM496.58 532.36h0.6v0.6h-0.6zM494.37 530.96h0.6v0.6h-0.6zM500.09 521.99h0.6v0.6h-0.6zM501.24 527.92h0.6v0.6h-0.6zM503.21 526.45h0.6v0.6h-0.6zM499.62 525.63h0.6v0.6h-0.6zM501.32 529.85h0.6v0.6h-0.6zM502.88 528.18h0.6v0.6h-0.6zM501.8 530.34h0.6v0.6h-0.6zM512.16 531.61h0.6v0.6h-0.6zM494.69 524.49h0.6v0.6h-0.6zM495.6 525.87h0.6v0.6h-0.6zM509.37 524.4h0.6v0.6h-0.6zM500.9 525.75h0.6v0.6h-0.6zM491.43 523.87h0.6v0.6h-0.6zM496.9 524.27h0.6v0.6h-0.6zM498.77 525.2h0.6v0.6h-0.6z"/>
<rect x="476.7" y="491.2" width="42.2" height="42.8" rx="1.2" fill="none" stroke="#555" stroke-width="0.8"/>
<path d="M476.7 495.96h1.3M476.7 500.71h1.3M476.7 505.47h1.3M476.7 510.22h1.3M476.7 514.98h1.3M476.7 519.73h1.3M476.7 524.49h1.3M476.7 529.24h1.3M481.39 534v-1.3M486.08 534v-1.3M490.77 534v-1.3M495.46 534v-1.3M500.14 534v-1.3M504.83 534v-1.3M509.52 534v-1.3M514.21 534v-1.3" stroke="#555" stroke-width="0.5" fill="none"/>
<rect x="504.4" y="516.1" width="12.2" height="15.5" fill="none" stroke="#4a4a4a" stroke-width="0.8"/>
<text x="509.3" y="514.58" font-size="8" text-anchor="middle" textLength="13.18" lengthAdjust="spacingAndGlyphs">11.6</text>
<ellipse cx="548.2" cy="526.2" rx="8.8" ry="4.8" fill="#16b016" opacity="1" transform="rotate(-6 548.2 526.2)" filter="url(#blur05)"/>
<path fill="#16b016" opacity="0.9" d="M546.03 520.91h0.6v0.6h-0.6zM553.89 526.83h0.6v0.6h-0.6zM543.56 524.79h0.6v0.6h-0.6zM542.16 520.36h0.6v0.6h-0.6zM551.62 524.08h0.6v0.6h-0.6zM554.56 529.99h0.6v0.6h-0.6zM539.74 523.12h0.6v0.6h-0.6zM550.7 523.83h0.6v0.6h-0.6zM543.83 525h0.6v0.6h-0.6zM549.89 521.3h0.6v0.6h-0.6zM548.7 529.33h0.6v0.6h-0.6zM544.49 525.04h0.6v0.6h-0.6zM550.75 528.69h0.6v0.6h-0.6zM553.76 526.81h0.6v0.6h-0.6zM557.12 522.87h0.6v0.6h-0.6zM557.65 526.75h0.6v0.6h-0.6zM545.64 521.54h0.6v0.6h-0.6zM557.02 525.79h0.6v0.6h-0.6zM551.72 530.58h0.6v0.6h-0.6zM545.89 528.68h0.6v0.6h-0.6zM553.57 530.62h0.6v0.6h-0.6zM550.46 531.61h0.6v0.6h-0.6zM544.82 526.08h0.6v0.6h-0.6zM543.84 523.28h0.6v0.6h-0.6zM557.96 525.79h0.6v0.6h-0.6zM547.81 526.56h0.6v0.6h-0.6zM548.3 521.06h0.6v0.6h-0.6zM545.41 527.43h0.6v0.6h-0.6zM540.72 525.98h0.6v0.6h-0.6zM545.23 522.96h0.6v0.6h-0.6zM539.8 524.77h0.6v0.6h-0.6zM549.35 527.5h0.6v0.6h-0.6zM538.9 527.33h0.6v0.6h-0.6zM550.79 520.05h0.6v0.6h-0.6zM540.13 528.49h0.6v0.6h-0.6zM552.32 527.27h0.6v0.6h-0.6zM557.55 527.2h0.6v0.6h-0.6zM555.98 525.04h0.6v0.6h-0.6zM547.68 523.04h0.6v0.6h-0.6zM548.41 524.63h0.6v0.6h-0.6zM544.64 528.26h0.6v0.6h-0.6zM549.95 524.29h0.6v0.6h-0.6zM549.28 526.84h0.6v0.6h-0.6zM550.28 523.48h0.6v0.6h-0.6zM551.6 524.03h0.6v0.6h-0.6zM549.58 524.04h0.6v0.6h-0.6zM559.39 520.05h0.6v0.6h-0.6zM553.58 522.13h0.6v0.6h-0.6zM557.05 520.92h0.6v0.6h-0.6zM552.09 524.92h0.6v0.6h-0.6zM553 521.15h0.6v0.6h-0.6zM546.19 527.58h0.6v0.6h-0.6zM552.65 523.41h0.6v0.6h-0.6zM536.66 525.91h0.6v0.6h-0.6zM543.81 526.56h0.6v0.6h-0.6zM544.93 522.82h0.6v0.6h-0.6zM547.2 530.52h0.6v0.6h-0.6zM551.13 524.29h0.6v0.6h-0.6zM550.91 520.96h0.6v0.6h-0.6zM544.35 526h0.6v0.6h-0.6z"/>
<rect x="521.5" y="491.2" width="43.4" height="42.8" rx="1.2" fill="none" stroke="#555" stroke-width="0.8"/>
<path d="M521.5 495.96h1.3M521.5 500.71h1.3M521.5 505.47h1.3M521.5 510.22h1.3M521.5 514.98h1.3M521.5 519.73h1.3M521.5 524.49h1.3M521.5 529.24h1.3M526.32 534v-1.3M531.14 534v-1.3M535.97 534v-1.3M540.79 534v-1.3M545.61 534v-1.3M550.43 534v-1.3M555.26 534v-1.3M560.08 534v-1.3" stroke="#555" stroke-width="0.5" fill="none"/>
<rect x="550.5" y="516.1" width="11.9" height="15.5" fill="none" stroke="#4a4a4a" stroke-width="0.8"/>
<text x="554.7" y="514.58" font-size="8" text-anchor="middle" textLength="13.7" lengthAdjust="spacingAndGlyphs">23.2</text>
<text x="499.6" y="544.66" font-size="8.5" text-anchor="middle" textLength="28.6" lengthAdjust="spacingAndGlyphs">Isotype</text>
<text x="545.6" y="544.66" font-size="8.5" text-anchor="middle" textLength="26.2" lengthAdjust="spacingAndGlyphs">αPD-L1</text>
<ellipse cx="501.2" cy="582.7" rx="8.4" ry="5.1" fill="#050505" opacity="1" transform="rotate(-6 501.2 582.7)" filter="url(#blur05)"/>
<path fill="#050505" opacity="0.9" d="M498.52 580.43h0.6v0.6h-0.6zM500.75 583.8h0.6v0.6h-0.6zM509.51 572.97h0.6v0.6h-0.6zM499.42 585.6h0.6v0.6h-0.6zM492.42 581.82h0.6v0.6h-0.6zM508.4 581.96h0.6v0.6h-0.6zM490.61 587.39h0.6v0.6h-0.6zM493.86 584.57h0.6v0.6h-0.6zM504.34 582.54h0.6v0.6h-0.6zM499.78 585.44h0.6v0.6h-0.6zM503.72 585.05h0.6v0.6h-0.6zM506.82 583.94h0.6v0.6h-0.6zM510.69 579.92h0.6v0.6h-0.6zM489.69 577.34h0.6v0.6h-0.6zM499.45 578.08h0.6v0.6h-0.6zM498.87 582.96h0.6v0.6h-0.6zM509.1 577.33h0.6v0.6h-0.6zM503.1 577.6h0.6v0.6h-0.6zM505.15 574.54h0.6v0.6h-0.6zM509.54 580.54h0.6v0.6h-0.6zM513.48 581.86h0.6v0.6h-0.6zM495.58 581.52h0.6v0.6h-0.6zM497.28 583.84h0.6v0.6h-0.6zM508.02 582.59h0.6v0.6h-0.6zM499.18 581.67h0.6v0.6h-0.6zM510.48 578.19h0.6v0.6h-0.6zM504.84 579.02h0.6v0.6h-0.6zM496.77 585.21h0.6v0.6h-0.6zM510.24 578.12h0.6v0.6h-0.6zM494.7 582.58h0.6v0.6h-0.6zM499 580.17h0.6v0.6h-0.6zM500.66 584.93h0.6v0.6h-0.6zM498.68 582.7h0.6v0.6h-0.6zM497.84 582.44h0.6v0.6h-0.6zM501.8 581.15h0.6v0.6h-0.6zM501.97 579.91h0.6v0.6h-0.6zM502.52 576.68h0.6v0.6h-0.6zM503.93 581.54h0.6v0.6h-0.6zM503.8 581.92h0.6v0.6h-0.6zM500.56 582.75h0.6v0.6h-0.6zM498.76 582.67h0.6v0.6h-0.6zM489.32 581.09h0.6v0.6h-0.6zM501.91 577.79h0.6v0.6h-0.6zM514.22 586.03h0.6v0.6h-0.6zM503.78 584.22h0.6v0.6h-0.6zM508.85 579.86h0.6v0.6h-0.6zM503.47 585.37h0.6v0.6h-0.6zM497.03 582.17h0.6v0.6h-0.6zM501.46 583.65h0.6v0.6h-0.6zM495.52 582.77h0.6v0.6h-0.6zM497.73 585.67h0.6v0.6h-0.6zM498.25 585.26h0.6v0.6h-0.6zM500.97 580.6h0.6v0.6h-0.6zM505.76 583.84h0.6v0.6h-0.6zM499.81 586.01h0.6v0.6h-0.6zM508.25 575.7h0.6v0.6h-0.6zM504.97 575.44h0.6v0.6h-0.6zM501.78 585.22h0.6v0.6h-0.6zM504.35 583.73h0.6v0.6h-0.6zM500.89 584.75h0.6v0.6h-0.6z"/>
<rect x="476.7" y="548.6" width="42.2" height="41" rx="1.2" fill="none" stroke="#555" stroke-width="0.8"/>
<path d="M476.7 553.16h1.3M476.7 557.71h1.3M476.7 562.27h1.3M476.7 566.82h1.3M476.7 571.38h1.3M476.7 575.93h1.3M476.7 580.49h1.3M476.7 585.04h1.3M481.39 589.6v-1.3M486.08 589.6v-1.3M490.77 589.6v-1.3M495.46 589.6v-1.3M500.14 589.6v-1.3M504.83 589.6v-1.3M509.52 589.6v-1.3M514.21 589.6v-1.3" stroke="#555" stroke-width="0.5" fill="none"/>
<rect x="504.4" y="573.8" width="12.2" height="15.3" fill="none" stroke="#4a4a4a" stroke-width="0.8"/>
<text x="509.3" y="572.58" font-size="8" text-anchor="middle" textLength="13.7" lengthAdjust="spacingAndGlyphs">12.1</text>
<ellipse cx="548.6" cy="582.3" rx="9.2" ry="5.5" fill="#ff7a0a" opacity="1" transform="rotate(-6 548.6 582.3)" filter="url(#blur05)"/>
<path fill="#ff7a0a" opacity="0.9" d="M536.12 582.58h0.6v0.6h-0.6zM538.91 582.01h0.6v0.6h-0.6zM544.22 578.4h0.6v0.6h-0.6zM554.85 579.21h0.6v0.6h-0.6zM544.2 582.38h0.6v0.6h-0.6zM553.4 583.58h0.6v0.6h-0.6zM545.91 583.26h0.6v0.6h-0.6zM549.3 581.7h0.6v0.6h-0.6zM544.41 583.34h0.6v0.6h-0.6zM539.61 586.47h0.6v0.6h-0.6zM553.79 580.64h0.6v0.6h-0.6zM544.73 575.34h0.6v0.6h-0.6zM547.22 585.45h0.6v0.6h-0.6zM538.7 585.66h0.6v0.6h-0.6zM552.18 586.35h0.6v0.6h-0.6zM547.22 581.45h0.6v0.6h-0.6zM543.87 588.23h0.6v0.6h-0.6zM546.78 582.84h0.6v0.6h-0.6zM541.43 583.52h0.6v0.6h-0.6zM542.55 583.29h0.6v0.6h-0.6zM555.92 579.26h0.6v0.6h-0.6zM542.64 583.88h0.6v0.6h-0.6zM548.56 579.46h0.6v0.6h-0.6zM538.84 583.65h0.6v0.6h-0.6zM551.12 582.75h0.6v0.6h-0.6zM556.48 582.74h0.6v0.6h-0.6zM550.39 576.98h0.6v0.6h-0.6zM547.19 581.52h0.6v0.6h-0.6zM544.45 585.29h0.6v0.6h-0.6zM546.3 584.44h0.6v0.6h-0.6zM545.67 584.06h0.6v0.6h-0.6zM555.18 583.18h0.6v0.6h-0.6zM554.33 581.92h0.6v0.6h-0.6zM540.25 586.47h0.6v0.6h-0.6zM546.21 578.56h0.6v0.6h-0.6zM557.26 581.27h0.6v0.6h-0.6zM546.47 577.37h0.6v0.6h-0.6zM554.86 581.07h0.6v0.6h-0.6zM543 585.14h0.6v0.6h-0.6zM554.9 584.25h0.6v0.6h-0.6zM554.39 585.12h0.6v0.6h-0.6zM541.37 579.36h0.6v0.6h-0.6zM552.4 586.53h0.6v0.6h-0.6zM563.42 576.91h0.6v0.6h-0.6zM548.41 579.99h0.6v0.6h-0.6zM548.62 579.85h0.6v0.6h-0.6zM549.73 581.74h0.6v0.6h-0.6zM554.06 581.76h0.6v0.6h-0.6zM561.07 584.64h0.6v0.6h-0.6zM552.17 580.47h0.6v0.6h-0.6zM551.65 579.32h0.6v0.6h-0.6zM549.35 580.28h0.6v0.6h-0.6zM553.9 580.06h0.6v0.6h-0.6zM549.23 585.61h0.6v0.6h-0.6zM549.86 581.84h0.6v0.6h-0.6zM540.83 583.51h0.6v0.6h-0.6zM555.17 581.19h0.6v0.6h-0.6zM546.27 584.5h0.6v0.6h-0.6zM560.93 581.68h0.6v0.6h-0.6zM546.65 579.62h0.6v0.6h-0.6z"/>
<rect x="521.5" y="548.6" width="43.4" height="41" rx="1.2" fill="none" stroke="#555" stroke-width="0.8"/>
<path d="M521.5 553.16h1.3M521.5 557.71h1.3M521.5 562.27h1.3M521.5 566.82h1.3M521.5 571.38h1.3M521.5 575.93h1.3M521.5 580.49h1.3M521.5 585.04h1.3M526.32 589.6v-1.3M531.14 589.6v-1.3M535.97 589.6v-1.3M540.79 589.6v-1.3M545.61 589.6v-1.3M550.43 589.6v-1.3M555.26 589.6v-1.3M560.08 589.6v-1.3" stroke="#555" stroke-width="0.5" fill="none"/>
<rect x="550.5" y="573.8" width="11.9" height="15.3" fill="none" stroke="#4a4a4a" stroke-width="0.8"/>
<text x="554.7" y="572.58" font-size="8" text-anchor="middle" textLength="13.7" lengthAdjust="spacingAndGlyphs">12.2</text>
<text transform="translate(472.36 512) rotate(-90)" font-size="8.5" text-anchor="middle" textLength="24.7" lengthAdjust="spacingAndGlyphs">sgCtrl</text>
<text transform="translate(472.36 569.3) rotate(-90)" font-size="8.5" text-anchor="middle" textLength="32.5" lengthAdjust="spacingAndGlyphs">sg<tspan font-style="italic">Ifngr1</tspan></text>
<line x1="455.5" y1="561.9" x2="455.5" y2="496.06" stroke="#231f20" stroke-width="0.9"/>
<path d="M455.5 493.5 L454 496.7 L457 496.7 Z" fill="#231f20"/>
<text transform="translate(457.36 577.7) rotate(-90)" font-size="8.5" text-anchor="middle" textLength="25.7" lengthAdjust="spacingAndGlyphs">SSC-A</text>
<text x="477.2" y="603.06" font-size="8.5" textLength="43.6" lengthAdjust="spacingAndGlyphs" font-weight="bold">BV711 IFN-γ</text>
<line x1="524.5" y1="600" x2="562.94" y2="600" stroke="#231f20" stroke-width="0.9"/>
<path d="M565.5 600 L562.3 598.5 L562.3 601.5 Z" fill="#231f20"/>
<line x1="618.2" y1="478.4" x2="618.2" y2="566.85" stroke="#6a6a6a" stroke-width="0.9"/>
<line x1="617.75" y1="566.4" x2="684.5" y2="566.4" stroke="#6a6a6a" stroke-width="0.9"/>
<line x1="614.9" y1="566.4" x2="618.2" y2="566.4" stroke="#6a6a6a" stroke-width="0.85"/>
<text x="611.9" y="569.21" font-size="7.8" text-anchor="end">0</text>
<line x1="614.9" y1="544.5" x2="618.2" y2="544.5" stroke="#6a6a6a" stroke-width="0.85"/>
<text x="611.9" y="547.31" font-size="7.8" text-anchor="end">10</text>
<line x1="614.9" y1="522.6" x2="618.2" y2="522.6" stroke="#6a6a6a" stroke-width="0.85"/>
<text x="611.9" y="525.41" font-size="7.8" text-anchor="end">20</text>
<line x1="614.9" y1="500.7" x2="618.2" y2="500.7" stroke="#6a6a6a" stroke-width="0.85"/>
<text x="611.9" y="503.51" font-size="7.8" text-anchor="end">30</text>
<line x1="614.9" y1="478.8" x2="618.2" y2="478.8" stroke="#6a6a6a" stroke-width="0.85"/>
<text x="611.9" y="481.61" font-size="7.8" text-anchor="end">40</text>
<circle cx="625.5" cy="525.5" r="2.1" fill="none" stroke="#9a9a9a" stroke-width="0.75"/>
<circle cx="628.7" cy="529.8" r="2.1" fill="none" stroke="#9a9a9a" stroke-width="0.75"/>
<circle cx="625.5" cy="543.5" r="2.1" fill="none" stroke="#9a9a9a" stroke-width="0.75"/>
<circle cx="631.3" cy="543.5" r="2.1" fill="none" stroke="#9a9a9a" stroke-width="0.75"/>
<circle cx="628.5" cy="539.5" r="2.1" fill="none" stroke="#9a9a9a" stroke-width="0.75"/>
<line x1="623.5" y1="536.4" x2="633.5" y2="536.4" stroke="#333" stroke-width="0.75"/>
<line x1="628.5" y1="533.5" x2="628.5" y2="540.5" stroke="#333" stroke-width="0.75"/>
<line x1="626.3" y1="533.5" x2="630.7" y2="533.5" stroke="#333" stroke-width="0.75"/>
<line x1="626.3" y1="540.5" x2="630.7" y2="540.5" stroke="#333" stroke-width="0.75"/>
<circle cx="643.6" cy="498.7" r="2.1" fill="none" stroke="#2a9a2a" stroke-width="0.75"/>
<circle cx="640.4" cy="515.4" r="2.1" fill="none" stroke="#2a9a2a" stroke-width="0.75"/>
<circle cx="646.6" cy="515.4" r="2.1" fill="none" stroke="#2a9a2a" stroke-width="0.75"/>
<circle cx="643.6" cy="515.9" r="2.1" fill="none" stroke="#2a9a2a" stroke-width="0.75"/>
<circle cx="643.6" cy="521.8" r="2.1" fill="none" stroke="#2a9a2a" stroke-width="0.75"/>
<line x1="638.6" y1="515.2" x2="648.6" y2="515.2" stroke="#333" stroke-width="0.75"/>
<line x1="643.6" y1="509.8" x2="643.6" y2="517" stroke="#333" stroke-width="0.75"/>
<line x1="641.4" y1="509.8" x2="645.8" y2="509.8" stroke="#333" stroke-width="0.75"/>
<line x1="641.4" y1="517" x2="645.8" y2="517" stroke="#333" stroke-width="0.75"/>
<circle cx="655.9" cy="534.6" r="2.1" fill="none" stroke="#222" stroke-width="0.75"/>
<circle cx="661.7" cy="535.7" r="2.1" fill="none" stroke="#222" stroke-width="0.75"/>
<circle cx="655.9" cy="540" r="2.1" fill="none" stroke="#222" stroke-width="0.75"/>
<circle cx="661.7" cy="543.1" r="2.1" fill="none" stroke="#222" stroke-width="0.75"/>
<circle cx="655.9" cy="545.8" r="2.1" fill="none" stroke="#222" stroke-width="0.75"/>
<line x1="653.8" y1="540" x2="663.8" y2="540" stroke="#333" stroke-width="0.75"/>
<line x1="658.8" y1="538.5" x2="658.8" y2="541.5" stroke="#333" stroke-width="0.75"/>
<line x1="656.6" y1="538.5" x2="661" y2="538.5" stroke="#333" stroke-width="0.75"/>
<line x1="656.6" y1="541.5" x2="661" y2="541.5" stroke="#333" stroke-width="0.75"/>
<circle cx="674.3" cy="529.6" r="2.1" fill="none" stroke="#f07a2a" stroke-width="0.75"/>
<circle cx="671.3" cy="535.1" r="2.1" fill="none" stroke="#f07a2a" stroke-width="0.75"/>
<circle cx="677.5" cy="536" r="2.1" fill="none" stroke="#f07a2a" stroke-width="0.75"/>
<circle cx="671.3" cy="540.3" r="2.1" fill="none" stroke="#f07a2a" stroke-width="0.75"/>
<circle cx="675.6" cy="539.9" r="2.1" fill="none" stroke="#f07a2a" stroke-width="0.75"/>
<line x1="669.3" y1="536.2" x2="679.3" y2="536.2" stroke="#333" stroke-width="0.75"/>
<line x1="674.3" y1="535" x2="674.3" y2="537.5" stroke="#333" stroke-width="0.75"/>
<line x1="672.1" y1="535" x2="676.5" y2="535" stroke="#333" stroke-width="0.75"/>
<line x1="672.1" y1="537.5" x2="676.5" y2="537.5" stroke="#333" stroke-width="0.75"/>
<line x1="624.1" y1="483.2" x2="662.7" y2="483.2" stroke="#666" stroke-width="0.8"/>
<text x="643.2" y="481.9" font-size="7" text-anchor="middle" fill="#231f20">n.s.</text>
<line x1="622.4" y1="492.3" x2="645.1" y2="492.3" stroke="#555" stroke-width="0.8"/>
<polygon points="631.05,486.6 631.7,488.01 633.24,488.19 632.1,489.24 632.4,490.76 631.05,490 629.7,490.76 630,489.24 628.86,488.19 630.4,488.01" fill="#231f20"/>
<polygon points="635.75,486.6 636.4,488.01 637.94,488.19 636.8,489.24 637.1,490.76 635.75,490 634.4,490.76 634.7,489.24 633.56,488.19 635.1,488.01" fill="#231f20"/>
<line x1="645.6" y1="497.2" x2="679.9" y2="497.2" stroke="#777" stroke-width="0.8"/>
<polygon points="662.35,491.5 663,492.91 664.54,493.09 663.4,494.14 663.7,495.66 662.35,494.9 661,495.66 661.3,494.14 660.16,493.09 661.7,492.91" fill="#231f20"/>
<polygon points="667.05,491.5 667.7,492.91 669.24,493.09 668.1,494.14 668.4,495.66 667.05,494.9 665.7,495.66 666,494.14 664.86,493.09 666.4,492.91" fill="#231f20"/>
<line x1="656.6" y1="524.1" x2="679.9" y2="524.1" stroke="#777" stroke-width="0.8"/>
<text x="667.6" y="522.8" font-size="7" text-anchor="middle" fill="#231f20">n.s.</text>
<text transform="translate(586.3 524.2) rotate(-90)" font-size="8.6" text-anchor="middle" textLength="99" lengthAdjust="spacingAndGlyphs">Fraction of IFN-γ<tspan font-size="5.85" dy="-3.61">+</tspan><tspan dy="3.61"> T cells</tspan></text>
<text transform="translate(597.3 523.6) rotate(-90)" font-size="8.6" text-anchor="middle" textLength="78.2" lengthAdjust="spacingAndGlyphs">(% of CD8<tspan font-size="5.85" dy="-3.61">+</tspan><tspan dy="3.61"> T cells)</tspan></text>
<circle cx="620" cy="575" r="1.35" fill="none" stroke="#9a9a9a" stroke-width="0.7"/>
<text x="624.2" y="577.95" font-size="8.2" textLength="51" lengthAdjust="spacingAndGlyphs">sgCtrl–isotype</text>
<circle cx="620" cy="585.5" r="1.35" fill="none" stroke="#2a9a2a" stroke-width="0.7"/>
<text x="624.2" y="588.45" font-size="8.2" textLength="51.5" lengthAdjust="spacingAndGlyphs">sgCtrl–αPD-L1</text>
<circle cx="620" cy="595" r="1.35" fill="none" stroke="#222" stroke-width="0.7"/>
<text x="624.2" y="597.95" font-size="8.2" textLength="55.2" lengthAdjust="spacingAndGlyphs">sg<tspan font-style="italic">Ifngr1</tspan>–isotype</text>
<circle cx="620" cy="604.8" r="1.35" fill="none" stroke="#f07a2a" stroke-width="0.7"/>
<text x="624.2" y="607.75" font-size="8.2" textLength="55.6" lengthAdjust="spacingAndGlyphs">sg<tspan font-style="italic">Ifngr1</tspan>–αPD-L1</text></svg></body></html>
